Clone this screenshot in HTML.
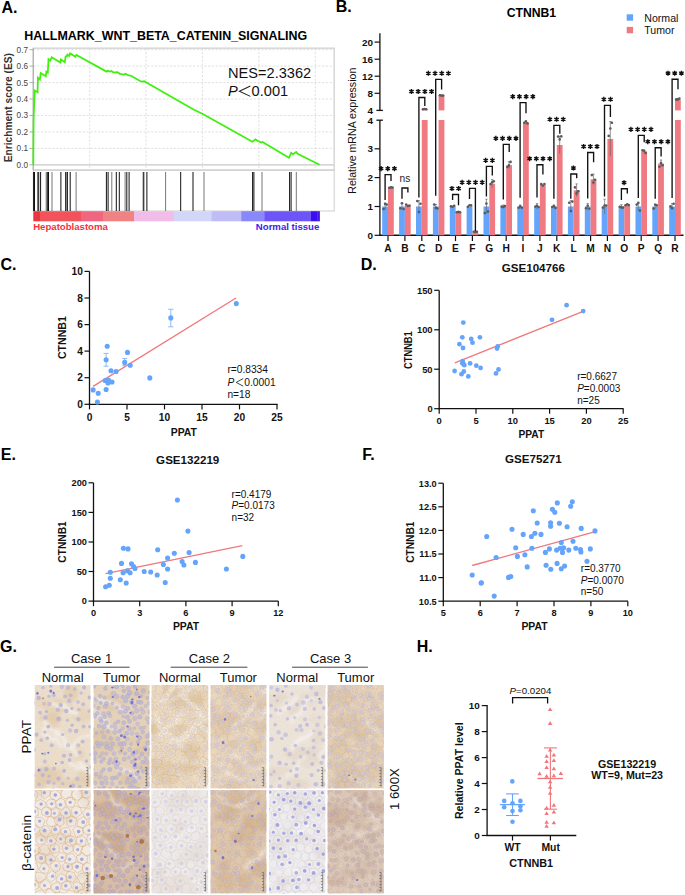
<!DOCTYPE html>
<html><head><meta charset="utf-8"><style>
html,body{margin:0;padding:0;background:#fff;}
body{width:685px;height:895px;overflow:hidden;}
svg{display:block;font-family:"Liberation Sans", sans-serif;}
</style></head><body>
<svg width="685" height="895" viewBox="0 0 685 895">
<rect width="685" height="895" fill="#fff"/>
<text x="1.4" y="12.7" font-size="16" font-weight="bold" text-anchor="start" fill="#000"  >A.</text>
<text x="335.7" y="12.3" font-size="16" font-weight="bold" text-anchor="start" fill="#000"  >B.</text>
<text x="0.5" y="269.6" font-size="16" font-weight="bold" text-anchor="start" fill="#000"  >C.</text>
<text x="360.7" y="269.9" font-size="16" font-weight="bold" text-anchor="start" fill="#000"  >D.</text>
<text x="0.8" y="459.9" font-size="16" font-weight="bold" text-anchor="start" fill="#000"  >E.</text>
<text x="362.3" y="459.9" font-size="16" font-weight="bold" text-anchor="start" fill="#000"  >F.</text>
<text x="0.0" y="651.9" font-size="16" font-weight="bold" text-anchor="start" fill="#000"  >G.</text>
<text x="416.7" y="652.0" font-size="16" font-weight="bold" text-anchor="start" fill="#000"  >H.</text>
<text x="24.3" y="40.2" font-size="12.45" font-weight="bold" text-anchor="start" fill="#000"  >HALLMARK_WNT_BETA_CATENIN_SIGNALING</text>
<line x1="33.3" y1="148.4" x2="334.2" y2="148.4" stroke="#d8d8d8" stroke-width="0.8" stroke-dasharray="2.2,1.6"/>
<line x1="33.3" y1="131.9" x2="334.2" y2="131.9" stroke="#d8d8d8" stroke-width="0.8" stroke-dasharray="2.2,1.6"/>
<line x1="33.3" y1="115.5" x2="334.2" y2="115.5" stroke="#d8d8d8" stroke-width="0.8" stroke-dasharray="2.2,1.6"/>
<line x1="33.3" y1="99.0" x2="334.2" y2="99.0" stroke="#d8d8d8" stroke-width="0.8" stroke-dasharray="2.2,1.6"/>
<line x1="33.3" y1="82.6" x2="334.2" y2="82.6" stroke="#d8d8d8" stroke-width="0.8" stroke-dasharray="2.2,1.6"/>
<line x1="33.3" y1="66.1" x2="334.2" y2="66.1" stroke="#d8d8d8" stroke-width="0.8" stroke-dasharray="2.2,1.6"/>
<line x1="33.3" y1="49.7" x2="334.2" y2="49.7" stroke="#d8d8d8" stroke-width="0.8" stroke-dasharray="2.2,1.6"/>
<line x1="89.7" y1="48.2" x2="89.7" y2="170.1" stroke="#d8d8d8" stroke-width="0.8" stroke-dasharray="2.2,1.6"/>
<line x1="146.1" y1="48.2" x2="146.1" y2="170.1" stroke="#d8d8d8" stroke-width="0.8" stroke-dasharray="2.2,1.6"/>
<line x1="202.5" y1="48.2" x2="202.5" y2="170.1" stroke="#d8d8d8" stroke-width="0.8" stroke-dasharray="2.2,1.6"/>
<line x1="258.9" y1="48.2" x2="258.9" y2="170.1" stroke="#d8d8d8" stroke-width="0.8" stroke-dasharray="2.2,1.6"/>
<line x1="315.3" y1="48.2" x2="315.3" y2="170.1" stroke="#d8d8d8" stroke-width="0.8" stroke-dasharray="2.2,1.6"/>
<line x1="33.3" y1="164.8" x2="334.2" y2="164.8" stroke="#c8c8c8" stroke-width="1.2" />
<rect x="33.3" y="48.2" width="300.9" height="121.9" fill="none" stroke="#d4d4d4" stroke-width="1.4"/>
<line x1="33.3" y1="48.2" x2="33.3" y2="170.1" stroke="#b0b0b0" stroke-width="1.2" />
<line x1="29.5" y1="164.8" x2="33.3" y2="164.8" stroke="#999" stroke-width="0.8" />
<text x="28.0" y="167.7" font-size="8.2" font-weight="normal" text-anchor="end" fill="#444"  >0.0</text>
<line x1="29.5" y1="148.4" x2="33.3" y2="148.4" stroke="#999" stroke-width="0.8" />
<text x="28.0" y="151.3" font-size="8.2" font-weight="normal" text-anchor="end" fill="#444"  >0.1</text>
<line x1="29.5" y1="131.9" x2="33.3" y2="131.9" stroke="#999" stroke-width="0.8" />
<text x="28.0" y="134.8" font-size="8.2" font-weight="normal" text-anchor="end" fill="#444"  >0.2</text>
<line x1="29.5" y1="115.5" x2="33.3" y2="115.5" stroke="#999" stroke-width="0.8" />
<text x="28.0" y="118.4" font-size="8.2" font-weight="normal" text-anchor="end" fill="#444"  >0.3</text>
<line x1="29.5" y1="99.0" x2="33.3" y2="99.0" stroke="#999" stroke-width="0.8" />
<text x="28.0" y="101.9" font-size="8.2" font-weight="normal" text-anchor="end" fill="#444"  >0.4</text>
<line x1="29.5" y1="82.6" x2="33.3" y2="82.6" stroke="#999" stroke-width="0.8" />
<text x="28.0" y="85.5" font-size="8.2" font-weight="normal" text-anchor="end" fill="#444"  >0.5</text>
<line x1="29.5" y1="66.1" x2="33.3" y2="66.1" stroke="#999" stroke-width="0.8" />
<text x="28.0" y="69.0" font-size="8.2" font-weight="normal" text-anchor="end" fill="#444"  >0.6</text>
<line x1="29.5" y1="49.7" x2="33.3" y2="49.7" stroke="#999" stroke-width="0.8" />
<text x="28.0" y="52.6" font-size="8.2" font-weight="normal" text-anchor="end" fill="#444"  >0.7</text>
<text transform="translate(11.7,107.7) rotate(-90)" font-size="10.2" font-weight="bold" text-anchor="middle" fill="#333">Enrichment score (ES)</text>
<polyline fill="none" stroke="#3ef00c" stroke-width="1.75" stroke-linejoin="miter" points="33.3,164.8 33.6,120.0 34.0,108.0 34.4,99.9 34.7,90.5 37.6,92.3 37.9,77.7 39.9,79.5 40.7,73.0 45.8,76.3 46.4,71.6 47.8,72.8 48.5,59.2 50.1,60.8 51.7,57.3 60.4,62.5 60.9,59.6 64.8,62.3 65.6,56.4 66.8,56.2 67.4,54.6 69.1,56.1 70.1,53.4 75.5,56.7 76.4,54.9 106.5,71.6 107.5,70.8 110.0,71.6 111.5,71.0 113.0,72.2 116.0,72.6 117.0,72.0 120.0,73.8 124.0,74.6 125.5,73.8 128.0,75.2 131.5,76.0 140.0,81.0 142.7,81.7 144.2,81.3 146.4,82.6 192.6,109.0 202.8,114.0 252.4,141.8 255.3,139.4 258.0,141.0 261.2,142.6 262.5,142.0 289.0,157.8 291.2,152.8 293.0,154.2 296.2,152.0 297.6,153.8 319.6,164.8"/>
<rect x="33.3" y="170.1" width="300.9" height="40.900000000000006" fill="none" stroke="#cfcfcf" stroke-width="1"/>
<line x1="33.6" y1="172.0" x2="33.6" y2="211.0" stroke="#111" stroke-width="1.0" />
<line x1="34.5" y1="172.0" x2="34.5" y2="211.0" stroke="#111" stroke-width="1.0" />
<line x1="37.5" y1="172.0" x2="37.5" y2="211.0" stroke="#777" stroke-width="1.0" />
<line x1="38.7" y1="172.0" x2="38.7" y2="211.0" stroke="#111" stroke-width="1.0" />
<line x1="40.6" y1="172.0" x2="40.6" y2="211.0" stroke="#111" stroke-width="1.0" />
<line x1="46.2" y1="172.0" x2="46.2" y2="211.0" stroke="#777" stroke-width="1.0" />
<line x1="47.3" y1="172.0" x2="47.3" y2="211.0" stroke="#111" stroke-width="1.0" />
<line x1="48.5" y1="172.0" x2="48.5" y2="211.0" stroke="#111" stroke-width="1.0" />
<line x1="52.0" y1="172.0" x2="52.0" y2="211.0" stroke="#777" stroke-width="1.0" />
<line x1="60.9" y1="172.0" x2="60.9" y2="211.0" stroke="#111" stroke-width="1.0" />
<line x1="65.6" y1="172.0" x2="65.6" y2="211.0" stroke="#111" stroke-width="1.0" />
<line x1="66.3" y1="172.0" x2="66.3" y2="211.0" stroke="#777" stroke-width="1.0" />
<line x1="67.4" y1="172.0" x2="67.4" y2="211.0" stroke="#111" stroke-width="1.0" />
<line x1="70.2" y1="172.0" x2="70.2" y2="211.0" stroke="#111" stroke-width="1.0" />
<line x1="76.1" y1="172.0" x2="76.1" y2="211.0" stroke="#777" stroke-width="1.0" />
<line x1="106.4" y1="172.0" x2="106.4" y2="211.0" stroke="#111" stroke-width="1.0" />
<line x1="108.1" y1="172.0" x2="108.1" y2="211.0" stroke="#111" stroke-width="1.0" />
<line x1="111.8" y1="172.0" x2="111.8" y2="211.0" stroke="#777" stroke-width="1.0" />
<line x1="116.3" y1="172.0" x2="116.3" y2="211.0" stroke="#111" stroke-width="1.0" />
<line x1="119.3" y1="172.0" x2="119.3" y2="211.0" stroke="#111" stroke-width="1.0" />
<line x1="125.1" y1="172.0" x2="125.1" y2="211.0" stroke="#777" stroke-width="1.0" />
<line x1="126.8" y1="172.0" x2="126.8" y2="211.0" stroke="#111" stroke-width="1.0" />
<line x1="129.1" y1="172.0" x2="129.1" y2="211.0" stroke="#111" stroke-width="1.0" />
<line x1="143.1" y1="172.0" x2="143.1" y2="211.0" stroke="#777" stroke-width="1.0" />
<line x1="143.8" y1="172.0" x2="143.8" y2="211.0" stroke="#111" stroke-width="1.0" />
<line x1="146.9" y1="172.0" x2="146.9" y2="211.0" stroke="#111" stroke-width="1.0" />
<line x1="165.6" y1="172.0" x2="165.6" y2="211.0" stroke="#777" stroke-width="1.0" />
<line x1="180.7" y1="172.0" x2="180.7" y2="211.0" stroke="#111" stroke-width="1.0" />
<line x1="193.0" y1="172.0" x2="193.0" y2="211.0" stroke="#111" stroke-width="1.0" />
<line x1="204.0" y1="172.0" x2="204.0" y2="211.0" stroke="#777" stroke-width="1.0" />
<line x1="252.6" y1="172.0" x2="252.6" y2="211.0" stroke="#111" stroke-width="1.0" />
<line x1="253.9" y1="172.0" x2="253.9" y2="211.0" stroke="#111" stroke-width="1.0" />
<line x1="262.0" y1="172.0" x2="262.0" y2="211.0" stroke="#777" stroke-width="1.0" />
<line x1="289.6" y1="172.0" x2="289.6" y2="211.0" stroke="#111" stroke-width="1.0" />
<line x1="291.1" y1="172.0" x2="291.1" y2="211.0" stroke="#111" stroke-width="1.0" />
<line x1="296.3" y1="172.0" x2="296.3" y2="211.0" stroke="#777" stroke-width="1.0" />
<rect x="33.3" y="211.2" width="7.0" height="10.1" fill="#e9363f" />
<rect x="40.0" y="211.2" width="41.2" height="10.1" fill="#f2525a" />
<rect x="80.9" y="211.2" width="22.4" height="10.1" fill="#f0667f" />
<rect x="103.0" y="211.2" width="31.3" height="10.1" fill="#f08284" />
<rect x="134.0" y="211.2" width="40.0" height="10.1" fill="#f2bce8" />
<rect x="173.7" y="211.2" width="38.3" height="10.1" fill="#d2d6f9" />
<rect x="211.7" y="211.2" width="29.8" height="10.1" fill="#c0bcf7" />
<rect x="241.2" y="211.2" width="23.4" height="10.1" fill="#8888fa" />
<rect x="264.3" y="211.2" width="47.0" height="10.1" fill="#6c54f8" />
<rect x="311.0" y="211.2" width="6.8" height="10.1" fill="#3a0ef2" />
<rect x="317.5" y="211.2" width="2.4" height="10.1" fill="#4a1ae0" />
<text x="33.2" y="229.6" font-size="9.6" font-weight="bold" text-anchor="start" fill="#f5323c"  >Hepatoblastoma</text>
<text x="319.3" y="229.6" font-size="9.6" font-weight="bold" text-anchor="end" fill="#3c22ee"  >Normal tissue</text>
<text x="228.0" y="78.3" font-size="14.6" font-weight="normal" text-anchor="start" fill="#111"  >NES=2.3362</text>
<text x="228.0" y="96.2" font-size="14.6" fill="#111" font-style="italic">P</text>
<polyline fill="none" stroke="#222" stroke-width="1.05" points="250.4,86.0 239.4,91.2 250.4,96.4"/>
<text x="251.6" y="96.2" font-size="14.6" fill="#111">0.001</text>
<text x="531.4" y="16.8" font-size="12.2" font-weight="bold" text-anchor="middle" fill="#000"  >CTNNB1</text>
<rect x="626.7" y="14.3" width="6.4" height="6.4" fill="#64a4fb" />
<rect x="626.7" y="26.9" width="6.4" height="6.4" fill="#f07a82" />
<text x="644.3" y="21.5" font-size="10.6" font-weight="normal" text-anchor="start" fill="#111"  >Normal</text>
<text x="644.3" y="34.2" font-size="10.6" font-weight="normal" text-anchor="start" fill="#111"  >Tumor</text>
<line x1="379.9" y1="33.2" x2="379.9" y2="110.5" stroke="#111" stroke-width="1.3" />
<line x1="379.9" y1="120.2" x2="379.9" y2="235.9" stroke="#111" stroke-width="1.3" />
<line x1="376.4" y1="110.4" x2="382.9" y2="110.4" stroke="#111" stroke-width="1.3" />
<line x1="376.4" y1="120.2" x2="382.9" y2="120.2" stroke="#111" stroke-width="1.3" />
<line x1="374.6" y1="42.1" x2="379.9" y2="42.1" stroke="#111" stroke-width="1.2" />
<line x1="374.6" y1="59.2" x2="379.9" y2="59.2" stroke="#111" stroke-width="1.2" />
<line x1="374.6" y1="76.2" x2="379.9" y2="76.2" stroke="#111" stroke-width="1.2" />
<line x1="374.6" y1="93.3" x2="379.9" y2="93.3" stroke="#111" stroke-width="1.2" />
<line x1="374.6" y1="148.8" x2="379.9" y2="148.8" stroke="#111" stroke-width="1.2" />
<line x1="374.6" y1="177.6" x2="379.9" y2="177.6" stroke="#111" stroke-width="1.2" />
<line x1="374.6" y1="206.5" x2="379.9" y2="206.5" stroke="#111" stroke-width="1.2" />
<line x1="374.6" y1="235.3" x2="379.9" y2="235.3" stroke="#111" stroke-width="1.2" />
<text x="373.0" y="45.6" font-size="9.9" font-weight="bold" text-anchor="end" fill="#111"  >20</text>
<text x="373.0" y="62.7" font-size="9.9" font-weight="bold" text-anchor="end" fill="#111"  >16</text>
<text x="373.0" y="79.7" font-size="9.9" font-weight="bold" text-anchor="end" fill="#111"  >12</text>
<text x="373.0" y="96.8" font-size="9.9" font-weight="bold" text-anchor="end" fill="#111"  >8</text>
<text x="373.0" y="113.9" font-size="9.9" font-weight="bold" text-anchor="end" fill="#111"  >4</text>
<text x="373.0" y="123.7" font-size="9.9" font-weight="bold" text-anchor="end" fill="#111"  >4</text>
<text x="373.0" y="152.2" font-size="9.9" font-weight="bold" text-anchor="end" fill="#111"  >3</text>
<text x="373.0" y="181.1" font-size="9.9" font-weight="bold" text-anchor="end" fill="#111"  >2</text>
<text x="373.0" y="210.0" font-size="9.9" font-weight="bold" text-anchor="end" fill="#111"  >1</text>
<text x="373.0" y="238.8" font-size="9.9" font-weight="bold" text-anchor="end" fill="#111"  >0</text>
<text transform="translate(355.6,130.7) rotate(-90)" font-size="10.6" text-anchor="middle" fill="#111">Relative mRNA expression</text>
<line x1="379.9" y1="235.3" x2="683.5" y2="235.3" stroke="#111" stroke-width="1.4" />
<line x1="388.0" y1="235.3" x2="388.0" y2="241.0" stroke="#111" stroke-width="1.2" />
<text x="388.0" y="252.0" font-size="10.2" font-weight="bold" text-anchor="middle" fill="#111"  >A</text>
<rect x="382.2" y="206.5" width="5.8" height="28.8" fill="#64a4fb" />
<rect x="388.0" y="187.4" width="5.8" height="47.9" fill="#f07a82" />
<line x1="385.1" y1="203.0" x2="385.1" y2="209.9" stroke="#666" stroke-width="0.7" />
<line x1="383.9" y1="203.0" x2="386.3" y2="203.0" stroke="#666" stroke-width="0.7" />
<circle cx="383.5" cy="209.0" r="1.3" fill="#5a5a5a" />
<circle cx="385.1" cy="204.0" r="1.3" fill="#5a5a5a" />
<circle cx="386.7" cy="204.6" r="1.3" fill="#5a5a5a" />
<circle cx="389.3" cy="187.8" r="1.3" fill="#5a5a5a" />
<circle cx="390.9" cy="187.4" r="1.3" fill="#5a5a5a" />
<circle cx="392.5" cy="187.5" r="1.3" fill="#5a5a5a" />
<line x1="404.9" y1="235.3" x2="404.9" y2="241.0" stroke="#111" stroke-width="1.2" />
<text x="404.9" y="252.0" font-size="10.2" font-weight="bold" text-anchor="middle" fill="#111"  >B</text>
<rect x="399.1" y="206.5" width="5.8" height="28.8" fill="#64a4fb" />
<rect x="404.9" y="205.0" width="5.8" height="30.3" fill="#f07a82" />
<line x1="402.0" y1="203.0" x2="402.0" y2="209.9" stroke="#666" stroke-width="0.7" />
<line x1="400.8" y1="203.0" x2="403.2" y2="203.0" stroke="#666" stroke-width="0.7" />
<circle cx="400.4" cy="208.3" r="1.3" fill="#5a5a5a" />
<circle cx="402.0" cy="203.2" r="1.3" fill="#5a5a5a" />
<circle cx="403.6" cy="209.0" r="1.3" fill="#5a5a5a" />
<circle cx="406.2" cy="204.5" r="1.3" fill="#5a5a5a" />
<circle cx="407.8" cy="206.0" r="1.3" fill="#5a5a5a" />
<circle cx="409.4" cy="205.6" r="1.3" fill="#5a5a5a" />
<line x1="421.8" y1="235.3" x2="421.8" y2="241.0" stroke="#111" stroke-width="1.2" />
<text x="421.8" y="252.0" font-size="10.2" font-weight="bold" text-anchor="middle" fill="#111"  >C</text>
<rect x="416.0" y="206.5" width="5.8" height="28.8" fill="#64a4fb" />
<rect x="421.8" y="120.0" width="5.8" height="115.3" fill="#f07a82" />
<rect x="421.8" y="109.1" width="5.8" height="1.3" fill="#f07a82" />
<line x1="418.9" y1="200.7" x2="418.9" y2="212.2" stroke="#666" stroke-width="0.7" />
<line x1="417.7" y1="200.7" x2="420.1" y2="200.7" stroke="#666" stroke-width="0.7" />
<circle cx="417.3" cy="201.1" r="1.3" fill="#5a5a5a" />
<circle cx="418.9" cy="212.1" r="1.3" fill="#5a5a5a" />
<circle cx="420.5" cy="203.7" r="1.3" fill="#5a5a5a" />
<circle cx="423.0" cy="109.2" r="1.3" fill="#5a5a5a" />
<circle cx="424.6" cy="109.0" r="1.3" fill="#5a5a5a" />
<circle cx="426.2" cy="109.2" r="1.3" fill="#5a5a5a" />
<line x1="438.6" y1="235.3" x2="438.6" y2="241.0" stroke="#111" stroke-width="1.2" />
<text x="438.6" y="252.0" font-size="10.2" font-weight="bold" text-anchor="middle" fill="#111"  >D</text>
<rect x="432.9" y="206.5" width="5.8" height="28.8" fill="#64a4fb" />
<rect x="438.6" y="120.0" width="5.8" height="115.3" fill="#f07a82" />
<rect x="438.6" y="95.5" width="5.8" height="14.9" fill="#f07a82" />
<line x1="435.8" y1="204.4" x2="435.8" y2="208.5" stroke="#666" stroke-width="0.7" />
<line x1="434.6" y1="204.4" x2="437.0" y2="204.4" stroke="#666" stroke-width="0.7" />
<line x1="441.5" y1="95.2" x2="441.5" y2="95.7" stroke="#666" stroke-width="0.7" />
<line x1="440.3" y1="95.2" x2="442.7" y2="95.2" stroke="#666" stroke-width="0.7" />
<circle cx="434.2" cy="204.6" r="1.3" fill="#5a5a5a" />
<circle cx="435.8" cy="207.9" r="1.3" fill="#5a5a5a" />
<circle cx="437.4" cy="208.4" r="1.3" fill="#5a5a5a" />
<circle cx="439.9" cy="95.2" r="1.3" fill="#5a5a5a" />
<circle cx="441.5" cy="95.6" r="1.3" fill="#5a5a5a" />
<circle cx="443.1" cy="95.6" r="1.3" fill="#5a5a5a" />
<line x1="455.5" y1="235.3" x2="455.5" y2="241.0" stroke="#111" stroke-width="1.2" />
<text x="455.5" y="252.0" font-size="10.2" font-weight="bold" text-anchor="middle" fill="#111"  >E</text>
<rect x="449.8" y="206.5" width="5.8" height="28.8" fill="#64a4fb" />
<rect x="455.5" y="211.9" width="5.8" height="23.4" fill="#f07a82" />
<circle cx="451.0" cy="206.3" r="1.3" fill="#5a5a5a" />
<circle cx="452.6" cy="206.8" r="1.3" fill="#5a5a5a" />
<circle cx="454.2" cy="205.7" r="1.3" fill="#5a5a5a" />
<circle cx="456.8" cy="212.3" r="1.3" fill="#5a5a5a" />
<circle cx="458.4" cy="211.9" r="1.3" fill="#5a5a5a" />
<circle cx="460.0" cy="212.2" r="1.3" fill="#5a5a5a" />
<line x1="472.4" y1="235.3" x2="472.4" y2="241.0" stroke="#111" stroke-width="1.2" />
<text x="472.4" y="252.0" font-size="10.2" font-weight="bold" text-anchor="middle" fill="#111"  >F</text>
<rect x="466.6" y="206.5" width="5.8" height="28.8" fill="#64a4fb" />
<rect x="472.4" y="232.4" width="5.8" height="2.9" fill="#f07a82" />
<circle cx="467.9" cy="206.8" r="1.3" fill="#5a5a5a" />
<circle cx="469.5" cy="205.3" r="1.3" fill="#5a5a5a" />
<circle cx="471.1" cy="205.4" r="1.3" fill="#5a5a5a" />
<circle cx="473.7" cy="231.7" r="1.3" fill="#5a5a5a" />
<circle cx="475.3" cy="231.9" r="1.3" fill="#5a5a5a" />
<circle cx="476.9" cy="231.8" r="1.3" fill="#5a5a5a" />
<line x1="489.3" y1="235.3" x2="489.3" y2="241.0" stroke="#111" stroke-width="1.2" />
<text x="489.3" y="252.0" font-size="10.2" font-weight="bold" text-anchor="middle" fill="#111"  >G</text>
<rect x="483.5" y="206.5" width="5.8" height="28.8" fill="#64a4fb" />
<rect x="489.3" y="183.7" width="5.8" height="51.6" fill="#f07a82" />
<line x1="486.4" y1="199.2" x2="486.4" y2="213.7" stroke="#666" stroke-width="0.7" />
<line x1="485.2" y1="199.2" x2="487.6" y2="199.2" stroke="#666" stroke-width="0.7" />
<line x1="492.2" y1="179.6" x2="492.2" y2="187.7" stroke="#666" stroke-width="0.7" />
<line x1="491.0" y1="179.6" x2="493.4" y2="179.6" stroke="#666" stroke-width="0.7" />
<circle cx="484.8" cy="213.1" r="1.3" fill="#5a5a5a" />
<circle cx="486.4" cy="203.6" r="1.3" fill="#5a5a5a" />
<circle cx="488.0" cy="211.6" r="1.3" fill="#5a5a5a" />
<circle cx="490.6" cy="184.0" r="1.3" fill="#5a5a5a" />
<circle cx="492.2" cy="182.3" r="1.3" fill="#5a5a5a" />
<circle cx="493.8" cy="181.3" r="1.3" fill="#5a5a5a" />
<line x1="506.2" y1="235.3" x2="506.2" y2="241.0" stroke="#111" stroke-width="1.2" />
<text x="506.2" y="252.0" font-size="10.2" font-weight="bold" text-anchor="middle" fill="#111"  >H</text>
<rect x="500.4" y="206.5" width="5.8" height="28.8" fill="#64a4fb" />
<rect x="506.2" y="165.2" width="5.8" height="70.1" fill="#f07a82" />
<line x1="503.3" y1="205.0" x2="503.3" y2="207.9" stroke="#666" stroke-width="0.7" />
<line x1="502.1" y1="205.0" x2="504.5" y2="205.0" stroke="#666" stroke-width="0.7" />
<line x1="509.0" y1="161.7" x2="509.0" y2="168.7" stroke="#666" stroke-width="0.7" />
<line x1="507.8" y1="161.7" x2="510.2" y2="161.7" stroke="#666" stroke-width="0.7" />
<circle cx="501.7" cy="206.5" r="1.3" fill="#5a5a5a" />
<circle cx="503.3" cy="207.1" r="1.3" fill="#5a5a5a" />
<circle cx="504.9" cy="206.1" r="1.3" fill="#5a5a5a" />
<circle cx="507.4" cy="167.0" r="1.3" fill="#5a5a5a" />
<circle cx="509.0" cy="165.4" r="1.3" fill="#5a5a5a" />
<circle cx="510.6" cy="161.9" r="1.3" fill="#5a5a5a" />
<line x1="523.0" y1="235.3" x2="523.0" y2="241.0" stroke="#111" stroke-width="1.2" />
<text x="523.0" y="252.0" font-size="10.2" font-weight="bold" text-anchor="middle" fill="#111"  >I</text>
<rect x="517.3" y="206.5" width="5.8" height="28.8" fill="#64a4fb" />
<rect x="523.0" y="122.8" width="5.8" height="112.5" fill="#f07a82" />
<line x1="520.2" y1="205.0" x2="520.2" y2="207.9" stroke="#666" stroke-width="0.7" />
<line x1="519.0" y1="205.0" x2="521.4" y2="205.0" stroke="#666" stroke-width="0.7" />
<line x1="525.9" y1="121.3" x2="525.9" y2="124.2" stroke="#666" stroke-width="0.7" />
<line x1="524.7" y1="121.3" x2="527.1" y2="121.3" stroke="#666" stroke-width="0.7" />
<circle cx="518.6" cy="207.8" r="1.3" fill="#5a5a5a" />
<circle cx="520.2" cy="206.2" r="1.3" fill="#5a5a5a" />
<circle cx="521.8" cy="207.8" r="1.3" fill="#5a5a5a" />
<circle cx="524.3" cy="122.7" r="1.3" fill="#5a5a5a" />
<circle cx="525.9" cy="121.4" r="1.3" fill="#5a5a5a" />
<circle cx="527.5" cy="123.4" r="1.3" fill="#5a5a5a" />
<line x1="539.9" y1="235.3" x2="539.9" y2="241.0" stroke="#111" stroke-width="1.2" />
<text x="539.9" y="252.0" font-size="10.2" font-weight="bold" text-anchor="middle" fill="#111"  >J</text>
<rect x="534.2" y="206.5" width="5.8" height="28.8" fill="#64a4fb" />
<rect x="539.9" y="184.8" width="5.8" height="50.5" fill="#f07a82" />
<line x1="537.0" y1="203.6" x2="537.0" y2="209.3" stroke="#666" stroke-width="0.7" />
<line x1="535.8" y1="203.6" x2="538.2" y2="203.6" stroke="#666" stroke-width="0.7" />
<circle cx="535.4" cy="206.6" r="1.3" fill="#5a5a5a" />
<circle cx="537.0" cy="205.7" r="1.3" fill="#5a5a5a" />
<circle cx="538.6" cy="207.0" r="1.3" fill="#5a5a5a" />
<circle cx="541.2" cy="184.1" r="1.3" fill="#5a5a5a" />
<circle cx="542.8" cy="185.6" r="1.3" fill="#5a5a5a" />
<circle cx="544.4" cy="184.0" r="1.3" fill="#5a5a5a" />
<line x1="556.8" y1="235.3" x2="556.8" y2="241.0" stroke="#111" stroke-width="1.2" />
<text x="556.8" y="252.0" font-size="10.2" font-weight="bold" text-anchor="middle" fill="#111"  >K</text>
<rect x="551.0" y="206.5" width="5.8" height="28.8" fill="#64a4fb" />
<rect x="556.8" y="145.0" width="5.8" height="90.3" fill="#f07a82" />
<line x1="553.9" y1="205.0" x2="553.9" y2="207.9" stroke="#666" stroke-width="0.7" />
<line x1="552.7" y1="205.0" x2="555.1" y2="205.0" stroke="#666" stroke-width="0.7" />
<line x1="559.7" y1="136.3" x2="559.7" y2="153.7" stroke="#666" stroke-width="0.7" />
<line x1="558.5" y1="136.3" x2="560.9" y2="136.3" stroke="#666" stroke-width="0.7" />
<circle cx="552.3" cy="207.0" r="1.3" fill="#5a5a5a" />
<circle cx="553.9" cy="206.1" r="1.3" fill="#5a5a5a" />
<circle cx="555.5" cy="207.9" r="1.3" fill="#5a5a5a" />
<circle cx="558.1" cy="136.6" r="1.3" fill="#5a5a5a" />
<circle cx="559.7" cy="139.4" r="1.3" fill="#5a5a5a" />
<circle cx="561.3" cy="136.4" r="1.3" fill="#5a5a5a" />
<line x1="573.7" y1="235.3" x2="573.7" y2="241.0" stroke="#111" stroke-width="1.2" />
<text x="573.7" y="252.0" font-size="10.2" font-weight="bold" text-anchor="middle" fill="#111"  >L</text>
<rect x="567.9" y="206.5" width="5.8" height="28.8" fill="#64a4fb" />
<rect x="573.7" y="190.3" width="5.8" height="45.0" fill="#f07a82" />
<line x1="570.8" y1="200.7" x2="570.8" y2="212.2" stroke="#666" stroke-width="0.7" />
<line x1="569.6" y1="200.7" x2="572.0" y2="200.7" stroke="#666" stroke-width="0.7" />
<line x1="576.6" y1="183.9" x2="576.6" y2="196.6" stroke="#666" stroke-width="0.7" />
<line x1="575.4" y1="183.9" x2="577.8" y2="183.9" stroke="#666" stroke-width="0.7" />
<circle cx="569.2" cy="202.8" r="1.3" fill="#5a5a5a" />
<circle cx="570.8" cy="211.1" r="1.3" fill="#5a5a5a" />
<circle cx="572.4" cy="201.6" r="1.3" fill="#5a5a5a" />
<circle cx="575.0" cy="187.4" r="1.3" fill="#5a5a5a" />
<circle cx="576.6" cy="193.4" r="1.3" fill="#5a5a5a" />
<circle cx="578.2" cy="191.2" r="1.3" fill="#5a5a5a" />
<line x1="590.6" y1="235.3" x2="590.6" y2="241.0" stroke="#111" stroke-width="1.2" />
<text x="590.6" y="252.0" font-size="10.2" font-weight="bold" text-anchor="middle" fill="#111"  >M</text>
<rect x="584.8" y="206.5" width="5.8" height="28.8" fill="#64a4fb" />
<rect x="590.6" y="179.3" width="5.8" height="56.0" fill="#f07a82" />
<line x1="587.7" y1="203.6" x2="587.7" y2="209.3" stroke="#666" stroke-width="0.7" />
<line x1="586.5" y1="203.6" x2="588.9" y2="203.6" stroke="#666" stroke-width="0.7" />
<line x1="593.4" y1="174.1" x2="593.4" y2="184.5" stroke="#666" stroke-width="0.7" />
<line x1="592.2" y1="174.1" x2="594.6" y2="174.1" stroke="#666" stroke-width="0.7" />
<circle cx="586.1" cy="208.2" r="1.3" fill="#5a5a5a" />
<circle cx="587.7" cy="205.8" r="1.3" fill="#5a5a5a" />
<circle cx="589.3" cy="208.7" r="1.3" fill="#5a5a5a" />
<circle cx="591.8" cy="175.1" r="1.3" fill="#5a5a5a" />
<circle cx="593.4" cy="182.5" r="1.3" fill="#5a5a5a" />
<circle cx="595.0" cy="179.7" r="1.3" fill="#5a5a5a" />
<line x1="607.4" y1="235.3" x2="607.4" y2="241.0" stroke="#111" stroke-width="1.2" />
<text x="607.4" y="252.0" font-size="10.2" font-weight="bold" text-anchor="middle" fill="#111"  >N</text>
<rect x="601.7" y="206.5" width="5.8" height="28.8" fill="#64a4fb" />
<rect x="607.4" y="138.9" width="5.8" height="96.4" fill="#f07a82" />
<line x1="604.6" y1="199.2" x2="604.6" y2="213.7" stroke="#666" stroke-width="0.7" />
<line x1="603.4" y1="199.2" x2="605.8" y2="199.2" stroke="#666" stroke-width="0.7" />
<line x1="610.3" y1="121.6" x2="610.3" y2="156.3" stroke="#666" stroke-width="0.7" />
<line x1="609.1" y1="121.6" x2="611.5" y2="121.6" stroke="#666" stroke-width="0.7" />
<circle cx="603.0" cy="207.6" r="1.3" fill="#5a5a5a" />
<circle cx="604.6" cy="205.5" r="1.3" fill="#5a5a5a" />
<circle cx="606.2" cy="205.6" r="1.3" fill="#5a5a5a" />
<circle cx="608.7" cy="135.9" r="1.3" fill="#5a5a5a" />
<circle cx="610.3" cy="128.5" r="1.3" fill="#5a5a5a" />
<circle cx="611.9" cy="122.8" r="1.3" fill="#5a5a5a" />
<line x1="624.3" y1="235.3" x2="624.3" y2="241.0" stroke="#111" stroke-width="1.2" />
<text x="624.3" y="252.0" font-size="10.2" font-weight="bold" text-anchor="middle" fill="#111"  >O</text>
<rect x="618.6" y="206.5" width="5.8" height="28.8" fill="#64a4fb" />
<rect x="624.3" y="204.7" width="5.8" height="30.6" fill="#f07a82" />
<line x1="621.4" y1="204.7" x2="621.4" y2="208.2" stroke="#666" stroke-width="0.7" />
<line x1="620.2" y1="204.7" x2="622.6" y2="204.7" stroke="#666" stroke-width="0.7" />
<circle cx="619.8" cy="206.8" r="1.3" fill="#5a5a5a" />
<circle cx="621.4" cy="207.5" r="1.3" fill="#5a5a5a" />
<circle cx="623.0" cy="207.6" r="1.3" fill="#5a5a5a" />
<circle cx="625.6" cy="205.2" r="1.3" fill="#5a5a5a" />
<circle cx="627.2" cy="204.3" r="1.3" fill="#5a5a5a" />
<circle cx="628.8" cy="205.1" r="1.3" fill="#5a5a5a" />
<line x1="641.2" y1="235.3" x2="641.2" y2="241.0" stroke="#111" stroke-width="1.2" />
<text x="641.2" y="252.0" font-size="10.2" font-weight="bold" text-anchor="middle" fill="#111"  >P</text>
<rect x="635.5" y="206.5" width="5.8" height="28.8" fill="#64a4fb" />
<rect x="641.2" y="151.6" width="5.8" height="83.7" fill="#f07a82" />
<line x1="638.3" y1="202.1" x2="638.3" y2="210.8" stroke="#666" stroke-width="0.7" />
<line x1="637.1" y1="202.1" x2="639.5" y2="202.1" stroke="#666" stroke-width="0.7" />
<line x1="644.1" y1="150.2" x2="644.1" y2="153.1" stroke="#666" stroke-width="0.7" />
<line x1="642.9" y1="150.2" x2="645.3" y2="150.2" stroke="#666" stroke-width="0.7" />
<circle cx="636.7" cy="204.6" r="1.3" fill="#5a5a5a" />
<circle cx="638.3" cy="203.0" r="1.3" fill="#5a5a5a" />
<circle cx="639.9" cy="210.6" r="1.3" fill="#5a5a5a" />
<circle cx="642.5" cy="150.4" r="1.3" fill="#5a5a5a" />
<circle cx="644.1" cy="150.7" r="1.3" fill="#5a5a5a" />
<circle cx="645.7" cy="152.9" r="1.3" fill="#5a5a5a" />
<line x1="658.1" y1="235.3" x2="658.1" y2="241.0" stroke="#111" stroke-width="1.2" />
<text x="658.1" y="252.0" font-size="10.2" font-weight="bold" text-anchor="middle" fill="#111"  >Q</text>
<rect x="652.3" y="206.5" width="5.8" height="28.8" fill="#64a4fb" />
<rect x="658.1" y="163.5" width="5.8" height="71.8" fill="#f07a82" />
<line x1="655.2" y1="204.1" x2="655.2" y2="208.8" stroke="#666" stroke-width="0.7" />
<line x1="654.0" y1="204.1" x2="656.4" y2="204.1" stroke="#666" stroke-width="0.7" />
<line x1="661.0" y1="160.0" x2="661.0" y2="166.9" stroke="#666" stroke-width="0.7" />
<line x1="659.8" y1="160.0" x2="662.2" y2="160.0" stroke="#666" stroke-width="0.7" />
<circle cx="653.6" cy="208.6" r="1.3" fill="#5a5a5a" />
<circle cx="655.2" cy="204.8" r="1.3" fill="#5a5a5a" />
<circle cx="656.8" cy="205.4" r="1.3" fill="#5a5a5a" />
<circle cx="659.4" cy="166.8" r="1.3" fill="#5a5a5a" />
<circle cx="661.0" cy="163.1" r="1.3" fill="#5a5a5a" />
<circle cx="662.6" cy="165.3" r="1.3" fill="#5a5a5a" />
<line x1="675.0" y1="235.3" x2="675.0" y2="241.0" stroke="#111" stroke-width="1.2" />
<text x="675.0" y="252.0" font-size="10.2" font-weight="bold" text-anchor="middle" fill="#111"  >R</text>
<rect x="669.2" y="206.5" width="5.8" height="28.8" fill="#64a4fb" />
<rect x="675.0" y="120.0" width="5.8" height="115.3" fill="#f07a82" />
<rect x="675.0" y="99.7" width="5.8" height="10.7" fill="#f07a82" />
<line x1="672.1" y1="203.6" x2="672.1" y2="209.3" stroke="#666" stroke-width="0.7" />
<line x1="670.9" y1="203.6" x2="673.3" y2="203.6" stroke="#666" stroke-width="0.7" />
<line x1="677.8" y1="98.4" x2="677.8" y2="101.0" stroke="#666" stroke-width="0.7" />
<line x1="676.6" y1="98.4" x2="679.0" y2="98.4" stroke="#666" stroke-width="0.7" />
<circle cx="670.5" cy="206.4" r="1.3" fill="#5a5a5a" />
<circle cx="672.1" cy="208.2" r="1.3" fill="#5a5a5a" />
<circle cx="673.7" cy="203.8" r="1.3" fill="#5a5a5a" />
<circle cx="676.2" cy="99.4" r="1.3" fill="#5a5a5a" />
<circle cx="677.8" cy="99.5" r="1.3" fill="#5a5a5a" />
<circle cx="679.4" cy="98.6" r="1.3" fill="#5a5a5a" />
<polyline fill="none" stroke="#111" stroke-width="1.35" points="385.1,199.9 385.1,174.6 391.0,174.6 391.0,180.9"/>
<path d="M381.05,166.05L381.05,171.15M378.84,167.32L383.26,169.88M378.84,169.88L383.26,167.32M387.75,166.05L387.75,171.15M385.54,167.32L389.96,169.88M385.54,169.88L389.96,167.32M394.45,166.05L394.45,171.15M392.24,167.32L396.66,169.88M392.24,169.88L396.66,167.32" stroke="#111" stroke-width="1.4" fill="none"/>
<polyline fill="none" stroke="#111" stroke-width="1.35" points="402.0,198.8 402.0,188.0 407.9,188.0 407.9,192.5"/>
<text x="404.9" y="181.9" font-size="10.2" font-weight="normal" text-anchor="middle" fill="#222"  >ns</text>
<polyline fill="none" stroke="#111" stroke-width="1.35" points="418.9,197.5 418.9,97.5 424.8,97.5 424.8,106.0"/>
<path d="M411.46,88.95L411.46,94.05M409.25,90.22L413.67,92.78M409.25,92.78L413.67,90.22M418.16,88.95L418.16,94.05M415.95,90.22L420.37,92.78M415.95,92.78L420.37,90.22M424.86,88.95L424.86,94.05M422.65,90.22L427.07,92.78M422.65,92.78L427.07,90.22M431.56,88.95L431.56,94.05M429.35,90.22L433.77,92.78M429.35,92.78L433.77,90.22" stroke="#111" stroke-width="1.4" fill="none"/>
<polyline fill="none" stroke="#111" stroke-width="1.35" points="435.7,195.7 435.7,79.3 441.6,79.3 441.6,89.5"/>
<path d="M428.34,70.75L428.34,75.85M426.13,72.02L430.55,74.58M426.13,74.58L430.55,72.02M435.04,70.75L435.04,75.85M432.83,72.02L437.25,74.58M432.83,74.58L437.25,72.02M441.74,70.75L441.74,75.85M439.53,72.02L443.95,74.58M439.53,74.58L443.95,72.02M448.44,70.75L448.44,75.85M446.23,72.02L450.65,74.58M446.23,74.58L450.65,72.02" stroke="#111" stroke-width="1.4" fill="none"/>
<polyline fill="none" stroke="#111" stroke-width="1.35" points="452.6,200.0 452.6,194.5 458.5,194.5 458.5,205.3"/>
<path d="M451.92,185.95L451.92,191.05M449.71,187.22L454.13,189.78M449.71,189.78L454.13,187.22M458.62,185.95L458.62,191.05M456.41,187.22L460.83,189.78M456.41,189.78L460.83,187.22" stroke="#111" stroke-width="1.4" fill="none"/>
<polyline fill="none" stroke="#111" stroke-width="1.35" points="469.5,199.0 469.5,188.4 475.4,188.4 475.4,231.0"/>
<path d="M462.10,179.85L462.10,184.95M459.89,181.12L464.31,183.68M459.89,183.68L464.31,181.12M468.80,179.85L468.80,184.95M466.59,181.12L471.01,183.68M466.59,183.68L471.01,181.12M475.50,179.85L475.50,184.95M473.29,181.12L477.71,183.68M473.29,183.68L477.71,181.12M482.20,179.85L482.20,184.95M479.99,181.12L484.41,183.68M479.99,183.68L484.41,181.12" stroke="#111" stroke-width="1.4" fill="none"/>
<polyline fill="none" stroke="#111" stroke-width="1.35" points="486.4,196.5 486.4,166.4 492.3,166.4 492.3,175.4"/>
<path d="M485.68,157.85L485.68,162.95M483.47,159.12L487.89,161.68M483.47,161.68L487.89,159.12M492.38,157.85L492.38,162.95M490.17,159.12L494.59,161.68M490.17,161.68L494.59,159.12" stroke="#111" stroke-width="1.4" fill="none"/>
<polyline fill="none" stroke="#111" stroke-width="1.35" points="503.3,199.5 503.3,144.4 509.2,144.4 509.2,152.1"/>
<path d="M495.86,135.85L495.86,140.95M493.65,137.12L498.07,139.68M493.65,139.68L498.07,137.12M502.56,135.85L502.56,140.95M500.35,137.12L504.77,139.68M500.35,139.68L504.77,137.12M509.26,135.85L509.26,140.95M507.05,137.12L511.47,139.68M507.05,139.68L511.47,137.12M515.96,135.85L515.96,140.95M513.75,137.12L518.17,139.68M513.75,139.68L518.17,137.12" stroke="#111" stroke-width="1.4" fill="none"/>
<polyline fill="none" stroke="#111" stroke-width="1.35" points="520.1,197.7 520.1,102.6 526.0,102.6 526.0,113.3"/>
<path d="M512.74,94.05L512.74,99.15M510.53,95.32L514.95,97.88M510.53,97.88L514.95,95.32M519.44,94.05L519.44,99.15M517.23,95.32L521.65,97.88M517.23,97.88L521.65,95.32M526.14,94.05L526.14,99.15M523.93,95.32L528.35,97.88M523.93,97.88L528.35,95.32M532.84,94.05L532.84,99.15M530.63,95.32L535.05,97.88M530.63,97.88L535.05,95.32" stroke="#111" stroke-width="1.4" fill="none"/>
<polyline fill="none" stroke="#111" stroke-width="1.35" points="537.0,197.6 537.0,164.7 542.9,164.7 542.9,174.5"/>
<path d="M529.62,156.15L529.62,161.25M527.41,157.42L531.83,159.97M527.41,159.97L531.83,157.42M536.32,156.15L536.32,161.25M534.11,157.42L538.53,159.97M534.11,159.97L538.53,157.42M543.02,156.15L543.02,161.25M540.81,157.42L545.23,159.97M540.81,159.97L545.23,157.42M549.72,156.15L549.72,161.25M547.51,157.42L551.93,159.97M547.51,159.97L551.93,157.42" stroke="#111" stroke-width="1.4" fill="none"/>
<polyline fill="none" stroke="#111" stroke-width="1.35" points="553.9,198.8 553.9,125.3 559.8,125.3 559.8,133.7"/>
<path d="M549.85,116.75L549.85,121.85M547.64,118.02L552.06,120.58M547.64,120.58L552.06,118.02M556.55,116.75L556.55,121.85M554.34,118.02L558.76,120.58M554.34,120.58L558.76,118.02M563.25,116.75L563.25,121.85M561.04,118.02L565.46,120.58M561.04,120.58L565.46,118.02" stroke="#111" stroke-width="1.4" fill="none"/>
<polyline fill="none" stroke="#111" stroke-width="1.35" points="570.8,198.8 570.8,174.0 576.7,174.0 576.7,178.3"/>
<path d="M573.43,165.45L573.43,170.55M571.22,166.72L575.64,169.28M571.22,169.28L575.64,166.72" stroke="#111" stroke-width="1.4" fill="none"/>
<polyline fill="none" stroke="#111" stroke-width="1.35" points="587.7,198.5 587.7,152.5 593.6,152.5 593.6,162.2"/>
<path d="M583.61,143.95L583.61,149.05M581.40,145.22L585.82,147.78M581.40,147.78L585.82,145.22M590.31,143.95L590.31,149.05M588.10,145.22L592.52,147.78M588.10,147.78L592.52,145.22M597.01,143.95L597.01,149.05M594.80,145.22L599.22,147.78M594.80,147.78L599.22,145.22" stroke="#111" stroke-width="1.4" fill="none"/>
<polyline fill="none" stroke="#111" stroke-width="1.35" points="604.5,196.5 604.5,105.3 610.4,105.3 610.4,117.0"/>
<path d="M603.84,96.75L603.84,101.85M601.63,98.02L606.05,100.58M601.63,100.58L606.05,98.02M610.54,96.75L610.54,101.85M608.33,98.02L612.75,100.58M608.33,100.58L612.75,98.02" stroke="#111" stroke-width="1.4" fill="none"/>
<polyline fill="none" stroke="#111" stroke-width="1.35" points="621.4,200.0 621.4,188.7 627.3,188.7 627.3,193.5"/>
<path d="M624.07,180.15L624.07,185.25M621.86,181.42L626.28,183.97M621.86,183.97L626.28,181.42" stroke="#111" stroke-width="1.4" fill="none"/>
<polyline fill="none" stroke="#111" stroke-width="1.35" points="638.3,198.0 638.3,135.4 644.2,135.4 644.2,142.2"/>
<path d="M630.90,126.85L630.90,131.95M628.69,128.12L633.11,130.68M628.69,130.68L633.11,128.12M637.60,126.85L637.60,131.95M635.39,128.12L639.81,130.68M635.39,130.68L639.81,128.12M644.30,126.85L644.30,131.95M642.09,128.12L646.51,130.68M642.09,130.68L646.51,128.12M651.00,126.85L651.00,131.95M648.79,128.12L653.21,130.68M648.79,130.68L653.21,128.12" stroke="#111" stroke-width="1.4" fill="none"/>
<polyline fill="none" stroke="#111" stroke-width="1.35" points="655.2,198.8 655.2,147.7 661.1,147.7 661.1,156.6"/>
<path d="M647.78,139.15L647.78,144.25M645.57,140.42L649.99,142.97M645.57,142.97L649.99,140.42M654.48,139.15L654.48,144.25M652.27,140.42L656.69,142.97M652.27,142.97L656.69,140.42M661.18,139.15L661.18,144.25M658.97,140.42L663.39,142.97M658.97,142.97L663.39,140.42M667.88,139.15L667.88,144.25M665.67,140.42L670.09,142.97M665.67,142.97L670.09,140.42" stroke="#111" stroke-width="1.4" fill="none"/>
<polyline fill="none" stroke="#111" stroke-width="1.35" points="672.1,198.0 672.1,79.2 678.0,79.2 678.0,89.3"/>
<path d="M668.01,70.65L668.01,75.75M665.80,71.92L670.22,74.48M665.80,74.48L670.22,71.92M674.71,70.65L674.71,75.75M672.50,71.92L676.92,74.48M672.50,74.48L676.92,71.92M681.41,70.65L681.41,75.75M679.20,71.92L683.62,74.48M679.20,74.48L683.62,71.92" stroke="#111" stroke-width="1.4" fill="none"/>
<line x1="89.5" y1="271.4" x2="89.5" y2="404.9" stroke="#111" stroke-width="1.3" />
<line x1="88.8" y1="404.3" x2="277.6" y2="404.3" stroke="#111" stroke-width="1.3" />
<line x1="84.5" y1="404.3" x2="89.5" y2="404.3" stroke="#111" stroke-width="1.2" />
<text x="82.9" y="407.9" font-size="10.2" font-weight="bold" text-anchor="end" fill="#111"  >0</text>
<line x1="84.5" y1="377.7" x2="89.5" y2="377.7" stroke="#111" stroke-width="1.2" />
<text x="82.9" y="381.3" font-size="10.2" font-weight="bold" text-anchor="end" fill="#111"  >2</text>
<line x1="84.5" y1="351.1" x2="89.5" y2="351.1" stroke="#111" stroke-width="1.2" />
<text x="82.9" y="354.8" font-size="10.2" font-weight="bold" text-anchor="end" fill="#111"  >4</text>
<line x1="84.5" y1="324.6" x2="89.5" y2="324.6" stroke="#111" stroke-width="1.2" />
<text x="82.9" y="328.2" font-size="10.2" font-weight="bold" text-anchor="end" fill="#111"  >6</text>
<line x1="84.5" y1="298.0" x2="89.5" y2="298.0" stroke="#111" stroke-width="1.2" />
<text x="82.9" y="301.6" font-size="10.2" font-weight="bold" text-anchor="end" fill="#111"  >8</text>
<line x1="84.5" y1="271.4" x2="89.5" y2="271.4" stroke="#111" stroke-width="1.2" />
<text x="82.9" y="275.0" font-size="10.2" font-weight="bold" text-anchor="end" fill="#111"  >10</text>
<line x1="89.5" y1="404.3" x2="89.5" y2="409.4" stroke="#111" stroke-width="1.2" />
<text x="89.5" y="420.7" font-size="10.2" font-weight="bold" text-anchor="middle" fill="#111"  >0</text>
<line x1="127.0" y1="404.3" x2="127.0" y2="409.4" stroke="#111" stroke-width="1.2" />
<text x="127.0" y="420.7" font-size="10.2" font-weight="bold" text-anchor="middle" fill="#111"  >5</text>
<line x1="164.5" y1="404.3" x2="164.5" y2="409.4" stroke="#111" stroke-width="1.2" />
<text x="164.5" y="420.7" font-size="10.2" font-weight="bold" text-anchor="middle" fill="#111"  >10</text>
<line x1="202.0" y1="404.3" x2="202.0" y2="409.4" stroke="#111" stroke-width="1.2" />
<text x="202.0" y="420.7" font-size="10.2" font-weight="bold" text-anchor="middle" fill="#111"  >15</text>
<line x1="239.5" y1="404.3" x2="239.5" y2="409.4" stroke="#111" stroke-width="1.2" />
<text x="239.5" y="420.7" font-size="10.2" font-weight="bold" text-anchor="middle" fill="#111"  >20</text>
<line x1="277.0" y1="404.3" x2="277.0" y2="409.4" stroke="#111" stroke-width="1.2" />
<text x="277.0" y="420.7" font-size="10.2" font-weight="bold" text-anchor="middle" fill="#111"  >25</text>
<text transform="translate(65.6,337.6) rotate(-90)" font-size="10.6" font-weight="bold" text-anchor="middle" fill="#111">CTNNB1</text>
<text x="183.8" y="436.3" font-size="10.4" font-weight="bold" text-anchor="middle" fill="#111"  >PPAT</text>
<line x1="93.1" y1="386.4" x2="236.0" y2="298.0" stroke="#f0787c" stroke-width="1.3" />
<line x1="106.1" y1="353.4" x2="106.1" y2="366.2" stroke="#8cbcf8" stroke-width="1.0" />
<line x1="103.5" y1="353.4" x2="108.7" y2="353.4" stroke="#8cbcf8" stroke-width="1.0" />
<line x1="103.5" y1="366.2" x2="108.7" y2="366.2" stroke="#8cbcf8" stroke-width="1.0" />
<line x1="124.7" y1="358.5" x2="124.7" y2="365.7" stroke="#8cbcf8" stroke-width="1.0" />
<line x1="122.3" y1="358.5" x2="127.1" y2="358.5" stroke="#8cbcf8" stroke-width="1.0" />
<line x1="122.3" y1="365.7" x2="127.1" y2="365.7" stroke="#8cbcf8" stroke-width="1.0" />
<line x1="170.8" y1="309.3" x2="170.8" y2="326.8" stroke="#8cbcf8" stroke-width="1.0" />
<line x1="168.1" y1="309.3" x2="173.5" y2="309.3" stroke="#8cbcf8" stroke-width="1.0" />
<line x1="168.1" y1="326.8" x2="173.5" y2="326.8" stroke="#8cbcf8" stroke-width="1.0" />
<circle cx="107.2" cy="346.2" r="2.55" fill="#64a4fb" />
<circle cx="106.1" cy="359.7" r="2.55" fill="#64a4fb" />
<circle cx="127.5" cy="352.4" r="2.55" fill="#64a4fb" />
<circle cx="124.7" cy="362.4" r="2.55" fill="#64a4fb" />
<circle cx="130.2" cy="365.3" r="2.55" fill="#64a4fb" />
<circle cx="111.0" cy="370.8" r="2.55" fill="#64a4fb" />
<circle cx="116.1" cy="371.5" r="2.55" fill="#64a4fb" />
<circle cx="105.1" cy="380.5" r="2.55" fill="#64a4fb" />
<circle cx="108.4" cy="380.0" r="2.55" fill="#64a4fb" />
<circle cx="107.9" cy="383.0" r="2.55" fill="#64a4fb" />
<circle cx="112.0" cy="382.0" r="2.55" fill="#64a4fb" />
<circle cx="106.1" cy="389.5" r="2.55" fill="#64a4fb" />
<circle cx="93.1" cy="389.9" r="2.55" fill="#64a4fb" />
<circle cx="98.2" cy="393.2" r="2.55" fill="#64a4fb" />
<circle cx="97.4" cy="402.1" r="2.55" fill="#64a4fb" />
<circle cx="149.8" cy="377.9" r="2.55" fill="#64a4fb" />
<circle cx="170.8" cy="317.9" r="2.55" fill="#64a4fb" />
<circle cx="236.3" cy="303.6" r="2.55" fill="#64a4fb" />
<text x="227.4" y="372.8" font-size="10.2" fill="#111">r=0.8334</text>
<text x="227.4" y="385.6" font-size="10.2" fill="#111"><tspan font-style="italic">P</tspan></text>
<text x="227.4" y="398.4" font-size="10.2" fill="#111">n=18</text>
<polyline fill="none" stroke="#222" stroke-width="0.85" points="243.2,378.6 236.2,382.4 243.2,386.2"/>
<text x="244.2" y="385.7" font-size="10.3" fill="#111">0.0001</text>
<line x1="439.2" y1="290.4" x2="439.2" y2="409.3" stroke="#111" stroke-width="1.3" />
<line x1="438.6" y1="408.7" x2="623.6" y2="408.7" stroke="#111" stroke-width="1.3" />
<line x1="434.2" y1="408.7" x2="439.2" y2="408.7" stroke="#111" stroke-width="1.2" />
<text x="432.6" y="412.0" font-size="9.4" font-weight="bold" text-anchor="end" fill="#111"  >0</text>
<line x1="434.2" y1="369.2" x2="439.2" y2="369.2" stroke="#111" stroke-width="1.2" />
<text x="432.6" y="372.6" font-size="9.4" font-weight="bold" text-anchor="end" fill="#111"  >50</text>
<line x1="434.2" y1="329.8" x2="439.2" y2="329.8" stroke="#111" stroke-width="1.2" />
<text x="432.6" y="333.1" font-size="9.4" font-weight="bold" text-anchor="end" fill="#111"  >100</text>
<line x1="434.2" y1="290.3" x2="439.2" y2="290.3" stroke="#111" stroke-width="1.2" />
<text x="432.6" y="293.6" font-size="9.4" font-weight="bold" text-anchor="end" fill="#111"  >150</text>
<line x1="439.2" y1="408.7" x2="439.2" y2="413.8" stroke="#111" stroke-width="1.2" />
<text x="439.2" y="424.0" font-size="9.4" font-weight="bold" text-anchor="middle" fill="#111"  >0</text>
<line x1="476.0" y1="408.7" x2="476.0" y2="413.8" stroke="#111" stroke-width="1.2" />
<text x="476.0" y="424.0" font-size="9.4" font-weight="bold" text-anchor="middle" fill="#111"  >5</text>
<line x1="512.8" y1="408.7" x2="512.8" y2="413.8" stroke="#111" stroke-width="1.2" />
<text x="512.8" y="424.0" font-size="9.4" font-weight="bold" text-anchor="middle" fill="#111"  >10</text>
<line x1="549.6" y1="408.7" x2="549.6" y2="413.8" stroke="#111" stroke-width="1.2" />
<text x="549.6" y="424.0" font-size="9.4" font-weight="bold" text-anchor="middle" fill="#111"  >15</text>
<line x1="586.4" y1="408.7" x2="586.4" y2="413.8" stroke="#111" stroke-width="1.2" />
<text x="586.4" y="424.0" font-size="9.4" font-weight="bold" text-anchor="middle" fill="#111"  >20</text>
<line x1="623.2" y1="408.7" x2="623.2" y2="413.8" stroke="#111" stroke-width="1.2" />
<text x="623.2" y="424.0" font-size="9.4" font-weight="bold" text-anchor="middle" fill="#111"  >25</text>
<text transform="translate(411.6,350.1) rotate(-90)" font-size="10.6" font-weight="bold" text-anchor="middle" fill="#111" textLength="37.6" lengthAdjust="spacingAndGlyphs">CTNNB1</text>
<text x="531.3" y="437.6" font-size="10.2" font-weight="bold" text-anchor="middle" fill="#111"  >PPAT</text>
<text x="533.3" y="271.9" font-size="11.6" font-weight="bold" text-anchor="middle" fill="#111"  >GSE104766</text>
<line x1="454.8" y1="362.9" x2="583.2" y2="311.3" stroke="#f0787c" stroke-width="1.3" />
<circle cx="463.3" cy="322.6" r="2.4" fill="#64a4fb" />
<circle cx="462.3" cy="337.3" r="2.4" fill="#64a4fb" />
<circle cx="471.2" cy="338.9" r="2.4" fill="#64a4fb" />
<circle cx="472.5" cy="342.7" r="2.4" fill="#64a4fb" />
<circle cx="479.9" cy="337.3" r="2.4" fill="#64a4fb" />
<circle cx="459.4" cy="344.2" r="2.4" fill="#64a4fb" />
<circle cx="463.0" cy="348.0" r="2.4" fill="#64a4fb" />
<circle cx="497.7" cy="346.3" r="2.4" fill="#64a4fb" />
<circle cx="497.0" cy="348.6" r="2.4" fill="#64a4fb" />
<circle cx="462.7" cy="361.1" r="2.4" fill="#64a4fb" />
<circle cx="462.3" cy="363.3" r="2.4" fill="#64a4fb" />
<circle cx="464.3" cy="365.2" r="2.4" fill="#64a4fb" />
<circle cx="463.3" cy="363.6" r="2.4" fill="#64a4fb" />
<circle cx="470.1" cy="363.4" r="2.4" fill="#64a4fb" />
<circle cx="476.3" cy="365.7" r="2.4" fill="#64a4fb" />
<circle cx="480.6" cy="367.9" r="2.4" fill="#64a4fb" />
<circle cx="454.6" cy="371.0" r="2.4" fill="#64a4fb" />
<circle cx="463.8" cy="371.5" r="2.4" fill="#64a4fb" />
<circle cx="461.5" cy="374.2" r="2.4" fill="#64a4fb" />
<circle cx="468.3" cy="376.4" r="2.4" fill="#64a4fb" />
<circle cx="498.5" cy="369.5" r="2.4" fill="#64a4fb" />
<circle cx="496.0" cy="373.4" r="2.4" fill="#64a4fb" />
<circle cx="552.0" cy="319.8" r="2.4" fill="#64a4fb" />
<circle cx="566.6" cy="305.2" r="2.4" fill="#64a4fb" />
<circle cx="583.2" cy="311.1" r="2.4" fill="#64a4fb" />
<text x="577.2" y="380.3" font-size="10.0" fill="#111">r=0.6627</text>
<text x="577.2" y="392.1" font-size="10.0" fill="#111"><tspan font-style="italic">P</tspan>=0.0003</text>
<text x="577.2" y="403.9" font-size="10.0" fill="#111">n=25</text>
<line x1="93.5" y1="482.8" x2="93.5" y2="601.8" stroke="#111" stroke-width="1.3" />
<line x1="92.8" y1="601.1" x2="278.3" y2="601.1" stroke="#111" stroke-width="1.3" />
<line x1="88.5" y1="601.1" x2="93.5" y2="601.1" stroke="#111" stroke-width="1.2" />
<text x="86.9" y="604.4" font-size="9.2" font-weight="bold" text-anchor="end" fill="#111"  >0</text>
<line x1="88.5" y1="571.5" x2="93.5" y2="571.5" stroke="#111" stroke-width="1.2" />
<text x="86.9" y="574.8" font-size="9.2" font-weight="bold" text-anchor="end" fill="#111"  >50</text>
<line x1="88.5" y1="542.0" x2="93.5" y2="542.0" stroke="#111" stroke-width="1.2" />
<text x="86.9" y="545.2" font-size="9.2" font-weight="bold" text-anchor="end" fill="#111"  >100</text>
<line x1="88.5" y1="512.4" x2="93.5" y2="512.4" stroke="#111" stroke-width="1.2" />
<text x="86.9" y="515.6" font-size="9.2" font-weight="bold" text-anchor="end" fill="#111"  >150</text>
<line x1="88.5" y1="482.8" x2="93.5" y2="482.8" stroke="#111" stroke-width="1.2" />
<text x="86.9" y="486.1" font-size="9.2" font-weight="bold" text-anchor="end" fill="#111"  >200</text>
<line x1="93.5" y1="601.1" x2="93.5" y2="606.2" stroke="#111" stroke-width="1.2" />
<text x="93.5" y="615.5" font-size="9.2" font-weight="bold" text-anchor="middle" fill="#111"  >0</text>
<line x1="139.7" y1="601.1" x2="139.7" y2="606.2" stroke="#111" stroke-width="1.2" />
<text x="139.7" y="615.5" font-size="9.2" font-weight="bold" text-anchor="middle" fill="#111"  >3</text>
<line x1="185.9" y1="601.1" x2="185.9" y2="606.2" stroke="#111" stroke-width="1.2" />
<text x="185.9" y="615.5" font-size="9.2" font-weight="bold" text-anchor="middle" fill="#111"  >6</text>
<line x1="232.1" y1="601.1" x2="232.1" y2="606.2" stroke="#111" stroke-width="1.2" />
<text x="232.1" y="615.5" font-size="9.2" font-weight="bold" text-anchor="middle" fill="#111"  >9</text>
<line x1="278.3" y1="601.1" x2="278.3" y2="606.2" stroke="#111" stroke-width="1.2" />
<text x="278.3" y="615.5" font-size="9.2" font-weight="bold" text-anchor="middle" fill="#111"  >12</text>
<text transform="translate(66.4,542.0) rotate(-90)" font-size="10.2" font-weight="bold" text-anchor="middle" fill="#111">CTNNB1</text>
<text x="186.0" y="629.7" font-size="10.4" font-weight="bold" text-anchor="middle" fill="#111"  >PPAT</text>
<text x="187.7" y="463.8" font-size="11.6" font-weight="bold" text-anchor="middle" fill="#111"  >GSE132219</text>
<line x1="105.6" y1="573.6" x2="242.3" y2="545.6" stroke="#f0787c" stroke-width="1.3" />
<circle cx="105.6" cy="586.7" r="2.55" fill="#64a4fb" />
<circle cx="109.3" cy="585.3" r="2.55" fill="#64a4fb" />
<circle cx="110.3" cy="578.3" r="2.55" fill="#64a4fb" />
<circle cx="110.3" cy="572.2" r="2.55" fill="#64a4fb" />
<circle cx="120.3" cy="579.7" r="2.55" fill="#64a4fb" />
<circle cx="126.2" cy="583.0" r="2.55" fill="#64a4fb" />
<circle cx="121.5" cy="563.4" r="2.55" fill="#64a4fb" />
<circle cx="123.1" cy="572.7" r="2.55" fill="#64a4fb" />
<circle cx="127.3" cy="570.8" r="2.55" fill="#64a4fb" />
<circle cx="130.1" cy="572.7" r="2.55" fill="#64a4fb" />
<circle cx="131.5" cy="563.8" r="2.55" fill="#64a4fb" />
<circle cx="133.6" cy="566.6" r="2.55" fill="#64a4fb" />
<circle cx="135.0" cy="568.5" r="2.55" fill="#64a4fb" />
<circle cx="123.4" cy="548.2" r="2.55" fill="#64a4fb" />
<circle cx="128.0" cy="548.9" r="2.55" fill="#64a4fb" />
<circle cx="144.2" cy="571.5" r="2.55" fill="#64a4fb" />
<circle cx="150.7" cy="572.0" r="2.55" fill="#64a4fb" />
<circle cx="157.7" cy="549.8" r="2.55" fill="#64a4fb" />
<circle cx="157.2" cy="575.0" r="2.55" fill="#64a4fb" />
<circle cx="177.4" cy="500.0" r="2.55" fill="#64a4fb" />
<circle cx="187.9" cy="531.1" r="2.55" fill="#64a4fb" />
<circle cx="174.3" cy="553.3" r="2.55" fill="#64a4fb" />
<circle cx="189.1" cy="552.6" r="2.55" fill="#64a4fb" />
<circle cx="167.6" cy="558.0" r="2.55" fill="#64a4fb" />
<circle cx="242.8" cy="556.4" r="2.55" fill="#64a4fb" />
<circle cx="163.4" cy="564.5" r="2.55" fill="#64a4fb" />
<circle cx="182.1" cy="561.5" r="2.55" fill="#64a4fb" />
<circle cx="183.9" cy="565.0" r="2.55" fill="#64a4fb" />
<circle cx="195.4" cy="562.4" r="2.55" fill="#64a4fb" />
<circle cx="167.6" cy="569.0" r="2.55" fill="#64a4fb" />
<circle cx="226.4" cy="569.0" r="2.55" fill="#64a4fb" />
<circle cx="165.2" cy="582.5" r="2.55" fill="#64a4fb" />
<text x="231.6" y="497.7" font-size="10.0" fill="#111">r=0.4179</text>
<text x="231.6" y="509.2" font-size="10.0" fill="#111"><tspan font-style="italic">P</tspan>=0.0173</text>
<text x="231.6" y="520.7" font-size="10.0" fill="#111">n=32</text>
<line x1="443.3" y1="483.2" x2="443.3" y2="601.9" stroke="#111" stroke-width="1.3" />
<line x1="442.7" y1="601.2" x2="628.0" y2="601.2" stroke="#111" stroke-width="1.3" />
<line x1="438.3" y1="601.2" x2="443.3" y2="601.2" stroke="#111" stroke-width="1.2" />
<text x="436.7" y="604.5" font-size="9.2" font-weight="bold" text-anchor="end" fill="#111"  >10.5</text>
<line x1="438.3" y1="577.6" x2="443.3" y2="577.6" stroke="#111" stroke-width="1.2" />
<text x="436.7" y="580.9" font-size="9.2" font-weight="bold" text-anchor="end" fill="#111"  >11.0</text>
<line x1="438.3" y1="554.0" x2="443.3" y2="554.0" stroke="#111" stroke-width="1.2" />
<text x="436.7" y="557.3" font-size="9.2" font-weight="bold" text-anchor="end" fill="#111"  >11.5</text>
<line x1="438.3" y1="530.4" x2="443.3" y2="530.4" stroke="#111" stroke-width="1.2" />
<text x="436.7" y="533.7" font-size="9.2" font-weight="bold" text-anchor="end" fill="#111"  >12.0</text>
<line x1="438.3" y1="506.8" x2="443.3" y2="506.8" stroke="#111" stroke-width="1.2" />
<text x="436.7" y="510.1" font-size="9.2" font-weight="bold" text-anchor="end" fill="#111"  >12.5</text>
<line x1="438.3" y1="483.2" x2="443.3" y2="483.2" stroke="#111" stroke-width="1.2" />
<text x="436.7" y="486.5" font-size="9.2" font-weight="bold" text-anchor="end" fill="#111"  >13.0</text>
<line x1="443.3" y1="601.2" x2="443.3" y2="606.3" stroke="#111" stroke-width="1.2" />
<text x="443.3" y="615.6" font-size="9.2" font-weight="bold" text-anchor="middle" fill="#111"  >5</text>
<line x1="480.2" y1="601.2" x2="480.2" y2="606.3" stroke="#111" stroke-width="1.2" />
<text x="480.2" y="615.6" font-size="9.2" font-weight="bold" text-anchor="middle" fill="#111"  >6</text>
<line x1="517.1" y1="601.2" x2="517.1" y2="606.3" stroke="#111" stroke-width="1.2" />
<text x="517.1" y="615.6" font-size="9.2" font-weight="bold" text-anchor="middle" fill="#111"  >7</text>
<line x1="554.0" y1="601.2" x2="554.0" y2="606.3" stroke="#111" stroke-width="1.2" />
<text x="554.0" y="615.6" font-size="9.2" font-weight="bold" text-anchor="middle" fill="#111"  >8</text>
<line x1="590.9" y1="601.2" x2="590.9" y2="606.3" stroke="#111" stroke-width="1.2" />
<text x="590.9" y="615.6" font-size="9.2" font-weight="bold" text-anchor="middle" fill="#111"  >9</text>
<line x1="627.8" y1="601.2" x2="627.8" y2="606.3" stroke="#111" stroke-width="1.2" />
<text x="627.8" y="615.6" font-size="9.2" font-weight="bold" text-anchor="middle" fill="#111"  >10</text>
<text transform="translate(414.0,542.2) rotate(-90)" font-size="10.2" font-weight="bold" text-anchor="middle" fill="#111">CTNNB1</text>
<text x="534.5" y="630.4" font-size="10.4" font-weight="bold" text-anchor="middle" fill="#111"  >PPAT</text>
<text x="533.4" y="463.2" font-size="11.6" font-weight="bold" text-anchor="middle" fill="#111"  >GSE75271</text>
<line x1="472.2" y1="565.5" x2="594.5" y2="531.9" stroke="#f0787c" stroke-width="1.3" />
<circle cx="486.7" cy="536.5" r="2.55" fill="#64a4fb" />
<circle cx="496.1" cy="557.5" r="2.55" fill="#64a4fb" />
<circle cx="472.2" cy="575.0" r="2.55" fill="#64a4fb" />
<circle cx="481.1" cy="583.0" r="2.55" fill="#64a4fb" />
<circle cx="494.2" cy="596.1" r="2.55" fill="#64a4fb" />
<circle cx="557.3" cy="502.9" r="2.55" fill="#64a4fb" />
<circle cx="572.3" cy="501.7" r="2.55" fill="#64a4fb" />
<circle cx="570.7" cy="506.2" r="2.55" fill="#64a4fb" />
<circle cx="533.3" cy="510.8" r="2.55" fill="#64a4fb" />
<circle cx="552.4" cy="509.2" r="2.55" fill="#64a4fb" />
<circle cx="554.8" cy="512.2" r="2.55" fill="#64a4fb" />
<circle cx="537.2" cy="523.0" r="2.55" fill="#64a4fb" />
<circle cx="550.6" cy="522.8" r="2.55" fill="#64a4fb" />
<circle cx="550.6" cy="526.3" r="2.55" fill="#64a4fb" />
<circle cx="559.4" cy="523.2" r="2.55" fill="#64a4fb" />
<circle cx="567.1" cy="526.7" r="2.55" fill="#64a4fb" />
<circle cx="581.2" cy="528.4" r="2.55" fill="#64a4fb" />
<circle cx="595.0" cy="530.9" r="2.55" fill="#64a4fb" />
<circle cx="512.0" cy="529.3" r="2.55" fill="#64a4fb" />
<circle cx="523.2" cy="534.4" r="2.55" fill="#64a4fb" />
<circle cx="531.4" cy="536.5" r="2.55" fill="#64a4fb" />
<circle cx="534.9" cy="533.3" r="2.55" fill="#64a4fb" />
<circle cx="541.0" cy="534.4" r="2.55" fill="#64a4fb" />
<circle cx="561.3" cy="542.6" r="2.55" fill="#64a4fb" />
<circle cx="573.0" cy="541.2" r="2.55" fill="#64a4fb" />
<circle cx="515.7" cy="547.8" r="2.55" fill="#64a4fb" />
<circle cx="531.9" cy="548.2" r="2.55" fill="#64a4fb" />
<circle cx="549.4" cy="548.9" r="2.55" fill="#64a4fb" />
<circle cx="556.6" cy="550.1" r="2.55" fill="#64a4fb" />
<circle cx="560.1" cy="548.2" r="2.55" fill="#64a4fb" />
<circle cx="563.6" cy="547.8" r="2.55" fill="#64a4fb" />
<circle cx="562.5" cy="552.4" r="2.55" fill="#64a4fb" />
<circle cx="568.8" cy="550.1" r="2.55" fill="#64a4fb" />
<circle cx="575.8" cy="548.2" r="2.55" fill="#64a4fb" />
<circle cx="580.5" cy="549.6" r="2.55" fill="#64a4fb" />
<circle cx="580.9" cy="552.0" r="2.55" fill="#64a4fb" />
<circle cx="590.3" cy="548.9" r="2.55" fill="#64a4fb" />
<circle cx="545.4" cy="552.4" r="2.55" fill="#64a4fb" />
<circle cx="517.4" cy="556.4" r="2.55" fill="#64a4fb" />
<circle cx="524.9" cy="554.8" r="2.55" fill="#64a4fb" />
<circle cx="587.0" cy="561.3" r="2.55" fill="#64a4fb" />
<circle cx="527.2" cy="566.9" r="2.55" fill="#64a4fb" />
<circle cx="546.1" cy="565.3" r="2.55" fill="#64a4fb" />
<circle cx="550.8" cy="569.3" r="2.55" fill="#64a4fb" />
<circle cx="557.1" cy="563.4" r="2.55" fill="#64a4fb" />
<circle cx="561.3" cy="568.8" r="2.55" fill="#64a4fb" />
<circle cx="564.6" cy="566.0" r="2.55" fill="#64a4fb" />
<circle cx="508.5" cy="577.4" r="2.55" fill="#64a4fb" />
<circle cx="510.8" cy="576.5" r="2.55" fill="#64a4fb" />
<circle cx="481.4" cy="582.8" r="2.55" fill="#64a4fb" />
<text x="580.8" y="572.3" font-size="10.0" fill="#111">r=0.3770</text>
<text x="580.8" y="583.8" font-size="10.0" fill="#111"><tspan font-style="italic">P</tspan>=0.0070</text>
<text x="580.8" y="595.3" font-size="10.0" fill="#111">n=50</text>
<defs><filter id="bl" x="0" y="0" width="1" height="1"><feGaussianBlur stdDeviation="0.45"/></filter><filter id="bl2" x="-0.2" y="-0.2" width="1.4" height="1.4"><feGaussianBlur stdDeviation="1.6"/></filter><filter id="grain" x="0" y="0" width="1" height="1"><feTurbulence type="fractalNoise" baseFrequency="0.75" numOctaves="2" seed="7"/><feColorMatrix type="matrix" values="0 0 0 0 0.62  0 0 0 0 0.42  0 0 0 0 0.22  -1.6 0 0 0 1.05"/></filter></defs>
<svg x="34.5" y="685.0" width="56.2" height="103.6" viewBox="0 0 56.2 103.6">
<rect width="56.2" height="103.6" fill="#ede0cf"/>
<g filter="url(#bl2)">
<ellipse cx="43.7" cy="69.4" rx="5.8" ry="6.1" fill="#e4ceb0" opacity="0.59"/>
<ellipse cx="30.0" cy="101.4" rx="6.0" ry="8.0" fill="#e4ceb0" opacity="0.55"/>
<ellipse cx="27.5" cy="21.0" rx="10.3" ry="5.4" fill="#e4ceb0" opacity="0.58"/>
<ellipse cx="2.3" cy="100.9" rx="8.9" ry="6.8" fill="#e4ceb0" opacity="0.69"/>
<ellipse cx="23.4" cy="92.0" rx="5.2" ry="9.0" fill="#e4ceb0" opacity="0.59"/>
<ellipse cx="45.6" cy="98.0" rx="12.9" ry="5.1" fill="#e4ceb0" opacity="0.68"/>
<ellipse cx="6.1" cy="16.6" rx="5.7" ry="5.9" fill="#e4ceb0" opacity="0.41"/>
<ellipse cx="48.0" cy="30.1" rx="11.2" ry="7.3" fill="#e4ceb0" opacity="0.48"/>
<ellipse cx="16.4" cy="33.1" rx="10.3" ry="5.4" fill="#e4ceb0" opacity="0.65"/>
<ellipse cx="50.3" cy="90.1" rx="7.4" ry="6.7" fill="#e4ceb0" opacity="0.59"/>
<ellipse cx="15.8" cy="34.1" rx="12.9" ry="4.1" fill="#e4ceb0" opacity="0.46"/>
<ellipse cx="36.6" cy="7.8" rx="7.3" ry="8.8" fill="#e4ceb0" opacity="0.76"/>
<ellipse cx="20.8" cy="21.3" rx="12.0" ry="7.8" fill="#e4ceb0" opacity="0.60"/>
<ellipse cx="18.6" cy="36.0" rx="7.3" ry="8.6" fill="#e4ceb0" opacity="0.59"/>
<ellipse cx="11.3" cy="90.3" rx="11.0" ry="9.2" fill="#e4ceb0" opacity="0.77"/>
<ellipse cx="13.6" cy="92.5" rx="11.1" ry="6.5" fill="#e4ceb0" opacity="0.53"/>
<polyline fill="none" stroke="#f7f4f2" stroke-width="2.5" stroke-linecap="round" stroke-linejoin="round" opacity="0.85" points="29.2,60.7 38.6,60.6 45.9,52.9 52.6,50.6 57.2,51.0 63.2,44.3"/>
<polyline fill="none" stroke="#f7f4f2" stroke-width="3.1" stroke-linecap="round" stroke-linejoin="round" opacity="0.85" points="9.1,37.4 11.5,36.5 14.1,42.2 15.9,44.5 21.2,45.5 22.0,51.1"/>
<polyline fill="none" stroke="#f7f4f2" stroke-width="3.4" stroke-linecap="round" stroke-linejoin="round" opacity="0.85" points="23.2,47.0 27.6,50.9 32.0,59.5 34.0,62.7 38.2,62.4 42.2,70.8"/>
<polyline fill="none" stroke="#f7f4f2" stroke-width="3.5" stroke-linecap="round" stroke-linejoin="round" opacity="0.85" points="10.0,42.9 9.0,49.2 15.0,51.6 15.9,53.9 22.9,55.3 26.2,60.9"/>
<polyline fill="none" stroke="#f7f4f2" stroke-width="2.9" stroke-linecap="round" stroke-linejoin="round" opacity="0.85" points="35.4,78.2 43.6,83.2 45.7,83.5 48.5,83.7 55.0,85.6 59.8,90.2"/>
<polyline fill="none" stroke="#f7f4f2" stroke-width="3.9" stroke-linecap="round" stroke-linejoin="round" opacity="0.85" points="17.7,18.8 25.6,21.4 29.7,19.8 32.6,23.3 37.0,26.6 42.3,28.6"/>
<polyline fill="none" stroke="#f7f4f2" stroke-width="3.8" stroke-linecap="round" stroke-linejoin="round" opacity="0.85" points="45.1,78.1 51.7,84.4 56.1,87.8 65.6,93.4 70.4,97.7 78.8,100.6"/>
</g>
<rect width="56.2" height="103.6" filter="url(#grain)" opacity="0.22"/>
<g filter="url(#bl)">
<circle cx="-4.5" cy="-5.8" r="1.7" fill="#b0aeda" opacity="0.66"/>
<circle cx="6.1" cy="-3.0" r="2.2" fill="#b0aeda" opacity="0.77"/>
<circle cx="13.8" cy="-2.7" r="2.1" fill="#b0aeda" opacity="0.56"/>
<circle cx="22.9" cy="-6.5" r="1.8" fill="#b0aeda" opacity="0.68"/>
<circle cx="55.3" cy="-1.8" r="1.6" fill="#b0aeda" opacity="0.68"/>
<circle cx="62.7" cy="-1.9" r="2.0" fill="#b0aeda" opacity="0.69"/>
<circle cx="8.5" cy="2.8" r="1.8" fill="#b0aeda" opacity="0.66"/>
<circle cx="16.3" cy="1.2" r="1.6" fill="#b0aeda" opacity="0.67"/>
<circle cx="27.4" cy="1.7" r="2.2" fill="#b0aeda" opacity="0.58"/>
<circle cx="33.6" cy="2.7" r="2.2" fill="#b0aeda" opacity="0.59"/>
<circle cx="40.2" cy="3.9" r="1.9" fill="#b0aeda" opacity="0.63"/>
<circle cx="49.6" cy="2.4" r="2.0" fill="#b0aeda" opacity="0.76"/>
<circle cx="4.2" cy="12.9" r="2.2" fill="#b0aeda" opacity="0.77"/>
<circle cx="14.5" cy="11.2" r="1.8" fill="#b0aeda" opacity="0.63"/>
<circle cx="19.3" cy="10.3" r="1.9" fill="#b0aeda" opacity="0.72"/>
<circle cx="30.6" cy="11.5" r="2.1" fill="#b0aeda" opacity="0.66"/>
<circle cx="36.2" cy="10.3" r="1.9" fill="#b0aeda" opacity="0.71"/>
<circle cx="46.7" cy="8.1" r="1.7" fill="#b0aeda" opacity="0.63"/>
<circle cx="55.2" cy="12.6" r="2.1" fill="#b0aeda" opacity="0.75"/>
<circle cx="-1.4" cy="18.0" r="2.0" fill="#b0aeda" opacity="0.64"/>
<circle cx="9.6" cy="18.8" r="1.7" fill="#b0aeda" opacity="0.58"/>
<circle cx="15.1" cy="19.0" r="2.3" fill="#b0aeda" opacity="0.59"/>
<circle cx="26.2" cy="20.2" r="2.1" fill="#b0aeda" opacity="0.80"/>
<circle cx="34.7" cy="15.9" r="2.2" fill="#b0aeda" opacity="0.62"/>
<circle cx="43.5" cy="17.1" r="2.0" fill="#b0aeda" opacity="0.55"/>
<circle cx="48.7" cy="19.3" r="2.1" fill="#b0aeda" opacity="0.64"/>
<circle cx="59.8" cy="17.6" r="1.8" fill="#b0aeda" opacity="0.61"/>
<circle cx="5.7" cy="27.8" r="2.0" fill="#b0aeda" opacity="0.67"/>
<circle cx="12.0" cy="26.5" r="1.6" fill="#b0aeda" opacity="0.80"/>
<circle cx="23.3" cy="24.7" r="2.2" fill="#b0aeda" opacity="0.60"/>
<circle cx="31.8" cy="26.0" r="2.2" fill="#b0aeda" opacity="0.79"/>
<circle cx="37.3" cy="23.6" r="1.7" fill="#b0aeda" opacity="0.75"/>
<circle cx="44.4" cy="24.6" r="1.8" fill="#b0aeda" opacity="0.61"/>
<circle cx="54.5" cy="26.1" r="1.7" fill="#b0aeda" opacity="0.65"/>
<circle cx="64.1" cy="26.1" r="2.0" fill="#b0aeda" opacity="0.68"/>
<circle cx="11.0" cy="32.6" r="2.2" fill="#b0aeda" opacity="0.65"/>
<circle cx="24.1" cy="33.9" r="2.3" fill="#b0aeda" opacity="0.75"/>
<circle cx="32.9" cy="35.2" r="1.7" fill="#b0aeda" opacity="0.61"/>
<circle cx="43.9" cy="34.3" r="2.2" fill="#b0aeda" opacity="0.68"/>
<circle cx="60.1" cy="34.5" r="2.1" fill="#b0aeda" opacity="0.78"/>
<circle cx="-5.4" cy="40.6" r="1.9" fill="#b0aeda" opacity="0.67"/>
<circle cx="13.8" cy="41.7" r="1.9" fill="#b0aeda" opacity="0.80"/>
<circle cx="37.6" cy="40.2" r="1.6" fill="#b0aeda" opacity="0.80"/>
<circle cx="49.1" cy="41.5" r="2.1" fill="#b0aeda" opacity="0.67"/>
<circle cx="55.4" cy="41.8" r="1.7" fill="#b0aeda" opacity="0.79"/>
<circle cx="2.0" cy="49.6" r="2.2" fill="#b0aeda" opacity="0.73"/>
<circle cx="10.3" cy="47.1" r="1.7" fill="#b0aeda" opacity="0.73"/>
<circle cx="28.0" cy="49.6" r="1.7" fill="#b0aeda" opacity="0.70"/>
<circle cx="35.5" cy="45.5" r="2.3" fill="#b0aeda" opacity="0.55"/>
<circle cx="41.7" cy="46.0" r="2.2" fill="#b0aeda" opacity="0.74"/>
<circle cx="59.5" cy="47.4" r="1.8" fill="#b0aeda" opacity="0.55"/>
<circle cx="-3.9" cy="53.3" r="2.3" fill="#b0aeda" opacity="0.76"/>
<circle cx="6.7" cy="55.2" r="1.9" fill="#b0aeda" opacity="0.61"/>
<circle cx="12.8" cy="53.3" r="1.7" fill="#b0aeda" opacity="0.78"/>
<circle cx="48.2" cy="56.5" r="2.1" fill="#b0aeda" opacity="0.69"/>
<circle cx="61.7" cy="54.4" r="1.9" fill="#b0aeda" opacity="0.62"/>
<circle cx="-1.0" cy="64.7" r="2.3" fill="#b0aeda" opacity="0.70"/>
<circle cx="17.2" cy="60.2" r="2.0" fill="#b0aeda" opacity="0.67"/>
<circle cx="33.6" cy="60.2" r="2.2" fill="#b0aeda" opacity="0.55"/>
<circle cx="43.7" cy="60.3" r="2.1" fill="#b0aeda" opacity="0.56"/>
<circle cx="58.7" cy="64.4" r="2.1" fill="#b0aeda" opacity="0.67"/>
<circle cx="-5.1" cy="70.8" r="1.6" fill="#b0aeda" opacity="0.68"/>
<circle cx="10.2" cy="68.8" r="1.6" fill="#b0aeda" opacity="0.74"/>
<circle cx="29.5" cy="70.7" r="2.0" fill="#b0aeda" opacity="0.77"/>
<circle cx="36.0" cy="69.9" r="1.8" fill="#b0aeda" opacity="0.77"/>
<circle cx="45.3" cy="67.6" r="1.9" fill="#b0aeda" opacity="0.65"/>
<circle cx="56.4" cy="69.6" r="1.7" fill="#b0aeda" opacity="0.60"/>
<circle cx="62.1" cy="70.7" r="1.9" fill="#b0aeda" opacity="0.65"/>
<circle cx="10.4" cy="76.6" r="2.1" fill="#b0aeda" opacity="0.57"/>
<circle cx="27.7" cy="77.5" r="1.8" fill="#b0aeda" opacity="0.77"/>
<circle cx="35.1" cy="74.9" r="2.0" fill="#b0aeda" opacity="0.73"/>
<circle cx="51.9" cy="76.1" r="1.8" fill="#b0aeda" opacity="0.77"/>
<circle cx="58.2" cy="75.9" r="1.8" fill="#b0aeda" opacity="0.73"/>
<circle cx="-6.4" cy="84.3" r="2.0" fill="#b0aeda" opacity="0.60"/>
<circle cx="5.0" cy="85.2" r="2.2" fill="#b0aeda" opacity="0.60"/>
<circle cx="11.9" cy="84.2" r="2.2" fill="#b0aeda" opacity="0.75"/>
<circle cx="19.5" cy="83.4" r="2.0" fill="#b0aeda" opacity="0.60"/>
<circle cx="29.6" cy="85.8" r="2.1" fill="#b0aeda" opacity="0.75"/>
<circle cx="56.6" cy="82.2" r="2.0" fill="#b0aeda" opacity="0.57"/>
<circle cx="-1.0" cy="90.4" r="1.9" fill="#b0aeda" opacity="0.61"/>
<circle cx="8.3" cy="90.0" r="2.0" fill="#b0aeda" opacity="0.76"/>
<circle cx="14.5" cy="91.1" r="1.7" fill="#b0aeda" opacity="0.68"/>
<circle cx="24.0" cy="93.7" r="2.1" fill="#b0aeda" opacity="0.78"/>
<circle cx="33.6" cy="93.2" r="1.8" fill="#b0aeda" opacity="0.56"/>
<circle cx="42.8" cy="93.7" r="2.3" fill="#b0aeda" opacity="0.57"/>
<circle cx="60.4" cy="94.0" r="2.3" fill="#b0aeda" opacity="0.66"/>
<circle cx="-5.1" cy="98.5" r="2.3" fill="#b0aeda" opacity="0.69"/>
<circle cx="4.6" cy="99.3" r="1.8" fill="#b0aeda" opacity="0.71"/>
<circle cx="14.0" cy="97.0" r="2.3" fill="#b0aeda" opacity="0.61"/>
<circle cx="19.4" cy="98.2" r="1.7" fill="#b0aeda" opacity="0.59"/>
<circle cx="28.4" cy="98.7" r="1.6" fill="#b0aeda" opacity="0.67"/>
<circle cx="38.4" cy="100.8" r="2.3" fill="#b0aeda" opacity="0.66"/>
<circle cx="45.4" cy="101.6" r="1.7" fill="#b0aeda" opacity="0.71"/>
<circle cx="66.0" cy="101.1" r="2.3" fill="#b0aeda" opacity="0.61"/>
<circle cx="-2.0" cy="106.5" r="1.9" fill="#b0aeda" opacity="0.69"/>
<circle cx="8.0" cy="108.6" r="2.3" fill="#b0aeda" opacity="0.71"/>
<circle cx="18.7" cy="104.1" r="1.7" fill="#b0aeda" opacity="0.55"/>
<circle cx="28.0" cy="108.8" r="2.1" fill="#b0aeda" opacity="0.64"/>
<circle cx="35.5" cy="107.6" r="2.0" fill="#b0aeda" opacity="0.64"/>
<circle cx="42.4" cy="106.0" r="2.0" fill="#b0aeda" opacity="0.55"/>
<circle cx="50.1" cy="108.1" r="1.9" fill="#b0aeda" opacity="0.70"/>
<ellipse cx="16.3" cy="6.1" rx="1.5" ry="1.6" fill="#6a68cc" opacity="0.85"/>
<ellipse cx="21.4" cy="78.6" rx="1.0" ry="0.8" fill="#6a68cc" opacity="0.85"/>
<ellipse cx="2.9" cy="8.3" rx="1.2" ry="1.5" fill="#6a68cc" opacity="0.85"/>
<ellipse cx="36.0" cy="101.3" rx="1.1" ry="1.3" fill="#6a68cc" opacity="0.85"/>
<ellipse cx="7.8" cy="68.6" rx="1.2" ry="0.9" fill="#6a68cc" opacity="0.85"/>
<ellipse cx="13.8" cy="67.7" rx="1.1" ry="1.0" fill="#6a68cc" opacity="0.85"/>
<ellipse cx="4.3" cy="85.2" rx="1.1" ry="1.1" fill="#6a68cc" opacity="0.85"/>
<ellipse cx="19.2" cy="7.9" rx="1.1" ry="1.2" fill="#6a68cc" opacity="0.85"/>
<circle cx="8.6" cy="13.3" r="0.9" fill="#a8682e" opacity="0.8"/>
</g>
<path d="M53.4,82.6V101.6M51.6,82.6H53.4M51.6,85.6H53.4M51.6,88.6H53.4M51.6,91.6H53.4M51.6,94.6H53.4M51.6,97.6H53.4M51.6,100.6H53.4" stroke="#555" stroke-width="0.6" fill="none"/>
</svg>
<svg x="93.5" y="685.0" width="56.1" height="103.6" viewBox="0 0 56.1 103.6">
<rect width="56.1" height="103.6" fill="#e6d4be"/>
<g filter="url(#bl2)">
<ellipse cx="44.7" cy="6.1" rx="11.1" ry="9.2" fill="#dec6a6" opacity="0.44"/>
<ellipse cx="50.6" cy="81.4" rx="8.3" ry="6.2" fill="#dec6a6" opacity="0.66"/>
<ellipse cx="22.5" cy="59.3" rx="9.9" ry="4.3" fill="#dec6a6" opacity="0.69"/>
<ellipse cx="39.7" cy="95.5" rx="10.7" ry="7.9" fill="#dec6a6" opacity="0.69"/>
<ellipse cx="10.5" cy="52.0" rx="12.2" ry="9.6" fill="#dec6a6" opacity="0.41"/>
<ellipse cx="49.2" cy="65.9" rx="8.3" ry="4.8" fill="#dec6a6" opacity="0.75"/>
<ellipse cx="14.2" cy="61.4" rx="5.6" ry="7.3" fill="#dec6a6" opacity="0.56"/>
<ellipse cx="17.2" cy="17.2" rx="5.3" ry="9.2" fill="#dec6a6" opacity="0.64"/>
<ellipse cx="0.3" cy="60.0" rx="11.1" ry="5.2" fill="#dec6a6" opacity="0.77"/>
<ellipse cx="47.3" cy="55.8" rx="12.9" ry="5.3" fill="#dec6a6" opacity="0.42"/>
<ellipse cx="20.8" cy="18.9" rx="12.6" ry="4.7" fill="#dec6a6" opacity="0.54"/>
<ellipse cx="48.4" cy="4.3" rx="5.7" ry="7.1" fill="#dec6a6" opacity="0.54"/>
<ellipse cx="1.2" cy="69.5" rx="11.7" ry="4.3" fill="#dec6a6" opacity="0.45"/>
<ellipse cx="6.8" cy="49.2" rx="10.2" ry="5.6" fill="#dec6a6" opacity="0.73"/>
<ellipse cx="5.4" cy="93.3" rx="6.8" ry="4.7" fill="#dec6a6" opacity="0.48"/>
<ellipse cx="31.3" cy="92.8" rx="5.9" ry="7.7" fill="#dec6a6" opacity="0.61"/>
<polyline fill="none" stroke="#f1ece9" stroke-width="3.7" stroke-linecap="round" stroke-linejoin="round" opacity="0.85" points="23.5,81.3 28.8,84.5 34.7,87.7 35.8,86.3 43.6,91.5 45.5,94.2"/>
<polyline fill="none" stroke="#f1ece9" stroke-width="3.6" stroke-linecap="round" stroke-linejoin="round" opacity="0.85" points="-2.4,13.8 4.3,14.3 12.9,17.4 17.8,17.4 28.6,23.7 33.6,25.6"/>
<polyline fill="none" stroke="#f1ece9" stroke-width="3.8" stroke-linecap="round" stroke-linejoin="round" opacity="0.85" points="-2.9,22.8 1.9,29.2 6.9,33.0 13.4,36.0 14.2,41.7 21.9,43.3"/>
</g>
<rect width="56.1" height="103.6" filter="url(#grain)" opacity="0.22"/>
<g filter="url(#bl)">
<circle cx="-3.1" cy="-4.2" r="2.2" fill="#b8b4dc" stroke="#a29ec2" stroke-width="0.5" opacity="0.69"/>
<circle cx="3.0" cy="-1.4" r="1.9" fill="#b8b4dc" stroke="#a29ec2" stroke-width="0.5" opacity="0.56"/>
<circle cx="9.4" cy="-3.9" r="2.0" fill="#b8b4dc" stroke="#a29ec2" stroke-width="0.5" opacity="0.62"/>
<circle cx="13.1" cy="-1.3" r="2.0" fill="#b8b4dc" stroke="#a29ec2" stroke-width="0.5" opacity="0.58"/>
<circle cx="20.8" cy="-2.6" r="1.6" fill="#b8b4dc" stroke="#a29ec2" stroke-width="0.5" opacity="0.72"/>
<circle cx="26.9" cy="-1.5" r="1.9" fill="#b8b4dc" stroke="#a29ec2" stroke-width="0.5" opacity="0.58"/>
<circle cx="36.5" cy="-4.1" r="1.7" fill="#b8b4dc" stroke="#a29ec2" stroke-width="0.5" opacity="0.58"/>
<circle cx="43.6" cy="-3.7" r="2.0" fill="#b8b4dc" stroke="#a29ec2" stroke-width="0.5" opacity="0.68"/>
<circle cx="50.7" cy="-3.3" r="2.0" fill="#b8b4dc" stroke="#a29ec2" stroke-width="0.5" opacity="0.63"/>
<circle cx="59.6" cy="-1.6" r="1.8" fill="#b8b4dc" stroke="#a29ec2" stroke-width="0.5" opacity="0.60"/>
<circle cx="0.2" cy="1.5" r="1.9" fill="#b8b4dc" stroke="#a29ec2" stroke-width="0.5" opacity="0.78"/>
<circle cx="11.8" cy="3.5" r="1.8" fill="#b8b4dc" stroke="#a29ec2" stroke-width="0.5" opacity="0.76"/>
<circle cx="23.0" cy="1.8" r="2.1" fill="#b8b4dc" stroke="#a29ec2" stroke-width="0.5" opacity="0.80"/>
<circle cx="29.3" cy="1.2" r="1.7" fill="#b8b4dc" stroke="#a29ec2" stroke-width="0.5" opacity="0.63"/>
<circle cx="34.9" cy="3.5" r="2.2" fill="#b8b4dc" stroke="#a29ec2" stroke-width="0.5" opacity="0.60"/>
<circle cx="41.4" cy="1.6" r="1.8" fill="#b8b4dc" stroke="#a29ec2" stroke-width="0.5" opacity="0.74"/>
<circle cx="57.7" cy="1.1" r="1.7" fill="#b8b4dc" stroke="#a29ec2" stroke-width="0.5" opacity="0.60"/>
<circle cx="-2.0" cy="5.9" r="2.2" fill="#b8b4dc" stroke="#a29ec2" stroke-width="0.5" opacity="0.55"/>
<circle cx="20.1" cy="8.6" r="2.3" fill="#b8b4dc" stroke="#a29ec2" stroke-width="0.5" opacity="0.60"/>
<circle cx="30.3" cy="5.8" r="1.9" fill="#b8b4dc" stroke="#a29ec2" stroke-width="0.5" opacity="0.77"/>
<circle cx="36.1" cy="8.0" r="2.3" fill="#b8b4dc" stroke="#a29ec2" stroke-width="0.5" opacity="0.75"/>
<circle cx="43.0" cy="8.6" r="2.1" fill="#b8b4dc" stroke="#a29ec2" stroke-width="0.5" opacity="0.79"/>
<circle cx="49.7" cy="5.7" r="2.1" fill="#b8b4dc" stroke="#a29ec2" stroke-width="0.5" opacity="0.72"/>
<circle cx="56.8" cy="7.5" r="2.0" fill="#b8b4dc" stroke="#a29ec2" stroke-width="0.5" opacity="0.61"/>
<circle cx="59.3" cy="5.9" r="2.2" fill="#b8b4dc" stroke="#a29ec2" stroke-width="0.5" opacity="0.71"/>
<circle cx="1.1" cy="13.6" r="1.6" fill="#b8b4dc" stroke="#a29ec2" stroke-width="0.5" opacity="0.57"/>
<circle cx="6.6" cy="11.1" r="1.8" fill="#b8b4dc" stroke="#a29ec2" stroke-width="0.5" opacity="0.75"/>
<circle cx="11.0" cy="12.6" r="1.7" fill="#b8b4dc" stroke="#a29ec2" stroke-width="0.5" opacity="0.69"/>
<circle cx="23.3" cy="11.5" r="2.2" fill="#b8b4dc" stroke="#a29ec2" stroke-width="0.5" opacity="0.61"/>
<circle cx="29.2" cy="11.9" r="1.9" fill="#b8b4dc" stroke="#a29ec2" stroke-width="0.5" opacity="0.74"/>
<circle cx="34.0" cy="11.2" r="2.2" fill="#b8b4dc" stroke="#a29ec2" stroke-width="0.5" opacity="0.72"/>
<circle cx="47.5" cy="10.9" r="1.7" fill="#b8b4dc" stroke="#a29ec2" stroke-width="0.5" opacity="0.74"/>
<circle cx="53.9" cy="13.1" r="1.7" fill="#b8b4dc" stroke="#a29ec2" stroke-width="0.5" opacity="0.70"/>
<circle cx="58.8" cy="11.6" r="2.3" fill="#b8b4dc" stroke="#a29ec2" stroke-width="0.5" opacity="0.78"/>
<circle cx="-2.0" cy="17.6" r="2.3" fill="#b8b4dc" stroke="#a29ec2" stroke-width="0.5" opacity="0.59"/>
<circle cx="2.9" cy="15.6" r="1.8" fill="#b8b4dc" stroke="#a29ec2" stroke-width="0.5" opacity="0.55"/>
<circle cx="7.2" cy="17.8" r="1.6" fill="#b8b4dc" stroke="#a29ec2" stroke-width="0.5" opacity="0.78"/>
<circle cx="13.0" cy="18.6" r="2.1" fill="#b8b4dc" stroke="#a29ec2" stroke-width="0.5" opacity="0.76"/>
<circle cx="18.9" cy="18.4" r="1.6" fill="#b8b4dc" stroke="#a29ec2" stroke-width="0.5" opacity="0.76"/>
<circle cx="32.2" cy="15.6" r="2.3" fill="#b8b4dc" stroke="#a29ec2" stroke-width="0.5" opacity="0.72"/>
<circle cx="38.1" cy="16.7" r="2.1" fill="#b8b4dc" stroke="#a29ec2" stroke-width="0.5" opacity="0.71"/>
<circle cx="44.7" cy="17.0" r="1.9" fill="#b8b4dc" stroke="#a29ec2" stroke-width="0.5" opacity="0.76"/>
<circle cx="47.6" cy="17.5" r="1.9" fill="#b8b4dc" stroke="#a29ec2" stroke-width="0.5" opacity="0.78"/>
<circle cx="55.6" cy="18.2" r="1.7" fill="#b8b4dc" stroke="#a29ec2" stroke-width="0.5" opacity="0.64"/>
<circle cx="-0.2" cy="21.0" r="1.8" fill="#b8b4dc" stroke="#a29ec2" stroke-width="0.5" opacity="0.60"/>
<circle cx="5.0" cy="23.0" r="1.7" fill="#b8b4dc" stroke="#a29ec2" stroke-width="0.5" opacity="0.75"/>
<circle cx="11.7" cy="21.5" r="2.1" fill="#b8b4dc" stroke="#a29ec2" stroke-width="0.5" opacity="0.69"/>
<circle cx="23.3" cy="22.6" r="1.7" fill="#b8b4dc" stroke="#a29ec2" stroke-width="0.5" opacity="0.66"/>
<circle cx="29.6" cy="21.8" r="1.9" fill="#b8b4dc" stroke="#a29ec2" stroke-width="0.5" opacity="0.58"/>
<circle cx="34.0" cy="23.5" r="2.2" fill="#b8b4dc" stroke="#a29ec2" stroke-width="0.5" opacity="0.69"/>
<circle cx="41.2" cy="21.2" r="2.1" fill="#b8b4dc" stroke="#a29ec2" stroke-width="0.5" opacity="0.76"/>
<circle cx="48.0" cy="23.9" r="1.8" fill="#b8b4dc" stroke="#a29ec2" stroke-width="0.5" opacity="0.57"/>
<circle cx="52.3" cy="20.9" r="1.8" fill="#b8b4dc" stroke="#a29ec2" stroke-width="0.5" opacity="0.55"/>
<circle cx="58.7" cy="20.9" r="2.2" fill="#b8b4dc" stroke="#a29ec2" stroke-width="0.5" opacity="0.57"/>
<circle cx="-1.9" cy="27.6" r="2.3" fill="#b8b4dc" stroke="#a29ec2" stroke-width="0.5" opacity="0.56"/>
<circle cx="3.7" cy="28.4" r="1.9" fill="#b8b4dc" stroke="#a29ec2" stroke-width="0.5" opacity="0.69"/>
<circle cx="10.2" cy="29.0" r="2.2" fill="#b8b4dc" stroke="#a29ec2" stroke-width="0.5" opacity="0.58"/>
<circle cx="15.3" cy="28.2" r="1.8" fill="#b8b4dc" stroke="#a29ec2" stroke-width="0.5" opacity="0.71"/>
<circle cx="26.7" cy="27.2" r="2.1" fill="#b8b4dc" stroke="#a29ec2" stroke-width="0.5" opacity="0.64"/>
<circle cx="31.7" cy="26.4" r="2.2" fill="#b8b4dc" stroke="#a29ec2" stroke-width="0.5" opacity="0.72"/>
<circle cx="38.6" cy="28.3" r="2.0" fill="#b8b4dc" stroke="#a29ec2" stroke-width="0.5" opacity="0.77"/>
<circle cx="43.2" cy="25.8" r="2.3" fill="#b8b4dc" stroke="#a29ec2" stroke-width="0.5" opacity="0.65"/>
<circle cx="49.6" cy="27.1" r="2.2" fill="#b8b4dc" stroke="#a29ec2" stroke-width="0.5" opacity="0.56"/>
<circle cx="56.8" cy="27.1" r="2.2" fill="#b8b4dc" stroke="#a29ec2" stroke-width="0.5" opacity="0.73"/>
<circle cx="60.9" cy="26.4" r="1.8" fill="#b8b4dc" stroke="#a29ec2" stroke-width="0.5" opacity="0.71"/>
<circle cx="1.3" cy="30.8" r="2.2" fill="#b8b4dc" stroke="#a29ec2" stroke-width="0.5" opacity="0.72"/>
<circle cx="7.0" cy="33.9" r="2.2" fill="#b8b4dc" stroke="#a29ec2" stroke-width="0.5" opacity="0.69"/>
<circle cx="11.4" cy="31.9" r="1.8" fill="#b8b4dc" stroke="#a29ec2" stroke-width="0.5" opacity="0.70"/>
<circle cx="16.6" cy="30.8" r="1.9" fill="#b8b4dc" stroke="#a29ec2" stroke-width="0.5" opacity="0.55"/>
<circle cx="29.7" cy="31.4" r="1.6" fill="#b8b4dc" stroke="#a29ec2" stroke-width="0.5" opacity="0.59"/>
<circle cx="34.0" cy="32.2" r="2.1" fill="#b8b4dc" stroke="#a29ec2" stroke-width="0.5" opacity="0.72"/>
<circle cx="41.2" cy="33.5" r="2.2" fill="#b8b4dc" stroke="#a29ec2" stroke-width="0.5" opacity="0.62"/>
<circle cx="46.3" cy="31.9" r="2.2" fill="#b8b4dc" stroke="#a29ec2" stroke-width="0.5" opacity="0.71"/>
<circle cx="53.7" cy="33.8" r="2.1" fill="#b8b4dc" stroke="#a29ec2" stroke-width="0.5" opacity="0.57"/>
<circle cx="57.5" cy="32.6" r="1.8" fill="#b8b4dc" stroke="#a29ec2" stroke-width="0.5" opacity="0.72"/>
<circle cx="-4.4" cy="36.0" r="1.9" fill="#b8b4dc" stroke="#a29ec2" stroke-width="0.5" opacity="0.63"/>
<circle cx="8.0" cy="36.3" r="1.7" fill="#b8b4dc" stroke="#a29ec2" stroke-width="0.5" opacity="0.79"/>
<circle cx="12.9" cy="37.7" r="2.0" fill="#b8b4dc" stroke="#a29ec2" stroke-width="0.5" opacity="0.77"/>
<circle cx="21.4" cy="39.1" r="1.9" fill="#b8b4dc" stroke="#a29ec2" stroke-width="0.5" opacity="0.56"/>
<circle cx="24.6" cy="36.6" r="1.8" fill="#b8b4dc" stroke="#a29ec2" stroke-width="0.5" opacity="0.74"/>
<circle cx="30.2" cy="37.8" r="2.1" fill="#b8b4dc" stroke="#a29ec2" stroke-width="0.5" opacity="0.71"/>
<circle cx="36.1" cy="36.3" r="2.0" fill="#b8b4dc" stroke="#a29ec2" stroke-width="0.5" opacity="0.72"/>
<circle cx="44.1" cy="38.9" r="1.9" fill="#b8b4dc" stroke="#a29ec2" stroke-width="0.5" opacity="0.55"/>
<circle cx="55.0" cy="37.8" r="1.8" fill="#b8b4dc" stroke="#a29ec2" stroke-width="0.5" opacity="0.57"/>
<circle cx="61.0" cy="36.4" r="2.0" fill="#b8b4dc" stroke="#a29ec2" stroke-width="0.5" opacity="0.78"/>
<circle cx="-0.9" cy="44.0" r="1.8" fill="#b8b4dc" stroke="#a29ec2" stroke-width="0.5" opacity="0.59"/>
<circle cx="5.5" cy="41.1" r="1.9" fill="#b8b4dc" stroke="#a29ec2" stroke-width="0.5" opacity="0.71"/>
<circle cx="10.4" cy="41.9" r="2.3" fill="#b8b4dc" stroke="#a29ec2" stroke-width="0.5" opacity="0.73"/>
<circle cx="18.1" cy="41.5" r="1.6" fill="#b8b4dc" stroke="#a29ec2" stroke-width="0.5" opacity="0.63"/>
<circle cx="21.8" cy="42.9" r="1.7" fill="#b8b4dc" stroke="#a29ec2" stroke-width="0.5" opacity="0.67"/>
<circle cx="29.2" cy="43.3" r="1.9" fill="#b8b4dc" stroke="#a29ec2" stroke-width="0.5" opacity="0.58"/>
<circle cx="36.0" cy="43.7" r="2.0" fill="#b8b4dc" stroke="#a29ec2" stroke-width="0.5" opacity="0.68"/>
<circle cx="40.8" cy="43.3" r="1.7" fill="#b8b4dc" stroke="#a29ec2" stroke-width="0.5" opacity="0.59"/>
<circle cx="47.1" cy="43.1" r="1.8" fill="#b8b4dc" stroke="#a29ec2" stroke-width="0.5" opacity="0.62"/>
<circle cx="50.5" cy="42.5" r="1.8" fill="#b8b4dc" stroke="#a29ec2" stroke-width="0.5" opacity="0.60"/>
<circle cx="58.1" cy="43.7" r="1.7" fill="#b8b4dc" stroke="#a29ec2" stroke-width="0.5" opacity="0.70"/>
<circle cx="-4.6" cy="46.3" r="1.9" fill="#b8b4dc" stroke="#a29ec2" stroke-width="0.5" opacity="0.61"/>
<circle cx="2.8" cy="48.1" r="1.6" fill="#b8b4dc" stroke="#a29ec2" stroke-width="0.5" opacity="0.76"/>
<circle cx="8.7" cy="47.3" r="1.7" fill="#b8b4dc" stroke="#a29ec2" stroke-width="0.5" opacity="0.58"/>
<circle cx="14.5" cy="46.2" r="1.7" fill="#b8b4dc" stroke="#a29ec2" stroke-width="0.5" opacity="0.76"/>
<circle cx="21.4" cy="47.2" r="2.0" fill="#b8b4dc" stroke="#a29ec2" stroke-width="0.5" opacity="0.65"/>
<circle cx="26.1" cy="46.2" r="1.9" fill="#b8b4dc" stroke="#a29ec2" stroke-width="0.5" opacity="0.75"/>
<circle cx="33.2" cy="48.2" r="2.0" fill="#b8b4dc" stroke="#a29ec2" stroke-width="0.5" opacity="0.72"/>
<circle cx="38.4" cy="48.3" r="2.1" fill="#b8b4dc" stroke="#a29ec2" stroke-width="0.5" opacity="0.56"/>
<circle cx="43.7" cy="49.2" r="1.8" fill="#b8b4dc" stroke="#a29ec2" stroke-width="0.5" opacity="0.59"/>
<circle cx="49.2" cy="47.0" r="2.0" fill="#b8b4dc" stroke="#a29ec2" stroke-width="0.5" opacity="0.70"/>
<circle cx="56.3" cy="48.1" r="1.6" fill="#b8b4dc" stroke="#a29ec2" stroke-width="0.5" opacity="0.57"/>
<circle cx="61.3" cy="48.3" r="1.6" fill="#b8b4dc" stroke="#a29ec2" stroke-width="0.5" opacity="0.67"/>
<circle cx="-1.4" cy="51.5" r="1.6" fill="#b8b4dc" stroke="#a29ec2" stroke-width="0.5" opacity="0.71"/>
<circle cx="10.6" cy="52.0" r="2.0" fill="#b8b4dc" stroke="#a29ec2" stroke-width="0.5" opacity="0.60"/>
<circle cx="17.2" cy="53.4" r="1.9" fill="#b8b4dc" stroke="#a29ec2" stroke-width="0.5" opacity="0.71"/>
<circle cx="24.4" cy="53.8" r="2.1" fill="#b8b4dc" stroke="#a29ec2" stroke-width="0.5" opacity="0.71"/>
<circle cx="29.7" cy="50.9" r="1.6" fill="#b8b4dc" stroke="#a29ec2" stroke-width="0.5" opacity="0.55"/>
<circle cx="33.6" cy="54.0" r="1.9" fill="#b8b4dc" stroke="#a29ec2" stroke-width="0.5" opacity="0.55"/>
<circle cx="46.2" cy="52.7" r="2.1" fill="#b8b4dc" stroke="#a29ec2" stroke-width="0.5" opacity="0.79"/>
<circle cx="53.9" cy="51.1" r="2.2" fill="#b8b4dc" stroke="#a29ec2" stroke-width="0.5" opacity="0.76"/>
<circle cx="58.4" cy="51.5" r="1.9" fill="#b8b4dc" stroke="#a29ec2" stroke-width="0.5" opacity="0.74"/>
<circle cx="-2.5" cy="58.8" r="1.6" fill="#b8b4dc" stroke="#a29ec2" stroke-width="0.5" opacity="0.58"/>
<circle cx="3.8" cy="58.1" r="2.0" fill="#b8b4dc" stroke="#a29ec2" stroke-width="0.5" opacity="0.76"/>
<circle cx="8.2" cy="58.7" r="1.8" fill="#b8b4dc" stroke="#a29ec2" stroke-width="0.5" opacity="0.72"/>
<circle cx="13.2" cy="58.7" r="2.1" fill="#b8b4dc" stroke="#a29ec2" stroke-width="0.5" opacity="0.56"/>
<circle cx="18.9" cy="58.9" r="2.1" fill="#b8b4dc" stroke="#a29ec2" stroke-width="0.5" opacity="0.69"/>
<circle cx="26.8" cy="59.0" r="2.1" fill="#b8b4dc" stroke="#a29ec2" stroke-width="0.5" opacity="0.80"/>
<circle cx="30.7" cy="58.6" r="2.3" fill="#b8b4dc" stroke="#a29ec2" stroke-width="0.5" opacity="0.71"/>
<circle cx="37.4" cy="58.9" r="1.7" fill="#b8b4dc" stroke="#a29ec2" stroke-width="0.5" opacity="0.59"/>
<circle cx="44.6" cy="56.9" r="1.6" fill="#b8b4dc" stroke="#a29ec2" stroke-width="0.5" opacity="0.76"/>
<circle cx="54.4" cy="57.9" r="2.3" fill="#b8b4dc" stroke="#a29ec2" stroke-width="0.5" opacity="0.75"/>
<circle cx="59.4" cy="56.7" r="1.6" fill="#b8b4dc" stroke="#a29ec2" stroke-width="0.5" opacity="0.61"/>
<circle cx="-0.7" cy="62.7" r="2.2" fill="#b8b4dc" stroke="#a29ec2" stroke-width="0.5" opacity="0.63"/>
<circle cx="5.0" cy="61.2" r="2.0" fill="#b8b4dc" stroke="#a29ec2" stroke-width="0.5" opacity="0.62"/>
<circle cx="13.2" cy="62.0" r="2.2" fill="#b8b4dc" stroke="#a29ec2" stroke-width="0.5" opacity="0.79"/>
<circle cx="17.4" cy="63.8" r="2.2" fill="#b8b4dc" stroke="#a29ec2" stroke-width="0.5" opacity="0.66"/>
<circle cx="28.5" cy="63.5" r="1.7" fill="#b8b4dc" stroke="#a29ec2" stroke-width="0.5" opacity="0.72"/>
<circle cx="36.2" cy="64.4" r="2.3" fill="#b8b4dc" stroke="#a29ec2" stroke-width="0.5" opacity="0.61"/>
<circle cx="51.7" cy="63.1" r="2.0" fill="#b8b4dc" stroke="#a29ec2" stroke-width="0.5" opacity="0.64"/>
<circle cx="57.4" cy="64.2" r="1.9" fill="#b8b4dc" stroke="#a29ec2" stroke-width="0.5" opacity="0.66"/>
<circle cx="1.5" cy="68.3" r="2.1" fill="#b8b4dc" stroke="#a29ec2" stroke-width="0.5" opacity="0.77"/>
<circle cx="8.8" cy="68.3" r="1.9" fill="#b8b4dc" stroke="#a29ec2" stroke-width="0.5" opacity="0.58"/>
<circle cx="12.8" cy="68.8" r="1.7" fill="#b8b4dc" stroke="#a29ec2" stroke-width="0.5" opacity="0.58"/>
<circle cx="20.5" cy="68.6" r="2.0" fill="#b8b4dc" stroke="#a29ec2" stroke-width="0.5" opacity="0.59"/>
<circle cx="26.4" cy="66.9" r="2.0" fill="#b8b4dc" stroke="#a29ec2" stroke-width="0.5" opacity="0.55"/>
<circle cx="31.4" cy="68.5" r="1.8" fill="#b8b4dc" stroke="#a29ec2" stroke-width="0.5" opacity="0.71"/>
<circle cx="39.4" cy="69.2" r="2.0" fill="#b8b4dc" stroke="#a29ec2" stroke-width="0.5" opacity="0.77"/>
<circle cx="42.4" cy="67.1" r="2.2" fill="#b8b4dc" stroke="#a29ec2" stroke-width="0.5" opacity="0.66"/>
<circle cx="48.4" cy="69.2" r="2.0" fill="#b8b4dc" stroke="#a29ec2" stroke-width="0.5" opacity="0.71"/>
<circle cx="56.2" cy="68.9" r="2.2" fill="#b8b4dc" stroke="#a29ec2" stroke-width="0.5" opacity="0.55"/>
<circle cx="60.6" cy="68.6" r="1.7" fill="#b8b4dc" stroke="#a29ec2" stroke-width="0.5" opacity="0.73"/>
<circle cx="0.8" cy="73.3" r="2.0" fill="#b8b4dc" stroke="#a29ec2" stroke-width="0.5" opacity="0.67"/>
<circle cx="6.5" cy="71.7" r="1.6" fill="#b8b4dc" stroke="#a29ec2" stroke-width="0.5" opacity="0.64"/>
<circle cx="10.3" cy="73.8" r="1.7" fill="#b8b4dc" stroke="#a29ec2" stroke-width="0.5" opacity="0.68"/>
<circle cx="16.8" cy="74.4" r="1.9" fill="#b8b4dc" stroke="#a29ec2" stroke-width="0.5" opacity="0.68"/>
<circle cx="22.4" cy="74.0" r="2.1" fill="#b8b4dc" stroke="#a29ec2" stroke-width="0.5" opacity="0.63"/>
<circle cx="30.7" cy="74.2" r="2.1" fill="#b8b4dc" stroke="#a29ec2" stroke-width="0.5" opacity="0.65"/>
<circle cx="35.4" cy="72.5" r="1.7" fill="#b8b4dc" stroke="#a29ec2" stroke-width="0.5" opacity="0.63"/>
<circle cx="41.5" cy="74.1" r="1.8" fill="#b8b4dc" stroke="#a29ec2" stroke-width="0.5" opacity="0.65"/>
<circle cx="45.6" cy="72.7" r="1.7" fill="#b8b4dc" stroke="#a29ec2" stroke-width="0.5" opacity="0.64"/>
<circle cx="52.2" cy="73.1" r="1.8" fill="#b8b4dc" stroke="#a29ec2" stroke-width="0.5" opacity="0.71"/>
<circle cx="59.6" cy="71.8" r="2.2" fill="#b8b4dc" stroke="#a29ec2" stroke-width="0.5" opacity="0.59"/>
<circle cx="1.2" cy="76.7" r="1.9" fill="#b8b4dc" stroke="#a29ec2" stroke-width="0.5" opacity="0.57"/>
<circle cx="7.8" cy="76.5" r="1.7" fill="#b8b4dc" stroke="#a29ec2" stroke-width="0.5" opacity="0.76"/>
<circle cx="15.6" cy="77.9" r="1.8" fill="#b8b4dc" stroke="#a29ec2" stroke-width="0.5" opacity="0.78"/>
<circle cx="20.1" cy="77.7" r="1.6" fill="#b8b4dc" stroke="#a29ec2" stroke-width="0.5" opacity="0.74"/>
<circle cx="24.6" cy="78.4" r="2.1" fill="#b8b4dc" stroke="#a29ec2" stroke-width="0.5" opacity="0.59"/>
<circle cx="38.6" cy="76.8" r="2.0" fill="#b8b4dc" stroke="#a29ec2" stroke-width="0.5" opacity="0.67"/>
<circle cx="49.4" cy="77.1" r="2.0" fill="#b8b4dc" stroke="#a29ec2" stroke-width="0.5" opacity="0.71"/>
<circle cx="53.5" cy="77.1" r="2.1" fill="#b8b4dc" stroke="#a29ec2" stroke-width="0.5" opacity="0.61"/>
<circle cx="-1.3" cy="84.4" r="1.9" fill="#b8b4dc" stroke="#a29ec2" stroke-width="0.5" opacity="0.64"/>
<circle cx="10.0" cy="84.6" r="1.8" fill="#b8b4dc" stroke="#a29ec2" stroke-width="0.5" opacity="0.71"/>
<circle cx="16.3" cy="84.5" r="2.1" fill="#b8b4dc" stroke="#a29ec2" stroke-width="0.5" opacity="0.77"/>
<circle cx="23.2" cy="81.7" r="2.3" fill="#b8b4dc" stroke="#a29ec2" stroke-width="0.5" opacity="0.73"/>
<circle cx="27.4" cy="84.0" r="1.8" fill="#b8b4dc" stroke="#a29ec2" stroke-width="0.5" opacity="0.66"/>
<circle cx="41.4" cy="81.6" r="2.3" fill="#b8b4dc" stroke="#a29ec2" stroke-width="0.5" opacity="0.64"/>
<circle cx="47.5" cy="82.7" r="1.6" fill="#b8b4dc" stroke="#a29ec2" stroke-width="0.5" opacity="0.60"/>
<circle cx="53.3" cy="83.4" r="2.0" fill="#b8b4dc" stroke="#a29ec2" stroke-width="0.5" opacity="0.58"/>
<circle cx="59.7" cy="83.8" r="2.0" fill="#b8b4dc" stroke="#a29ec2" stroke-width="0.5" opacity="0.59"/>
<circle cx="-3.0" cy="87.5" r="2.2" fill="#b8b4dc" stroke="#a29ec2" stroke-width="0.5" opacity="0.63"/>
<circle cx="2.4" cy="89.3" r="2.0" fill="#b8b4dc" stroke="#a29ec2" stroke-width="0.5" opacity="0.72"/>
<circle cx="7.7" cy="87.3" r="1.7" fill="#b8b4dc" stroke="#a29ec2" stroke-width="0.5" opacity="0.62"/>
<circle cx="26.1" cy="89.1" r="1.9" fill="#b8b4dc" stroke="#a29ec2" stroke-width="0.5" opacity="0.75"/>
<circle cx="33.4" cy="87.3" r="1.8" fill="#b8b4dc" stroke="#a29ec2" stroke-width="0.5" opacity="0.68"/>
<circle cx="37.8" cy="89.5" r="2.1" fill="#b8b4dc" stroke="#a29ec2" stroke-width="0.5" opacity="0.58"/>
<circle cx="43.5" cy="88.7" r="2.1" fill="#b8b4dc" stroke="#a29ec2" stroke-width="0.5" opacity="0.79"/>
<circle cx="49.4" cy="86.4" r="1.7" fill="#b8b4dc" stroke="#a29ec2" stroke-width="0.5" opacity="0.70"/>
<circle cx="54.0" cy="88.6" r="1.6" fill="#b8b4dc" stroke="#a29ec2" stroke-width="0.5" opacity="0.77"/>
<circle cx="62.2" cy="88.9" r="2.2" fill="#b8b4dc" stroke="#a29ec2" stroke-width="0.5" opacity="0.65"/>
<circle cx="-1.4" cy="94.5" r="1.8" fill="#b8b4dc" stroke="#a29ec2" stroke-width="0.5" opacity="0.62"/>
<circle cx="6.7" cy="92.0" r="2.1" fill="#b8b4dc" stroke="#a29ec2" stroke-width="0.5" opacity="0.67"/>
<circle cx="12.2" cy="93.4" r="2.3" fill="#b8b4dc" stroke="#a29ec2" stroke-width="0.5" opacity="0.55"/>
<circle cx="19.1" cy="93.3" r="2.2" fill="#b8b4dc" stroke="#a29ec2" stroke-width="0.5" opacity="0.74"/>
<circle cx="22.9" cy="92.5" r="1.9" fill="#b8b4dc" stroke="#a29ec2" stroke-width="0.5" opacity="0.71"/>
<circle cx="34.6" cy="93.3" r="1.7" fill="#b8b4dc" stroke="#a29ec2" stroke-width="0.5" opacity="0.71"/>
<circle cx="39.6" cy="94.1" r="2.1" fill="#b8b4dc" stroke="#a29ec2" stroke-width="0.5" opacity="0.63"/>
<circle cx="45.8" cy="92.9" r="1.8" fill="#b8b4dc" stroke="#a29ec2" stroke-width="0.5" opacity="0.73"/>
<circle cx="56.9" cy="93.3" r="1.7" fill="#b8b4dc" stroke="#a29ec2" stroke-width="0.5" opacity="0.72"/>
<circle cx="-1.7" cy="97.4" r="2.0" fill="#b8b4dc" stroke="#a29ec2" stroke-width="0.5" opacity="0.76"/>
<circle cx="1.5" cy="98.1" r="1.8" fill="#b8b4dc" stroke="#a29ec2" stroke-width="0.5" opacity="0.62"/>
<circle cx="8.3" cy="97.9" r="2.0" fill="#b8b4dc" stroke="#a29ec2" stroke-width="0.5" opacity="0.79"/>
<circle cx="13.0" cy="97.9" r="1.9" fill="#b8b4dc" stroke="#a29ec2" stroke-width="0.5" opacity="0.62"/>
<circle cx="18.7" cy="98.7" r="2.0" fill="#b8b4dc" stroke="#a29ec2" stroke-width="0.5" opacity="0.57"/>
<circle cx="26.8" cy="97.9" r="1.8" fill="#b8b4dc" stroke="#a29ec2" stroke-width="0.5" opacity="0.64"/>
<circle cx="33.4" cy="97.1" r="2.1" fill="#b8b4dc" stroke="#a29ec2" stroke-width="0.5" opacity="0.56"/>
<circle cx="37.9" cy="98.3" r="2.1" fill="#b8b4dc" stroke="#a29ec2" stroke-width="0.5" opacity="0.67"/>
<circle cx="42.0" cy="96.5" r="1.8" fill="#b8b4dc" stroke="#a29ec2" stroke-width="0.5" opacity="0.69"/>
<circle cx="55.1" cy="99.2" r="2.2" fill="#b8b4dc" stroke="#a29ec2" stroke-width="0.5" opacity="0.65"/>
<circle cx="60.6" cy="98.2" r="1.8" fill="#b8b4dc" stroke="#a29ec2" stroke-width="0.5" opacity="0.74"/>
<circle cx="0.7" cy="104.3" r="1.6" fill="#b8b4dc" stroke="#a29ec2" stroke-width="0.5" opacity="0.63"/>
<circle cx="5.9" cy="103.7" r="2.1" fill="#b8b4dc" stroke="#a29ec2" stroke-width="0.5" opacity="0.56"/>
<circle cx="10.3" cy="102.4" r="1.8" fill="#b8b4dc" stroke="#a29ec2" stroke-width="0.5" opacity="0.76"/>
<circle cx="16.6" cy="103.7" r="1.7" fill="#b8b4dc" stroke="#a29ec2" stroke-width="0.5" opacity="0.62"/>
<circle cx="23.5" cy="102.6" r="1.6" fill="#b8b4dc" stroke="#a29ec2" stroke-width="0.5" opacity="0.61"/>
<circle cx="28.9" cy="104.3" r="2.2" fill="#b8b4dc" stroke="#a29ec2" stroke-width="0.5" opacity="0.79"/>
<circle cx="36.2" cy="102.6" r="2.0" fill="#b8b4dc" stroke="#a29ec2" stroke-width="0.5" opacity="0.70"/>
<circle cx="40.7" cy="103.0" r="2.3" fill="#b8b4dc" stroke="#a29ec2" stroke-width="0.5" opacity="0.75"/>
<circle cx="44.8" cy="104.2" r="2.1" fill="#b8b4dc" stroke="#a29ec2" stroke-width="0.5" opacity="0.76"/>
<circle cx="51.4" cy="104.6" r="2.2" fill="#b8b4dc" stroke="#a29ec2" stroke-width="0.5" opacity="0.64"/>
<circle cx="-2.1" cy="109.8" r="1.6" fill="#b8b4dc" stroke="#a29ec2" stroke-width="0.5" opacity="0.56"/>
<circle cx="8.7" cy="106.9" r="1.9" fill="#b8b4dc" stroke="#a29ec2" stroke-width="0.5" opacity="0.59"/>
<circle cx="14.6" cy="107.8" r="1.7" fill="#b8b4dc" stroke="#a29ec2" stroke-width="0.5" opacity="0.59"/>
<circle cx="21.9" cy="106.9" r="2.1" fill="#b8b4dc" stroke="#a29ec2" stroke-width="0.5" opacity="0.57"/>
<circle cx="30.9" cy="106.6" r="1.8" fill="#b8b4dc" stroke="#a29ec2" stroke-width="0.5" opacity="0.65"/>
<circle cx="39.3" cy="109.8" r="1.7" fill="#b8b4dc" stroke="#a29ec2" stroke-width="0.5" opacity="0.76"/>
<circle cx="43.1" cy="108.6" r="1.9" fill="#b8b4dc" stroke="#a29ec2" stroke-width="0.5" opacity="0.73"/>
<circle cx="50.7" cy="109.6" r="1.6" fill="#b8b4dc" stroke="#a29ec2" stroke-width="0.5" opacity="0.62"/>
<circle cx="55.7" cy="109.5" r="2.1" fill="#b8b4dc" stroke="#a29ec2" stroke-width="0.5" opacity="0.68"/>
<circle cx="59.4" cy="109.1" r="1.8" fill="#b8b4dc" stroke="#a29ec2" stroke-width="0.5" opacity="0.73"/>
<ellipse cx="42.0" cy="74.6" rx="1.3" ry="1.0" fill="#6a68cc" opacity="0.85"/>
<ellipse cx="45.8" cy="12.1" rx="1.4" ry="1.1" fill="#6a68cc" opacity="0.85"/>
<ellipse cx="38.9" cy="14.3" rx="1.2" ry="1.0" fill="#6a68cc" opacity="0.85"/>
<ellipse cx="44.6" cy="59.6" rx="1.0" ry="1.3" fill="#6a68cc" opacity="0.85"/>
<ellipse cx="37.1" cy="90.7" rx="1.5" ry="1.2" fill="#6a68cc" opacity="0.85"/>
<ellipse cx="52.1" cy="64.6" rx="1.4" ry="1.8" fill="#6a68cc" opacity="0.85"/>
<ellipse cx="38.4" cy="17.7" rx="1.4" ry="1.9" fill="#6a68cc" opacity="0.85"/>
<ellipse cx="43.7" cy="51.4" rx="1.3" ry="1.0" fill="#6a68cc" opacity="0.85"/>
<ellipse cx="44.7" cy="86.5" rx="1.2" ry="1.1" fill="#6a68cc" opacity="0.85"/>
<ellipse cx="43.4" cy="4.5" rx="1.0" ry="0.9" fill="#6a68cc" opacity="0.85"/>
<ellipse cx="37.0" cy="27.7" rx="1.2" ry="1.0" fill="#6a68cc" opacity="0.85"/>
<ellipse cx="42.0" cy="79.0" rx="1.1" ry="1.4" fill="#6a68cc" opacity="0.85"/>
<ellipse cx="27.8" cy="50.7" rx="1.4" ry="1.4" fill="#6a68cc" opacity="0.85"/>
<ellipse cx="40.2" cy="67.3" rx="1.2" ry="1.5" fill="#6a68cc" opacity="0.85"/>
<ellipse cx="31.2" cy="52.0" rx="1.4" ry="1.5" fill="#6a68cc" opacity="0.85"/>
<ellipse cx="19.0" cy="2.5" rx="1.4" ry="0.9" fill="#6a68cc" opacity="0.85"/>
<ellipse cx="41.2" cy="80.2" rx="1.3" ry="1.8" fill="#6a68cc" opacity="0.85"/>
<ellipse cx="19.3" cy="12.1" rx="1.2" ry="1.0" fill="#6a68cc" opacity="0.85"/>
<ellipse cx="34.0" cy="41.4" rx="1.3" ry="1.0" fill="#6a68cc" opacity="0.85"/>
<ellipse cx="23.0" cy="76.6" rx="1.2" ry="1.6" fill="#6a68cc" opacity="0.85"/>
<circle cx="27.9" cy="65.8" r="1.0" fill="#a8682e" opacity="0.8"/>
</g>
<path d="M53.3,82.6V101.6M51.5,82.6H53.3M51.5,85.6H53.3M51.5,88.6H53.3M51.5,91.6H53.3M51.5,94.6H53.3M51.5,97.6H53.3M51.5,100.6H53.3" stroke="#555" stroke-width="0.6" fill="none"/>
</svg>
<svg x="151.3" y="685.0" width="57.1" height="103.6" viewBox="0 0 57.1 103.6">
<rect width="57.1" height="103.6" fill="#eee0cc"/>
<g filter="url(#bl2)">
<ellipse cx="29.7" cy="43.6" rx="6.8" ry="4.8" fill="#e2caa8" opacity="0.59"/>
<ellipse cx="35.7" cy="64.3" rx="10.7" ry="6.6" fill="#e2caa8" opacity="0.42"/>
<ellipse cx="12.9" cy="81.7" rx="8.4" ry="7.4" fill="#e2caa8" opacity="0.67"/>
<ellipse cx="43.2" cy="16.8" rx="8.7" ry="7.9" fill="#e2caa8" opacity="0.77"/>
<ellipse cx="16.0" cy="93.3" rx="11.8" ry="7.1" fill="#e2caa8" opacity="0.63"/>
<ellipse cx="53.4" cy="45.6" rx="7.3" ry="8.8" fill="#e2caa8" opacity="0.44"/>
<ellipse cx="41.0" cy="66.8" rx="8.1" ry="9.6" fill="#e2caa8" opacity="0.64"/>
<ellipse cx="8.8" cy="43.2" rx="12.6" ry="4.5" fill="#e2caa8" opacity="0.72"/>
<ellipse cx="31.4" cy="82.6" rx="12.4" ry="4.5" fill="#e2caa8" opacity="0.57"/>
<ellipse cx="27.6" cy="51.0" rx="11.7" ry="4.4" fill="#e2caa8" opacity="0.47"/>
<ellipse cx="42.9" cy="85.0" rx="12.6" ry="4.6" fill="#e2caa8" opacity="0.73"/>
<ellipse cx="0.6" cy="82.0" rx="6.8" ry="9.5" fill="#e2caa8" opacity="0.65"/>
<ellipse cx="27.0" cy="16.3" rx="12.1" ry="6.4" fill="#e2caa8" opacity="0.78"/>
<ellipse cx="1.5" cy="44.6" rx="5.3" ry="5.6" fill="#e2caa8" opacity="0.78"/>
<ellipse cx="19.2" cy="4.8" rx="8.0" ry="8.3" fill="#e2caa8" opacity="0.69"/>
<ellipse cx="46.8" cy="12.1" rx="9.1" ry="6.5" fill="#e2caa8" opacity="0.57"/>
<polyline fill="none" stroke="#f8f4ee" stroke-width="3.6" stroke-linecap="round" stroke-linejoin="round" opacity="0.85" points="31.1,8.1 36.7,17.2 42.9,21.2 47.1,25.0 48.0,29.8 54.4,33.9"/>
<polyline fill="none" stroke="#f8f4ee" stroke-width="3.7" stroke-linecap="round" stroke-linejoin="round" opacity="0.85" points="48.4,96.3 49.8,97.8 53.5,101.1 58.1,102.6 62.5,102.4 62.2,107.8"/>
<polyline fill="none" stroke="#f8f4ee" stroke-width="3.7" stroke-linecap="round" stroke-linejoin="round" opacity="0.85" points="8.3,15.9 13.8,15.1 16.7,10.8 19.8,4.7 24.7,0.4 30.6,-2.7"/>
<polyline fill="none" stroke="#f8f4ee" stroke-width="2.9" stroke-linecap="round" stroke-linejoin="round" opacity="0.85" points="19.4,56.2 25.4,55.3 30.3,55.2 36.5,51.2 38.5,47.0 44.6,46.1"/>
<polyline fill="none" stroke="#f8f4ee" stroke-width="2.1" stroke-linecap="round" stroke-linejoin="round" opacity="0.85" points="17.8,16.9 26.0,11.9 33.9,8.0 37.8,3.4 46.7,0.2 51.3,-4.8"/>
<polyline fill="none" stroke="#f8f4ee" stroke-width="3.9" stroke-linecap="round" stroke-linejoin="round" opacity="0.85" points="48.8,37.9 51.9,43.5 53.5,45.6 56.7,47.3 60.5,54.1 66.8,56.1"/>
<polyline fill="none" stroke="#f8f4ee" stroke-width="3.8" stroke-linecap="round" stroke-linejoin="round" opacity="0.85" points="8.2,51.3 10.8,45.8 17.2,41.1 22.9,37.1 26.0,33.7 30.9,27.2"/>
<polyline fill="none" stroke="#f8f4ee" stroke-width="2.1" stroke-linecap="round" stroke-linejoin="round" opacity="0.85" points="41.1,89.6 48.7,86.0 51.8,82.8 57.4,82.8 59.1,76.3 62.4,74.7"/>
<polyline fill="none" stroke="#f8f4ee" stroke-width="3.9" stroke-linecap="round" stroke-linejoin="round" opacity="0.85" points="5.7,32.0 8.9,41.1 11.5,46.2 19.8,51.0 24.8,55.6 30.3,61.6"/>
<polyline fill="none" stroke="#f8f4ee" stroke-width="3.1" stroke-linecap="round" stroke-linejoin="round" opacity="0.85" points="20.9,55.9 26.5,53.9 33.0,49.6 38.6,46.4 45.2,37.9 46.3,37.8"/>
</g>
<rect width="57.1" height="103.6" filter="url(#grain)" opacity="0.5"/>
<g filter="url(#bl)">
<path d="M-0.6,-2.0L-4.8,0.1L-9.2,-1.4L-9.6,-6.3L-4.9,-9.0L-1.3,-8.5ZM8.1,-4.7L4.9,-1.4L-0.4,-3.4L-0.4,-8.9L1.9,-10.6L7.6,-9.4ZM20.7,-3.9L16.2,0.6L12.1,-0.8L10.6,-6.9L16.0,-10.0L19.2,-7.9ZM29.6,-3.0L26.3,0.9L22.1,-0.3L19.4,-4.1L22.6,-8.9L29.0,-7.6ZM38.6,-3.7L35.6,-0.6L29.5,-1.8L28.9,-6.8L32.2,-9.5L36.0,-9.8ZM45.9,-1.8L42.2,-0.6L38.7,-4.2L40.8,-9.4L45.1,-11.0L48.4,-6.4ZM57.3,-1.5L52.0,1.0L49.6,-2.0L49.1,-6.4L54.0,-9.4L57.6,-6.5ZM66.7,-3.5L59.7,-0.4L57.1,-2.4L56.9,-8.0L63.5,-10.1L66.2,-8.2ZM4.2,6.4L-2.8,6.8L-4.2,2.6L-2.6,-1.7L3.1,-1.6L5.7,1.3ZM12.3,7.5L7.5,9.7L4.2,3.9L4.6,0.4L10.5,-1.3L13.4,3.7ZM24.9,2.7L20.7,7.3L16.9,7.0L14.4,2.1L16.4,-1.7L22.5,-1.6ZM31.9,8.6L28.1,9.1L24.4,8.1L24.8,1.0L29.3,-0.5L34.4,3.6ZM44.8,4.4L39.8,8.4L36.2,7.3L34.2,2.9L36.6,-0.5L42.5,-0.3ZM52.2,4.3L47.8,7.4L43.2,4.2L42.7,0.3L48.1,-1.8L52.9,0.1ZM61.5,5.6L56.6,8.2L52.4,6.6L52.0,0.4L57.5,-1.9L61.0,1.8ZM70.8,7.4L64.3,8.9L61.9,5.7L63.9,1.0L68.8,-0.3L72.3,4.3ZM-2.6,17.3L-7.7,17.9L-10.0,14.5L-9.4,9.9L-4.7,7.5L-1.0,12.1ZM9.4,13.8L3.9,17.4L1.0,17.5L-0.5,11.9L2.6,7.8L7.1,9.5ZM18.3,14.1L14.6,16.8L9.5,13.3L11.3,7.8L15.3,6.8L19.6,9.9ZM26.2,15.2L21.1,17.0L18.0,13.5L19.2,8.8L21.6,7.6L26.0,8.8ZM37.8,13.0L34.5,16.0L30.6,16.2L28.0,10.8L31.2,7.1L36.2,7.4ZM47.3,13.9L41.1,16.0L38.5,12.8L38.8,7.0L44.0,5.4L48.0,9.8ZM59.1,12.5L54.4,15.9L49.4,14.1L49.2,8.3L53.5,6.5L57.4,8.1ZM65.6,13.8L62.7,17.2L58.0,15.5L55.9,10.9L60.9,5.9L64.9,8.9ZM4.4,25.4L-1.1,25.6L-4.1,22.5L-2.6,17.3L1.7,15.9L6.2,21.8ZM13.6,21.5L10.4,24.5L5.5,21.6L5.6,17.7L7.7,14.6L12.4,15.2ZM25.3,22.3L19.9,25.4L16.2,23.6L15.9,18.3L19.1,15.6L23.9,18.4ZM34.8,20.4L31.3,23.6L25.1,22.9L24.2,17.7L28.6,15.2L34.0,16.3ZM43.0,21.6L38.6,25.4L33.7,22.4L33.1,17.6L37.5,15.5L42.0,16.9ZM53.1,22.6L49.6,26.1L44.0,25.1L43.1,20.5L44.6,17.7L49.7,16.2ZM62.9,21.6L60.1,25.8L55.1,26.2L52.4,20.5L54.9,17.7L59.3,16.4ZM71.1,21.3L66.4,24.4L62.3,22.8L61.2,18.0L66.2,14.8L70.4,17.2ZM-0.6,32.8L-3.9,34.9L-8.1,31.2L-7.5,25.4L-2.6,25.1L1.6,28.2ZM7.8,30.7L2.6,33.7L-0.9,29.3L-0.3,25.4L3.5,23.0L7.5,25.3ZM17.7,31.6L14.7,34.3L10.2,33.0L9.2,29.1L11.6,24.3L16.6,24.9ZM28.9,31.6L22.1,32.1L20.1,29.3L21.8,23.8L26.3,22.9L30.1,28.5ZM36.2,29.5L33.2,32.4L29.1,31.8L27.5,26.8L31.2,22.8L34.9,23.8ZM44.7,32.4L41.6,34.4L37.3,31.1L38.4,25.0L43.8,23.9L47.2,27.8ZM54.9,33.3L50.2,33.4L47.0,29.7L47.4,25.8L52.8,23.4L55.9,27.5ZM65.8,32.1L61.5,34.4L58.2,29.5L59.1,25.8L63.8,23.4L67.4,27.6ZM2.6,40.2L-1.9,41.0L-4.9,37.7L-3.4,32.5L1.2,30.7L5.9,35.8ZM16.1,36.1L11.3,40.0L7.5,39.2L4.8,35.3L8.2,30.4L14.3,31.2ZM23.5,38.0L18.6,40.6L13.9,37.5L14.9,32.3L19.9,31.4L23.0,33.6ZM30.3,41.0L24.6,41.0L22.1,37.8L24.8,32.2L30.4,32.4L33.1,36.7ZM41.1,39.4L36.8,39.7L33.4,37.3L34.9,31.7L39.5,30.9L43.8,34.5ZM50.7,40.2L45.5,42.4L40.7,39.2L43.2,33.3L46.0,33.1L50.5,36.6ZM60.9,38.6L56.9,40.9L52.7,39.8L51.8,34.9L55.6,31.8L61.6,34.8ZM72.4,39.2L69.4,41.2L63.3,39.8L62.6,35.2L66.2,32.5L71.8,34.1ZM0.4,46.1L-5.7,49.0L-8.6,44.3L-6.7,38.7L-2.2,39.5L-0.2,41.3ZM10.6,45.2L4.0,48.8L1.5,47.1L1.1,41.9L5.6,38.2L10.4,41.6ZM16.6,49.5L11.6,50.6L8.2,45.3L9.9,42.0L14.8,40.7L19.1,45.4ZM28.3,49.6L22.5,51.1L20.4,46.2L21.5,41.5L25.8,41.1L30.0,46.0ZM38.6,46.2L33.1,50.2L28.8,46.5L28.8,42.5L33.7,40.0L38.7,43.1ZM46.4,47.4L43.6,50.2L37.3,47.4L37.5,42.8L42.3,40.3L46.2,41.5ZM58.4,45.1L55.2,48.0L50.0,47.5L47.5,43.1L50.9,38.8L56.1,39.9ZM65.2,47.4L61.9,48.7L56.9,44.1L58.4,40.3L64.3,38.7L67.8,42.8ZM2.7,55.7L-2.7,56.5L-4.7,53.6L-3.1,48.2L1.2,47.4L4.4,51.6ZM13.3,55.6L10.3,57.6L5.5,57.4L2.5,53.3L8.5,48.2L12.6,50.6ZM24.0,54.9L22.5,56.9L16.2,54.6L15.7,49.3L19.7,46.4L25.4,49.6ZM30.7,57.5L25.7,58.5L22.4,55.7L23.3,51.9L27.1,49.5L32.1,51.2ZM43.8,53.0L40.4,57.1L36.5,56.5L33.6,51.4L36.4,48.5L42.8,48.7ZM53.1,54.9L50.0,58.2L44.5,56.0L43.9,51.9L46.6,48.5L52.8,51.6ZM63.1,51.7L59.4,57.0L55.4,56.3L53.1,51.5L57.2,46.7L61.3,48.4ZM70.5,56.3L66.7,58.8L61.8,57.7L60.4,53.6L63.0,49.5L70.2,51.8ZM-0.5,60.7L-4.6,65.3L-8.6,63.9L-10.1,59.9L-6.0,54.6L-1.9,56.3ZM10.9,62.9L6.7,67.0L2.5,65.6L1.0,60.9L4.9,56.8L8.7,58.3ZM18.9,65.1L14.9,67.2L11.2,66.2L9.3,61.6L14.4,58.2L18.6,59.5ZM30.0,60.4L26.6,64.6L21.8,64.4L19.8,61.0L22.9,55.9L27.7,56.7ZM38.6,63.8L35.3,67.9L30.1,65.6L30.6,59.1L32.6,57.7L39.0,60.2ZM48.9,63.3L44.7,66.3L40.4,66.0L39.6,59.8L42.9,56.5L47.7,59.5ZM57.6,62.9L54.0,67.0L48.3,64.7L47.7,60.3L52.5,56.1L56.9,58.9ZM64.2,64.3L60.5,66.9L55.7,61.6L57.2,57.6L60.9,56.5L65.0,60.4ZM5.7,70.4L3.1,75.0L-2.6,74.2L-4.0,69.0L-2.2,66.4L3.9,66.6ZM14.2,72.4L10.5,75.3L4.7,74.3L3.9,70.7L6.5,66.0L13.0,67.1ZM23.9,72.1L19.5,73.3L14.8,69.9L16.0,66.6L20.9,63.5L24.5,66.1ZM33.1,68.7L30.1,73.5L25.3,71.0L23.1,68.4L25.8,64.0L32.0,64.1ZM43.7,70.6L39.2,73.8L34.5,70.0L33.8,65.9L38.9,63.9L43.7,66.8ZM52.5,70.9L48.7,73.4L44.5,70.6L44.7,65.0L48.2,62.7L52.6,65.6ZM59.2,74.2L54.2,74.1L52.0,71.0L52.2,67.2L57.6,65.1L61.9,69.0ZM72.7,73.1L67.9,76.2L64.8,75.0L62.2,70.0L65.6,66.4L71.4,66.6ZM-1.3,81.8L-7.3,83.6L-11.3,80.6L-9.7,76.2L-5.3,74.5L-1.0,78.7ZM10.6,79.9L5.4,83.2L1.7,80.3L1.1,76.0L5.5,73.2L10.3,75.3ZM17.6,80.3L14.8,81.0L9.8,78.9L10.7,73.3L15.5,71.7L18.6,73.9ZM29.6,81.4L26.6,83.6L22.4,83.1L19.3,77.8L22.4,74.0L27.8,75.7ZM37.6,80.5L34.6,82.1L28.9,80.3L28.8,76.0L34.0,72.6L38.5,74.9ZM48.1,76.7L45.2,81.5L38.3,79.4L38.3,75.3L40.6,72.0L46.2,73.1ZM57.6,77.1L52.9,82.1L48.6,80.4L47.8,76.3L50.8,71.3L55.6,73.1ZM66.5,81.3L61.9,83.7L58.4,81.7L58.0,76.7L61.2,73.9L66.7,76.4ZM6.7,87.3L1.0,90.7L-3.9,87.5L-2.5,82.5L2.5,81.3L5.3,83.4ZM12.2,89.6L6.9,90.3L4.2,88.6L4.1,83.4L8.3,81.6L13.1,83.1ZM24.8,86.2L22.4,90.4L16.4,89.9L14.7,85.6L18.3,80.7L22.6,81.0ZM31.3,91.1L25.5,91.7L22.7,87.2L24.5,83.4L28.8,82.3L32.3,87.5ZM44.5,86.2L41.0,90.8L36.0,90.7L33.4,85.0L35.6,81.8L41.2,81.7ZM50.2,91.2L47.8,91.3L42.4,86.8L43.6,83.4L50.7,81.7L52.9,85.5ZM61.4,88.9L58.6,92.2L53.1,91.6L50.4,86.5L55.0,83.1L58.4,83.1ZM70.5,90.3L65.1,92.9L61.0,88.7L63.4,83.3L66.8,83.0L71.4,87.9ZM1.3,97.7L-5.1,100.0L-8.4,97.0L-8.2,92.5L-4.2,89.7L1.4,93.9ZM11.3,97.4L5.1,99.9L1.1,97.1L1.0,93.4L7.6,90.9L10.8,92.8ZM17.9,98.3L12.1,99.0L9.5,95.8L12.8,89.2L16.5,90.0L19.8,94.4ZM27.4,94.2L25.3,97.6L20.4,98.6L17.0,92.6L18.9,90.2L25.8,90.9ZM36.2,94.2L34.1,97.6L30.0,97.0L27.3,93.1L29.7,88.5L35.0,89.7ZM47.5,96.9L42.2,97.6L38.5,95.0L39.5,90.1L45.9,88.1L48.5,93.0ZM57.8,97.2L53.1,101.2L49.2,99.0L48.3,93.0L51.3,91.3L56.3,91.4ZM68.0,96.8L62.7,100.5L59.3,99.8L58.6,93.8L63.3,90.1L67.4,94.0ZM2.5,106.6L-0.7,106.6L-4.5,103.8L-3.1,97.6L3.1,97.1L5.7,101.2ZM11.1,107.9L7.6,109.2L3.2,104.6L5.4,99.9L10.6,98.9L13.5,101.9ZM25.0,103.8L21.4,108.6L15.9,108.2L15.0,102.6L17.1,99.6L22.5,100.8ZM33.8,105.5L28.6,107.7L24.6,104.3L26.7,99.7L30.7,97.8L35.5,101.9ZM43.8,102.8L40.5,107.2L35.0,105.4L35.3,100.6L38.4,97.1L43.2,98.9ZM52.3,106.7L48.1,108.4L43.1,104.5L43.6,100.4L47.1,97.9L52.1,100.7ZM62.4,102.1L59.2,105.9L55.0,105.8L51.3,100.6L55.7,96.1L60.1,97.6ZM68.6,105.9L65.9,108.2L60.7,103.9L61.3,100.1L67.6,97.8L69.2,99.7ZM0.4,113.7L-3.7,116.0L-8.2,113.7L-7.5,109.1L-2.4,105.7L0.6,108.5ZM8.6,113.4L3.7,114.6L0.1,113.8L0.3,107.6L4.3,104.7L8.7,108.4ZM17.7,116.1L13.6,116.5L10.7,113.3L12.0,108.2L18.5,108.2L20.2,112.9ZM28.1,115.1L24.1,117.3L19.6,113.0L19.2,109.2L24.2,106.0L28.7,109.5ZM38.4,113.0L35.4,115.5L30.0,113.9L28.4,109.7L33.0,106.0L37.5,107.7ZM48.0,113.5L45.5,116.9L40.3,116.2L38.2,110.9L41.3,107.6L46.3,109.3ZM56.6,112.0L55.2,115.3L48.5,114.7L46.6,110.9L49.0,106.8L54.5,107.5ZM66.5,113.5L61.8,114.8L58.2,110.1L59.1,105.8L63.7,104.9L66.9,109.3Z" fill="none" stroke="#c49668" stroke-width="0.6" opacity="0.25"/>
<circle cx="3.4" cy="-6.0" r="2.1" fill="#d6ccdc" stroke="#bcb4c2" stroke-width="0.5" opacity="0.45"/>
<circle cx="16.0" cy="-5.1" r="1.7" fill="#d6ccdc" stroke="#bcb4c2" stroke-width="0.5" opacity="0.53"/>
<circle cx="24.9" cy="-3.3" r="1.7" fill="#d6ccdc" stroke="#bcb4c2" stroke-width="0.5" opacity="0.53"/>
<circle cx="32.4" cy="-5.0" r="1.9" fill="#d6ccdc" stroke="#bcb4c2" stroke-width="0.5" opacity="0.43"/>
<circle cx="42.9" cy="-6.1" r="2.1" fill="#d6ccdc" stroke="#bcb4c2" stroke-width="0.5" opacity="0.45"/>
<circle cx="52.8" cy="-4.5" r="1.7" fill="#d6ccdc" stroke="#bcb4c2" stroke-width="0.5" opacity="0.57"/>
<circle cx="62.3" cy="-5.1" r="2.2" fill="#d6ccdc" stroke="#bcb4c2" stroke-width="0.5" opacity="0.48"/>
<circle cx="28.7" cy="5.3" r="2.1" fill="#d6ccdc" stroke="#bcb4c2" stroke-width="0.5" opacity="0.45"/>
<circle cx="39.5" cy="3.4" r="2.2" fill="#d6ccdc" stroke="#bcb4c2" stroke-width="0.5" opacity="0.43"/>
<circle cx="47.4" cy="1.7" r="1.6" fill="#d6ccdc" stroke="#bcb4c2" stroke-width="0.5" opacity="0.42"/>
<circle cx="57.2" cy="4.3" r="2.2" fill="#d6ccdc" stroke="#bcb4c2" stroke-width="0.5" opacity="0.58"/>
<circle cx="-6.1" cy="12.9" r="1.7" fill="#d6ccdc" stroke="#bcb4c2" stroke-width="0.5" opacity="0.44"/>
<circle cx="3.7" cy="12.0" r="1.7" fill="#d6ccdc" stroke="#bcb4c2" stroke-width="0.5" opacity="0.42"/>
<circle cx="14.2" cy="11.8" r="2.1" fill="#d6ccdc" stroke="#bcb4c2" stroke-width="0.5" opacity="0.50"/>
<circle cx="23.1" cy="11.6" r="2.2" fill="#d6ccdc" stroke="#bcb4c2" stroke-width="0.5" opacity="0.50"/>
<circle cx="33.8" cy="10.6" r="2.3" fill="#d6ccdc" stroke="#bcb4c2" stroke-width="0.5" opacity="0.42"/>
<circle cx="43.5" cy="11.5" r="1.7" fill="#d6ccdc" stroke="#bcb4c2" stroke-width="0.5" opacity="0.45"/>
<circle cx="0.6" cy="21.9" r="2.3" fill="#d6ccdc" stroke="#bcb4c2" stroke-width="0.5" opacity="0.47"/>
<circle cx="9.6" cy="19.3" r="1.7" fill="#d6ccdc" stroke="#bcb4c2" stroke-width="0.5" opacity="0.49"/>
<circle cx="20.5" cy="20.4" r="2.2" fill="#d6ccdc" stroke="#bcb4c2" stroke-width="0.5" opacity="0.48"/>
<circle cx="28.9" cy="18.9" r="1.9" fill="#d6ccdc" stroke="#bcb4c2" stroke-width="0.5" opacity="0.58"/>
<circle cx="37.7" cy="20.1" r="2.0" fill="#d6ccdc" stroke="#bcb4c2" stroke-width="0.5" opacity="0.58"/>
<circle cx="48.2" cy="20.9" r="2.3" fill="#d6ccdc" stroke="#bcb4c2" stroke-width="0.5" opacity="0.43"/>
<circle cx="58.2" cy="21.2" r="2.0" fill="#d6ccdc" stroke="#bcb4c2" stroke-width="0.5" opacity="0.53"/>
<circle cx="65.8" cy="18.9" r="1.8" fill="#d6ccdc" stroke="#bcb4c2" stroke-width="0.5" opacity="0.56"/>
<circle cx="-4.8" cy="28.8" r="2.1" fill="#d6ccdc" stroke="#bcb4c2" stroke-width="0.5" opacity="0.42"/>
<circle cx="14.0" cy="28.8" r="1.8" fill="#d6ccdc" stroke="#bcb4c2" stroke-width="0.5" opacity="0.57"/>
<circle cx="25.6" cy="27.4" r="2.3" fill="#d6ccdc" stroke="#bcb4c2" stroke-width="0.5" opacity="0.46"/>
<circle cx="32.2" cy="27.1" r="1.9" fill="#d6ccdc" stroke="#bcb4c2" stroke-width="0.5" opacity="0.52"/>
<circle cx="40.9" cy="28.0" r="2.2" fill="#d6ccdc" stroke="#bcb4c2" stroke-width="0.5" opacity="0.42"/>
<circle cx="52.2" cy="28.7" r="1.9" fill="#d6ccdc" stroke="#bcb4c2" stroke-width="0.5" opacity="0.42"/>
<circle cx="63.4" cy="27.8" r="2.0" fill="#d6ccdc" stroke="#bcb4c2" stroke-width="0.5" opacity="0.56"/>
<circle cx="0.7" cy="36.4" r="2.0" fill="#d6ccdc" stroke="#bcb4c2" stroke-width="0.5" opacity="0.50"/>
<circle cx="10.7" cy="34.7" r="2.2" fill="#d6ccdc" stroke="#bcb4c2" stroke-width="0.5" opacity="0.52"/>
<circle cx="19.2" cy="36.9" r="2.2" fill="#d6ccdc" stroke="#bcb4c2" stroke-width="0.5" opacity="0.47"/>
<circle cx="38.2" cy="34.9" r="1.7" fill="#d6ccdc" stroke="#bcb4c2" stroke-width="0.5" opacity="0.58"/>
<circle cx="46.4" cy="36.9" r="1.9" fill="#d6ccdc" stroke="#bcb4c2" stroke-width="0.5" opacity="0.44"/>
<circle cx="56.8" cy="36.7" r="2.1" fill="#d6ccdc" stroke="#bcb4c2" stroke-width="0.5" opacity="0.41"/>
<circle cx="68.0" cy="37.0" r="2.0" fill="#d6ccdc" stroke="#bcb4c2" stroke-width="0.5" opacity="0.41"/>
<circle cx="-4.8" cy="44.4" r="2.1" fill="#d6ccdc" stroke="#bcb4c2" stroke-width="0.5" opacity="0.43"/>
<circle cx="13.0" cy="46.1" r="2.1" fill="#d6ccdc" stroke="#bcb4c2" stroke-width="0.5" opacity="0.48"/>
<circle cx="24.4" cy="45.6" r="1.6" fill="#d6ccdc" stroke="#bcb4c2" stroke-width="0.5" opacity="0.59"/>
<circle cx="33.3" cy="43.8" r="1.7" fill="#d6ccdc" stroke="#bcb4c2" stroke-width="0.5" opacity="0.49"/>
<circle cx="42.1" cy="45.4" r="1.9" fill="#d6ccdc" stroke="#bcb4c2" stroke-width="0.5" opacity="0.42"/>
<circle cx="52.7" cy="44.3" r="2.2" fill="#d6ccdc" stroke="#bcb4c2" stroke-width="0.5" opacity="0.55"/>
<circle cx="62.6" cy="43.8" r="1.7" fill="#d6ccdc" stroke="#bcb4c2" stroke-width="0.5" opacity="0.54"/>
<circle cx="0.3" cy="53.2" r="1.8" fill="#d6ccdc" stroke="#bcb4c2" stroke-width="0.5" opacity="0.44"/>
<circle cx="7.5" cy="53.1" r="2.1" fill="#d6ccdc" stroke="#bcb4c2" stroke-width="0.5" opacity="0.43"/>
<circle cx="19.5" cy="51.7" r="1.9" fill="#d6ccdc" stroke="#bcb4c2" stroke-width="0.5" opacity="0.45"/>
<circle cx="27.9" cy="53.2" r="1.9" fill="#d6ccdc" stroke="#bcb4c2" stroke-width="0.5" opacity="0.44"/>
<circle cx="40.2" cy="52.4" r="2.2" fill="#d6ccdc" stroke="#bcb4c2" stroke-width="0.5" opacity="0.43"/>
<circle cx="59.0" cy="52.8" r="1.7" fill="#d6ccdc" stroke="#bcb4c2" stroke-width="0.5" opacity="0.41"/>
<circle cx="65.5" cy="54.0" r="2.1" fill="#d6ccdc" stroke="#bcb4c2" stroke-width="0.5" opacity="0.57"/>
<circle cx="5.0" cy="62.9" r="1.8" fill="#d6ccdc" stroke="#bcb4c2" stroke-width="0.5" opacity="0.59"/>
<circle cx="14.8" cy="63.2" r="2.1" fill="#d6ccdc" stroke="#bcb4c2" stroke-width="0.5" opacity="0.54"/>
<circle cx="23.6" cy="61.2" r="2.2" fill="#d6ccdc" stroke="#bcb4c2" stroke-width="0.5" opacity="0.55"/>
<circle cx="34.1" cy="61.8" r="1.9" fill="#d6ccdc" stroke="#bcb4c2" stroke-width="0.5" opacity="0.50"/>
<circle cx="53.6" cy="62.0" r="2.3" fill="#d6ccdc" stroke="#bcb4c2" stroke-width="0.5" opacity="0.49"/>
<circle cx="61.1" cy="60.3" r="2.2" fill="#d6ccdc" stroke="#bcb4c2" stroke-width="0.5" opacity="0.55"/>
<circle cx="9.8" cy="70.7" r="2.2" fill="#d6ccdc" stroke="#bcb4c2" stroke-width="0.5" opacity="0.44"/>
<circle cx="19.9" cy="68.4" r="2.2" fill="#d6ccdc" stroke="#bcb4c2" stroke-width="0.5" opacity="0.45"/>
<circle cx="39.2" cy="69.0" r="1.9" fill="#d6ccdc" stroke="#bcb4c2" stroke-width="0.5" opacity="0.47"/>
<circle cx="67.2" cy="70.9" r="1.9" fill="#d6ccdc" stroke="#bcb4c2" stroke-width="0.5" opacity="0.58"/>
<circle cx="-6.6" cy="79.1" r="1.9" fill="#d6ccdc" stroke="#bcb4c2" stroke-width="0.5" opacity="0.41"/>
<circle cx="5.7" cy="77.8" r="2.0" fill="#d6ccdc" stroke="#bcb4c2" stroke-width="0.5" opacity="0.56"/>
<circle cx="24.3" cy="79.8" r="1.7" fill="#d6ccdc" stroke="#bcb4c2" stroke-width="0.5" opacity="0.58"/>
<circle cx="34.2" cy="78.3" r="1.9" fill="#d6ccdc" stroke="#bcb4c2" stroke-width="0.5" opacity="0.48"/>
<circle cx="42.4" cy="76.9" r="1.7" fill="#d6ccdc" stroke="#bcb4c2" stroke-width="0.5" opacity="0.55"/>
<circle cx="52.7" cy="77.2" r="1.6" fill="#d6ccdc" stroke="#bcb4c2" stroke-width="0.5" opacity="0.43"/>
<circle cx="62.1" cy="78.3" r="1.7" fill="#d6ccdc" stroke="#bcb4c2" stroke-width="0.5" opacity="0.58"/>
<circle cx="1.6" cy="85.8" r="1.8" fill="#d6ccdc" stroke="#bcb4c2" stroke-width="0.5" opacity="0.47"/>
<circle cx="18.8" cy="85.5" r="2.0" fill="#d6ccdc" stroke="#bcb4c2" stroke-width="0.5" opacity="0.49"/>
<circle cx="26.6" cy="86.3" r="2.3" fill="#d6ccdc" stroke="#bcb4c2" stroke-width="0.5" opacity="0.57"/>
<circle cx="48.8" cy="86.1" r="2.2" fill="#d6ccdc" stroke="#bcb4c2" stroke-width="0.5" opacity="0.41"/>
<circle cx="55.9" cy="87.7" r="2.1" fill="#d6ccdc" stroke="#bcb4c2" stroke-width="0.5" opacity="0.41"/>
<circle cx="65.6" cy="87.1" r="2.0" fill="#d6ccdc" stroke="#bcb4c2" stroke-width="0.5" opacity="0.56"/>
<circle cx="-4.2" cy="96.0" r="1.6" fill="#d6ccdc" stroke="#bcb4c2" stroke-width="0.5" opacity="0.53"/>
<circle cx="6.7" cy="96.4" r="2.1" fill="#d6ccdc" stroke="#bcb4c2" stroke-width="0.5" opacity="0.49"/>
<circle cx="13.6" cy="95.0" r="2.2" fill="#d6ccdc" stroke="#bcb4c2" stroke-width="0.5" opacity="0.58"/>
<circle cx="33.0" cy="93.2" r="1.7" fill="#d6ccdc" stroke="#bcb4c2" stroke-width="0.5" opacity="0.51"/>
<circle cx="51.7" cy="96.3" r="2.0" fill="#d6ccdc" stroke="#bcb4c2" stroke-width="0.5" opacity="0.52"/>
<circle cx="63.4" cy="95.6" r="2.2" fill="#d6ccdc" stroke="#bcb4c2" stroke-width="0.5" opacity="0.54"/>
<circle cx="-0.8" cy="100.7" r="2.0" fill="#d6ccdc" stroke="#bcb4c2" stroke-width="0.5" opacity="0.42"/>
<circle cx="7.5" cy="104.5" r="1.8" fill="#d6ccdc" stroke="#bcb4c2" stroke-width="0.5" opacity="0.52"/>
<circle cx="18.9" cy="103.7" r="2.1" fill="#d6ccdc" stroke="#bcb4c2" stroke-width="0.5" opacity="0.51"/>
<circle cx="38.6" cy="102.6" r="2.0" fill="#d6ccdc" stroke="#bcb4c2" stroke-width="0.5" opacity="0.56"/>
<circle cx="48.1" cy="102.9" r="1.7" fill="#d6ccdc" stroke="#bcb4c2" stroke-width="0.5" opacity="0.50"/>
<circle cx="65.0" cy="102.8" r="1.9" fill="#d6ccdc" stroke="#bcb4c2" stroke-width="0.5" opacity="0.40"/>
<circle cx="3.7" cy="110.1" r="1.9" fill="#d6ccdc" stroke="#bcb4c2" stroke-width="0.5" opacity="0.60"/>
<circle cx="14.7" cy="112.5" r="2.0" fill="#d6ccdc" stroke="#bcb4c2" stroke-width="0.5" opacity="0.43"/>
<circle cx="24.2" cy="112.5" r="2.3" fill="#d6ccdc" stroke="#bcb4c2" stroke-width="0.5" opacity="0.51"/>
<circle cx="33.6" cy="111.3" r="2.2" fill="#d6ccdc" stroke="#bcb4c2" stroke-width="0.5" opacity="0.47"/>
<circle cx="43.3" cy="112.6" r="1.9" fill="#d6ccdc" stroke="#bcb4c2" stroke-width="0.5" opacity="0.52"/>
<circle cx="52.5" cy="111.1" r="1.7" fill="#d6ccdc" stroke="#bcb4c2" stroke-width="0.5" opacity="0.41"/>
<circle cx="63.0" cy="109.3" r="1.8" fill="#d6ccdc" stroke="#bcb4c2" stroke-width="0.5" opacity="0.44"/>
</g>
<path d="M54.3,82.6V101.6M52.5,82.6H54.3M52.5,85.6H54.3M52.5,88.6H54.3M52.5,91.6H54.3M52.5,94.6H54.3M52.5,97.6H54.3M52.5,100.6H54.3" stroke="#555" stroke-width="0.6" fill="none"/>
</svg>
<svg x="210.4" y="685.0" width="56.1" height="103.6" viewBox="0 0 56.1 103.6">
<rect width="56.1" height="103.6" fill="#eadac6"/>
<g filter="url(#bl2)">
<ellipse cx="27.9" cy="37.3" rx="10.8" ry="6.7" fill="#e0c8aa" opacity="0.58"/>
<ellipse cx="1.5" cy="34.7" rx="8.8" ry="6.7" fill="#e0c8aa" opacity="0.44"/>
<ellipse cx="16.6" cy="35.1" rx="12.2" ry="8.3" fill="#e0c8aa" opacity="0.76"/>
<ellipse cx="1.9" cy="23.7" rx="9.3" ry="4.4" fill="#e0c8aa" opacity="0.49"/>
<ellipse cx="31.4" cy="0.1" rx="8.1" ry="4.2" fill="#e0c8aa" opacity="0.50"/>
<ellipse cx="50.2" cy="40.1" rx="7.1" ry="9.5" fill="#e0c8aa" opacity="0.74"/>
<ellipse cx="14.3" cy="44.3" rx="6.6" ry="8.6" fill="#e0c8aa" opacity="0.58"/>
<ellipse cx="43.2" cy="78.2" rx="6.1" ry="4.8" fill="#e0c8aa" opacity="0.70"/>
<ellipse cx="48.9" cy="18.8" rx="11.9" ry="5.2" fill="#e0c8aa" opacity="0.54"/>
<ellipse cx="35.7" cy="15.4" rx="9.1" ry="6.6" fill="#e0c8aa" opacity="0.44"/>
<ellipse cx="3.3" cy="44.6" rx="9.0" ry="7.0" fill="#e0c8aa" opacity="0.43"/>
<ellipse cx="24.2" cy="101.3" rx="10.7" ry="5.9" fill="#e0c8aa" opacity="0.68"/>
<ellipse cx="22.2" cy="59.1" rx="6.0" ry="4.0" fill="#e0c8aa" opacity="0.68"/>
<ellipse cx="25.9" cy="5.0" rx="13.0" ry="7.8" fill="#e0c8aa" opacity="0.49"/>
<ellipse cx="28.3" cy="83.3" rx="8.8" ry="8.2" fill="#e0c8aa" opacity="0.40"/>
<ellipse cx="44.9" cy="59.2" rx="7.8" ry="6.5" fill="#e0c8aa" opacity="0.75"/>
<polyline fill="none" stroke="#f5f0ec" stroke-width="2.9" stroke-linecap="round" stroke-linejoin="round" opacity="0.85" points="50.3,30.7 56.7,24.9 62.9,24.2 67.1,18.6 67.6,13.7 71.2,10.1"/>
<polyline fill="none" stroke="#f5f0ec" stroke-width="2.7" stroke-linecap="round" stroke-linejoin="round" opacity="0.85" points="11.9,78.9 14.9,85.2 18.6,89.1 23.7,89.5 25.7,92.5 32.3,96.9"/>
<polyline fill="none" stroke="#f5f0ec" stroke-width="3.1" stroke-linecap="round" stroke-linejoin="round" opacity="0.85" points="51.6,5.6 53.8,4.6 55.9,7.5 59.4,9.2 66.3,15.1 66.0,18.6"/>
<polyline fill="none" stroke="#f5f0ec" stroke-width="3.6" stroke-linecap="round" stroke-linejoin="round" opacity="0.85" points="49.4,33.8 51.8,31.3 54.5,28.8 58.1,25.3 62.6,18.9 62.3,16.9"/>
<polyline fill="none" stroke="#f5f0ec" stroke-width="2.6" stroke-linecap="round" stroke-linejoin="round" opacity="0.85" points="21.3,69.1 26.0,71.6 30.4,73.2 37.2,79.6 40.7,82.6 48.3,83.1"/>
<polyline fill="none" stroke="#f5f0ec" stroke-width="2.8" stroke-linecap="round" stroke-linejoin="round" opacity="0.85" points="54.4,26.1 59.0,27.1 62.5,33.9 69.9,34.6 73.3,39.2 80.2,38.8"/>
<polyline fill="none" stroke="#f5f0ec" stroke-width="3.0" stroke-linecap="round" stroke-linejoin="round" opacity="0.85" points="22.2,44.2 24.8,39.1 32.0,36.3 36.5,29.3 39.6,26.1 43.7,18.9"/>
</g>
<rect width="56.1" height="103.6" filter="url(#grain)" opacity="0.3"/>
<g filter="url(#bl)">
<path d="M-0.9,-0.8L-4.2,0.7L-8.3,-3.7L-6.2,-7.2L-3.0,-8.3L0.6,-6.0ZM8.7,-3.6L5.3,-0.4L0.2,-2.4L-0.6,-6.2L2.3,-8.0L8.4,-6.7ZM18.5,-5.5L15.8,-2.2L9.6,-2.4L9.3,-6.4L11.9,-9.5L16.8,-8.7ZM24.4,-4.4L23.4,0.2L17.6,-0.1L16.2,-3.9L18.0,-7.2L23.1,-6.5ZM33.2,-3.8L30.0,-1.2L26.0,-2.2L24.5,-6.6L28.3,-9.3L31.9,-8.9ZM39.9,-2.8L37.7,0.0L33.6,-1.4L31.6,-6.1L34.0,-8.4L38.1,-7.8ZM49.0,-2.2L46.0,0.4L42.6,1.2L40.1,-2.8L42.8,-6.6L46.5,-6.6ZM55.7,-1.2L51.7,-1.1L48.8,-4.9L49.5,-7.9L54.1,-9.9L57.3,-4.7ZM65.4,-3.9L62.0,-1.1L59.1,-2.3L57.4,-5.9L61.6,-10.2L65.0,-7.9ZM4.2,4.4L-0.0,7.2L-3.7,4.5L-4.1,1.5L-1.0,-2.3L4.1,-0.5ZM13.0,4.8L9.6,9.1L5.3,6.7L4.0,3.2L6.9,0.1L11.6,1.1ZM20.1,7.6L16.3,8.4L13.8,6.3L15.8,0.7L18.7,-0.4L22.4,2.3ZM26.0,5.9L23.1,7.7L18.9,4.2L20.2,0.1L25.2,-1.1L27.0,0.8ZM37.5,2.8L35.3,4.8L30.4,6.0L29.1,0.3L31.9,-3.1L35.2,-2.5ZM42.3,6.1L38.8,6.6L35.5,2.4L38.1,-2.2L41.8,-1.9L43.6,1.6ZM54.2,3.2L52.0,6.3L47.9,5.7L45.7,2.0L48.3,-2.2L53.8,-0.9ZM60.6,2.6L57.4,6.1L53.8,4.8L51.6,1.2L54.5,-2.4L59.6,-1.7ZM-0.9,12.0L-5.0,14.1L-7.7,12.5L-7.7,7.8L-4.3,6.5L-1.0,8.4ZM7.2,13.8L3.8,15.1L-1.0,11.9L0.2,9.1L3.4,6.9L7.4,7.6ZM16.9,13.8L11.4,14.9L10.0,12.7L10.2,7.9L16.1,7.6L17.4,10.8ZM23.8,10.8L18.0,12.4L15.9,11.8L16.1,5.8L20.8,4.5L22.5,6.2ZM31.8,12.5L27.9,14.9L25.4,13.2L24.8,7.4L27.6,5.9L32.9,8.7ZM40.5,12.3L36.5,15.5L32.5,13.8L31.9,8.9L36.3,7.1L38.6,8.2ZM51.0,10.3L47.5,13.2L43.0,11.2L43.2,6.6L45.5,5.4L49.7,6.2ZM57.7,13.2L53.8,14.1L50.1,12.3L52.0,6.5L55.9,6.1L58.5,8.1ZM64.7,11.2L61.0,13.8L57.5,12.2L56.7,7.7L61.2,5.0L64.9,8.2ZM4.1,21.2L0.1,22.5L-3.1,20.6L-2.4,15.3L0.4,13.9L4.2,16.1ZM11.4,21.0L6.8,20.3L4.6,18.3L6.1,13.8L9.7,12.3L13.0,17.2ZM18.4,21.4L14.0,22.0L11.1,18.4L12.3,15.3L17.8,14.3L19.3,17.4ZM28.3,15.7L25.8,19.8L20.9,19.9L19.5,16.6L21.7,12.7L25.7,12.7ZM35.1,20.3L30.6,19.7L28.1,17.0L29.8,13.5L33.7,12.8L37.2,17.1ZM43.8,19.2L41.9,22.8L36.8,21.5L35.0,17.4L38.3,13.9L43.3,15.6ZM54.1,19.5L52.2,22.5L46.8,20.9L47.1,16.4L48.9,13.8L53.6,15.2ZM62.8,20.8L57.3,22.6L55.2,20.2L55.8,15.8L59.8,14.0L62.6,17.7ZM-0.4,28.5L-6.4,29.6L-8.1,27.0L-6.0,22.4L-2.4,22.1L0.1,24.2ZM5.3,28.8L0.3,28.8L-0.7,25.3L0.5,22.3L5.5,22.1L7.8,24.3ZM17.5,25.9L14.7,28.1L10.5,26.3L8.7,22.7L13.6,19.9L17.9,21.9ZM24.0,24.6L20.5,28.6L16.6,27.3L14.5,23.7L16.6,21.1L21.3,19.7ZM34.2,23.4L31.5,26.3L27.8,26.6L25.7,22.6L27.5,18.8L32.3,20.1ZM39.8,26.0L37.8,27.8L33.2,26.2L33.6,21.0L36.4,19.8L41.1,21.5ZM50.7,25.4L47.8,28.2L43.3,26.6L42.3,22.7L45.2,20.1L48.9,19.7ZM54.8,26.6L50.7,26.6L48.4,22.8L50.3,20.2L54.9,19.1L56.8,23.6ZM66.7,24.1L64.9,28.0L60.2,27.1L57.8,24.1L60.9,19.6L64.7,20.7ZM3.4,34.3L-1.0,34.3L-3.6,31.0L-2.3,28.0L1.2,26.3L4.8,28.9ZM10.8,33.5L8.1,35.9L4.1,34.3L3.3,30.2L7.1,26.7L9.5,28.3ZM19.7,33.5L17.7,34.6L13.1,33.2L12.8,28.8L15.9,26.3L20.3,28.4ZM27.4,32.5L23.7,34.1L20.3,31.6L19.8,28.0L24.7,26.1L27.7,29.1ZM37.2,30.8L34.3,35.6L29.7,34.5L28.9,31.5L30.3,27.6L35.0,27.1ZM44.8,32.0L40.4,34.5L38.0,33.9L36.8,29.3L39.6,26.6L43.4,27.7ZM54.4,32.0L49.9,35.2L46.5,32.0L47.2,27.8L51.1,26.3L54.0,28.3ZM58.4,33.7L54.4,34.3L52.2,30.7L53.0,26.1L56.8,26.2L59.5,28.4ZM-0.2,41.7L-4.2,43.8L-7.1,42.4L-7.0,37.5L-4.0,35.7L-0.7,37.5ZM8.0,39.8L4.0,43.5L-0.5,41.0L0.1,36.5L3.1,34.5L7.7,36.9ZM14.5,39.5L11.5,42.9L8.4,41.8L6.7,36.8L10.7,34.0L13.4,34.3ZM24.2,39.0L21.1,41.5L18.2,40.9L16.9,35.8L20.2,33.1L23.3,34.1ZM34.1,40.5L29.8,42.9L27.1,41.6L26.0,36.9L28.6,34.5L33.0,36.0ZM41.2,40.8L37.9,42.2L34.1,38.8L35.5,34.2L39.3,32.8L41.7,36.2ZM47.9,42.0L44.6,44.2L40.7,42.0L40.3,37.9L43.8,35.6L46.6,36.7ZM56.9,41.4L54.1,43.3L50.4,41.8L50.2,37.2L54.5,34.2L57.5,36.6ZM64.6,38.9L61.5,42.2L57.8,41.6L56.9,36.0L60.7,33.2L64.1,36.1ZM5.1,48.6L1.5,50.4L-2.7,47.7L-2.6,43.5L1.1,41.3L5.5,44.8ZM13.2,48.4L9.6,51.7L5.6,49.6L5.4,44.5L7.3,42.9L12.4,44.5ZM21.3,45.6L18.7,49.5L14.1,47.9L12.5,44.0L15.2,41.5L19.2,41.5ZM28.6,47.7L23.0,48.1L20.3,44.1L23.4,40.5L27.4,40.9L29.3,43.9ZM37.9,46.2L36.5,48.0L30.1,47.6L30.0,42.7L32.3,40.3L37.6,41.2ZM43.7,49.5L41.5,51.2L37.5,49.5L37.4,44.6L40.3,42.0L44.3,44.2ZM53.4,46.7L49.4,50.3L45.9,49.9L45.5,44.6L48.9,42.5L51.4,43.5ZM59.5,48.0L56.4,49.2L52.5,46.9L53.0,42.3L57.0,40.1L61.5,44.7ZM0.4,55.1L-3.1,57.6L-7.8,54.2L-7.3,50.8L-3.9,48.9L0.8,51.5ZM8.4,52.8L6.1,55.4L1.4,55.0L0.9,50.4L5.2,46.9L8.4,48.3ZM17.1,54.1L12.6,56.2L8.9,54.5L8.7,49.9L13.1,47.7L16.9,49.9ZM25.2,53.4L23.1,57.0L18.9,56.8L16.6,52.2L19.4,48.7L23.7,50.2ZM34.4,54.1L31.2,58.5L26.6,56.7L26.3,52.9L28.8,50.0L32.1,49.6ZM41.1,54.9L38.7,57.9L34.5,57.8L32.7,52.9L34.2,49.9L38.7,49.7ZM50.4,53.7L48.7,57.1L43.1,56.1L42.4,52.4L45.0,49.7L48.1,49.0ZM56.4,55.0L53.9,57.0L48.4,55.4L49.0,51.5L52.9,48.9L56.9,51.7ZM63.6,58.2L60.5,58.5L57.5,54.7L60.2,49.9L63.9,50.5L65.8,54.6ZM2.8,63.3L-2.0,63.6L-4.0,61.8L-2.9,57.2L1.2,56.3L5.4,60.5ZM11.1,62.7L6.6,64.2L3.4,61.3L4.3,57.3L8.8,55.4L12.4,58.8ZM18.1,62.2L13.4,63.4L11.1,61.0L12.9,55.9L17.2,55.3L18.7,58.8ZM28.5,59.3L25.7,63.1L21.8,63.5L19.9,58.1L21.6,55.9L26.3,55.9ZM36.6,62.7L32.8,64.7L29.7,62.7L28.8,59.0L30.9,56.3L35.8,56.4ZM46.3,63.4L42.1,66.3L37.5,63.8L39.3,58.4L42.6,56.5L45.8,60.1ZM51.7,62.6L50.2,65.4L46.2,66.0L44.6,59.6L46.7,57.2L49.8,57.6ZM62.2,59.5L59.2,63.7L54.8,62.5L54.4,60.0L56.9,55.0L61.5,56.6ZM-0.2,68.0L-2.5,70.6L-6.7,71.3L-8.4,67.6L-6.3,62.8L-0.8,64.2ZM6.9,69.1L3.1,70.5L0.3,67.7L0.7,63.5L6.0,62.3L7.7,64.0ZM17.4,67.4L12.7,70.3L10.1,68.8L8.8,65.0L13.0,62.3L16.6,62.9ZM24.3,67.7L22.2,71.3L16.9,70.2L16.0,66.7L18.6,63.7L23.6,64.3ZM32.2,69.0L28.2,70.5L25.7,65.1L27.0,62.6L32.2,62.8L33.7,66.7ZM40.3,70.9L35.8,72.5L32.6,70.6L34.3,64.8L38.1,63.4L41.4,67.2ZM47.4,68.0L43.9,72.2L41.0,71.1L38.6,67.4L42.4,63.6L47.2,64.7ZM57.6,68.8L53.7,70.2L51.3,68.4L50.7,63.4L54.3,61.0L59.1,64.1ZM63.7,71.6L59.1,72.4L56.9,68.2L57.8,65.0L62.3,64.2L65.8,68.0ZM3.6,76.6L-0.1,77.8L-2.3,74.8L-1.3,70.2L2.2,69.3L5.9,73.6ZM12.6,73.5L9.3,77.9L5.0,76.3L3.1,73.8L6.6,68.8L9.5,69.6ZM17.4,78.7L13.3,78.9L11.9,75.9L14.0,71.3L16.6,70.8L19.4,74.1ZM28.2,76.9L24.2,79.3L20.3,77.4L20.0,74.4L22.7,71.5L28.2,74.3ZM36.9,74.5L33.2,77.4L28.6,76.0L27.7,72.9L31.7,69.7L35.4,70.3ZM42.7,75.5L40.1,78.0L36.8,76.2L36.1,72.1L39.2,68.5L43.2,70.6ZM52.7,77.6L47.6,78.0L46.6,75.0L47.6,70.4L52.7,70.3L54.6,72.3ZM60.6,75.9L57.0,78.7L52.1,76.6L52.0,73.0L55.8,70.1L59.1,71.4ZM0.1,82.1L-3.6,84.5L-8.2,82.6L-8.6,79.3L-4.1,75.5L-1.4,77.0ZM7.3,83.2L4.0,85.5L-0.1,83.1L-0.9,80.0L2.7,76.6L7.1,79.7ZM14.7,86.1L10.4,86.4L8.0,84.1L10.3,79.6L14.2,79.0L16.3,80.9ZM23.7,83.3L20.3,85.0L16.2,83.5L16.2,78.3L19.5,77.2L23.9,79.5ZM31.1,84.4L26.9,85.8L23.7,82.3L24.2,79.5L27.8,77.5L31.9,79.8ZM41.8,83.2L37.0,84.6L34.2,82.6L34.8,78.2L39.1,76.5L41.1,79.1ZM46.4,85.7L41.9,84.9L40.7,81.3L42.6,77.0L46.9,76.9L48.5,81.2ZM56.6,85.0L53.1,85.3L50.2,82.3L50.7,78.4L55.5,77.5L59.0,80.5ZM63.7,84.0L60.4,84.5L57.1,82.3L59.4,77.0L62.9,76.2L65.3,79.3ZM4.1,90.5L1.1,93.1L-3.2,91.8L-4.6,87.4L-1.2,84.4L3.5,86.3ZM11.5,88.0L8.5,91.0L3.5,90.0L2.4,86.2L6.1,82.8L10.1,84.5ZM20.5,90.5L17.9,93.3L13.4,91.5L12.7,87.6L17.6,84.2L20.6,87.4ZM28.3,93.2L24.6,94.0L21.1,89.8L23.5,86.9L27.8,86.1L30.1,90.1ZM35.8,90.7L30.8,92.0L27.1,89.0L27.9,85.5L33.3,83.9L36.7,87.7ZM44.6,90.7L41.7,92.9L37.2,92.2L36.2,88.4L38.9,84.3L43.3,86.6ZM52.1,90.7L49.4,92.6L45.6,92.2L44.6,88.2L47.7,84.8L53.1,86.7ZM61.3,90.6L56.8,93.1L54.2,90.7L53.8,87.3L58.2,83.9L61.6,86.9ZM0.8,94.8L-0.5,98.5L-5.1,98.5L-7.1,93.3L-4.2,90.2L-1.1,90.5ZM8.0,97.0L5.6,99.0L1.9,98.9L0.8,94.1L3.8,90.2L7.4,92.2ZM16.7,97.6L12.9,101.4L9.6,100.1L8.2,97.1L10.7,93.1L15.2,93.5ZM24.9,97.0L21.2,99.8L18.6,99.3L16.9,94.9L18.2,91.3L23.8,92.1ZM33.9,98.4L31.3,99.6L26.4,98.9L25.1,94.5L29.9,91.7L32.2,93.1ZM39.4,97.9L36.3,100.5L32.8,98.4L31.1,94.8L34.6,90.9L38.3,92.9ZM47.4,99.9L43.9,99.7L41.1,96.9L41.8,93.7L45.9,91.9L48.8,95.2ZM57.1,98.3L51.8,98.7L49.8,95.0L51.3,91.8L55.2,90.5L58.4,94.4ZM67.0,95.8L64.6,100.6L60.6,100.2L58.8,96.1L60.2,92.7L65.6,93.2ZM2.1,104.6L-0.5,105.8L-4.4,105.0L-5.1,100.1L-0.2,97.6L3.0,99.5ZM10.8,108.0L6.6,107.7L4.9,103.9L6.4,100.8L11.0,100.9L13.7,103.4ZM22.3,102.7L18.5,106.6L15.1,106.7L13.4,101.0L15.6,99.1L20.0,99.6ZM26.2,107.0L22.5,108.9L19.2,103.7L21.0,101.2L24.7,100.5L28.6,103.8ZM37.3,102.1L33.2,105.9L29.1,104.6L28.1,100.4L32.6,96.5L35.3,98.2ZM43.0,106.3L39.5,107.7L36.0,106.3L37.0,100.6L40.8,99.6L43.3,101.0ZM51.0,106.2L46.7,107.5L44.2,104.5L44.1,101.5L48.6,99.7L51.5,101.4ZM59.3,105.6L54.9,105.8L53.5,102.7L54.3,99.2L58.2,98.2L62.2,101.6ZM-0.5,113.9L-4.6,115.6L-7.7,112.5L-7.1,108.3L-1.8,106.6L0.3,110.8ZM7.2,112.8L2.6,113.7L-0.4,110.9L0.7,107.3L4.3,105.9L7.8,108.4ZM15.9,112.8L10.4,114.5L7.6,112.4L9.0,107.6L12.2,106.2L16.1,109.5ZM24.6,110.1L23.3,114.1L19.1,114.3L16.8,110.8L19.1,105.9L22.3,106.0ZM34.6,109.5L31.6,114.1L27.7,113.4L26.2,110.4L27.3,105.9L33.3,106.8ZM39.3,113.3L36.5,115.7L31.6,113.7L32.2,108.2L34.9,107.0L40.0,109.3ZM48.8,111.1L45.1,114.6L40.7,112.1L40.1,108.1L44.0,105.6L47.3,107.0ZM57.9,112.0L53.5,114.2L51.2,112.4L49.9,107.7L54.0,105.2L58.1,107.6ZM64.2,110.2L60.7,113.4L56.8,111.5L56.4,107.1L60.0,104.8L63.0,106.7Z" fill="none" stroke="#c49668" stroke-width="0.6" opacity="0.25"/>
<circle cx="-2.9" cy="-4.2" r="2.2" fill="#cdc6e0" stroke="#b4aec5" stroke-width="0.5" opacity="0.55"/>
<circle cx="4.8" cy="-4.8" r="1.8" fill="#cdc6e0" stroke="#b4aec5" stroke-width="0.5" opacity="0.65"/>
<circle cx="13.5" cy="-4.6" r="1.9" fill="#cdc6e0" stroke="#b4aec5" stroke-width="0.5" opacity="0.61"/>
<circle cx="28.2" cy="-5.6" r="1.9" fill="#cdc6e0" stroke="#b4aec5" stroke-width="0.5" opacity="0.59"/>
<circle cx="35.9" cy="-3.8" r="1.6" fill="#cdc6e0" stroke="#b4aec5" stroke-width="0.5" opacity="0.54"/>
<circle cx="44.4" cy="-2.1" r="2.1" fill="#cdc6e0" stroke="#b4aec5" stroke-width="0.5" opacity="0.53"/>
<circle cx="52.8" cy="-4.6" r="1.7" fill="#cdc6e0" stroke="#b4aec5" stroke-width="0.5" opacity="0.58"/>
<circle cx="61.3" cy="-4.7" r="1.8" fill="#cdc6e0" stroke="#b4aec5" stroke-width="0.5" opacity="0.65"/>
<circle cx="0.5" cy="2.3" r="1.7" fill="#cdc6e0" stroke="#b4aec5" stroke-width="0.5" opacity="0.55"/>
<circle cx="7.7" cy="5.1" r="2.1" fill="#cdc6e0" stroke="#b4aec5" stroke-width="0.5" opacity="0.64"/>
<circle cx="18.2" cy="4.4" r="2.1" fill="#cdc6e0" stroke="#b4aec5" stroke-width="0.5" opacity="0.67"/>
<circle cx="33.2" cy="1.2" r="1.9" fill="#cdc6e0" stroke="#b4aec5" stroke-width="0.5" opacity="0.53"/>
<circle cx="40.3" cy="2.0" r="1.8" fill="#cdc6e0" stroke="#b4aec5" stroke-width="0.5" opacity="0.62"/>
<circle cx="51.3" cy="2.5" r="2.1" fill="#cdc6e0" stroke="#b4aec5" stroke-width="0.5" opacity="0.67"/>
<circle cx="56.3" cy="1.1" r="1.8" fill="#cdc6e0" stroke="#b4aec5" stroke-width="0.5" opacity="0.69"/>
<circle cx="13.9" cy="11.8" r="1.8" fill="#cdc6e0" stroke="#b4aec5" stroke-width="0.5" opacity="0.70"/>
<circle cx="18.9" cy="9.2" r="2.3" fill="#cdc6e0" stroke="#b4aec5" stroke-width="0.5" opacity="0.51"/>
<circle cx="29.3" cy="9.8" r="2.0" fill="#cdc6e0" stroke="#b4aec5" stroke-width="0.5" opacity="0.60"/>
<circle cx="35.2" cy="12.0" r="1.7" fill="#cdc6e0" stroke="#b4aec5" stroke-width="0.5" opacity="0.55"/>
<circle cx="46.7" cy="9.2" r="2.1" fill="#cdc6e0" stroke="#b4aec5" stroke-width="0.5" opacity="0.70"/>
<circle cx="54.8" cy="11.2" r="2.0" fill="#cdc6e0" stroke="#b4aec5" stroke-width="0.5" opacity="0.55"/>
<circle cx="0.5" cy="17.9" r="2.2" fill="#cdc6e0" stroke="#b4aec5" stroke-width="0.5" opacity="0.61"/>
<circle cx="15.8" cy="18.4" r="2.1" fill="#cdc6e0" stroke="#b4aec5" stroke-width="0.5" opacity="0.56"/>
<circle cx="24.4" cy="15.5" r="1.9" fill="#cdc6e0" stroke="#b4aec5" stroke-width="0.5" opacity="0.66"/>
<circle cx="32.7" cy="17.0" r="1.6" fill="#cdc6e0" stroke="#b4aec5" stroke-width="0.5" opacity="0.58"/>
<circle cx="39.8" cy="18.1" r="2.0" fill="#cdc6e0" stroke="#b4aec5" stroke-width="0.5" opacity="0.69"/>
<circle cx="50.2" cy="18.1" r="1.8" fill="#cdc6e0" stroke="#b4aec5" stroke-width="0.5" opacity="0.67"/>
<circle cx="59.7" cy="19.4" r="2.1" fill="#cdc6e0" stroke="#b4aec5" stroke-width="0.5" opacity="0.54"/>
<circle cx="-4.0" cy="25.8" r="2.0" fill="#cdc6e0" stroke="#b4aec5" stroke-width="0.5" opacity="0.70"/>
<circle cx="3.0" cy="24.6" r="1.9" fill="#cdc6e0" stroke="#b4aec5" stroke-width="0.5" opacity="0.63"/>
<circle cx="14.2" cy="24.6" r="1.7" fill="#cdc6e0" stroke="#b4aec5" stroke-width="0.5" opacity="0.62"/>
<circle cx="19.2" cy="23.3" r="1.9" fill="#cdc6e0" stroke="#b4aec5" stroke-width="0.5" opacity="0.57"/>
<circle cx="30.1" cy="22.7" r="1.9" fill="#cdc6e0" stroke="#b4aec5" stroke-width="0.5" opacity="0.63"/>
<circle cx="35.6" cy="24.1" r="2.2" fill="#cdc6e0" stroke="#b4aec5" stroke-width="0.5" opacity="0.53"/>
<circle cx="45.7" cy="24.0" r="2.0" fill="#cdc6e0" stroke="#b4aec5" stroke-width="0.5" opacity="0.55"/>
<circle cx="51.9" cy="23.7" r="1.6" fill="#cdc6e0" stroke="#b4aec5" stroke-width="0.5" opacity="0.57"/>
<circle cx="62.5" cy="23.6" r="1.9" fill="#cdc6e0" stroke="#b4aec5" stroke-width="0.5" opacity="0.69"/>
<circle cx="1.4" cy="31.3" r="1.7" fill="#cdc6e0" stroke="#b4aec5" stroke-width="0.5" opacity="0.52"/>
<circle cx="6.7" cy="31.3" r="2.3" fill="#cdc6e0" stroke="#b4aec5" stroke-width="0.5" opacity="0.66"/>
<circle cx="17.0" cy="30.7" r="2.2" fill="#cdc6e0" stroke="#b4aec5" stroke-width="0.5" opacity="0.64"/>
<circle cx="24.7" cy="29.8" r="2.2" fill="#cdc6e0" stroke="#b4aec5" stroke-width="0.5" opacity="0.68"/>
<circle cx="33.1" cy="31.5" r="1.8" fill="#cdc6e0" stroke="#b4aec5" stroke-width="0.5" opacity="0.57"/>
<circle cx="41.3" cy="29.8" r="2.2" fill="#cdc6e0" stroke="#b4aec5" stroke-width="0.5" opacity="0.65"/>
<circle cx="50.4" cy="30.3" r="1.9" fill="#cdc6e0" stroke="#b4aec5" stroke-width="0.5" opacity="0.65"/>
<circle cx="56.0" cy="30.4" r="1.6" fill="#cdc6e0" stroke="#b4aec5" stroke-width="0.5" opacity="0.57"/>
<circle cx="3.1" cy="38.0" r="2.1" fill="#cdc6e0" stroke="#b4aec5" stroke-width="0.5" opacity="0.57"/>
<circle cx="10.6" cy="37.4" r="2.1" fill="#cdc6e0" stroke="#b4aec5" stroke-width="0.5" opacity="0.69"/>
<circle cx="20.7" cy="37.3" r="1.8" fill="#cdc6e0" stroke="#b4aec5" stroke-width="0.5" opacity="0.63"/>
<circle cx="29.5" cy="38.4" r="2.1" fill="#cdc6e0" stroke="#b4aec5" stroke-width="0.5" opacity="0.69"/>
<circle cx="38.1" cy="37.3" r="1.7" fill="#cdc6e0" stroke="#b4aec5" stroke-width="0.5" opacity="0.69"/>
<circle cx="44.3" cy="38.8" r="2.2" fill="#cdc6e0" stroke="#b4aec5" stroke-width="0.5" opacity="0.65"/>
<circle cx="53.4" cy="39.8" r="1.7" fill="#cdc6e0" stroke="#b4aec5" stroke-width="0.5" opacity="0.59"/>
<circle cx="17.6" cy="45.2" r="2.0" fill="#cdc6e0" stroke="#b4aec5" stroke-width="0.5" opacity="0.66"/>
<circle cx="24.0" cy="43.7" r="1.9" fill="#cdc6e0" stroke="#b4aec5" stroke-width="0.5" opacity="0.65"/>
<circle cx="33.1" cy="45.0" r="1.9" fill="#cdc6e0" stroke="#b4aec5" stroke-width="0.5" opacity="0.59"/>
<circle cx="49.3" cy="45.6" r="2.2" fill="#cdc6e0" stroke="#b4aec5" stroke-width="0.5" opacity="0.58"/>
<circle cx="57.4" cy="44.8" r="2.0" fill="#cdc6e0" stroke="#b4aec5" stroke-width="0.5" opacity="0.55"/>
<circle cx="5.8" cy="52.1" r="2.0" fill="#cdc6e0" stroke="#b4aec5" stroke-width="0.5" opacity="0.57"/>
<circle cx="30.0" cy="54.0" r="2.2" fill="#cdc6e0" stroke="#b4aec5" stroke-width="0.5" opacity="0.52"/>
<circle cx="35.9" cy="53.5" r="1.8" fill="#cdc6e0" stroke="#b4aec5" stroke-width="0.5" opacity="0.68"/>
<circle cx="52.0" cy="52.8" r="2.1" fill="#cdc6e0" stroke="#b4aec5" stroke-width="0.5" opacity="0.64"/>
<circle cx="62.2" cy="53.5" r="1.8" fill="#cdc6e0" stroke="#b4aec5" stroke-width="0.5" opacity="0.62"/>
<circle cx="-0.2" cy="60.1" r="2.1" fill="#cdc6e0" stroke="#b4aec5" stroke-width="0.5" opacity="0.62"/>
<circle cx="7.3" cy="59.7" r="2.2" fill="#cdc6e0" stroke="#b4aec5" stroke-width="0.5" opacity="0.69"/>
<circle cx="15.2" cy="60.1" r="1.6" fill="#cdc6e0" stroke="#b4aec5" stroke-width="0.5" opacity="0.64"/>
<circle cx="24.7" cy="60.6" r="2.1" fill="#cdc6e0" stroke="#b4aec5" stroke-width="0.5" opacity="0.58"/>
<circle cx="32.9" cy="60.4" r="1.8" fill="#cdc6e0" stroke="#b4aec5" stroke-width="0.5" opacity="0.52"/>
<circle cx="42.3" cy="61.2" r="2.3" fill="#cdc6e0" stroke="#b4aec5" stroke-width="0.5" opacity="0.56"/>
<circle cx="58.2" cy="59.6" r="1.9" fill="#cdc6e0" stroke="#b4aec5" stroke-width="0.5" opacity="0.63"/>
<circle cx="12.6" cy="65.3" r="1.8" fill="#cdc6e0" stroke="#b4aec5" stroke-width="0.5" opacity="0.59"/>
<circle cx="20.3" cy="66.9" r="1.9" fill="#cdc6e0" stroke="#b4aec5" stroke-width="0.5" opacity="0.61"/>
<circle cx="29.9" cy="65.7" r="1.7" fill="#cdc6e0" stroke="#b4aec5" stroke-width="0.5" opacity="0.59"/>
<circle cx="37.2" cy="68.1" r="1.7" fill="#cdc6e0" stroke="#b4aec5" stroke-width="0.5" opacity="0.62"/>
<circle cx="44.1" cy="67.0" r="1.9" fill="#cdc6e0" stroke="#b4aec5" stroke-width="0.5" opacity="0.66"/>
<circle cx="54.7" cy="65.3" r="1.9" fill="#cdc6e0" stroke="#b4aec5" stroke-width="0.5" opacity="0.51"/>
<circle cx="8.7" cy="74.1" r="1.7" fill="#cdc6e0" stroke="#b4aec5" stroke-width="0.5" opacity="0.67"/>
<circle cx="16.6" cy="75.0" r="1.9" fill="#cdc6e0" stroke="#b4aec5" stroke-width="0.5" opacity="0.69"/>
<circle cx="23.8" cy="76.3" r="2.2" fill="#cdc6e0" stroke="#b4aec5" stroke-width="0.5" opacity="0.61"/>
<circle cx="32.5" cy="74.0" r="2.1" fill="#cdc6e0" stroke="#b4aec5" stroke-width="0.5" opacity="0.65"/>
<circle cx="40.0" cy="72.7" r="2.1" fill="#cdc6e0" stroke="#b4aec5" stroke-width="0.5" opacity="0.67"/>
<circle cx="50.6" cy="74.8" r="1.9" fill="#cdc6e0" stroke="#b4aec5" stroke-width="0.5" opacity="0.70"/>
<circle cx="56.9" cy="74.6" r="1.7" fill="#cdc6e0" stroke="#b4aec5" stroke-width="0.5" opacity="0.50"/>
<circle cx="-4.6" cy="81.0" r="2.1" fill="#cdc6e0" stroke="#b4aec5" stroke-width="0.5" opacity="0.61"/>
<circle cx="3.0" cy="82.0" r="2.0" fill="#cdc6e0" stroke="#b4aec5" stroke-width="0.5" opacity="0.52"/>
<circle cx="13.3" cy="82.9" r="2.1" fill="#cdc6e0" stroke="#b4aec5" stroke-width="0.5" opacity="0.62"/>
<circle cx="28.3" cy="81.8" r="2.0" fill="#cdc6e0" stroke="#b4aec5" stroke-width="0.5" opacity="0.66"/>
<circle cx="37.7" cy="80.0" r="2.2" fill="#cdc6e0" stroke="#b4aec5" stroke-width="0.5" opacity="0.58"/>
<circle cx="44.8" cy="81.5" r="2.1" fill="#cdc6e0" stroke="#b4aec5" stroke-width="0.5" opacity="0.56"/>
<circle cx="61.7" cy="81.5" r="2.0" fill="#cdc6e0" stroke="#b4aec5" stroke-width="0.5" opacity="0.62"/>
<circle cx="7.1" cy="86.8" r="2.1" fill="#cdc6e0" stroke="#b4aec5" stroke-width="0.5" opacity="0.63"/>
<circle cx="25.2" cy="89.0" r="1.7" fill="#cdc6e0" stroke="#b4aec5" stroke-width="0.5" opacity="0.60"/>
<circle cx="32.4" cy="88.3" r="2.1" fill="#cdc6e0" stroke="#b4aec5" stroke-width="0.5" opacity="0.65"/>
<circle cx="40.4" cy="89.6" r="2.1" fill="#cdc6e0" stroke="#b4aec5" stroke-width="0.5" opacity="0.51"/>
<circle cx="49.2" cy="88.9" r="2.1" fill="#cdc6e0" stroke="#b4aec5" stroke-width="0.5" opacity="0.64"/>
<circle cx="57.6" cy="88.6" r="2.2" fill="#cdc6e0" stroke="#b4aec5" stroke-width="0.5" opacity="0.56"/>
<circle cx="-4.0" cy="94.5" r="1.6" fill="#cdc6e0" stroke="#b4aec5" stroke-width="0.5" opacity="0.52"/>
<circle cx="4.7" cy="95.6" r="1.6" fill="#cdc6e0" stroke="#b4aec5" stroke-width="0.5" opacity="0.64"/>
<circle cx="12.6" cy="96.2" r="1.8" fill="#cdc6e0" stroke="#b4aec5" stroke-width="0.5" opacity="0.67"/>
<circle cx="20.8" cy="95.9" r="2.1" fill="#cdc6e0" stroke="#b4aec5" stroke-width="0.5" opacity="0.62"/>
<circle cx="29.1" cy="97.0" r="2.3" fill="#cdc6e0" stroke="#b4aec5" stroke-width="0.5" opacity="0.52"/>
<circle cx="35.9" cy="96.0" r="1.8" fill="#cdc6e0" stroke="#b4aec5" stroke-width="0.5" opacity="0.68"/>
<circle cx="44.4" cy="95.2" r="2.0" fill="#cdc6e0" stroke="#b4aec5" stroke-width="0.5" opacity="0.57"/>
<circle cx="53.4" cy="95.4" r="2.2" fill="#cdc6e0" stroke="#b4aec5" stroke-width="0.5" opacity="0.52"/>
<circle cx="62.8" cy="95.4" r="1.8" fill="#cdc6e0" stroke="#b4aec5" stroke-width="0.5" opacity="0.55"/>
<circle cx="-1.9" cy="101.6" r="2.1" fill="#cdc6e0" stroke="#b4aec5" stroke-width="0.5" opacity="0.64"/>
<circle cx="9.8" cy="103.7" r="1.9" fill="#cdc6e0" stroke="#b4aec5" stroke-width="0.5" opacity="0.65"/>
<circle cx="18.2" cy="101.8" r="2.2" fill="#cdc6e0" stroke="#b4aec5" stroke-width="0.5" opacity="0.68"/>
<circle cx="23.9" cy="104.5" r="1.9" fill="#cdc6e0" stroke="#b4aec5" stroke-width="0.5" opacity="0.65"/>
<circle cx="39.8" cy="103.1" r="1.8" fill="#cdc6e0" stroke="#b4aec5" stroke-width="0.5" opacity="0.56"/>
<circle cx="47.2" cy="103.2" r="1.9" fill="#cdc6e0" stroke="#b4aec5" stroke-width="0.5" opacity="0.57"/>
<circle cx="58.0" cy="101.6" r="2.1" fill="#cdc6e0" stroke="#b4aec5" stroke-width="0.5" opacity="0.61"/>
<circle cx="-4.1" cy="111.2" r="2.1" fill="#cdc6e0" stroke="#b4aec5" stroke-width="0.5" opacity="0.55"/>
<circle cx="5.0" cy="109.8" r="1.8" fill="#cdc6e0" stroke="#b4aec5" stroke-width="0.5" opacity="0.54"/>
<circle cx="12.3" cy="111.2" r="1.8" fill="#cdc6e0" stroke="#b4aec5" stroke-width="0.5" opacity="0.56"/>
<circle cx="29.2" cy="110.2" r="1.8" fill="#cdc6e0" stroke="#b4aec5" stroke-width="0.5" opacity="0.57"/>
<circle cx="43.9" cy="109.3" r="2.3" fill="#cdc6e0" stroke="#b4aec5" stroke-width="0.5" opacity="0.64"/>
<circle cx="54.5" cy="109.8" r="2.1" fill="#cdc6e0" stroke="#b4aec5" stroke-width="0.5" opacity="0.58"/>
<ellipse cx="14.6" cy="34.4" rx="1.2" ry="1.3" fill="#6a68cc" opacity="0.85"/>
<ellipse cx="12.7" cy="57.6" rx="1.4" ry="1.6" fill="#6a68cc" opacity="0.85"/>
<ellipse cx="43.2" cy="94.9" rx="1.3" ry="1.0" fill="#6a68cc" opacity="0.85"/>
<circle cx="40.4" cy="11.5" r="0.8" fill="#a8682e" opacity="0.8"/>
</g>
<path d="M53.3,82.6V101.6M51.5,82.6H53.3M51.5,85.6H53.3M51.5,88.6H53.3M51.5,91.6H53.3M51.5,94.6H53.3M51.5,97.6H53.3M51.5,100.6H53.3" stroke="#555" stroke-width="0.6" fill="none"/>
</svg>
<svg x="269.1" y="685.0" width="56.4" height="103.6" viewBox="0 0 56.4 103.6">
<rect width="56.4" height="103.6" fill="#ede5dc"/>
<g filter="url(#bl2)">
<ellipse cx="23.8" cy="101.1" rx="9.9" ry="8.2" fill="#e6dacc" opacity="0.60"/>
<ellipse cx="10.6" cy="86.0" rx="11.8" ry="5.3" fill="#e6dacc" opacity="0.66"/>
<ellipse cx="39.5" cy="74.1" rx="11.5" ry="9.1" fill="#e6dacc" opacity="0.55"/>
<ellipse cx="28.5" cy="74.7" rx="6.1" ry="4.2" fill="#e6dacc" opacity="0.46"/>
<ellipse cx="47.2" cy="33.6" rx="7.4" ry="4.7" fill="#e6dacc" opacity="0.45"/>
<ellipse cx="54.6" cy="5.2" rx="12.9" ry="7.3" fill="#e6dacc" opacity="0.50"/>
<ellipse cx="0.9" cy="91.3" rx="8.1" ry="9.7" fill="#e6dacc" opacity="0.42"/>
<ellipse cx="45.0" cy="68.5" rx="11.5" ry="6.9" fill="#e6dacc" opacity="0.69"/>
<ellipse cx="24.8" cy="24.4" rx="6.1" ry="6.8" fill="#e6dacc" opacity="0.69"/>
<ellipse cx="1.2" cy="15.9" rx="12.3" ry="7.2" fill="#e6dacc" opacity="0.62"/>
<ellipse cx="34.2" cy="15.3" rx="8.5" ry="6.3" fill="#e6dacc" opacity="0.69"/>
<ellipse cx="27.6" cy="68.0" rx="12.4" ry="6.9" fill="#e6dacc" opacity="0.72"/>
<ellipse cx="31.8" cy="99.6" rx="8.8" ry="5.5" fill="#e6dacc" opacity="0.78"/>
<ellipse cx="41.9" cy="14.9" rx="7.9" ry="7.0" fill="#e6dacc" opacity="0.42"/>
<ellipse cx="12.3" cy="11.4" rx="5.9" ry="4.5" fill="#e6dacc" opacity="0.74"/>
<ellipse cx="47.3" cy="51.5" rx="7.7" ry="9.3" fill="#e6dacc" opacity="0.71"/>
<polyline fill="none" stroke="#f7f5f3" stroke-width="3.4" stroke-linecap="round" stroke-linejoin="round" opacity="0.85" points="22.3,36.6 26.1,31.0 31.1,28.2 35.2,22.7 36.0,14.5 43.7,14.3"/>
<polyline fill="none" stroke="#f7f5f3" stroke-width="2.5" stroke-linecap="round" stroke-linejoin="round" opacity="0.85" points="51.8,90.0 62.3,89.7 65.3,83.5 76.1,80.2 82.3,73.6 86.5,72.0"/>
<polyline fill="none" stroke="#f7f5f3" stroke-width="2.2" stroke-linecap="round" stroke-linejoin="round" opacity="0.85" points="17.6,91.6 18.4,88.4 25.8,86.5 28.5,81.4 30.2,75.3 36.6,71.2"/>
<polyline fill="none" stroke="#f7f5f3" stroke-width="3.3" stroke-linecap="round" stroke-linejoin="round" opacity="0.85" points="9.1,28.4 15.4,23.5 14.9,23.2 22.1,19.5 25.4,15.0 28.6,12.4"/>
<polyline fill="none" stroke="#f7f5f3" stroke-width="4.0" stroke-linecap="round" stroke-linejoin="round" opacity="0.85" points="22.7,63.9 27.8,56.9 31.2,53.9 34.6,53.6 40.4,50.2 43.2,46.8"/>
<polyline fill="none" stroke="#f7f5f3" stroke-width="3.1" stroke-linecap="round" stroke-linejoin="round" opacity="0.85" points="51.2,73.3 50.8,68.7 57.3,63.9 57.6,61.2 64.4,59.0 64.4,53.4"/>
</g>
<rect width="56.4" height="103.6" filter="url(#grain)" opacity="0.15"/>
<g filter="url(#bl)">
<circle cx="-2.5" cy="-5.3" r="1.7" fill="#b0afde" opacity="0.61"/>
<circle cx="11.3" cy="-2.8" r="1.9" fill="#b0afde" opacity="0.63"/>
<circle cx="27.5" cy="-5.3" r="2.1" fill="#b0afde" opacity="0.68"/>
<circle cx="55.6" cy="-4.2" r="2.1" fill="#b0afde" opacity="0.63"/>
<circle cx="63.2" cy="-4.0" r="2.0" fill="#b0afde" opacity="0.54"/>
<circle cx="2.2" cy="2.5" r="2.0" fill="#b0afde" opacity="0.47"/>
<circle cx="8.3" cy="4.8" r="2.2" fill="#b0afde" opacity="0.69"/>
<circle cx="16.8" cy="0.8" r="2.1" fill="#b0afde" opacity="0.58"/>
<circle cx="42.0" cy="2.6" r="2.0" fill="#b0afde" opacity="0.52"/>
<circle cx="57.9" cy="1.6" r="1.9" fill="#b0afde" opacity="0.55"/>
<circle cx="-5.8" cy="9.4" r="2.0" fill="#b0afde" opacity="0.61"/>
<circle cx="22.9" cy="9.0" r="1.7" fill="#b0afde" opacity="0.65"/>
<circle cx="37.8" cy="11.9" r="2.2" fill="#b0afde" opacity="0.50"/>
<circle cx="47.2" cy="9.0" r="2.3" fill="#b0afde" opacity="0.63"/>
<circle cx="65.4" cy="12.6" r="2.3" fill="#b0afde" opacity="0.47"/>
<circle cx="2.0" cy="20.5" r="1.8" fill="#b0afde" opacity="0.63"/>
<circle cx="8.3" cy="15.5" r="1.6" fill="#b0afde" opacity="0.50"/>
<circle cx="17.3" cy="18.1" r="1.7" fill="#b0afde" opacity="0.51"/>
<circle cx="27.9" cy="19.5" r="1.9" fill="#b0afde" opacity="0.59"/>
<circle cx="34.2" cy="17.6" r="2.3" fill="#b0afde" opacity="0.54"/>
<circle cx="42.2" cy="15.5" r="1.7" fill="#b0afde" opacity="0.46"/>
<circle cx="51.3" cy="17.2" r="2.1" fill="#b0afde" opacity="0.69"/>
<circle cx="61.0" cy="15.7" r="2.3" fill="#b0afde" opacity="0.63"/>
<circle cx="-4.8" cy="23.2" r="1.8" fill="#b0afde" opacity="0.61"/>
<circle cx="6.8" cy="24.9" r="1.8" fill="#b0afde" opacity="0.57"/>
<circle cx="11.2" cy="25.8" r="1.7" fill="#b0afde" opacity="0.59"/>
<circle cx="19.9" cy="23.2" r="2.2" fill="#b0afde" opacity="0.58"/>
<circle cx="35.7" cy="23.9" r="2.1" fill="#b0afde" opacity="0.61"/>
<circle cx="45.2" cy="24.0" r="1.9" fill="#b0afde" opacity="0.57"/>
<circle cx="54.8" cy="22.9" r="2.0" fill="#b0afde" opacity="0.62"/>
<circle cx="1.8" cy="30.9" r="1.8" fill="#b0afde" opacity="0.62"/>
<circle cx="18.3" cy="33.8" r="1.6" fill="#b0afde" opacity="0.65"/>
<circle cx="25.5" cy="32.6" r="1.7" fill="#b0afde" opacity="0.53"/>
<circle cx="35.9" cy="34.4" r="2.1" fill="#b0afde" opacity="0.49"/>
<circle cx="50.1" cy="32.5" r="1.7" fill="#b0afde" opacity="0.48"/>
<circle cx="60.0" cy="34.3" r="1.8" fill="#b0afde" opacity="0.63"/>
<circle cx="-5.7" cy="40.0" r="2.1" fill="#b0afde" opacity="0.50"/>
<circle cx="6.1" cy="39.7" r="1.7" fill="#b0afde" opacity="0.69"/>
<circle cx="31.1" cy="41.1" r="2.1" fill="#b0afde" opacity="0.59"/>
<circle cx="37.9" cy="39.8" r="2.0" fill="#b0afde" opacity="0.68"/>
<circle cx="48.4" cy="39.9" r="2.3" fill="#b0afde" opacity="0.48"/>
<circle cx="57.3" cy="41.4" r="2.3" fill="#b0afde" opacity="0.56"/>
<circle cx="65.3" cy="39.8" r="2.3" fill="#b0afde" opacity="0.66"/>
<circle cx="9.5" cy="47.3" r="2.2" fill="#b0afde" opacity="0.54"/>
<circle cx="16.5" cy="49.8" r="2.3" fill="#b0afde" opacity="0.58"/>
<circle cx="27.5" cy="45.0" r="2.1" fill="#b0afde" opacity="0.50"/>
<circle cx="32.3" cy="45.1" r="2.2" fill="#b0afde" opacity="0.51"/>
<circle cx="44.6" cy="46.0" r="1.6" fill="#b0afde" opacity="0.47"/>
<circle cx="50.9" cy="48.5" r="2.2" fill="#b0afde" opacity="0.55"/>
<circle cx="59.1" cy="45.9" r="1.8" fill="#b0afde" opacity="0.68"/>
<circle cx="-5.5" cy="54.3" r="2.1" fill="#b0afde" opacity="0.50"/>
<circle cx="2.5" cy="54.2" r="2.3" fill="#b0afde" opacity="0.66"/>
<circle cx="12.8" cy="53.5" r="1.8" fill="#b0afde" opacity="0.58"/>
<circle cx="44.5" cy="55.5" r="1.7" fill="#b0afde" opacity="0.62"/>
<circle cx="54.0" cy="55.0" r="2.1" fill="#b0afde" opacity="0.50"/>
<circle cx="63.9" cy="54.1" r="1.8" fill="#b0afde" opacity="0.53"/>
<circle cx="15.8" cy="64.5" r="2.2" fill="#b0afde" opacity="0.64"/>
<circle cx="26.2" cy="60.6" r="1.8" fill="#b0afde" opacity="0.68"/>
<circle cx="33.7" cy="64.0" r="2.1" fill="#b0afde" opacity="0.46"/>
<circle cx="44.5" cy="62.4" r="2.0" fill="#b0afde" opacity="0.55"/>
<circle cx="59.2" cy="60.6" r="2.2" fill="#b0afde" opacity="0.63"/>
<circle cx="-3.1" cy="69.0" r="1.8" fill="#b0afde" opacity="0.49"/>
<circle cx="2.2" cy="71.7" r="2.1" fill="#b0afde" opacity="0.50"/>
<circle cx="20.6" cy="69.3" r="2.3" fill="#b0afde" opacity="0.53"/>
<circle cx="31.5" cy="71.7" r="2.0" fill="#b0afde" opacity="0.51"/>
<circle cx="38.8" cy="67.5" r="2.0" fill="#b0afde" opacity="0.53"/>
<circle cx="45.0" cy="69.8" r="1.6" fill="#b0afde" opacity="0.57"/>
<circle cx="54.1" cy="72.0" r="2.0" fill="#b0afde" opacity="0.67"/>
<circle cx="62.3" cy="69.6" r="1.6" fill="#b0afde" opacity="0.52"/>
<circle cx="-1.2" cy="75.7" r="1.7" fill="#b0afde" opacity="0.60"/>
<circle cx="10.4" cy="77.9" r="2.2" fill="#b0afde" opacity="0.67"/>
<circle cx="17.1" cy="79.3" r="1.7" fill="#b0afde" opacity="0.60"/>
<circle cx="24.6" cy="78.2" r="1.8" fill="#b0afde" opacity="0.68"/>
<circle cx="43.1" cy="79.1" r="2.0" fill="#b0afde" opacity="0.66"/>
<circle cx="52.2" cy="77.8" r="2.1" fill="#b0afde" opacity="0.60"/>
<circle cx="60.7" cy="78.3" r="2.1" fill="#b0afde" opacity="0.64"/>
<circle cx="5.0" cy="86.6" r="1.7" fill="#b0afde" opacity="0.59"/>
<circle cx="21.6" cy="85.9" r="1.7" fill="#b0afde" opacity="0.65"/>
<circle cx="27.8" cy="84.0" r="2.0" fill="#b0afde" opacity="0.58"/>
<circle cx="49.1" cy="85.4" r="1.7" fill="#b0afde" opacity="0.68"/>
<circle cx="56.6" cy="85.6" r="1.8" fill="#b0afde" opacity="0.62"/>
<circle cx="65.3" cy="82.0" r="2.1" fill="#b0afde" opacity="0.62"/>
<circle cx="2.0" cy="89.6" r="1.8" fill="#b0afde" opacity="0.52"/>
<circle cx="10.5" cy="93.4" r="1.6" fill="#b0afde" opacity="0.69"/>
<circle cx="27.3" cy="90.7" r="2.2" fill="#b0afde" opacity="0.69"/>
<circle cx="42.5" cy="90.1" r="2.1" fill="#b0afde" opacity="0.61"/>
<circle cx="60.6" cy="90.2" r="2.0" fill="#b0afde" opacity="0.53"/>
<circle cx="-3.5" cy="98.5" r="2.3" fill="#b0afde" opacity="0.69"/>
<circle cx="1.9" cy="101.8" r="2.1" fill="#b0afde" opacity="0.48"/>
<circle cx="10.6" cy="101.1" r="2.2" fill="#b0afde" opacity="0.53"/>
<circle cx="19.6" cy="98.4" r="2.2" fill="#b0afde" opacity="0.57"/>
<circle cx="29.3" cy="100.1" r="2.1" fill="#b0afde" opacity="0.52"/>
<circle cx="46.7" cy="99.2" r="2.3" fill="#b0afde" opacity="0.69"/>
<circle cx="54.2" cy="99.2" r="2.3" fill="#b0afde" opacity="0.56"/>
<circle cx="62.2" cy="99.6" r="1.8" fill="#b0afde" opacity="0.62"/>
<circle cx="18.1" cy="104.7" r="2.0" fill="#b0afde" opacity="0.47"/>
<circle cx="24.5" cy="104.9" r="2.1" fill="#b0afde" opacity="0.46"/>
<circle cx="36.5" cy="105.0" r="2.0" fill="#b0afde" opacity="0.50"/>
<circle cx="50.2" cy="109.2" r="2.1" fill="#b0afde" opacity="0.52"/>
<ellipse cx="5.3" cy="10.7" rx="1.3" ry="0.9" fill="#6a68cc" opacity="0.85"/>
<ellipse cx="13.6" cy="6.5" rx="1.2" ry="1.1" fill="#6a68cc" opacity="0.85"/>
<ellipse cx="50.4" cy="13.8" rx="1.2" ry="0.9" fill="#6a68cc" opacity="0.85"/>
</g>
<path d="M53.6,82.6V101.6M51.8,82.6H53.6M51.8,85.6H53.6M51.8,88.6H53.6M51.8,91.6H53.6M51.8,94.6H53.6M51.8,97.6H53.6M51.8,100.6H53.6" stroke="#555" stroke-width="0.6" fill="none"/>
</svg>
<svg x="327.5" y="685.0" width="56.4" height="103.6" viewBox="0 0 56.4 103.6">
<rect width="56.4" height="103.6" fill="#e8d7c2"/>
<g filter="url(#bl2)">
<ellipse cx="27.2" cy="93.5" rx="9.3" ry="9.3" fill="#dcc6aa" opacity="0.63"/>
<ellipse cx="56.1" cy="37.0" rx="10.3" ry="6.9" fill="#dcc6aa" opacity="0.63"/>
<ellipse cx="18.3" cy="83.6" rx="11.5" ry="8.0" fill="#dcc6aa" opacity="0.63"/>
<ellipse cx="2.5" cy="80.0" rx="7.7" ry="4.6" fill="#dcc6aa" opacity="0.49"/>
<ellipse cx="16.6" cy="12.7" rx="8.8" ry="9.2" fill="#dcc6aa" opacity="0.64"/>
<ellipse cx="22.2" cy="36.9" rx="11.8" ry="8.3" fill="#dcc6aa" opacity="0.62"/>
<ellipse cx="15.0" cy="96.4" rx="10.3" ry="9.1" fill="#dcc6aa" opacity="0.51"/>
<ellipse cx="33.8" cy="47.3" rx="7.7" ry="8.9" fill="#dcc6aa" opacity="0.64"/>
<ellipse cx="56.1" cy="85.9" rx="5.1" ry="7.7" fill="#dcc6aa" opacity="0.52"/>
<ellipse cx="45.0" cy="84.7" rx="6.5" ry="9.6" fill="#dcc6aa" opacity="0.61"/>
<ellipse cx="47.2" cy="65.4" rx="6.2" ry="7.2" fill="#dcc6aa" opacity="0.58"/>
<ellipse cx="2.4" cy="13.0" rx="5.5" ry="9.4" fill="#dcc6aa" opacity="0.59"/>
<ellipse cx="10.7" cy="35.5" rx="6.8" ry="5.8" fill="#dcc6aa" opacity="0.55"/>
<ellipse cx="25.9" cy="49.7" rx="12.7" ry="4.2" fill="#dcc6aa" opacity="0.57"/>
<ellipse cx="14.0" cy="96.8" rx="7.9" ry="5.3" fill="#dcc6aa" opacity="0.75"/>
<ellipse cx="11.6" cy="62.1" rx="10.4" ry="9.6" fill="#dcc6aa" opacity="0.56"/>
<polyline fill="none" stroke="#f0eae2" stroke-width="2.9" stroke-linecap="round" stroke-linejoin="round" opacity="0.85" points="35.7,36.1 42.1,38.1 45.5,44.0 55.7,45.8 64.5,47.1 69.8,51.8"/>
<polyline fill="none" stroke="#f0eae2" stroke-width="2.6" stroke-linecap="round" stroke-linejoin="round" opacity="0.85" points="22.5,91.7 24.4,93.3 31.6,94.6 30.9,96.5 38.8,99.0 39.0,101.3"/>
</g>
<rect width="56.4" height="103.6" filter="url(#grain)" opacity="0.35"/>
<g filter="url(#bl)">
<path d="M0.8,-2.2L-2.5,-0.7L-5.8,-4.0L-5.0,-7.0L-1.0,-8.3L1.1,-6.4ZM6.4,-1.6L2.5,-0.3L0.1,-1.6L0.1,-5.8L2.9,-7.7L5.8,-6.1ZM13.1,-0.6L9.4,-0.5L6.8,-3.1L7.2,-6.0L11.9,-7.6L14.8,-4.1ZM19.7,0.1L17.3,0.2L14.4,-1.7L14.6,-5.1L18.9,-7.0L21.0,-4.7ZM27.3,-3.8L25.6,-0.0L22.3,0.3L20.3,-3.7L22.6,-6.5L26.7,-5.8ZM34.1,0.5L30.9,1.4L27.8,-1.6L27.9,-4.1L32.2,-5.6L34.7,-3.3ZM40.0,-0.5L37.0,-0.2L34.2,-2.5L36.3,-6.5L38.8,-6.8L41.3,-3.9ZM48.5,-1.2L45.4,-0.9L43.9,-2.9L45.2,-7.7L49.0,-6.9L50.3,-4.7ZM53.6,-0.9L49.9,-1.8L48.8,-3.7L49.9,-7.5L54.0,-8.1L55.3,-4.7ZM63.3,-3.8L62.2,-0.3L57.0,-0.4L55.9,-2.8L58.4,-6.3L60.7,-6.8ZM4.4,1.6L1.7,5.4L-2.6,3.5L-3.6,1.6L-0.9,-2.5L3.0,-1.5ZM6.8,6.7L4.0,5.9L1.8,2.1L3.1,0.3L6.9,-1.0L9.4,3.1ZM17.3,7.4L14.7,7.7L11.0,4.7L12.6,1.3L17.2,0.6L18.5,3.4ZM24.8,4.7L20.7,7.0L17.7,4.7L17.2,1.8L20.6,-0.2L24.2,1.5ZM31.1,3.9L28.5,7.8L25.6,6.8L24.6,2.2L27.4,-0.1L30.8,0.9ZM39.9,3.9L37.7,6.1L34.3,6.3L32.4,2.7L35.1,-1.2L37.5,-0.9ZM44.7,3.6L39.9,5.2L36.9,3.1L37.9,-0.6L42.5,-1.7L44.5,0.9ZM49.4,4.5L45.4,3.9L44.4,1.3L45.7,-1.9L50.2,-1.2L52.1,1.5ZM58.7,7.0L56.0,6.6L53.5,3.8L54.9,0.5L58.0,-1.1L60.7,2.3ZM64.9,3.8L61.6,4.2L59.1,2.3L59.7,-1.2L64.1,-2.7L66.0,0.5ZM1.2,11.4L-2.6,12.9L-6.1,10.9L-5.9,7.4L-3.4,6.1L0.8,7.8ZM4.6,12.2L1.2,12.6L-0.9,10.5L0.4,6.7L4.0,6.0L5.9,8.9ZM13.3,9.4L10.0,11.9L7.2,10.5L5.9,6.9L9.8,3.5L12.7,6.1ZM22.3,8.9L19.4,12.2L15.9,11.2L14.5,7.6L17.5,4.7L21.2,5.9ZM29.4,10.4L27.6,13.0L23.8,13.1L22.5,8.7L24.5,6.4L28.5,7.3ZM34.9,11.5L31.2,13.3L28.8,10.3L30.1,6.9L33.1,5.5L35.6,8.0ZM43.0,9.8L41.9,12.3L37.3,12.1L36.4,8.8L37.2,6.6L42.0,6.3ZM47.1,12.1L44.6,13.3L41.6,11.9L41.9,7.2L45.2,6.4L48.5,8.7ZM56.6,11.3L54.9,13.6L51.4,12.6L49.6,9.0L53.1,6.5L56.8,7.1ZM62.9,8.3L58.9,11.4L56.7,10.8L55.1,7.3L57.5,4.0L61.3,5.9ZM3.7,16.5L-0.0,18.0L-2.1,15.7L-1.1,12.1L2.1,10.4L4.5,13.7ZM11.2,15.0L7.5,17.1L5.2,15.5L5.7,10.3L8.9,9.3L12.2,12.7ZM17.6,17.2L14.9,18.4L12.0,17.3L11.8,13.6L15.8,11.5L18.0,13.9ZM24.6,15.3L22.5,18.7L19.1,17.6L18.1,14.5L19.4,11.2L23.8,12.3ZM29.6,17.7L25.7,18.0L23.8,16.1L24.1,12.6L28.7,11.1L31.1,13.4ZM40.4,14.6L36.9,17.5L32.8,16.0L32.6,12.2L35.5,10.4L38.9,11.6ZM47.1,14.9L44.2,18.2L39.8,16.6L39.1,13.2L41.6,11.0L45.9,12.4ZM50.7,19.3L47.6,19.8L44.3,17.3L44.9,13.6L47.8,12.1L51.2,14.1ZM57.8,17.3L54.8,17.2L52.7,14.1L54.1,10.8L57.8,10.7L59.6,13.4ZM65.8,17.4L64.0,18.8L60.3,17.6L59.0,14.3L62.7,11.3L64.8,12.2ZM1.1,21.7L-3.1,23.4L-5.5,20.4L-4.7,16.8L-1.0,16.1L1.5,18.8ZM6.7,24.2L3.4,24.6L0.8,22.8L1.2,18.8L5.6,17.8L7.8,21.1ZM13.2,21.4L9.6,25.2L6.4,24.4L5.2,20.2L8.3,18.0L11.6,18.2ZM22.3,21.1L19.9,24.5L17.5,24.3L14.5,20.9L17.6,17.1L20.2,17.3ZM25.3,22.7L22.1,22.9L20.4,20.5L20.6,17.7L24.2,16.1L26.7,18.9ZM34.8,22.0L31.1,24.0L28.4,20.9L28.7,18.0L32.0,16.9L35.3,18.5ZM40.2,22.2L37.5,24.8L33.9,23.7L33.8,20.0L37.9,17.3L39.6,18.7ZM48.9,23.2L44.5,24.1L42.7,22.5L43.4,17.9L47.6,17.2L49.3,19.2ZM55.7,23.0L53.2,24.9L49.7,22.4L50.1,18.3L52.9,17.6L56.4,20.5ZM63.0,22.7L60.2,23.9L57.1,19.7L57.7,17.6L61.2,15.8L64.7,19.2ZM4.5,30.6L1.3,31.7L-1.8,30.2L-1.7,26.3L1.8,24.7L4.3,27.4ZM9.7,28.3L5.9,30.7L3.4,29.8L3.0,25.7L6.3,23.0L9.6,25.7ZM16.1,29.7L13.4,29.8L9.6,27.8L10.9,24.4L14.3,22.7L16.2,24.1ZM26.0,27.1L23.3,30.2L19.7,28.4L18.9,25.0L22.4,22.3L25.1,23.4ZM30.1,29.0L25.4,30.1L24.1,27.2L26.2,23.3L29.0,22.9L31.6,26.9ZM38.6,26.7L35.8,29.5L32.0,28.5L30.9,25.3L33.5,22.0L37.3,23.6ZM46.4,27.2L45.1,30.2L40.0,28.5L39.1,25.6L41.2,23.3L45.8,23.8ZM53.2,24.7L51.3,28.3L47.3,28.6L46.2,26.0L47.6,21.8L51.3,21.8ZM58.9,30.4L55.2,31.1L52.7,27.3L54.1,25.1L58.4,24.5L60.8,27.4ZM65.3,28.1L62.3,30.4L58.8,28.3L59.3,25.2L61.7,22.8L64.8,23.6ZM-1.7,36.7L-4.2,38.2L-7.8,35.2L-7.7,32.7L-3.7,31.2L-0.7,33.2ZM6.3,36.4L3.3,38.2L0.0,37.2L-0.7,33.3L3.2,30.2L5.3,31.6ZM14.7,34.7L10.7,35.5L8.8,33.8L8.9,30.4L13.2,28.5L15.2,30.5ZM20.4,33.8L17.2,35.5L13.8,33.7L14.0,29.3L17.8,28.7L20.2,29.7ZM27.1,37.2L24.9,38.0L21.0,34.3L22.7,31.2L26.8,30.0L29.3,33.5ZM32.8,34.6L30.5,35.9L27.1,34.6L27.6,30.1L30.9,29.5L34.2,31.2ZM40.4,35.0L37.3,37.6L33.7,35.9L33.1,33.4L37.2,30.7L40.7,32.1ZM47.2,34.7L42.7,36.0L40.7,34.2L42.2,29.6L44.9,28.7L48.2,31.7ZM53.9,35.3L50.8,36.7L47.4,33.4L48.0,30.9L52.2,29.1L54.5,31.7ZM63.1,35.5L60.3,37.2L57.0,35.1L56.4,32.4L59.6,29.7L63.2,33.0ZM3.2,42.0L0.3,42.3L-2.4,41.4L-2.3,36.8L0.6,35.5L4.7,37.6ZM11.3,38.7L9.2,41.5L5.6,40.5L4.3,36.5L7.0,33.8L9.6,34.7ZM16.4,42.2L13.7,42.7L10.1,39.9L10.8,37.1L15.2,36.0L17.5,37.4ZM23.4,41.2L21.8,43.1L16.8,42.2L16.7,38.4L19.7,36.0L23.5,37.7ZM29.5,41.2L27.2,42.4L23.5,39.8L23.7,36.4L27.9,34.8L30.2,37.7ZM38.0,38.9L34.7,42.4L31.5,40.6L30.6,37.8L33.6,35.2L37.1,35.1ZM45.8,41.2L42.1,43.5L38.4,40.0L39.6,36.7L43.4,35.9L45.7,38.2ZM51.8,41.0L48.6,43.6L45.6,42.2L45.1,38.8L48.5,36.1L52.5,38.6ZM58.6,42.9L56.3,44.2L52.4,41.0L53.2,37.9L56.2,35.8L59.9,38.8ZM66.8,40.8L63.9,42.1L60.8,40.9L60.0,37.6L63.5,35.2L65.7,36.0ZM0.1,45.6L-2.8,47.8L-6.5,46.4L-6.1,42.4L-4.3,40.4L-0.5,41.8ZM4.5,48.7L1.2,50.6L-1.1,47.3L-0.7,44.3L3.4,42.7L5.4,45.4ZM12.9,45.8L10.5,48.2L7.5,48.2L6.1,43.6L7.4,41.0L11.0,41.7ZM19.6,46.7L16.6,47.8L13.0,45.4L14.0,41.9L16.4,40.6L19.8,43.3ZM28.5,47.0L26.5,48.9L22.4,48.6L21.5,45.0L22.8,42.6L27.2,42.5ZM33.2,46.5L32.1,50.1L28.2,49.9L26.0,46.3L29.1,42.3L31.4,43.1ZM42.9,48.6L38.3,49.7L36.0,47.9L36.0,44.6L39.7,42.9L42.7,45.0ZM49.2,45.8L46.2,49.6L43.0,48.1L42.3,44.6L43.6,41.8L47.4,42.8ZM57.2,46.3L54.9,47.7L50.4,47.0L50.3,44.1L52.0,41.0L56.2,42.9ZM61.4,47.6L60.1,49.5L55.7,49.1L54.4,45.7L57.2,42.7L60.2,43.9ZM4.0,50.2L2.3,52.9L-1.4,53.7L-3.8,50.0L-2.1,47.2L2.4,47.7ZM11.3,52.3L9.4,55.7L5.5,54.9L4.0,51.1L6.7,48.7L10.2,49.5ZM15.8,55.8L11.8,55.4L11.0,53.1L12.1,50.0L16.7,49.4L18.4,51.9ZM23.6,51.1L20.5,53.6L16.9,52.1L16.6,49.4L18.4,46.1L23.1,47.5ZM33.1,52.7L31.1,56.3L27.5,55.7L25.2,52.2L27.5,49.3L31.8,49.8ZM37.8,52.5L35.5,55.8L33.0,56.1L31.2,51.6L32.8,49.4L36.6,49.2ZM46.6,52.1L43.3,55.5L40.7,54.1L39.3,50.8L41.2,48.3L46.3,49.7ZM50.4,54.5L46.4,54.2L44.5,52.1L45.6,47.9L48.7,47.4L51.2,50.6ZM58.2,53.1L56.1,53.1L52.1,51.5L52.8,48.1L56.8,46.6L59.6,48.3ZM65.2,54.8L62.9,54.8L60.0,51.0L60.8,48.8L64.0,47.6L66.7,49.8ZM-0.5,58.8L-3.4,60.6L-6.4,58.4L-7.6,55.2L-2.8,52.6L-0.9,53.8ZM5.8,60.4L2.1,61.2L0.8,60.0L0.9,55.9L3.7,54.3L6.6,57.1ZM14.5,58.4L11.7,62.2L9.4,62.1L7.8,58.5L8.9,56.0L12.4,55.7ZM19.2,59.7L15.4,60.6L13.1,58.7L13.3,55.3L16.4,53.4L19.6,55.3ZM29.0,58.7L26.1,61.8L22.5,60.0L22.5,56.8L25.9,54.9L27.9,55.3ZM34.2,62.2L31.0,62.2L28.7,58.6L31.0,55.4L34.8,55.3L37.1,58.1ZM40.7,60.2L37.0,62.0L34.0,60.1L34.5,55.8L37.6,54.3L40.7,57.2ZM46.4,60.4L42.9,60.9L40.7,58.9L41.5,54.5L45.6,54.1L47.8,56.9ZM54.1,62.5L50.5,61.5L48.9,58.2L49.8,55.8L53.4,54.7L56.4,57.8ZM61.7,57.4L59.6,59.7L56.7,59.4L54.3,55.9L57.5,53.0L61.4,53.3ZM4.8,65.0L1.6,67.0L-1.9,65.9L-1.6,61.4L0.3,59.8L4.0,61.6ZM10.9,63.7L6.9,67.3L4.2,65.6L3.3,61.3L5.6,59.1L9.9,60.6ZM18.7,63.2L17.9,65.8L13.4,65.9L11.4,63.1L14.2,59.4L17.9,59.9ZM24.0,64.4L22.4,67.5L19.4,67.1L17.0,62.9L19.5,60.8L22.6,61.1ZM31.6,61.6L30.2,65.6L26.9,65.5L24.6,62.5L26.6,59.1L30.2,58.5ZM37.6,65.0L34.5,66.5L31.8,63.7L32.7,60.4L36.3,58.9L38.7,62.3ZM44.0,66.8L39.6,67.6L38.1,65.2L39.6,60.9L42.7,60.5L45.0,63.5ZM51.9,63.5L47.8,66.4L44.8,64.6L44.0,62.0L47.0,59.2L50.0,60.1ZM60.0,66.2L55.7,66.6L53.7,64.7L54.9,61.0L58.1,59.7L60.9,63.5ZM65.0,65.8L62.6,67.2L59.3,63.3L61.5,59.6L65.2,59.9L66.8,63.2ZM0.3,72.4L-3.8,73.1L-6.8,69.7L-5.1,66.9L-1.4,66.0L1.1,68.6ZM5.8,69.6L3.1,72.3L0.1,71.8L-1.2,68.0L1.6,65.2L5.4,65.9ZM12.5,73.5L9.8,74.2L6.2,72.0L6.7,68.6L11.3,67.4L14.0,70.3ZM21.3,72.9L16.9,74.5L14.7,72.7L15.8,68.0L18.6,66.8L21.1,68.7ZM28.6,69.7L26.7,72.2L22.3,70.9L20.7,68.3L23.6,65.3L27.5,65.1ZM35.8,68.8L32.6,72.0L30.2,70.7L29.3,67.2L31.9,64.7L36.2,66.2ZM41.9,71.9L39.0,73.9L35.7,72.6L35.5,68.2L37.0,66.4L41.1,68.0ZM47.2,73.1L43.2,73.7L40.6,70.4L43.0,67.3L45.2,67.4L48.6,69.9ZM56.6,70.5L53.4,72.9L50.0,71.5L50.2,68.1L52.9,65.3L55.7,65.9ZM62.1,71.3L58.7,73.2L55.6,72.3L54.9,68.1L58.6,66.1L61.6,67.8ZM3.5,76.5L0.9,79.9L-2.3,79.7L-4.2,76.0L-1.1,73.1L3.2,74.5ZM8.3,78.7L5.7,78.4L3.4,76.1L4.8,72.0L7.8,71.7L9.8,74.8ZM17.0,77.7L14.1,78.6L11.4,74.9L12.5,72.5L16.6,72.1L18.8,73.9ZM25.3,78.2L22.5,79.6L18.4,77.1L19.8,73.6L22.6,72.9L24.8,74.1ZM30.9,74.9L28.6,78.4L24.8,77.2L23.9,74.1L26.7,70.7L29.2,71.4ZM35.8,77.4L32.7,77.6L30.2,76.1L31.4,71.6L34.3,70.5L37.3,73.4ZM45.2,78.0L41.7,80.0L38.1,75.9L39.2,73.0L43.0,72.5L45.2,75.3ZM51.2,77.0L47.0,79.0L44.7,76.0L45.0,72.6L48.7,71.4L50.9,73.9ZM59.1,76.6L55.6,79.0L52.0,76.0L53.0,72.7L56.3,71.7L58.8,72.5ZM66.6,78.1L63.1,78.8L60.4,76.6L61.6,72.7L64.6,71.5L67.2,74.5ZM-1.8,84.4L-5.1,84.8L-7.6,82.2L-6.1,78.5L-3.1,78.2L-0.5,81.9ZM5.7,82.3L2.5,84.4L-1.1,83.3L-0.5,78.3L2.0,77.3L4.5,78.3ZM14.2,81.0L11.8,84.2L8.8,84.4L6.7,80.4L9.3,77.1L12.7,78.3ZM18.9,84.0L16.5,85.6L12.6,81.7L15.0,78.6L18.8,77.7L20.1,79.9ZM28.1,84.9L24.6,86.2L21.8,83.5L23.7,79.2L25.8,78.9L29.3,81.3ZM35.7,82.8L33.8,86.6L30.0,85.5L28.5,82.9L30.6,79.8L35.0,80.1ZM41.1,85.5L38.8,86.2L34.7,84.8L35.4,81.4L39.0,79.8L41.9,81.7ZM48.2,83.6L45.9,84.3L43.0,82.1L43.7,78.0L46.5,77.6L49.3,79.5ZM55.2,83.5L53.7,85.4L50.0,85.7L48.0,82.4L49.5,79.7L54.4,80.1ZM64.2,81.2L61.2,85.0L57.4,84.7L57.1,82.3L58.4,79.1L62.3,79.0ZM2.5,89.8L-1.9,91.9L-4.3,89.4L-4.1,86.0L-1.3,84.4L1.8,86.8ZM10.4,90.3L6.1,91.0L3.8,88.7L5.1,84.9L9.1,84.4L11.4,87.5ZM17.3,89.8L13.9,92.1L10.7,90.2L11.1,86.6L14.4,84.5L17.6,86.1ZM24.1,88.9L21.7,91.2L18.0,91.8L16.5,87.1L17.9,85.4L23.2,85.8ZM31.1,89.3L28.7,92.0L25.4,91.9L23.8,87.7L27.8,84.8L31.4,86.8ZM38.1,88.3L35.6,91.4L32.5,91.6L31.2,87.7L33.6,84.4L36.7,85.7ZM42.2,91.1L39.7,91.9L37.2,87.8L38.7,84.4L42.3,84.8L44.1,87.8ZM51.2,90.6L47.5,91.5L45.6,89.7L46.1,86.3L49.4,85.4L51.9,88.4ZM59.3,88.1L55.1,89.5L52.4,88.0L53.1,84.1L56.6,82.8L58.5,84.0ZM67.5,87.2L64.5,91.4L61.3,90.1L59.8,86.5L62.5,83.5L66.6,84.6ZM0.3,94.4L-2.6,96.8L-6.7,94.7L-6.6,91.9L-4.5,89.8L-0.1,90.3ZM5.5,96.3L1.8,98.1L-1.6,95.8L-0.1,91.7L3.9,91.0L6.2,93.9ZM13.4,98.2L10.5,98.1L7.8,95.6L10.1,91.2L13.8,91.1L15.4,94.1ZM21.1,94.9L18.2,97.8L15.7,97.0L14.3,94.7L17.0,90.3L19.6,91.2ZM27.6,97.4L25.6,98.0L21.6,95.3L22.6,92.5L26.3,91.4L29.4,93.5ZM35.5,92.9L33.0,96.6L29.4,95.9L28.0,92.8L30.7,89.8L33.7,89.4ZM42.5,93.9L39.8,97.5L36.8,96.7L34.6,93.1L36.1,90.6L39.9,89.7ZM48.7,95.9L45.7,97.8L42.3,97.5L41.0,93.6L43.0,91.3L47.5,92.0ZM56.8,95.9L53.6,98.0L51.4,97.5L49.7,93.3L52.7,90.9L55.8,91.9ZM62.7,97.2L59.7,97.9L57.6,96.2L58.0,91.8L61.2,90.4L63.7,93.8ZM2.4,104.0L-2.5,104.2L-4.6,101.8L-2.6,98.6L2.0,98.6L3.2,100.3ZM9.4,102.9L7.1,103.2L4.4,100.5L5.7,96.9L8.8,96.7L11.5,99.4ZM17.0,101.8L13.4,102.8L10.3,100.7L11.7,96.3L15.5,96.4L17.8,99.1ZM23.7,101.1L19.8,102.4L17.0,101.2L17.5,97.1L20.3,95.1L23.9,97.8ZM30.6,102.2L27.1,103.4L24.3,100.3L25.2,97.2L28.3,96.1L30.8,98.7ZM37.7,101.8L34.1,103.2L30.8,100.0L32.6,96.2L34.8,96.0L38.0,98.4ZM43.8,102.1L39.9,103.8L37.4,102.9L37.9,98.3L41.8,96.7L44.2,99.1ZM53.3,102.3L49.6,103.2L46.6,100.4L47.6,97.2L50.7,97.0L54.4,99.1ZM60.8,101.3L56.9,103.6L53.9,102.4L54.4,97.7L57.1,96.9L60.3,98.6ZM66.3,102.6L61.9,102.6L60.6,99.8L61.9,96.0L66.0,96.0L68.2,99.5ZM-0.3,106.7L-2.3,109.1L-7.0,108.0L-7.6,104.6L-4.7,102.7L-2.0,102.4ZM8.0,107.8L5.4,110.5L1.1,108.8L1.2,104.6L3.4,102.7L7.1,104.5ZM11.9,108.2L7.9,108.0L5.9,106.3L7.0,102.4L11.0,101.4L12.8,103.5ZM21.7,108.7L18.0,110.7L14.8,106.8L16.2,103.8L19.1,102.6L21.7,106.5ZM27.4,106.4L25.0,108.6L21.4,107.2L20.3,104.4L23.6,101.4L27.3,103.1ZM34.4,109.3L30.8,109.0L28.1,106.5L30.0,102.9L33.2,102.0L36.1,106.1ZM41.8,107.0L39.8,110.2L36.0,110.0L34.4,106.7L36.2,103.7L39.4,103.1ZM49.6,109.0L47.8,110.9L43.6,109.7L43.1,106.6L45.0,103.8L50.0,105.4ZM55.4,107.4L52.2,110.0L48.3,107.5L48.9,103.6L52.6,102.3L55.4,104.0ZM65.0,107.6L61.5,111.1L57.5,109.0L57.8,105.6L59.2,103.5L63.6,105.5Z" fill="none" stroke="#c49668" stroke-width="0.6" opacity="0.25"/>
<circle cx="-3.1" cy="-5.6" r="2.2" fill="#cdc4dc" stroke="#b4acc2" stroke-width="0.5" opacity="0.54"/>
<circle cx="2.4" cy="-3.8" r="1.6" fill="#cdc4dc" stroke="#b4acc2" stroke-width="0.5" opacity="0.59"/>
<circle cx="9.7" cy="-4.0" r="2.2" fill="#cdc4dc" stroke="#b4acc2" stroke-width="0.5" opacity="0.53"/>
<circle cx="18.4" cy="-3.5" r="2.0" fill="#cdc4dc" stroke="#b4acc2" stroke-width="0.5" opacity="0.70"/>
<circle cx="23.6" cy="-2.1" r="1.6" fill="#cdc4dc" stroke="#b4acc2" stroke-width="0.5" opacity="0.61"/>
<circle cx="30.4" cy="-1.9" r="1.8" fill="#cdc4dc" stroke="#b4acc2" stroke-width="0.5" opacity="0.70"/>
<circle cx="38.0" cy="-4.0" r="2.1" fill="#cdc4dc" stroke="#b4acc2" stroke-width="0.5" opacity="0.63"/>
<circle cx="46.2" cy="-4.2" r="1.6" fill="#cdc4dc" stroke="#b4acc2" stroke-width="0.5" opacity="0.63"/>
<circle cx="1.1" cy="2.2" r="1.7" fill="#cdc4dc" stroke="#b4acc2" stroke-width="0.5" opacity="0.55"/>
<circle cx="5.3" cy="3.5" r="2.2" fill="#cdc4dc" stroke="#b4acc2" stroke-width="0.5" opacity="0.64"/>
<circle cx="15.8" cy="3.2" r="2.0" fill="#cdc4dc" stroke="#b4acc2" stroke-width="0.5" opacity="0.70"/>
<circle cx="21.0" cy="3.4" r="2.3" fill="#cdc4dc" stroke="#b4acc2" stroke-width="0.5" opacity="0.50"/>
<circle cx="28.3" cy="3.6" r="1.7" fill="#cdc4dc" stroke="#b4acc2" stroke-width="0.5" opacity="0.56"/>
<circle cx="41.3" cy="1.1" r="2.1" fill="#cdc4dc" stroke="#b4acc2" stroke-width="0.5" opacity="0.67"/>
<circle cx="58.1" cy="4.0" r="2.1" fill="#cdc4dc" stroke="#b4acc2" stroke-width="0.5" opacity="0.57"/>
<circle cx="63.2" cy="1.6" r="2.1" fill="#cdc4dc" stroke="#b4acc2" stroke-width="0.5" opacity="0.52"/>
<circle cx="2.3" cy="8.9" r="2.1" fill="#cdc4dc" stroke="#b4acc2" stroke-width="0.5" opacity="0.66"/>
<circle cx="10.6" cy="7.0" r="1.9" fill="#cdc4dc" stroke="#b4acc2" stroke-width="0.5" opacity="0.68"/>
<circle cx="19.1" cy="8.7" r="1.6" fill="#cdc4dc" stroke="#b4acc2" stroke-width="0.5" opacity="0.62"/>
<circle cx="26.1" cy="10.6" r="1.7" fill="#cdc4dc" stroke="#b4acc2" stroke-width="0.5" opacity="0.52"/>
<circle cx="33.1" cy="10.1" r="2.2" fill="#cdc4dc" stroke="#b4acc2" stroke-width="0.5" opacity="0.56"/>
<circle cx="39.6" cy="8.9" r="1.9" fill="#cdc4dc" stroke="#b4acc2" stroke-width="0.5" opacity="0.52"/>
<circle cx="43.4" cy="10.4" r="1.9" fill="#cdc4dc" stroke="#b4acc2" stroke-width="0.5" opacity="0.62"/>
<circle cx="53.0" cy="9.3" r="1.8" fill="#cdc4dc" stroke="#b4acc2" stroke-width="0.5" opacity="0.61"/>
<circle cx="58.9" cy="7.1" r="2.3" fill="#cdc4dc" stroke="#b4acc2" stroke-width="0.5" opacity="0.55"/>
<circle cx="1.5" cy="14.8" r="1.8" fill="#cdc4dc" stroke="#b4acc2" stroke-width="0.5" opacity="0.53"/>
<circle cx="8.6" cy="13.6" r="2.0" fill="#cdc4dc" stroke="#b4acc2" stroke-width="0.5" opacity="0.53"/>
<circle cx="14.9" cy="15.5" r="2.0" fill="#cdc4dc" stroke="#b4acc2" stroke-width="0.5" opacity="0.55"/>
<circle cx="27.2" cy="14.3" r="2.0" fill="#cdc4dc" stroke="#b4acc2" stroke-width="0.5" opacity="0.67"/>
<circle cx="36.4" cy="14.0" r="1.7" fill="#cdc4dc" stroke="#b4acc2" stroke-width="0.5" opacity="0.59"/>
<circle cx="42.0" cy="13.5" r="2.2" fill="#cdc4dc" stroke="#b4acc2" stroke-width="0.5" opacity="0.67"/>
<circle cx="47.3" cy="16.4" r="2.0" fill="#cdc4dc" stroke="#b4acc2" stroke-width="0.5" opacity="0.50"/>
<circle cx="55.1" cy="13.1" r="2.3" fill="#cdc4dc" stroke="#b4acc2" stroke-width="0.5" opacity="0.62"/>
<circle cx="63.0" cy="15.1" r="2.0" fill="#cdc4dc" stroke="#b4acc2" stroke-width="0.5" opacity="0.52"/>
<circle cx="-3.1" cy="19.0" r="2.0" fill="#cdc4dc" stroke="#b4acc2" stroke-width="0.5" opacity="0.66"/>
<circle cx="5.0" cy="22.2" r="1.7" fill="#cdc4dc" stroke="#b4acc2" stroke-width="0.5" opacity="0.58"/>
<circle cx="9.6" cy="21.4" r="2.1" fill="#cdc4dc" stroke="#b4acc2" stroke-width="0.5" opacity="0.70"/>
<circle cx="18.5" cy="20.8" r="2.2" fill="#cdc4dc" stroke="#b4acc2" stroke-width="0.5" opacity="0.54"/>
<circle cx="31.2" cy="19.5" r="1.8" fill="#cdc4dc" stroke="#b4acc2" stroke-width="0.5" opacity="0.50"/>
<circle cx="36.1" cy="20.6" r="1.6" fill="#cdc4dc" stroke="#b4acc2" stroke-width="0.5" opacity="0.67"/>
<circle cx="45.9" cy="21.5" r="2.1" fill="#cdc4dc" stroke="#b4acc2" stroke-width="0.5" opacity="0.69"/>
<circle cx="60.3" cy="19.3" r="2.2" fill="#cdc4dc" stroke="#b4acc2" stroke-width="0.5" opacity="0.60"/>
<circle cx="0.5" cy="28.2" r="1.8" fill="#cdc4dc" stroke="#b4acc2" stroke-width="0.5" opacity="0.67"/>
<circle cx="5.4" cy="26.1" r="1.6" fill="#cdc4dc" stroke="#b4acc2" stroke-width="0.5" opacity="0.53"/>
<circle cx="14.2" cy="27.0" r="2.1" fill="#cdc4dc" stroke="#b4acc2" stroke-width="0.5" opacity="0.59"/>
<circle cx="21.7" cy="25.4" r="1.8" fill="#cdc4dc" stroke="#b4acc2" stroke-width="0.5" opacity="0.56"/>
<circle cx="27.7" cy="26.7" r="2.0" fill="#cdc4dc" stroke="#b4acc2" stroke-width="0.5" opacity="0.67"/>
<circle cx="34.5" cy="26.9" r="2.0" fill="#cdc4dc" stroke="#b4acc2" stroke-width="0.5" opacity="0.65"/>
<circle cx="42.4" cy="25.5" r="2.1" fill="#cdc4dc" stroke="#b4acc2" stroke-width="0.5" opacity="0.66"/>
<circle cx="50.1" cy="24.5" r="1.9" fill="#cdc4dc" stroke="#b4acc2" stroke-width="0.5" opacity="0.61"/>
<circle cx="56.0" cy="28.4" r="1.8" fill="#cdc4dc" stroke="#b4acc2" stroke-width="0.5" opacity="0.57"/>
<circle cx="61.5" cy="27.6" r="2.2" fill="#cdc4dc" stroke="#b4acc2" stroke-width="0.5" opacity="0.56"/>
<circle cx="-3.8" cy="34.5" r="1.9" fill="#cdc4dc" stroke="#b4acc2" stroke-width="0.5" opacity="0.64"/>
<circle cx="2.5" cy="34.6" r="1.8" fill="#cdc4dc" stroke="#b4acc2" stroke-width="0.5" opacity="0.65"/>
<circle cx="11.8" cy="32.2" r="1.6" fill="#cdc4dc" stroke="#b4acc2" stroke-width="0.5" opacity="0.50"/>
<circle cx="25.9" cy="33.3" r="2.1" fill="#cdc4dc" stroke="#b4acc2" stroke-width="0.5" opacity="0.55"/>
<circle cx="36.4" cy="34.5" r="2.0" fill="#cdc4dc" stroke="#b4acc2" stroke-width="0.5" opacity="0.59"/>
<circle cx="44.1" cy="31.8" r="1.9" fill="#cdc4dc" stroke="#b4acc2" stroke-width="0.5" opacity="0.61"/>
<circle cx="52.1" cy="32.6" r="2.2" fill="#cdc4dc" stroke="#b4acc2" stroke-width="0.5" opacity="0.60"/>
<circle cx="59.3" cy="34.7" r="2.2" fill="#cdc4dc" stroke="#b4acc2" stroke-width="0.5" opacity="0.53"/>
<circle cx="0.4" cy="39.1" r="1.9" fill="#cdc4dc" stroke="#b4acc2" stroke-width="0.5" opacity="0.70"/>
<circle cx="7.2" cy="38.7" r="2.0" fill="#cdc4dc" stroke="#b4acc2" stroke-width="0.5" opacity="0.63"/>
<circle cx="14.9" cy="39.6" r="1.7" fill="#cdc4dc" stroke="#b4acc2" stroke-width="0.5" opacity="0.63"/>
<circle cx="20.5" cy="39.7" r="2.3" fill="#cdc4dc" stroke="#b4acc2" stroke-width="0.5" opacity="0.62"/>
<circle cx="27.4" cy="38.1" r="1.9" fill="#cdc4dc" stroke="#b4acc2" stroke-width="0.5" opacity="0.61"/>
<circle cx="34.9" cy="37.8" r="2.3" fill="#cdc4dc" stroke="#b4acc2" stroke-width="0.5" opacity="0.50"/>
<circle cx="43.1" cy="39.6" r="1.7" fill="#cdc4dc" stroke="#b4acc2" stroke-width="0.5" opacity="0.60"/>
<circle cx="48.1" cy="38.9" r="2.0" fill="#cdc4dc" stroke="#b4acc2" stroke-width="0.5" opacity="0.50"/>
<circle cx="56.6" cy="39.5" r="2.1" fill="#cdc4dc" stroke="#b4acc2" stroke-width="0.5" opacity="0.69"/>
<circle cx="64.1" cy="38.0" r="1.7" fill="#cdc4dc" stroke="#b4acc2" stroke-width="0.5" opacity="0.61"/>
<circle cx="-3.7" cy="45.0" r="2.2" fill="#cdc4dc" stroke="#b4acc2" stroke-width="0.5" opacity="0.70"/>
<circle cx="2.5" cy="45.8" r="1.9" fill="#cdc4dc" stroke="#b4acc2" stroke-width="0.5" opacity="0.55"/>
<circle cx="9.5" cy="44.9" r="2.3" fill="#cdc4dc" stroke="#b4acc2" stroke-width="0.5" opacity="0.60"/>
<circle cx="25.1" cy="45.0" r="2.1" fill="#cdc4dc" stroke="#b4acc2" stroke-width="0.5" opacity="0.52"/>
<circle cx="29.6" cy="46.0" r="1.7" fill="#cdc4dc" stroke="#b4acc2" stroke-width="0.5" opacity="0.62"/>
<circle cx="39.7" cy="46.2" r="2.0" fill="#cdc4dc" stroke="#b4acc2" stroke-width="0.5" opacity="0.65"/>
<circle cx="44.7" cy="45.9" r="2.0" fill="#cdc4dc" stroke="#b4acc2" stroke-width="0.5" opacity="0.60"/>
<circle cx="53.6" cy="43.9" r="2.2" fill="#cdc4dc" stroke="#b4acc2" stroke-width="0.5" opacity="0.66"/>
<circle cx="57.1" cy="46.8" r="1.9" fill="#cdc4dc" stroke="#b4acc2" stroke-width="0.5" opacity="0.62"/>
<circle cx="0.8" cy="51.2" r="2.2" fill="#cdc4dc" stroke="#b4acc2" stroke-width="0.5" opacity="0.63"/>
<circle cx="8.3" cy="53.0" r="1.8" fill="#cdc4dc" stroke="#b4acc2" stroke-width="0.5" opacity="0.65"/>
<circle cx="13.7" cy="52.7" r="2.2" fill="#cdc4dc" stroke="#b4acc2" stroke-width="0.5" opacity="0.51"/>
<circle cx="19.9" cy="49.5" r="1.8" fill="#cdc4dc" stroke="#b4acc2" stroke-width="0.5" opacity="0.59"/>
<circle cx="29.3" cy="52.9" r="1.6" fill="#cdc4dc" stroke="#b4acc2" stroke-width="0.5" opacity="0.61"/>
<circle cx="35.4" cy="52.1" r="1.8" fill="#cdc4dc" stroke="#b4acc2" stroke-width="0.5" opacity="0.66"/>
<circle cx="48.5" cy="51.1" r="1.7" fill="#cdc4dc" stroke="#b4acc2" stroke-width="0.5" opacity="0.54"/>
<circle cx="56.9" cy="50.2" r="1.8" fill="#cdc4dc" stroke="#b4acc2" stroke-width="0.5" opacity="0.67"/>
<circle cx="63.3" cy="50.8" r="1.9" fill="#cdc4dc" stroke="#b4acc2" stroke-width="0.5" opacity="0.52"/>
<circle cx="-2.7" cy="57.5" r="2.2" fill="#cdc4dc" stroke="#b4acc2" stroke-width="0.5" opacity="0.54"/>
<circle cx="11.3" cy="59.4" r="1.6" fill="#cdc4dc" stroke="#b4acc2" stroke-width="0.5" opacity="0.57"/>
<circle cx="16.4" cy="57.4" r="1.7" fill="#cdc4dc" stroke="#b4acc2" stroke-width="0.5" opacity="0.54"/>
<circle cx="32.1" cy="58.2" r="1.9" fill="#cdc4dc" stroke="#b4acc2" stroke-width="0.5" opacity="0.53"/>
<circle cx="38.1" cy="57.3" r="2.1" fill="#cdc4dc" stroke="#b4acc2" stroke-width="0.5" opacity="0.67"/>
<circle cx="44.7" cy="57.3" r="2.2" fill="#cdc4dc" stroke="#b4acc2" stroke-width="0.5" opacity="0.57"/>
<circle cx="57.9" cy="55.4" r="1.6" fill="#cdc4dc" stroke="#b4acc2" stroke-width="0.5" opacity="0.56"/>
<circle cx="0.9" cy="63.3" r="1.7" fill="#cdc4dc" stroke="#b4acc2" stroke-width="0.5" opacity="0.55"/>
<circle cx="6.5" cy="63.3" r="1.8" fill="#cdc4dc" stroke="#b4acc2" stroke-width="0.5" opacity="0.52"/>
<circle cx="21.2" cy="64.9" r="1.8" fill="#cdc4dc" stroke="#b4acc2" stroke-width="0.5" opacity="0.69"/>
<circle cx="28.9" cy="61.2" r="1.6" fill="#cdc4dc" stroke="#b4acc2" stroke-width="0.5" opacity="0.57"/>
<circle cx="35.8" cy="63.2" r="1.8" fill="#cdc4dc" stroke="#b4acc2" stroke-width="0.5" opacity="0.59"/>
<circle cx="47.0" cy="62.5" r="2.1" fill="#cdc4dc" stroke="#b4acc2" stroke-width="0.5" opacity="0.66"/>
<circle cx="63.0" cy="63.7" r="2.0" fill="#cdc4dc" stroke="#b4acc2" stroke-width="0.5" opacity="0.54"/>
<circle cx="-2.0" cy="68.9" r="2.2" fill="#cdc4dc" stroke="#b4acc2" stroke-width="0.5" opacity="0.51"/>
<circle cx="2.5" cy="68.6" r="2.0" fill="#cdc4dc" stroke="#b4acc2" stroke-width="0.5" opacity="0.59"/>
<circle cx="10.4" cy="71.5" r="1.9" fill="#cdc4dc" stroke="#b4acc2" stroke-width="0.5" opacity="0.57"/>
<circle cx="25.9" cy="67.9" r="2.3" fill="#cdc4dc" stroke="#b4acc2" stroke-width="0.5" opacity="0.63"/>
<circle cx="33.5" cy="67.6" r="2.2" fill="#cdc4dc" stroke="#b4acc2" stroke-width="0.5" opacity="0.58"/>
<circle cx="39.0" cy="69.8" r="1.9" fill="#cdc4dc" stroke="#b4acc2" stroke-width="0.5" opacity="0.68"/>
<circle cx="45.2" cy="71.3" r="2.2" fill="#cdc4dc" stroke="#b4acc2" stroke-width="0.5" opacity="0.57"/>
<circle cx="52.4" cy="69.2" r="2.2" fill="#cdc4dc" stroke="#b4acc2" stroke-width="0.5" opacity="0.60"/>
<circle cx="57.9" cy="70.2" r="2.0" fill="#cdc4dc" stroke="#b4acc2" stroke-width="0.5" opacity="0.54"/>
<circle cx="0.5" cy="76.9" r="2.2" fill="#cdc4dc" stroke="#b4acc2" stroke-width="0.5" opacity="0.52"/>
<circle cx="7.2" cy="75.0" r="2.0" fill="#cdc4dc" stroke="#b4acc2" stroke-width="0.5" opacity="0.51"/>
<circle cx="15.3" cy="75.2" r="1.6" fill="#cdc4dc" stroke="#b4acc2" stroke-width="0.5" opacity="0.52"/>
<circle cx="21.4" cy="75.3" r="2.0" fill="#cdc4dc" stroke="#b4acc2" stroke-width="0.5" opacity="0.54"/>
<circle cx="28.2" cy="75.0" r="2.3" fill="#cdc4dc" stroke="#b4acc2" stroke-width="0.5" opacity="0.67"/>
<circle cx="33.2" cy="74.4" r="2.1" fill="#cdc4dc" stroke="#b4acc2" stroke-width="0.5" opacity="0.62"/>
<circle cx="48.5" cy="75.1" r="1.6" fill="#cdc4dc" stroke="#b4acc2" stroke-width="0.5" opacity="0.65"/>
<circle cx="56.6" cy="75.0" r="2.3" fill="#cdc4dc" stroke="#b4acc2" stroke-width="0.5" opacity="0.63"/>
<circle cx="63.1" cy="74.7" r="1.7" fill="#cdc4dc" stroke="#b4acc2" stroke-width="0.5" opacity="0.54"/>
<circle cx="-4.8" cy="81.1" r="2.2" fill="#cdc4dc" stroke="#b4acc2" stroke-width="0.5" opacity="0.56"/>
<circle cx="2.2" cy="81.0" r="2.2" fill="#cdc4dc" stroke="#b4acc2" stroke-width="0.5" opacity="0.64"/>
<circle cx="9.9" cy="80.5" r="1.9" fill="#cdc4dc" stroke="#b4acc2" stroke-width="0.5" opacity="0.68"/>
<circle cx="17.5" cy="82.1" r="1.8" fill="#cdc4dc" stroke="#b4acc2" stroke-width="0.5" opacity="0.57"/>
<circle cx="25.2" cy="82.8" r="2.0" fill="#cdc4dc" stroke="#b4acc2" stroke-width="0.5" opacity="0.65"/>
<circle cx="32.5" cy="82.9" r="1.9" fill="#cdc4dc" stroke="#b4acc2" stroke-width="0.5" opacity="0.58"/>
<circle cx="39.1" cy="82.4" r="2.2" fill="#cdc4dc" stroke="#b4acc2" stroke-width="0.5" opacity="0.63"/>
<circle cx="46.4" cy="80.9" r="2.3" fill="#cdc4dc" stroke="#b4acc2" stroke-width="0.5" opacity="0.64"/>
<circle cx="52.7" cy="82.2" r="1.9" fill="#cdc4dc" stroke="#b4acc2" stroke-width="0.5" opacity="0.64"/>
<circle cx="60.6" cy="81.7" r="2.2" fill="#cdc4dc" stroke="#b4acc2" stroke-width="0.5" opacity="0.68"/>
<circle cx="-1.8" cy="88.8" r="1.9" fill="#cdc4dc" stroke="#b4acc2" stroke-width="0.5" opacity="0.61"/>
<circle cx="8.3" cy="87.5" r="1.8" fill="#cdc4dc" stroke="#b4acc2" stroke-width="0.5" opacity="0.65"/>
<circle cx="14.7" cy="88.2" r="2.1" fill="#cdc4dc" stroke="#b4acc2" stroke-width="0.5" opacity="0.63"/>
<circle cx="20.1" cy="87.9" r="2.2" fill="#cdc4dc" stroke="#b4acc2" stroke-width="0.5" opacity="0.55"/>
<circle cx="26.9" cy="87.8" r="2.0" fill="#cdc4dc" stroke="#b4acc2" stroke-width="0.5" opacity="0.54"/>
<circle cx="34.8" cy="88.7" r="2.2" fill="#cdc4dc" stroke="#b4acc2" stroke-width="0.5" opacity="0.70"/>
<circle cx="39.8" cy="87.6" r="1.9" fill="#cdc4dc" stroke="#b4acc2" stroke-width="0.5" opacity="0.65"/>
<circle cx="56.7" cy="85.9" r="2.3" fill="#cdc4dc" stroke="#b4acc2" stroke-width="0.5" opacity="0.55"/>
<circle cx="63.5" cy="88.1" r="1.8" fill="#cdc4dc" stroke="#b4acc2" stroke-width="0.5" opacity="0.51"/>
<circle cx="-2.4" cy="93.9" r="1.9" fill="#cdc4dc" stroke="#b4acc2" stroke-width="0.5" opacity="0.60"/>
<circle cx="3.2" cy="95.3" r="1.9" fill="#cdc4dc" stroke="#b4acc2" stroke-width="0.5" opacity="0.67"/>
<circle cx="11.7" cy="93.5" r="2.0" fill="#cdc4dc" stroke="#b4acc2" stroke-width="0.5" opacity="0.66"/>
<circle cx="17.5" cy="94.7" r="2.0" fill="#cdc4dc" stroke="#b4acc2" stroke-width="0.5" opacity="0.67"/>
<circle cx="26.0" cy="94.0" r="1.9" fill="#cdc4dc" stroke="#b4acc2" stroke-width="0.5" opacity="0.60"/>
<circle cx="31.1" cy="93.7" r="2.2" fill="#cdc4dc" stroke="#b4acc2" stroke-width="0.5" opacity="0.60"/>
<circle cx="38.0" cy="93.6" r="1.9" fill="#cdc4dc" stroke="#b4acc2" stroke-width="0.5" opacity="0.56"/>
<circle cx="44.9" cy="94.5" r="2.1" fill="#cdc4dc" stroke="#b4acc2" stroke-width="0.5" opacity="0.70"/>
<circle cx="53.5" cy="95.8" r="2.2" fill="#cdc4dc" stroke="#b4acc2" stroke-width="0.5" opacity="0.67"/>
<circle cx="60.8" cy="94.3" r="1.8" fill="#cdc4dc" stroke="#b4acc2" stroke-width="0.5" opacity="0.61"/>
<circle cx="0.4" cy="102.1" r="2.2" fill="#cdc4dc" stroke="#b4acc2" stroke-width="0.5" opacity="0.70"/>
<circle cx="7.4" cy="99.9" r="1.8" fill="#cdc4dc" stroke="#b4acc2" stroke-width="0.5" opacity="0.67"/>
<circle cx="20.0" cy="99.0" r="2.2" fill="#cdc4dc" stroke="#b4acc2" stroke-width="0.5" opacity="0.59"/>
<circle cx="27.1" cy="99.4" r="1.9" fill="#cdc4dc" stroke="#b4acc2" stroke-width="0.5" opacity="0.65"/>
<circle cx="35.6" cy="99.2" r="1.9" fill="#cdc4dc" stroke="#b4acc2" stroke-width="0.5" opacity="0.61"/>
<circle cx="41.7" cy="100.7" r="1.6" fill="#cdc4dc" stroke="#b4acc2" stroke-width="0.5" opacity="0.51"/>
<circle cx="64.8" cy="99.5" r="2.0" fill="#cdc4dc" stroke="#b4acc2" stroke-width="0.5" opacity="0.58"/>
<circle cx="-3.0" cy="106.4" r="2.2" fill="#cdc4dc" stroke="#b4acc2" stroke-width="0.5" opacity="0.53"/>
<circle cx="4.7" cy="106.8" r="2.0" fill="#cdc4dc" stroke="#b4acc2" stroke-width="0.5" opacity="0.58"/>
<circle cx="9.5" cy="104.2" r="2.3" fill="#cdc4dc" stroke="#b4acc2" stroke-width="0.5" opacity="0.53"/>
<circle cx="31.5" cy="106.0" r="2.1" fill="#cdc4dc" stroke="#b4acc2" stroke-width="0.5" opacity="0.55"/>
<circle cx="38.8" cy="106.6" r="1.9" fill="#cdc4dc" stroke="#b4acc2" stroke-width="0.5" opacity="0.65"/>
<circle cx="46.2" cy="106.7" r="1.8" fill="#cdc4dc" stroke="#b4acc2" stroke-width="0.5" opacity="0.59"/>
<circle cx="52.6" cy="106.6" r="1.8" fill="#cdc4dc" stroke="#b4acc2" stroke-width="0.5" opacity="0.53"/>
<circle cx="60.4" cy="107.5" r="1.9" fill="#cdc4dc" stroke="#b4acc2" stroke-width="0.5" opacity="0.62"/>
<ellipse cx="21.6" cy="90.3" rx="1.2" ry="0.8" fill="#6a68cc" opacity="0.85"/>
<circle cx="27.8" cy="94.6" r="1.1" fill="#a8682e" opacity="0.8"/>
</g>
<path d="M53.6,82.6V101.6M51.8,82.6H53.6M51.8,85.6H53.6M51.8,88.6H53.6M51.8,91.6H53.6M51.8,94.6H53.6M51.8,97.6H53.6M51.8,100.6H53.6" stroke="#555" stroke-width="0.6" fill="none"/>
</svg>
<svg x="34.5" y="790.1" width="56.2" height="103.5" viewBox="0 0 56.2 103.5">
<rect width="56.2" height="103.5" fill="#f2ece6"/>
<g filter="url(#bl2)">
<ellipse cx="37.7" cy="88.7" rx="7.0" ry="4.5" fill="#eadccc" opacity="0.57"/>
<ellipse cx="9.2" cy="45.2" rx="10.8" ry="5.2" fill="#eadccc" opacity="0.73"/>
<ellipse cx="28.7" cy="52.3" rx="13.0" ry="7.5" fill="#eadccc" opacity="0.46"/>
<ellipse cx="26.8" cy="79.8" rx="7.9" ry="4.5" fill="#eadccc" opacity="0.61"/>
<ellipse cx="31.0" cy="29.5" rx="10.7" ry="4.9" fill="#eadccc" opacity="0.60"/>
<ellipse cx="51.1" cy="103.3" rx="11.3" ry="10.0" fill="#eadccc" opacity="0.69"/>
<ellipse cx="10.7" cy="44.9" rx="10.6" ry="4.1" fill="#eadccc" opacity="0.74"/>
<ellipse cx="52.1" cy="2.9" rx="9.3" ry="7.6" fill="#eadccc" opacity="0.63"/>
<ellipse cx="3.0" cy="89.9" rx="6.8" ry="4.4" fill="#eadccc" opacity="0.67"/>
<ellipse cx="32.0" cy="24.6" rx="9.2" ry="5.2" fill="#eadccc" opacity="0.46"/>
<ellipse cx="53.6" cy="9.2" rx="8.8" ry="9.8" fill="#eadccc" opacity="0.42"/>
<ellipse cx="10.1" cy="64.7" rx="10.8" ry="9.1" fill="#eadccc" opacity="0.75"/>
<ellipse cx="1.4" cy="4.8" rx="10.0" ry="4.7" fill="#eadccc" opacity="0.75"/>
<ellipse cx="54.8" cy="86.0" rx="12.2" ry="4.3" fill="#eadccc" opacity="0.78"/>
<ellipse cx="27.3" cy="45.7" rx="12.3" ry="4.2" fill="#eadccc" opacity="0.69"/>
<ellipse cx="6.0" cy="0.0" rx="10.4" ry="4.5" fill="#eadccc" opacity="0.78"/>
</g>
<rect width="56.2" height="103.5" filter="url(#grain)" opacity="0.1"/>
<g filter="url(#bl)">
<path d="M-0.4,-4.9L-1.6,0.0L-8.8,-0.8L-10.8,-4.4L-8.2,-9.9L-2.7,-9.4ZM8.9,-2.5L6.6,0.2L-0.0,-0.7L-1.5,-6.5L1.4,-10.4L7.5,-9.5ZM18.5,-1.4L12.3,-0.7L9.3,-4.0L10.4,-8.7L17.3,-10.4L19.9,-7.1ZM31.2,-4.2L28.1,0.7L22.7,-0.1L19.8,-5.9L23.2,-9.2L29.3,-8.3ZM41.2,-2.7L35.8,-0.8L31.9,-4.2L32.9,-8.4L37.6,-12.3L43.9,-6.5ZM52.3,-0.7L46.7,0.5L42.0,-4.4L46.6,-9.1L51.5,-8.4L54.3,-4.5ZM61.5,-1.1L54.1,-0.5L52.0,-4.7L54.9,-10.2L61.4,-9.4L63.3,-4.2ZM0.8,10.9L-5.1,9.2L-6.8,4.7L-4.6,1.4L-0.0,-0.4L3.9,3.5ZM15.5,4.9L9.9,8.6L6.9,6.0L6.6,-1.4L9.1,-2.1L15.7,-0.4ZM26.9,7.7L21.1,11.3L15.3,6.7L16.2,1.9L20.0,-0.5L26.2,3.1ZM35.9,7.7L30.2,8.6L25.9,4.6L27.7,-0.4L33.0,-3.3L37.9,1.7ZM47.5,7.1L43.5,10.2L38.0,9.2L37.2,2.9L41.0,-1.6L46.5,0.9ZM57.2,4.9L53.8,7.9L49.1,7.4L47.0,0.6L52.1,-3.4L57.6,-0.4ZM69.9,5.1L63.3,8.9L60.3,6.5L61.5,-0.6L65.5,-2.5L70.1,1.9ZM0.0,15.0L-3.1,19.5L-9.7,17.9L-10.8,12.4L-6.6,8.8L-2.1,10.1ZM11.4,15.8L6.9,19.7L0.1,16.3L0.9,11.7L6.0,9.4L10.9,12.1ZM22.7,16.3L19.3,19.9L14.5,19.2L11.8,12.5L13.9,9.8L20.0,9.1ZM31.1,15.8L27.4,19.6L21.4,17.0L20.3,12.4L25.9,7.8L30.0,10.1ZM40.8,13.2L38.3,17.2L32.6,16.9L30.9,11.6L33.5,6.9L39.8,7.9ZM54.1,12.5L51.5,18.0L45.0,17.3L42.6,12.4L47.6,6.7L53.3,9.1ZM63.4,19.6L56.8,18.6L53.7,14.3L57.2,9.0L61.3,9.8L65.5,13.8ZM3.9,25.1L-0.3,26.7L-5.6,22.7L-5.1,17.3L-1.7,16.1L3.2,17.9ZM17.2,25.0L13.7,26.9L7.3,24.5L7.0,20.1L10.2,16.9L16.3,18.0ZM24.3,26.9L18.5,28.3L16.3,25.8L16.9,18.7L20.8,17.4L24.8,19.3ZM36.3,26.3L33.4,28.0L27.1,27.7L25.7,21.8L31.2,16.9L34.8,18.9ZM47.4,23.1L42.1,27.7L37.8,26.1L36.6,19.3L40.5,15.8L45.6,17.2ZM58.3,26.1L53.4,29.1L50.7,28.2L48.1,22.2L52.5,17.7L57.4,19.8ZM68.9,24.5L64.9,28.1L60.9,26.0L58.8,19.5L63.7,15.7L67.5,17.5ZM-2.1,36.4L-5.6,37.5L-10.1,33.5L-9.4,28.8L-4.3,26.7L-0.7,31.6ZM7.7,37.3L2.3,37.1L-0.2,31.3L1.2,27.7L6.5,27.0L10.5,30.4ZM20.6,36.7L14.7,36.3L11.6,32.7L14.1,26.3L19.7,26.9L23.3,31.7ZM29.4,34.0L25.2,36.7L21.2,34.1L19.1,28.1L25.9,24.3L29.2,26.2ZM40.8,35.4L35.6,36.3L32.5,35.0L32.4,28.1L36.8,25.8L42.2,28.5ZM51.0,35.7L48.0,38.5L42.4,35.4L43.5,29.7L49.0,26.4L53.0,30.7ZM63.2,35.4L58.4,37.6L54.0,32.9L55.1,28.3L60.9,26.7L65.2,29.8ZM5.4,39.8L2.8,44.2L-3.6,44.1L-6.3,39.0L-4.5,35.1L2.2,34.9ZM16.5,41.6L11.6,47.5L6.7,45.5L5.0,40.9L10.1,35.3L13.3,36.4ZM25.6,42.2L20.5,45.0L17.1,43.3L17.4,36.6L22.8,34.3L25.7,35.6ZM35.6,46.1L29.6,47.5L25.9,41.5L27.9,37.9L34.2,37.3L36.5,41.7ZM49.1,43.1L45.8,47.2L41.2,47.0L38.3,39.0L41.5,36.5L47.7,37.2ZM57.8,43.5L54.0,45.3L48.6,42.4L48.7,37.4L54.8,34.3L58.3,38.7ZM69.0,41.6L65.5,44.9L60.5,45.1L58.5,38.9L61.5,34.9L66.6,35.9ZM-1.1,51.9L-5.4,56.0L-11.3,52.6L-10.3,46.8L-5.3,43.3L-1.8,46.0ZM10.6,53.4L5.0,54.4L1.8,52.1L1.4,47.2L6.7,43.7L10.8,47.4ZM19.9,55.8L15.6,55.8L12.2,51.7L13.1,46.7L18.1,45.1L22.0,49.9ZM30.1,52.6L25.6,53.5L21.0,49.4L23.6,44.4L27.7,43.4L32.1,46.8ZM41.7,53.1L35.8,56.2L31.3,54.1L30.6,48.2L34.0,45.2L39.7,47.0ZM50.9,56.0L46.3,56.6L41.5,53.4L42.7,46.4L47.1,44.8L51.8,48.9ZM59.9,53.2L53.8,53.7L52.2,48.4L53.3,44.4L58.6,43.6L62.9,49.3ZM3.6,64.4L-3.1,65.5L-5.3,60.0L-3.5,54.8L3.3,54.9L6.2,60.1ZM15.6,62.4L11.2,65.2L4.2,63.1L4.2,57.9L9.1,54.4L13.3,55.5ZM24.6,61.8L17.3,63.3L15.3,59.0L16.3,54.6L21.4,53.1L24.8,56.0ZM38.6,60.5L32.6,63.7L28.6,61.1L27.6,55.2L33.8,51.7L38.1,55.7ZM46.2,64.6L43.2,65.6L38.9,61.4L39.8,54.4L45.9,53.6L48.4,57.1ZM57.2,64.0L51.1,66.2L46.0,60.8L49.3,55.1L54.4,54.7L58.0,59.7ZM68.1,61.8L66.9,64.9L59.7,65.1L58.4,58.9L61.3,55.7L67.3,56.6ZM1.2,70.0L-3.8,73.3L-9.5,69.9L-8.6,65.5L-4.9,62.5L0.5,65.3ZM11.8,70.6L7.5,73.5L2.2,72.1L0.6,65.8L4.0,62.8L10.4,63.6ZM20.3,71.5L14.2,74.7L11.1,72.6L10.6,66.3L16.0,64.0L20.9,67.3ZM30.8,70.7L24.9,71.7L22.1,66.3L24.7,62.6L30.3,62.9L32.6,66.5ZM40.8,72.3L33.8,75.1L29.9,71.7L31.6,65.2L37.7,63.0L41.8,68.0ZM52.5,72.7L48.9,74.8L42.9,70.9L42.0,66.4L46.8,62.5L53.2,66.1ZM64.3,69.6L58.9,72.3L55.8,71.1L55.1,64.0L58.0,61.3L64.2,64.1ZM3.9,79.2L-1.6,84.4L-6.8,81.2L-7.3,75.8L-2.9,71.9L2.5,73.8ZM13.0,83.1L8.5,83.0L4.3,79.7L7.9,72.7L11.4,72.8L15.2,78.1ZM24.9,79.9L20.5,82.7L15.6,76.7L17.1,71.4L21.7,70.0L26.2,75.0ZM38.3,78.0L33.7,81.7L29.3,80.0L28.2,75.5L30.8,72.3L37.0,73.9ZM47.6,80.3L43.0,82.8L37.8,79.1L37.3,74.8L41.9,71.7L48.0,73.5ZM58.7,79.9L54.4,83.5L49.2,82.3L47.6,77.9L50.8,72.2L55.7,73.1ZM67.1,80.2L62.5,81.8L58.5,79.8L58.9,74.5L63.2,70.6L69.1,74.6ZM-2.3,89.4L-6.3,91.4L-12.0,88.0L-10.1,82.0L-7.5,80.7L-3.1,82.0ZM11.8,86.8L6.8,92.5L2.9,92.3L0.6,86.4L2.0,82.1L9.1,83.1ZM21.4,88.2L16.6,92.3L12.4,88.3L12.5,84.6L17.4,80.3L21.3,82.4ZM32.5,91.0L26.7,93.9L21.8,90.8L23.0,85.7L26.8,83.4L32.1,86.1ZM41.8,88.6L38.2,92.1L32.1,90.2L31.3,85.2L33.4,81.0L39.8,82.5ZM52.2,92.4L46.8,94.3L42.5,87.4L45.6,83.6L50.0,83.0L53.4,87.9ZM64.4,90.0L60.8,93.7L53.2,90.9L52.6,88.3L56.0,82.5L63.2,84.2ZM4.2,97.9L-1.8,100.7L-5.3,97.4L-6.6,91.9L-1.0,89.7L3.5,91.3ZM16.0,98.0L9.2,100.4L5.2,97.6L5.7,92.3L11.2,88.8L16.5,94.2ZM25.2,101.7L19.1,102.7L16.2,98.4L17.7,94.2L23.7,91.6L26.6,95.7ZM37.3,97.4L32.2,100.2L27.5,98.7L27.5,93.3L31.2,90.8L35.6,91.8ZM48.6,98.8L42.1,102.2L38.4,99.0L39.0,92.9L42.3,91.5L47.4,94.0ZM58.7,98.2L55.0,100.6L50.2,98.1L49.7,91.5L54.0,89.1L58.9,93.3ZM67.8,95.8L65.9,99.7L58.7,99.4L57.2,95.8L60.8,89.6L65.7,90.4ZM-0.8,106.7L-5.7,112.5L-8.9,111.0L-11.9,105.3L-7.3,101.4L-1.7,103.5ZM9.3,108.8L2.4,109.7L-0.0,104.9L1.2,101.6L6.8,99.9L11.1,103.1ZM19.1,108.4L13.6,109.5L10.1,105.7L12.8,98.4L18.7,99.4L21.3,102.8ZM30.5,105.7L27.2,111.6L22.3,112.1L20.2,106.7L23.2,102.3L29.8,103.1ZM41.2,108.5L35.3,111.7L31.8,108.4L31.7,102.0L34.5,100.0L39.9,101.5ZM51.1,109.3L44.7,109.7L42.9,106.5L43.5,100.5L49.1,99.3L53.2,105.1ZM62.4,107.1L58.9,110.2L54.3,110.4L50.6,105.5L52.9,100.8L59.8,99.8Z" fill="none" stroke="#d29e6a" stroke-width="0.6" opacity="0.68"/>
<circle cx="-5.2" cy="-4.1" r="1.6" fill="#969ada" opacity="0.72"/>
<circle cx="4.0" cy="-4.6" r="1.7" fill="#969ada" opacity="0.85"/>
<circle cx="13.8" cy="-5.7" r="1.9" fill="#969ada" opacity="0.83"/>
<circle cx="26.4" cy="-4.9" r="2.0" fill="#969ada" opacity="0.78"/>
<circle cx="36.7" cy="-5.3" r="1.8" fill="#969ada" opacity="0.72"/>
<circle cx="47.8" cy="-4.8" r="1.5" fill="#969ada" opacity="0.77"/>
<circle cx="57.7" cy="-4.3" r="1.8" fill="#969ada" opacity="0.73"/>
<circle cx="-1.0" cy="4.9" r="1.6" fill="#969ada" opacity="0.75"/>
<circle cx="9.8" cy="2.6" r="1.6" fill="#969ada" opacity="0.85"/>
<circle cx="20.8" cy="4.9" r="1.8" fill="#969ada" opacity="0.89"/>
<circle cx="51.7" cy="2.2" r="1.9" fill="#969ada" opacity="0.71"/>
<circle cx="65.0" cy="2.8" r="1.8" fill="#969ada" opacity="0.85"/>
<circle cx="-5.0" cy="13.8" r="1.6" fill="#969ada" opacity="0.71"/>
<circle cx="6.6" cy="14.0" r="1.7" fill="#969ada" opacity="0.87"/>
<circle cx="17.2" cy="13.6" r="1.5" fill="#969ada" opacity="0.86"/>
<circle cx="25.9" cy="14.7" r="1.8" fill="#969ada" opacity="0.81"/>
<circle cx="35.7" cy="12.2" r="1.5" fill="#969ada" opacity="0.89"/>
<circle cx="58.7" cy="14.7" r="1.9" fill="#969ada" opacity="0.80"/>
<circle cx="-0.3" cy="21.3" r="1.9" fill="#969ada" opacity="0.81"/>
<circle cx="12.4" cy="22.9" r="2.0" fill="#969ada" opacity="0.82"/>
<circle cx="19.9" cy="23.2" r="1.5" fill="#969ada" opacity="0.71"/>
<circle cx="31.5" cy="22.9" r="1.8" fill="#969ada" opacity="0.87"/>
<circle cx="41.6" cy="22.7" r="1.8" fill="#969ada" opacity="0.88"/>
<circle cx="53.4" cy="24.4" r="1.9" fill="#969ada" opacity="0.71"/>
<circle cx="62.9" cy="21.2" r="1.6" fill="#969ada" opacity="0.75"/>
<circle cx="-5.5" cy="32.0" r="1.9" fill="#969ada" opacity="0.71"/>
<circle cx="5.1" cy="31.0" r="1.6" fill="#969ada" opacity="0.77"/>
<circle cx="25.1" cy="29.4" r="1.9" fill="#969ada" opacity="0.76"/>
<circle cx="36.1" cy="30.9" r="1.8" fill="#969ada" opacity="0.87"/>
<circle cx="48.7" cy="32.0" r="1.9" fill="#969ada" opacity="0.81"/>
<circle cx="60.2" cy="31.8" r="1.8" fill="#969ada" opacity="0.76"/>
<circle cx="-0.9" cy="39.3" r="1.9" fill="#969ada" opacity="0.71"/>
<circle cx="10.0" cy="40.5" r="2.0" fill="#969ada" opacity="0.74"/>
<circle cx="20.7" cy="39.2" r="2.0" fill="#969ada" opacity="0.77"/>
<circle cx="30.9" cy="41.6" r="1.6" fill="#969ada" opacity="0.72"/>
<circle cx="44.1" cy="41.5" r="1.8" fill="#969ada" opacity="0.90"/>
<circle cx="54.4" cy="40.4" r="1.5" fill="#969ada" opacity="0.82"/>
<circle cx="7.2" cy="49.8" r="1.5" fill="#969ada" opacity="0.74"/>
<circle cx="16.4" cy="50.8" r="1.7" fill="#969ada" opacity="0.82"/>
<circle cx="26.2" cy="48.8" r="1.5" fill="#969ada" opacity="0.75"/>
<circle cx="36.5" cy="50.5" r="2.0" fill="#969ada" opacity="0.74"/>
<circle cx="46.9" cy="50.9" r="1.7" fill="#969ada" opacity="0.82"/>
<circle cx="56.8" cy="48.9" r="1.7" fill="#969ada" opacity="0.85"/>
<circle cx="-0.8" cy="60.9" r="1.9" fill="#969ada" opacity="0.72"/>
<circle cx="19.4" cy="59.0" r="1.7" fill="#969ada" opacity="0.82"/>
<circle cx="32.0" cy="58.2" r="1.7" fill="#969ada" opacity="0.75"/>
<circle cx="43.2" cy="59.5" r="1.6" fill="#969ada" opacity="0.74"/>
<circle cx="63.0" cy="60.2" r="1.7" fill="#969ada" opacity="0.75"/>
<circle cx="-3.4" cy="66.9" r="2.0" fill="#969ada" opacity="0.80"/>
<circle cx="6.6" cy="67.9" r="2.0" fill="#969ada" opacity="0.72"/>
<circle cx="16.4" cy="69.8" r="1.7" fill="#969ada" opacity="0.81"/>
<circle cx="27.7" cy="67.4" r="1.6" fill="#969ada" opacity="0.81"/>
<circle cx="35.1" cy="69.1" r="1.8" fill="#969ada" opacity="0.71"/>
<circle cx="47.3" cy="69.2" r="1.7" fill="#969ada" opacity="0.84"/>
<circle cx="58.7" cy="67.2" r="1.6" fill="#969ada" opacity="0.89"/>
<circle cx="-1.9" cy="77.2" r="1.7" fill="#969ada" opacity="0.75"/>
<circle cx="9.4" cy="78.6" r="1.6" fill="#969ada" opacity="0.71"/>
<circle cx="21.7" cy="75.5" r="1.6" fill="#969ada" opacity="0.74"/>
<circle cx="33.5" cy="76.5" r="1.6" fill="#969ada" opacity="0.86"/>
<circle cx="42.5" cy="76.6" r="2.0" fill="#969ada" opacity="0.83"/>
<circle cx="52.4" cy="78.6" r="1.7" fill="#969ada" opacity="0.84"/>
<circle cx="63.4" cy="76.0" r="1.8" fill="#969ada" opacity="0.79"/>
<circle cx="-6.1" cy="85.7" r="1.9" fill="#969ada" opacity="0.78"/>
<circle cx="18.1" cy="86.1" r="1.7" fill="#969ada" opacity="0.74"/>
<circle cx="27.1" cy="88.8" r="1.7" fill="#969ada" opacity="0.82"/>
<circle cx="35.5" cy="87.0" r="1.8" fill="#969ada" opacity="0.76"/>
<circle cx="-0.4" cy="94.7" r="1.8" fill="#969ada" opacity="0.83"/>
<circle cx="10.0" cy="95.3" r="1.5" fill="#969ada" opacity="0.77"/>
<circle cx="22.6" cy="97.8" r="2.0" fill="#969ada" opacity="0.77"/>
<circle cx="31.3" cy="95.7" r="1.7" fill="#969ada" opacity="0.80"/>
<circle cx="42.0" cy="97.6" r="1.7" fill="#969ada" opacity="0.89"/>
<circle cx="54.3" cy="95.3" r="1.9" fill="#969ada" opacity="0.79"/>
<circle cx="62.4" cy="95.8" r="1.8" fill="#969ada" opacity="0.77"/>
<circle cx="-6.1" cy="106.2" r="1.9" fill="#969ada" opacity="0.79"/>
<circle cx="5.6" cy="105.6" r="1.8" fill="#969ada" opacity="0.88"/>
<circle cx="25.1" cy="106.7" r="1.8" fill="#969ada" opacity="0.86"/>
<circle cx="36.9" cy="106.1" r="1.8" fill="#969ada" opacity="0.83"/>
<circle cx="47.1" cy="104.5" r="1.7" fill="#969ada" opacity="0.73"/>
<circle cx="57.4" cy="105.8" r="1.9" fill="#969ada" opacity="0.70"/>
</g>
<path d="M53.4,82.5V101.5M51.6,82.5H53.4M51.6,85.5H53.4M51.6,88.5H53.4M51.6,91.5H53.4M51.6,94.5H53.4M51.6,97.5H53.4M51.6,100.5H53.4" stroke="#555" stroke-width="0.6" fill="none"/>
</svg>
<svg x="93.5" y="790.1" width="56.1" height="103.5" viewBox="0 0 56.1 103.5">
<rect width="56.1" height="103.5" fill="#d8bfa8"/>
<g filter="url(#bl2)">
<ellipse cx="20.6" cy="3.2" rx="6.4" ry="6.7" fill="#caa682" opacity="0.71"/>
<ellipse cx="24.8" cy="52.3" rx="6.4" ry="6.8" fill="#caa682" opacity="0.52"/>
<ellipse cx="44.7" cy="39.3" rx="9.9" ry="4.7" fill="#caa682" opacity="0.48"/>
<ellipse cx="24.1" cy="58.9" rx="8.8" ry="4.1" fill="#caa682" opacity="0.74"/>
<ellipse cx="46.4" cy="55.4" rx="10.5" ry="7.2" fill="#caa682" opacity="0.47"/>
<ellipse cx="40.2" cy="10.0" rx="12.5" ry="5.4" fill="#caa682" opacity="0.75"/>
<ellipse cx="54.0" cy="13.5" rx="10.7" ry="4.5" fill="#caa682" opacity="0.56"/>
<ellipse cx="14.3" cy="19.4" rx="9.1" ry="9.1" fill="#caa682" opacity="0.59"/>
<ellipse cx="3.1" cy="17.2" rx="6.1" ry="4.9" fill="#caa682" opacity="0.46"/>
<ellipse cx="10.6" cy="54.8" rx="7.1" ry="5.1" fill="#caa682" opacity="0.76"/>
<ellipse cx="2.1" cy="46.6" rx="5.5" ry="5.2" fill="#caa682" opacity="0.52"/>
<ellipse cx="7.6" cy="50.3" rx="8.5" ry="5.8" fill="#caa682" opacity="0.54"/>
<ellipse cx="18.8" cy="46.3" rx="11.1" ry="4.6" fill="#caa682" opacity="0.79"/>
<ellipse cx="43.3" cy="65.2" rx="5.6" ry="4.9" fill="#caa682" opacity="0.48"/>
<ellipse cx="2.2" cy="102.5" rx="9.6" ry="6.5" fill="#caa682" opacity="0.61"/>
<ellipse cx="44.4" cy="23.9" rx="7.5" ry="5.9" fill="#caa682" opacity="0.58"/>
<polyline fill="none" stroke="#e8ded6" stroke-width="3.2" stroke-linecap="round" stroke-linejoin="round" opacity="0.85" points="1.9,44.6 9.5,49.5 13.8,53.2 14.8,60.9 18.4,60.8 24.0,66.3"/>
<polyline fill="none" stroke="#e8ded6" stroke-width="3.2" stroke-linecap="round" stroke-linejoin="round" opacity="0.85" points="15.2,2.7 18.4,8.7 21.0,14.1 27.3,16.5 26.8,17.7 33.1,21.7"/>
<polyline fill="none" stroke="#e8ded6" stroke-width="2.1" stroke-linecap="round" stroke-linejoin="round" opacity="0.85" points="16.2,85.2 18.1,82.6 27.7,79.9 31.5,76.1 38.8,73.8 43.2,69.8"/>
</g>
<rect width="56.1" height="103.5" filter="url(#grain)" opacity="0.35"/>
<g filter="url(#bl)">
<circle cx="-3.8" cy="-1.8" r="2.1" fill="#c2aec4" stroke="#ab99ac" stroke-width="0.5" opacity="0.80"/>
<circle cx="3.6" cy="-1.6" r="2.3" fill="#c2aec4" stroke="#ab99ac" stroke-width="0.5" opacity="0.66"/>
<circle cx="16.3" cy="-3.5" r="2.0" fill="#c2aec4" stroke="#ab99ac" stroke-width="0.5" opacity="0.80"/>
<circle cx="21.0" cy="-2.1" r="1.8" fill="#c2aec4" stroke="#ab99ac" stroke-width="0.5" opacity="0.81"/>
<circle cx="31.6" cy="-3.5" r="1.8" fill="#c2aec4" stroke="#ab99ac" stroke-width="0.5" opacity="0.63"/>
<circle cx="38.1" cy="-4.7" r="2.3" fill="#c2aec4" stroke="#ab99ac" stroke-width="0.5" opacity="0.85"/>
<circle cx="46.0" cy="-3.0" r="1.9" fill="#c2aec4" stroke="#ab99ac" stroke-width="0.5" opacity="0.83"/>
<circle cx="52.6" cy="-1.4" r="1.7" fill="#c2aec4" stroke="#ab99ac" stroke-width="0.5" opacity="0.75"/>
<circle cx="56.2" cy="-1.3" r="2.2" fill="#c2aec4" stroke="#ab99ac" stroke-width="0.5" opacity="0.76"/>
<circle cx="-1.5" cy="1.4" r="2.2" fill="#c2aec4" stroke="#ab99ac" stroke-width="0.5" opacity="0.65"/>
<circle cx="5.3" cy="3.3" r="1.9" fill="#c2aec4" stroke="#ab99ac" stroke-width="0.5" opacity="0.81"/>
<circle cx="11.8" cy="3.4" r="2.0" fill="#c2aec4" stroke="#ab99ac" stroke-width="0.5" opacity="0.75"/>
<circle cx="25.2" cy="2.4" r="2.1" fill="#c2aec4" stroke="#ab99ac" stroke-width="0.5" opacity="0.84"/>
<circle cx="30.8" cy="3.4" r="2.1" fill="#c2aec4" stroke="#ab99ac" stroke-width="0.5" opacity="0.84"/>
<circle cx="42.7" cy="0.9" r="1.7" fill="#c2aec4" stroke="#ab99ac" stroke-width="0.5" opacity="0.71"/>
<circle cx="48.9" cy="0.7" r="2.1" fill="#c2aec4" stroke="#ab99ac" stroke-width="0.5" opacity="0.84"/>
<circle cx="53.6" cy="2.5" r="1.7" fill="#c2aec4" stroke="#ab99ac" stroke-width="0.5" opacity="0.70"/>
<circle cx="-3.7" cy="7.3" r="2.1" fill="#c2aec4" stroke="#ab99ac" stroke-width="0.5" opacity="0.83"/>
<circle cx="14.4" cy="6.4" r="2.0" fill="#c2aec4" stroke="#ab99ac" stroke-width="0.5" opacity="0.69"/>
<circle cx="26.0" cy="5.9" r="2.0" fill="#c2aec4" stroke="#ab99ac" stroke-width="0.5" opacity="0.81"/>
<circle cx="32.4" cy="7.0" r="2.0" fill="#c2aec4" stroke="#ab99ac" stroke-width="0.5" opacity="0.69"/>
<circle cx="39.3" cy="6.2" r="1.8" fill="#c2aec4" stroke="#ab99ac" stroke-width="0.5" opacity="0.81"/>
<circle cx="43.8" cy="6.8" r="1.9" fill="#c2aec4" stroke="#ab99ac" stroke-width="0.5" opacity="0.74"/>
<circle cx="50.3" cy="7.9" r="2.3" fill="#c2aec4" stroke="#ab99ac" stroke-width="0.5" opacity="0.68"/>
<circle cx="56.9" cy="7.5" r="1.7" fill="#c2aec4" stroke="#ab99ac" stroke-width="0.5" opacity="0.82"/>
<circle cx="-0.7" cy="12.4" r="2.0" fill="#c2aec4" stroke="#ab99ac" stroke-width="0.5" opacity="0.63"/>
<circle cx="13.4" cy="14.0" r="1.9" fill="#c2aec4" stroke="#ab99ac" stroke-width="0.5" opacity="0.71"/>
<circle cx="17.2" cy="13.9" r="1.7" fill="#c2aec4" stroke="#ab99ac" stroke-width="0.5" opacity="0.63"/>
<circle cx="23.6" cy="10.9" r="2.1" fill="#c2aec4" stroke="#ab99ac" stroke-width="0.5" opacity="0.63"/>
<circle cx="35.9" cy="13.5" r="2.3" fill="#c2aec4" stroke="#ab99ac" stroke-width="0.5" opacity="0.76"/>
<circle cx="42.0" cy="11.7" r="2.0" fill="#c2aec4" stroke="#ab99ac" stroke-width="0.5" opacity="0.68"/>
<circle cx="48.4" cy="13.4" r="1.8" fill="#c2aec4" stroke="#ab99ac" stroke-width="0.5" opacity="0.82"/>
<circle cx="55.5" cy="11.1" r="2.3" fill="#c2aec4" stroke="#ab99ac" stroke-width="0.5" opacity="0.73"/>
<circle cx="59.8" cy="11.5" r="2.2" fill="#c2aec4" stroke="#ab99ac" stroke-width="0.5" opacity="0.63"/>
<circle cx="-1.3" cy="18.7" r="2.1" fill="#c2aec4" stroke="#ab99ac" stroke-width="0.5" opacity="0.76"/>
<circle cx="2.8" cy="18.4" r="1.8" fill="#c2aec4" stroke="#ab99ac" stroke-width="0.5" opacity="0.84"/>
<circle cx="8.7" cy="19.6" r="2.1" fill="#c2aec4" stroke="#ab99ac" stroke-width="0.5" opacity="0.77"/>
<circle cx="15.1" cy="16.9" r="2.3" fill="#c2aec4" stroke="#ab99ac" stroke-width="0.5" opacity="0.75"/>
<circle cx="22.1" cy="17.9" r="1.8" fill="#c2aec4" stroke="#ab99ac" stroke-width="0.5" opacity="0.61"/>
<circle cx="27.0" cy="18.4" r="2.2" fill="#c2aec4" stroke="#ab99ac" stroke-width="0.5" opacity="0.83"/>
<circle cx="34.3" cy="18.9" r="2.1" fill="#c2aec4" stroke="#ab99ac" stroke-width="0.5" opacity="0.67"/>
<circle cx="46.0" cy="18.4" r="1.6" fill="#c2aec4" stroke="#ab99ac" stroke-width="0.5" opacity="0.65"/>
<circle cx="52.3" cy="16.7" r="2.2" fill="#c2aec4" stroke="#ab99ac" stroke-width="0.5" opacity="0.79"/>
<circle cx="0.5" cy="24.0" r="1.9" fill="#c2aec4" stroke="#ab99ac" stroke-width="0.5" opacity="0.62"/>
<circle cx="6.9" cy="24.4" r="2.1" fill="#c2aec4" stroke="#ab99ac" stroke-width="0.5" opacity="0.70"/>
<circle cx="10.8" cy="23.7" r="2.1" fill="#c2aec4" stroke="#ab99ac" stroke-width="0.5" opacity="0.65"/>
<circle cx="18.7" cy="23.7" r="2.1" fill="#c2aec4" stroke="#ab99ac" stroke-width="0.5" opacity="0.82"/>
<circle cx="24.9" cy="22.4" r="2.3" fill="#c2aec4" stroke="#ab99ac" stroke-width="0.5" opacity="0.66"/>
<circle cx="30.7" cy="22.2" r="2.3" fill="#c2aec4" stroke="#ab99ac" stroke-width="0.5" opacity="0.83"/>
<circle cx="35.3" cy="22.4" r="1.9" fill="#c2aec4" stroke="#ab99ac" stroke-width="0.5" opacity="0.78"/>
<circle cx="42.3" cy="24.9" r="2.2" fill="#c2aec4" stroke="#ab99ac" stroke-width="0.5" opacity="0.63"/>
<circle cx="49.1" cy="23.9" r="1.8" fill="#c2aec4" stroke="#ab99ac" stroke-width="0.5" opacity="0.72"/>
<circle cx="54.7" cy="22.7" r="2.2" fill="#c2aec4" stroke="#ab99ac" stroke-width="0.5" opacity="0.68"/>
<circle cx="59.1" cy="22.0" r="1.8" fill="#c2aec4" stroke="#ab99ac" stroke-width="0.5" opacity="0.66"/>
<circle cx="13.6" cy="26.8" r="2.1" fill="#c2aec4" stroke="#ab99ac" stroke-width="0.5" opacity="0.72"/>
<circle cx="20.3" cy="28.1" r="2.1" fill="#c2aec4" stroke="#ab99ac" stroke-width="0.5" opacity="0.63"/>
<circle cx="26.1" cy="29.6" r="2.1" fill="#c2aec4" stroke="#ab99ac" stroke-width="0.5" opacity="0.83"/>
<circle cx="33.3" cy="26.8" r="1.7" fill="#c2aec4" stroke="#ab99ac" stroke-width="0.5" opacity="0.61"/>
<circle cx="40.4" cy="26.6" r="2.2" fill="#c2aec4" stroke="#ab99ac" stroke-width="0.5" opacity="0.68"/>
<circle cx="45.9" cy="26.6" r="1.9" fill="#c2aec4" stroke="#ab99ac" stroke-width="0.5" opacity="0.82"/>
<circle cx="49.8" cy="29.5" r="2.2" fill="#c2aec4" stroke="#ab99ac" stroke-width="0.5" opacity="0.64"/>
<circle cx="56.5" cy="28.4" r="2.1" fill="#c2aec4" stroke="#ab99ac" stroke-width="0.5" opacity="0.76"/>
<circle cx="-1.7" cy="32.1" r="2.2" fill="#c2aec4" stroke="#ab99ac" stroke-width="0.5" opacity="0.70"/>
<circle cx="6.2" cy="33.2" r="2.1" fill="#c2aec4" stroke="#ab99ac" stroke-width="0.5" opacity="0.71"/>
<circle cx="12.2" cy="32.7" r="2.0" fill="#c2aec4" stroke="#ab99ac" stroke-width="0.5" opacity="0.69"/>
<circle cx="19.0" cy="31.8" r="2.2" fill="#c2aec4" stroke="#ab99ac" stroke-width="0.5" opacity="0.66"/>
<circle cx="24.4" cy="33.8" r="1.9" fill="#c2aec4" stroke="#ab99ac" stroke-width="0.5" opacity="0.69"/>
<circle cx="31.1" cy="34.4" r="2.2" fill="#c2aec4" stroke="#ab99ac" stroke-width="0.5" opacity="0.71"/>
<circle cx="43.0" cy="34.5" r="2.2" fill="#c2aec4" stroke="#ab99ac" stroke-width="0.5" opacity="0.61"/>
<circle cx="46.4" cy="31.7" r="2.0" fill="#c2aec4" stroke="#ab99ac" stroke-width="0.5" opacity="0.75"/>
<circle cx="55.6" cy="33.6" r="2.2" fill="#c2aec4" stroke="#ab99ac" stroke-width="0.5" opacity="0.69"/>
<circle cx="58.6" cy="32.6" r="2.0" fill="#c2aec4" stroke="#ab99ac" stroke-width="0.5" opacity="0.67"/>
<circle cx="-3.5" cy="39.7" r="1.9" fill="#c2aec4" stroke="#ab99ac" stroke-width="0.5" opacity="0.66"/>
<circle cx="3.9" cy="37.1" r="1.8" fill="#c2aec4" stroke="#ab99ac" stroke-width="0.5" opacity="0.76"/>
<circle cx="9.2" cy="38.5" r="1.8" fill="#c2aec4" stroke="#ab99ac" stroke-width="0.5" opacity="0.66"/>
<circle cx="14.8" cy="37.1" r="2.0" fill="#c2aec4" stroke="#ab99ac" stroke-width="0.5" opacity="0.79"/>
<circle cx="22.2" cy="37.4" r="1.8" fill="#c2aec4" stroke="#ab99ac" stroke-width="0.5" opacity="0.64"/>
<circle cx="28.0" cy="38.2" r="2.2" fill="#c2aec4" stroke="#ab99ac" stroke-width="0.5" opacity="0.71"/>
<circle cx="33.6" cy="39.7" r="1.7" fill="#c2aec4" stroke="#ab99ac" stroke-width="0.5" opacity="0.60"/>
<circle cx="39.4" cy="38.8" r="1.9" fill="#c2aec4" stroke="#ab99ac" stroke-width="0.5" opacity="0.67"/>
<circle cx="46.2" cy="40.2" r="2.2" fill="#c2aec4" stroke="#ab99ac" stroke-width="0.5" opacity="0.79"/>
<circle cx="50.5" cy="38.6" r="2.2" fill="#c2aec4" stroke="#ab99ac" stroke-width="0.5" opacity="0.73"/>
<circle cx="57.3" cy="37.6" r="1.7" fill="#c2aec4" stroke="#ab99ac" stroke-width="0.5" opacity="0.82"/>
<circle cx="-0.8" cy="44.1" r="2.0" fill="#c2aec4" stroke="#ab99ac" stroke-width="0.5" opacity="0.71"/>
<circle cx="5.1" cy="42.9" r="1.6" fill="#c2aec4" stroke="#ab99ac" stroke-width="0.5" opacity="0.73"/>
<circle cx="10.7" cy="43.7" r="1.8" fill="#c2aec4" stroke="#ab99ac" stroke-width="0.5" opacity="0.69"/>
<circle cx="18.0" cy="45.0" r="2.1" fill="#c2aec4" stroke="#ab99ac" stroke-width="0.5" opacity="0.77"/>
<circle cx="23.6" cy="45.4" r="2.0" fill="#c2aec4" stroke="#ab99ac" stroke-width="0.5" opacity="0.64"/>
<circle cx="28.6" cy="45.6" r="1.6" fill="#c2aec4" stroke="#ab99ac" stroke-width="0.5" opacity="0.62"/>
<circle cx="34.5" cy="43.1" r="1.9" fill="#c2aec4" stroke="#ab99ac" stroke-width="0.5" opacity="0.72"/>
<circle cx="41.1" cy="45.4" r="1.8" fill="#c2aec4" stroke="#ab99ac" stroke-width="0.5" opacity="0.80"/>
<circle cx="47.0" cy="42.8" r="1.8" fill="#c2aec4" stroke="#ab99ac" stroke-width="0.5" opacity="0.80"/>
<circle cx="53.7" cy="43.9" r="1.7" fill="#c2aec4" stroke="#ab99ac" stroke-width="0.5" opacity="0.75"/>
<circle cx="61.2" cy="45.5" r="1.8" fill="#c2aec4" stroke="#ab99ac" stroke-width="0.5" opacity="0.73"/>
<circle cx="-4.0" cy="49.2" r="1.9" fill="#c2aec4" stroke="#ab99ac" stroke-width="0.5" opacity="0.72"/>
<circle cx="2.0" cy="50.7" r="2.3" fill="#c2aec4" stroke="#ab99ac" stroke-width="0.5" opacity="0.62"/>
<circle cx="8.9" cy="49.6" r="2.1" fill="#c2aec4" stroke="#ab99ac" stroke-width="0.5" opacity="0.63"/>
<circle cx="20.0" cy="47.7" r="2.3" fill="#c2aec4" stroke="#ab99ac" stroke-width="0.5" opacity="0.62"/>
<circle cx="28.1" cy="49.2" r="2.2" fill="#c2aec4" stroke="#ab99ac" stroke-width="0.5" opacity="0.66"/>
<circle cx="33.7" cy="49.0" r="2.2" fill="#c2aec4" stroke="#ab99ac" stroke-width="0.5" opacity="0.79"/>
<circle cx="45.8" cy="50.6" r="2.0" fill="#c2aec4" stroke="#ab99ac" stroke-width="0.5" opacity="0.74"/>
<circle cx="49.5" cy="49.5" r="2.1" fill="#c2aec4" stroke="#ab99ac" stroke-width="0.5" opacity="0.68"/>
<circle cx="58.3" cy="48.9" r="2.1" fill="#c2aec4" stroke="#ab99ac" stroke-width="0.5" opacity="0.71"/>
<circle cx="1.8" cy="53.4" r="2.3" fill="#c2aec4" stroke="#ab99ac" stroke-width="0.5" opacity="0.78"/>
<circle cx="7.0" cy="55.2" r="2.1" fill="#c2aec4" stroke="#ab99ac" stroke-width="0.5" opacity="0.72"/>
<circle cx="13.0" cy="56.1" r="2.3" fill="#c2aec4" stroke="#ab99ac" stroke-width="0.5" opacity="0.70"/>
<circle cx="18.4" cy="55.9" r="2.3" fill="#c2aec4" stroke="#ab99ac" stroke-width="0.5" opacity="0.76"/>
<circle cx="25.5" cy="53.8" r="2.2" fill="#c2aec4" stroke="#ab99ac" stroke-width="0.5" opacity="0.61"/>
<circle cx="30.3" cy="54.0" r="2.0" fill="#c2aec4" stroke="#ab99ac" stroke-width="0.5" opacity="0.66"/>
<circle cx="43.3" cy="54.3" r="1.6" fill="#c2aec4" stroke="#ab99ac" stroke-width="0.5" opacity="0.79"/>
<circle cx="46.5" cy="53.9" r="1.7" fill="#c2aec4" stroke="#ab99ac" stroke-width="0.5" opacity="0.75"/>
<circle cx="52.9" cy="54.5" r="1.6" fill="#c2aec4" stroke="#ab99ac" stroke-width="0.5" opacity="0.62"/>
<circle cx="60.0" cy="53.6" r="1.7" fill="#c2aec4" stroke="#ab99ac" stroke-width="0.5" opacity="0.81"/>
<circle cx="-3.3" cy="58.9" r="1.7" fill="#c2aec4" stroke="#ab99ac" stroke-width="0.5" opacity="0.65"/>
<circle cx="1.4" cy="60.2" r="1.8" fill="#c2aec4" stroke="#ab99ac" stroke-width="0.5" opacity="0.67"/>
<circle cx="8.3" cy="58.3" r="1.8" fill="#c2aec4" stroke="#ab99ac" stroke-width="0.5" opacity="0.69"/>
<circle cx="13.4" cy="61.3" r="1.9" fill="#c2aec4" stroke="#ab99ac" stroke-width="0.5" opacity="0.75"/>
<circle cx="21.9" cy="61.2" r="2.1" fill="#c2aec4" stroke="#ab99ac" stroke-width="0.5" opacity="0.70"/>
<circle cx="27.5" cy="61.1" r="1.7" fill="#c2aec4" stroke="#ab99ac" stroke-width="0.5" opacity="0.68"/>
<circle cx="38.8" cy="58.1" r="2.2" fill="#c2aec4" stroke="#ab99ac" stroke-width="0.5" opacity="0.64"/>
<circle cx="44.0" cy="57.9" r="2.0" fill="#c2aec4" stroke="#ab99ac" stroke-width="0.5" opacity="0.75"/>
<circle cx="50.0" cy="59.8" r="2.0" fill="#c2aec4" stroke="#ab99ac" stroke-width="0.5" opacity="0.73"/>
<circle cx="56.6" cy="59.0" r="1.6" fill="#c2aec4" stroke="#ab99ac" stroke-width="0.5" opacity="0.62"/>
<circle cx="-1.5" cy="63.9" r="2.1" fill="#c2aec4" stroke="#ab99ac" stroke-width="0.5" opacity="0.76"/>
<circle cx="6.6" cy="65.0" r="2.2" fill="#c2aec4" stroke="#ab99ac" stroke-width="0.5" opacity="0.62"/>
<circle cx="12.6" cy="65.7" r="1.9" fill="#c2aec4" stroke="#ab99ac" stroke-width="0.5" opacity="0.84"/>
<circle cx="17.9" cy="65.3" r="2.1" fill="#c2aec4" stroke="#ab99ac" stroke-width="0.5" opacity="0.63"/>
<circle cx="25.0" cy="65.9" r="2.1" fill="#c2aec4" stroke="#ab99ac" stroke-width="0.5" opacity="0.61"/>
<circle cx="29.0" cy="65.0" r="2.3" fill="#c2aec4" stroke="#ab99ac" stroke-width="0.5" opacity="0.82"/>
<circle cx="35.0" cy="63.8" r="2.2" fill="#c2aec4" stroke="#ab99ac" stroke-width="0.5" opacity="0.82"/>
<circle cx="43.0" cy="63.3" r="2.0" fill="#c2aec4" stroke="#ab99ac" stroke-width="0.5" opacity="0.79"/>
<circle cx="47.0" cy="63.3" r="1.6" fill="#c2aec4" stroke="#ab99ac" stroke-width="0.5" opacity="0.65"/>
<circle cx="52.5" cy="64.7" r="1.9" fill="#c2aec4" stroke="#ab99ac" stroke-width="0.5" opacity="0.61"/>
<circle cx="-1.9" cy="71.6" r="1.8" fill="#c2aec4" stroke="#ab99ac" stroke-width="0.5" opacity="0.78"/>
<circle cx="4.6" cy="70.3" r="2.0" fill="#c2aec4" stroke="#ab99ac" stroke-width="0.5" opacity="0.63"/>
<circle cx="9.0" cy="71.1" r="1.7" fill="#c2aec4" stroke="#ab99ac" stroke-width="0.5" opacity="0.78"/>
<circle cx="15.4" cy="71.7" r="1.8" fill="#c2aec4" stroke="#ab99ac" stroke-width="0.5" opacity="0.68"/>
<circle cx="22.5" cy="71.2" r="1.8" fill="#c2aec4" stroke="#ab99ac" stroke-width="0.5" opacity="0.77"/>
<circle cx="26.4" cy="70.6" r="1.7" fill="#c2aec4" stroke="#ab99ac" stroke-width="0.5" opacity="0.78"/>
<circle cx="32.1" cy="70.4" r="1.7" fill="#c2aec4" stroke="#ab99ac" stroke-width="0.5" opacity="0.70"/>
<circle cx="43.5" cy="71.3" r="2.1" fill="#c2aec4" stroke="#ab99ac" stroke-width="0.5" opacity="0.81"/>
<circle cx="52.8" cy="68.9" r="2.1" fill="#c2aec4" stroke="#ab99ac" stroke-width="0.5" opacity="0.72"/>
<circle cx="1.1" cy="75.3" r="2.1" fill="#c2aec4" stroke="#ab99ac" stroke-width="0.5" opacity="0.74"/>
<circle cx="7.4" cy="73.9" r="1.9" fill="#c2aec4" stroke="#ab99ac" stroke-width="0.5" opacity="0.69"/>
<circle cx="12.7" cy="76.0" r="2.1" fill="#c2aec4" stroke="#ab99ac" stroke-width="0.5" opacity="0.80"/>
<circle cx="19.8" cy="75.9" r="1.8" fill="#c2aec4" stroke="#ab99ac" stroke-width="0.5" opacity="0.63"/>
<circle cx="24.6" cy="74.7" r="1.9" fill="#c2aec4" stroke="#ab99ac" stroke-width="0.5" opacity="0.67"/>
<circle cx="29.9" cy="74.8" r="1.9" fill="#c2aec4" stroke="#ab99ac" stroke-width="0.5" opacity="0.79"/>
<circle cx="37.4" cy="76.9" r="1.7" fill="#c2aec4" stroke="#ab99ac" stroke-width="0.5" opacity="0.73"/>
<circle cx="42.5" cy="74.6" r="1.9" fill="#c2aec4" stroke="#ab99ac" stroke-width="0.5" opacity="0.81"/>
<circle cx="47.8" cy="76.8" r="2.2" fill="#c2aec4" stroke="#ab99ac" stroke-width="0.5" opacity="0.72"/>
<circle cx="54.1" cy="75.5" r="1.8" fill="#c2aec4" stroke="#ab99ac" stroke-width="0.5" opacity="0.74"/>
<circle cx="59.7" cy="73.9" r="2.0" fill="#c2aec4" stroke="#ab99ac" stroke-width="0.5" opacity="0.75"/>
<circle cx="-4.6" cy="80.8" r="2.0" fill="#c2aec4" stroke="#ab99ac" stroke-width="0.5" opacity="0.60"/>
<circle cx="2.6" cy="82.2" r="1.7" fill="#c2aec4" stroke="#ab99ac" stroke-width="0.5" opacity="0.63"/>
<circle cx="8.0" cy="79.4" r="1.9" fill="#c2aec4" stroke="#ab99ac" stroke-width="0.5" opacity="0.79"/>
<circle cx="14.7" cy="80.0" r="2.2" fill="#c2aec4" stroke="#ab99ac" stroke-width="0.5" opacity="0.76"/>
<circle cx="21.6" cy="80.6" r="1.7" fill="#c2aec4" stroke="#ab99ac" stroke-width="0.5" opacity="0.79"/>
<circle cx="25.9" cy="81.0" r="2.3" fill="#c2aec4" stroke="#ab99ac" stroke-width="0.5" opacity="0.78"/>
<circle cx="34.0" cy="80.7" r="2.1" fill="#c2aec4" stroke="#ab99ac" stroke-width="0.5" opacity="0.80"/>
<circle cx="50.1" cy="80.6" r="1.8" fill="#c2aec4" stroke="#ab99ac" stroke-width="0.5" opacity="0.77"/>
<circle cx="1.5" cy="86.2" r="1.6" fill="#c2aec4" stroke="#ab99ac" stroke-width="0.5" opacity="0.61"/>
<circle cx="4.8" cy="85.3" r="1.7" fill="#c2aec4" stroke="#ab99ac" stroke-width="0.5" opacity="0.65"/>
<circle cx="12.2" cy="86.5" r="2.2" fill="#c2aec4" stroke="#ab99ac" stroke-width="0.5" opacity="0.66"/>
<circle cx="16.5" cy="86.5" r="2.1" fill="#c2aec4" stroke="#ab99ac" stroke-width="0.5" opacity="0.72"/>
<circle cx="25.4" cy="85.3" r="1.9" fill="#c2aec4" stroke="#ab99ac" stroke-width="0.5" opacity="0.60"/>
<circle cx="29.8" cy="85.6" r="2.0" fill="#c2aec4" stroke="#ab99ac" stroke-width="0.5" opacity="0.80"/>
<circle cx="42.2" cy="86.7" r="2.2" fill="#c2aec4" stroke="#ab99ac" stroke-width="0.5" opacity="0.62"/>
<circle cx="49.0" cy="86.2" r="1.6" fill="#c2aec4" stroke="#ab99ac" stroke-width="0.5" opacity="0.75"/>
<circle cx="58.9" cy="86.2" r="2.3" fill="#c2aec4" stroke="#ab99ac" stroke-width="0.5" opacity="0.82"/>
<circle cx="-4.3" cy="92.1" r="1.7" fill="#c2aec4" stroke="#ab99ac" stroke-width="0.5" opacity="0.74"/>
<circle cx="1.3" cy="89.2" r="1.7" fill="#c2aec4" stroke="#ab99ac" stroke-width="0.5" opacity="0.74"/>
<circle cx="8.4" cy="92.7" r="1.9" fill="#c2aec4" stroke="#ab99ac" stroke-width="0.5" opacity="0.76"/>
<circle cx="21.3" cy="89.4" r="2.2" fill="#c2aec4" stroke="#ab99ac" stroke-width="0.5" opacity="0.83"/>
<circle cx="26.0" cy="90.7" r="1.7" fill="#c2aec4" stroke="#ab99ac" stroke-width="0.5" opacity="0.73"/>
<circle cx="32.1" cy="91.1" r="1.9" fill="#c2aec4" stroke="#ab99ac" stroke-width="0.5" opacity="0.83"/>
<circle cx="38.9" cy="89.6" r="2.1" fill="#c2aec4" stroke="#ab99ac" stroke-width="0.5" opacity="0.74"/>
<circle cx="45.5" cy="91.2" r="1.9" fill="#c2aec4" stroke="#ab99ac" stroke-width="0.5" opacity="0.67"/>
<circle cx="51.9" cy="89.2" r="2.0" fill="#c2aec4" stroke="#ab99ac" stroke-width="0.5" opacity="0.80"/>
<circle cx="56.5" cy="89.6" r="1.8" fill="#c2aec4" stroke="#ab99ac" stroke-width="0.5" opacity="0.83"/>
<circle cx="1.1" cy="96.2" r="2.2" fill="#c2aec4" stroke="#ab99ac" stroke-width="0.5" opacity="0.79"/>
<circle cx="5.9" cy="94.9" r="2.1" fill="#c2aec4" stroke="#ab99ac" stroke-width="0.5" opacity="0.61"/>
<circle cx="16.6" cy="96.3" r="1.7" fill="#c2aec4" stroke="#ab99ac" stroke-width="0.5" opacity="0.75"/>
<circle cx="23.8" cy="96.6" r="1.9" fill="#c2aec4" stroke="#ab99ac" stroke-width="0.5" opacity="0.83"/>
<circle cx="29.0" cy="95.0" r="1.6" fill="#c2aec4" stroke="#ab99ac" stroke-width="0.5" opacity="0.83"/>
<circle cx="43.6" cy="95.0" r="1.8" fill="#c2aec4" stroke="#ab99ac" stroke-width="0.5" opacity="0.75"/>
<circle cx="47.1" cy="94.6" r="2.1" fill="#c2aec4" stroke="#ab99ac" stroke-width="0.5" opacity="0.83"/>
<circle cx="52.2" cy="96.1" r="2.2" fill="#c2aec4" stroke="#ab99ac" stroke-width="0.5" opacity="0.83"/>
<circle cx="58.4" cy="97.0" r="1.6" fill="#c2aec4" stroke="#ab99ac" stroke-width="0.5" opacity="0.65"/>
<circle cx="-4.3" cy="101.9" r="2.2" fill="#c2aec4" stroke="#ab99ac" stroke-width="0.5" opacity="0.79"/>
<circle cx="2.1" cy="100.3" r="1.8" fill="#c2aec4" stroke="#ab99ac" stroke-width="0.5" opacity="0.84"/>
<circle cx="7.5" cy="101.0" r="2.0" fill="#c2aec4" stroke="#ab99ac" stroke-width="0.5" opacity="0.61"/>
<circle cx="16.1" cy="101.6" r="2.1" fill="#c2aec4" stroke="#ab99ac" stroke-width="0.5" opacity="0.81"/>
<circle cx="20.1" cy="101.3" r="1.9" fill="#c2aec4" stroke="#ab99ac" stroke-width="0.5" opacity="0.84"/>
<circle cx="27.6" cy="102.2" r="1.8" fill="#c2aec4" stroke="#ab99ac" stroke-width="0.5" opacity="0.67"/>
<circle cx="34.0" cy="102.0" r="2.2" fill="#c2aec4" stroke="#ab99ac" stroke-width="0.5" opacity="0.66"/>
<circle cx="38.1" cy="102.3" r="2.3" fill="#c2aec4" stroke="#ab99ac" stroke-width="0.5" opacity="0.62"/>
<circle cx="43.9" cy="101.7" r="1.9" fill="#c2aec4" stroke="#ab99ac" stroke-width="0.5" opacity="0.72"/>
<circle cx="51.2" cy="101.0" r="2.1" fill="#c2aec4" stroke="#ab99ac" stroke-width="0.5" opacity="0.85"/>
<circle cx="57.1" cy="101.1" r="2.0" fill="#c2aec4" stroke="#ab99ac" stroke-width="0.5" opacity="0.72"/>
<circle cx="-0.2" cy="107.2" r="1.9" fill="#c2aec4" stroke="#ab99ac" stroke-width="0.5" opacity="0.68"/>
<circle cx="12.2" cy="105.4" r="1.9" fill="#c2aec4" stroke="#ab99ac" stroke-width="0.5" opacity="0.78"/>
<circle cx="16.7" cy="107.9" r="2.1" fill="#c2aec4" stroke="#ab99ac" stroke-width="0.5" opacity="0.75"/>
<circle cx="25.6" cy="105.1" r="2.1" fill="#c2aec4" stroke="#ab99ac" stroke-width="0.5" opacity="0.71"/>
<circle cx="31.3" cy="105.1" r="1.7" fill="#c2aec4" stroke="#ab99ac" stroke-width="0.5" opacity="0.78"/>
<circle cx="37.6" cy="105.4" r="1.6" fill="#c2aec4" stroke="#ab99ac" stroke-width="0.5" opacity="0.70"/>
<circle cx="43.1" cy="107.1" r="2.2" fill="#c2aec4" stroke="#ab99ac" stroke-width="0.5" opacity="0.70"/>
<circle cx="47.8" cy="106.3" r="2.2" fill="#c2aec4" stroke="#ab99ac" stroke-width="0.5" opacity="0.84"/>
<circle cx="52.5" cy="106.8" r="2.1" fill="#c2aec4" stroke="#ab99ac" stroke-width="0.5" opacity="0.68"/>
<circle cx="61.7" cy="105.8" r="2.1" fill="#c2aec4" stroke="#ab99ac" stroke-width="0.5" opacity="0.64"/>
<ellipse cx="46.2" cy="79.7" rx="1.1" ry="1.0" fill="#6a68cc" opacity="0.85"/>
<ellipse cx="43.6" cy="85.5" rx="1.1" ry="1.2" fill="#6a68cc" opacity="0.85"/>
<ellipse cx="47.4" cy="66.0" rx="1.2" ry="0.7" fill="#6a68cc" opacity="0.85"/>
<ellipse cx="45.4" cy="4.0" rx="1.0" ry="1.0" fill="#6a68cc" opacity="0.85"/>
<ellipse cx="53.9" cy="27.6" rx="1.3" ry="0.8" fill="#6a68cc" opacity="0.85"/>
<ellipse cx="37.2" cy="3.8" rx="1.3" ry="0.8" fill="#6a68cc" opacity="0.85"/>
<ellipse cx="43.5" cy="51.7" rx="1.0" ry="0.8" fill="#6a68cc" opacity="0.85"/>
<ellipse cx="42.3" cy="23.5" rx="1.2" ry="1.0" fill="#6a68cc" opacity="0.85"/>
<ellipse cx="40.1" cy="66.6" rx="1.3" ry="1.3" fill="#6a68cc" opacity="0.85"/>
<ellipse cx="36.7" cy="23.9" rx="1.4" ry="1.4" fill="#6a68cc" opacity="0.85"/>
<ellipse cx="44.9" cy="26.5" rx="1.0" ry="0.9" fill="#6a68cc" opacity="0.85"/>
<ellipse cx="46.8" cy="25.4" rx="1.2" ry="1.5" fill="#6a68cc" opacity="0.85"/>
<ellipse cx="50.5" cy="18.5" rx="1.4" ry="1.1" fill="#6a68cc" opacity="0.85"/>
<ellipse cx="49.4" cy="18.6" rx="1.2" ry="0.9" fill="#6a68cc" opacity="0.85"/>
<ellipse cx="40.6" cy="70.1" rx="1.4" ry="1.8" fill="#6a68cc" opacity="0.85"/>
<ellipse cx="40.5" cy="26.2" rx="1.1" ry="1.2" fill="#6a68cc" opacity="0.85"/>
<ellipse cx="18.6" cy="68.7" rx="1.3" ry="1.2" fill="#6a68cc" opacity="0.85"/>
<ellipse cx="50.6" cy="76.2" rx="1.3" ry="1.7" fill="#6a68cc" opacity="0.85"/>
<ellipse cx="22.5" cy="30.1" rx="1.4" ry="1.2" fill="#6a68cc" opacity="0.85"/>
<ellipse cx="36.4" cy="94.7" rx="1.3" ry="1.7" fill="#6a68cc" opacity="0.85"/>
<ellipse cx="46.3" cy="2.4" rx="1.5" ry="1.1" fill="#6a68cc" opacity="0.85"/>
<ellipse cx="11.8" cy="66.9" rx="1.3" ry="0.9" fill="#6a68cc" opacity="0.85"/>
<ellipse cx="1.8" cy="15.5" rx="1.2" ry="0.9" fill="#6a68cc" opacity="0.85"/>
<ellipse cx="3.4" cy="85.5" rx="1.4" ry="1.7" fill="#6a68cc" opacity="0.85"/>
<circle cx="48.2" cy="51.4" r="2.4" fill="#a8682e" opacity="0.8"/>
<circle cx="9.2" cy="87.9" r="2.3" fill="#a8682e" opacity="0.8"/>
<circle cx="33.8" cy="45.7" r="1.9" fill="#a8682e" opacity="0.8"/>
<circle cx="44.8" cy="97.2" r="2.3" fill="#a8682e" opacity="0.8"/>
<circle cx="17.6" cy="85.9" r="2.1" fill="#a8682e" opacity="0.8"/>
</g>
<path d="M53.3,82.5V101.5M51.5,82.5H53.3M51.5,85.5H53.3M51.5,88.5H53.3M51.5,91.5H53.3M51.5,94.5H53.3M51.5,97.5H53.3M51.5,100.5H53.3" stroke="#555" stroke-width="0.6" fill="none"/>
</svg>
<svg x="151.3" y="790.1" width="57.1" height="103.5" viewBox="0 0 57.1 103.5">
<rect width="57.1" height="103.5" fill="#eeebec"/>
<g filter="url(#bl2)">
<ellipse cx="19.3" cy="15.0" rx="6.7" ry="4.2" fill="#e8e2de" opacity="0.50"/>
<ellipse cx="48.6" cy="55.2" rx="6.6" ry="4.9" fill="#e8e2de" opacity="0.57"/>
<ellipse cx="22.8" cy="95.2" rx="8.8" ry="9.3" fill="#e8e2de" opacity="0.78"/>
<ellipse cx="27.6" cy="37.3" rx="6.3" ry="7.7" fill="#e8e2de" opacity="0.75"/>
<ellipse cx="32.0" cy="13.1" rx="10.1" ry="7.3" fill="#e8e2de" opacity="0.49"/>
<ellipse cx="41.6" cy="103.3" rx="11.8" ry="9.7" fill="#e8e2de" opacity="0.76"/>
<ellipse cx="52.0" cy="52.9" rx="6.8" ry="7.0" fill="#e8e2de" opacity="0.55"/>
<ellipse cx="11.4" cy="96.4" rx="12.2" ry="8.6" fill="#e8e2de" opacity="0.71"/>
<ellipse cx="28.7" cy="90.0" rx="9.9" ry="7.1" fill="#e8e2de" opacity="0.75"/>
<ellipse cx="31.2" cy="69.5" rx="7.7" ry="7.1" fill="#e8e2de" opacity="0.56"/>
<ellipse cx="5.4" cy="81.8" rx="10.0" ry="4.9" fill="#e8e2de" opacity="0.72"/>
<ellipse cx="40.2" cy="2.9" rx="10.7" ry="9.5" fill="#e8e2de" opacity="0.49"/>
<ellipse cx="39.9" cy="87.2" rx="5.3" ry="9.4" fill="#e8e2de" opacity="0.62"/>
<ellipse cx="43.7" cy="64.2" rx="10.8" ry="8.3" fill="#e8e2de" opacity="0.78"/>
<ellipse cx="29.3" cy="7.6" rx="9.6" ry="7.8" fill="#e8e2de" opacity="0.66"/>
<ellipse cx="22.5" cy="13.0" rx="7.3" ry="5.0" fill="#e8e2de" opacity="0.52"/>
<polyline fill="none" stroke="#f6f5f6" stroke-width="3.2" stroke-linecap="round" stroke-linejoin="round" opacity="0.85" points="30.5,78.7 36.4,82.5 40.2,88.1 49.3,96.9 50.1,100.9 59.3,108.2"/>
<polyline fill="none" stroke="#f6f5f6" stroke-width="3.4" stroke-linecap="round" stroke-linejoin="round" opacity="0.85" points="22.6,49.1 27.7,47.6 28.0,45.2 32.8,43.0 40.9,38.7 42.5,34.8"/>
</g>
<rect width="57.1" height="103.5" filter="url(#grain)" opacity="0.06"/>
<g filter="url(#bl)">
<path d="M-0.6,0.5L-6.2,1.4L-8.8,-1.8L-8.1,-6.3L-3.8,-8.8L1.1,-4.7ZM9.1,-4.6L7.2,-1.0L0.6,-1.2L-1.0,-4.5L1.6,-10.2L7.1,-8.9ZM19.4,-1.6L14.2,1.0L9.8,-3.9L11.7,-8.7L16.9,-10.2L19.7,-6.4ZM28.3,-1.6L23.1,-1.3L20.6,-4.4L21.6,-10.5L27.5,-10.4L30.0,-8.3ZM39.5,-3.4L33.7,-1.3L30.2,-4.2L31.4,-11.1L34.7,-11.1L40.5,-7.0ZM48.1,-1.9L43.5,-0.7L40.0,-4.4L41.2,-8.5L44.2,-10.8L49.8,-7.9ZM59.3,-5.2L56.9,-2.2L50.1,-2.6L49.6,-7.2L51.1,-10.6L56.9,-10.4ZM70.1,-1.3L65.0,-0.3L61.0,-4.3L62.1,-8.8L67.3,-10.4L71.0,-6.5ZM3.1,5.2L-3.0,7.6L-6.1,5.7L-4.8,-0.1L0.6,-1.9L3.6,0.1ZM15.0,5.6L10.7,8.0L5.7,5.8L5.9,1.0L10.4,-1.3L14.7,0.0ZM25.2,7.1L22.5,9.3L17.0,9.4L14.4,3.7L19.6,-1.3L24.3,1.5ZM34.4,9.4L30.1,10.4L26.8,6.7L26.8,2.3L32.0,0.5L35.9,2.7ZM43.5,5.1L40.3,7.0L34.4,4.1L34.2,-0.2L39.2,-3.7L43.6,0.1ZM55.0,7.2L49.5,8.8L45.9,4.2L47.2,0.0L51.9,-1.3L56.4,1.6ZM66.4,7.5L62.0,9.6L56.5,7.1L55.7,2.5L60.0,-0.8L65.8,2.2ZM1.5,13.7L-2.9,18.6L-8.1,16.7L-8.5,12.9L-5.3,7.6L-0.3,9.6ZM6.5,17.1L1.4,17.2L-1.6,13.7L0.3,8.7L6.7,7.3L10.0,12.7ZM18.4,15.5L14.2,16.3L9.6,12.8L10.3,8.9L14.5,6.0L19.8,8.8ZM30.1,14.0L25.5,17.0L22.3,14.8L20.6,9.1L27.0,6.5L31.0,7.7ZM41.6,12.2L37.2,17.3L31.6,16.3L30.1,9.9L34.0,6.7L38.1,7.4ZM49.1,12.6L44.7,16.5L41.5,15.5L39.6,8.8L44.0,6.1L49.0,9.0ZM58.7,14.4L54.4,16.8L50.4,14.0L49.3,10.1L52.4,6.8L58.2,7.7ZM69.3,16.4L65.4,19.0L60.4,15.1L60.3,10.8L67.3,8.1L70.2,12.0ZM4.8,21.0L1.8,25.0L-5.2,23.9L-5.1,19.8L-2.3,15.6L3.9,17.2ZM12.6,23.3L8.1,25.4L4.0,23.4L4.4,17.5L8.0,15.9L13.0,19.0ZM25.0,20.6L22.6,24.8L15.5,22.9L14.9,19.4L19.1,15.4L23.5,15.8ZM35.0,21.1L31.2,24.9L26.9,24.2L24.9,18.4L27.6,15.0L33.9,16.5ZM44.9,21.5L40.8,26.7L35.6,24.8L33.6,20.4L37.7,15.4L41.6,16.8ZM53.3,23.8L47.9,25.2L45.8,23.3L46.3,17.0L50.6,14.7L54.5,19.4ZM64.6,22.1L61.2,25.7L55.8,23.0L54.5,19.0L59.0,14.9L65.2,17.6ZM-0.8,32.1L-3.8,35.4L-9.1,34.0L-11.3,29.9L-7.8,24.8L-3.0,26.0ZM9.8,32.6L5.5,34.6L2.2,32.9L0.6,27.9L6.1,24.1L9.6,27.1ZM17.6,33.3L12.0,35.3L9.5,32.5L9.9,26.5L14.7,24.0L19.1,27.4ZM27.2,34.8L22.6,35.2L20.2,31.6L22.0,25.1L26.0,24.5L29.5,28.6ZM39.7,33.1L35.0,35.9L29.1,34.0L28.5,29.6L33.4,25.6L38.2,28.5ZM48.3,33.0L43.1,35.0L39.4,33.1L40.4,26.7L45.5,25.5L49.0,27.0ZM59.0,31.3L54.9,35.2L50.5,32.9L48.2,29.1L51.9,24.4L59.0,26.8ZM71.2,31.8L65.2,35.0L62.0,31.8L61.3,26.2L65.5,24.6L71.1,27.2ZM4.9,41.4L1.3,43.9L-3.4,44.8L-5.4,39.2L-3.0,34.1L1.3,34.7ZM13.7,42.3L9.8,44.3L5.1,42.6L4.2,36.1L8.9,34.4L13.4,37.2ZM25.6,38.6L20.9,44.4L17.4,43.3L14.1,37.5L18.3,33.3L23.6,34.7ZM34.6,41.3L31.2,43.8L25.4,40.8L26.0,35.9L30.7,33.0L34.5,35.2ZM44.9,41.4L40.2,43.3L35.4,41.6L36.2,35.3L41.8,33.2L45.2,36.2ZM56.0,41.9L51.3,44.2L47.6,43.1L46.7,36.7L49.8,34.1L54.7,35.0ZM64.6,42.8L58.8,43.9L55.1,41.2L55.6,36.1L61.8,33.1L65.9,37.4ZM-2.1,51.6L-5.2,52.1L-9.4,47.7L-8.3,43.4L-3.1,41.1L1.6,47.6ZM6.7,50.3L4.4,51.3L-0.1,49.8L-0.7,42.8L4.5,41.6L8.0,45.3ZM15.9,50.5L11.5,51.4L8.9,46.5L11.3,40.9L15.7,41.5L19.1,45.8ZM29.2,48.1L25.5,52.7L19.8,49.0L19.7,45.0L24.5,41.5L28.6,43.6ZM41.0,47.1L37.4,52.7L32.3,52.2L31.0,48.6L32.8,44.0L38.5,42.5ZM49.3,47.3L46.1,50.7L40.6,50.1L38.3,47.2L42.5,41.5L47.3,41.8ZM59.6,50.5L54.4,51.5L51.5,49.8L52.7,43.4L56.9,42.1L60.8,45.5ZM69.6,50.3L64.8,53.9L59.2,50.0L60.0,45.4L66.7,43.2L69.1,47.1ZM3.4,57.9L0.4,61.1L-4.6,59.3L-6.7,55.2L-3.1,51.3L2.2,52.2ZM11.1,60.0L6.6,59.7L3.4,55.0L5.7,51.1L12.6,51.9L14.2,54.9ZM25.1,59.1L20.2,62.8L15.4,61.6L13.8,56.3L18.4,52.2L23.1,54.3ZM35.2,58.7L27.7,60.1L25.0,56.1L27.6,50.4L32.2,50.8L36.0,55.1ZM40.8,61.7L36.6,60.8L34.3,57.7L37.1,52.7L42.7,53.0L43.8,57.6ZM54.9,58.3L51.5,61.4L45.6,58.8L43.9,54.6L47.6,51.5L54.5,52.6ZM66.2,56.3L61.6,61.2L56.3,59.2L56.9,54.4L58.4,52.4L65.3,52.3ZM0.8,64.6L-1.7,68.1L-9.0,66.7L-8.9,63.4L-5.7,58.0L-0.2,60.1ZM7.9,67.8L4.6,68.7L-0.4,65.9L-1.0,61.7L2.9,58.1L9.4,62.3ZM20.5,64.9L15.6,69.1L9.6,65.2L11.0,59.0L15.1,57.3L18.6,60.2ZM28.0,69.4L22.3,70.6L20.1,69.4L20.2,62.5L24.7,60.1L29.4,64.4ZM39.0,69.2L34.5,69.9L29.8,66.0L32.1,61.2L35.4,59.1L40.5,62.7ZM50.9,67.2L47.8,70.4L43.0,70.3L41.4,63.8L44.4,61.5L50.5,63.2ZM61.5,65.6L59.7,70.7L53.0,70.6L51.9,64.2L55.6,60.3L59.7,61.6ZM69.8,68.5L64.2,69.2L61.7,66.3L64.1,60.5L67.7,60.0L71.2,64.5ZM6.7,74.5L2.3,79.8L-2.6,77.8L-4.7,72.7L-2.9,70.3L2.8,68.7ZM13.3,78.3L8.6,79.9L4.4,74.2L6.3,69.9L10.2,69.5L15.2,72.6ZM24.4,76.5L19.4,79.9L13.4,76.2L14.1,71.5L18.9,68.4L22.9,70.4ZM34.4,77.0L29.7,79.2L25.8,75.6L26.6,70.0L31.1,68.6L36.1,72.6ZM44.0,76.1L41.2,79.8L35.8,77.9L34.5,72.3L38.3,69.4L41.6,69.6ZM53.7,77.0L47.1,77.0L45.0,73.4L47.3,67.8L52.0,67.4L55.4,71.3ZM66.7,73.8L60.7,77.6L57.2,74.6L56.7,70.5L59.7,67.6L66.2,69.6ZM-1.2,86.8L-6.4,88.4L-9.1,85.5L-9.1,79.1L-4.0,76.9L-0.9,80.8ZM8.8,87.5L2.4,87.4L-0.1,84.8L2.1,80.0L7.5,79.1L10.4,83.2ZM17.1,86.8L12.5,87.6L9.3,83.9L10.0,78.3L16.1,77.7L19.6,81.8ZM29.5,84.3L24.1,87.1L19.0,82.2L20.7,78.3L24.6,76.5L30.0,78.3ZM38.3,83.7L34.0,86.4L28.8,84.7L29.8,79.4L34.5,77.0L38.7,78.9ZM52.1,79.7L48.2,85.1L44.8,85.7L40.7,80.2L43.3,75.5L49.3,75.8ZM59.8,84.8L56.9,87.1L51.7,86.0L49.6,81.8L54.1,78.3L59.8,79.2ZM69.7,83.2L67.9,87.0L61.6,85.8L59.3,80.8L63.5,77.2L70.0,78.6ZM5.6,92.6L2.3,95.6L-2.9,93.1L-3.9,88.6L1.8,84.0L5.7,86.7ZM14.2,92.8L10.4,95.3L4.7,91.8L6.5,86.4L11.9,86.0L15.3,88.2ZM23.6,93.7L20.6,96.8L14.1,94.8L14.0,90.9L16.9,87.4L23.0,88.2ZM33.9,93.4L31.6,95.9L26.3,96.7L23.1,90.1L28.0,86.2L31.4,87.3ZM46.6,91.7L41.9,94.1L37.0,92.0L36.2,87.4L40.3,84.8L45.0,85.9ZM54.8,92.1L51.9,96.4L45.7,95.0L44.7,89.6L47.5,86.3L53.8,88.4ZM64.6,90.0L61.8,94.4L57.2,92.8L55.9,86.3L57.9,84.6L63.5,85.3ZM-1.8,102.7L-8.3,105.2L-11.0,100.4L-10.0,96.2L-4.3,94.5L-1.4,98.8ZM8.6,103.0L4.0,104.4L0.1,100.4L2.7,94.9L6.9,94.7L10.3,99.0ZM19.4,99.4L14.8,104.2L10.8,102.8L9.1,98.0L12.0,93.7L16.8,93.6ZM31.1,100.9L26.9,105.5L21.4,103.9L20.9,98.0L26.5,95.2L30.9,98.1ZM38.2,101.7L34.6,104.8L30.8,102.3L29.9,95.6L34.9,93.2L38.6,95.2ZM49.5,102.0L47.4,104.1L41.0,102.7L39.7,99.0L44.8,93.9L48.6,95.4ZM59.0,102.0L55.5,105.4L50.6,102.6L50.0,96.8L52.9,94.2L58.3,96.1ZM68.6,105.4L63.7,105.5L59.5,99.4L61.9,95.6L66.4,94.7L70.5,99.5ZM3.3,111.7L-2.8,115.3L-6.0,112.3L-4.6,105.2L-0.8,104.1L3.8,107.2ZM14.0,108.2L11.5,111.4L6.3,112.4L3.3,107.2L6.9,102.3L10.7,102.6ZM21.8,111.9L16.9,112.2L13.2,109.0L16.0,103.5L20.1,102.1L24.3,106.4ZM34.8,109.6L31.7,114.1L25.3,113.4L22.7,108.3L26.4,104.9L31.5,104.2ZM45.6,109.2L42.0,111.4L35.8,110.0L35.6,106.7L38.7,102.7L44.1,102.8ZM53.6,112.3L46.9,113.5L43.2,109.9L44.7,105.2L51.3,103.5L54.7,107.2ZM61.8,112.1L57.7,112.3L53.4,107.7L56.2,102.5L59.7,102.8L64.3,107.3Z" fill="none" stroke="#d4c2b6" stroke-width="0.5" opacity="0.6"/>
<circle cx="-3.2" cy="-4.5" r="1.7" fill="#cdc8e2" opacity="0.69"/>
<circle cx="16.0" cy="-4.8" r="2.0" fill="#cdc8e2" opacity="0.66"/>
<circle cx="26.0" cy="-5.6" r="2.2" fill="#cdc8e2" opacity="0.55"/>
<circle cx="45.5" cy="-6.1" r="2.2" fill="#cdc8e2" opacity="0.66"/>
<circle cx="54.8" cy="-6.8" r="2.0" fill="#cdc8e2" opacity="0.63"/>
<circle cx="65.3" cy="-5.4" r="1.7" fill="#cdc8e2" opacity="0.57"/>
<circle cx="-1.6" cy="2.8" r="1.8" fill="#cdc8e2" opacity="0.72"/>
<circle cx="11.1" cy="3.7" r="1.8" fill="#cdc8e2" opacity="0.64"/>
<circle cx="20.5" cy="5.6" r="1.8" fill="#cdc8e2" opacity="0.66"/>
<circle cx="31.9" cy="5.3" r="1.8" fill="#cdc8e2" opacity="0.59"/>
<circle cx="60.8" cy="4.8" r="1.8" fill="#cdc8e2" opacity="0.61"/>
<circle cx="-3.6" cy="13.7" r="2.0" fill="#cdc8e2" opacity="0.74"/>
<circle cx="3.6" cy="11.9" r="1.6" fill="#cdc8e2" opacity="0.67"/>
<circle cx="14.3" cy="11.4" r="2.1" fill="#cdc8e2" opacity="0.55"/>
<circle cx="26.0" cy="11.1" r="1.6" fill="#cdc8e2" opacity="0.65"/>
<circle cx="35.8" cy="11.5" r="1.8" fill="#cdc8e2" opacity="0.56"/>
<circle cx="44.7" cy="10.9" r="2.2" fill="#cdc8e2" opacity="0.71"/>
<circle cx="54.4" cy="11.6" r="2.0" fill="#cdc8e2" opacity="0.74"/>
<circle cx="66.4" cy="13.1" r="2.0" fill="#cdc8e2" opacity="0.65"/>
<circle cx="-1.2" cy="19.9" r="1.8" fill="#cdc8e2" opacity="0.57"/>
<circle cx="20.2" cy="20.6" r="2.2" fill="#cdc8e2" opacity="0.60"/>
<circle cx="29.5" cy="19.2" r="2.1" fill="#cdc8e2" opacity="0.56"/>
<circle cx="40.3" cy="21.0" r="1.9" fill="#cdc8e2" opacity="0.73"/>
<circle cx="49.9" cy="21.0" r="1.8" fill="#cdc8e2" opacity="0.63"/>
<circle cx="-6.0" cy="30.8" r="1.8" fill="#cdc8e2" opacity="0.73"/>
<circle cx="5.8" cy="29.0" r="1.9" fill="#cdc8e2" opacity="0.68"/>
<circle cx="14.9" cy="30.5" r="1.8" fill="#cdc8e2" opacity="0.61"/>
<circle cx="23.7" cy="30.3" r="1.7" fill="#cdc8e2" opacity="0.70"/>
<circle cx="34.3" cy="31.6" r="1.7" fill="#cdc8e2" opacity="0.58"/>
<circle cx="54.1" cy="29.3" r="2.1" fill="#cdc8e2" opacity="0.56"/>
<circle cx="-0.7" cy="39.7" r="1.8" fill="#cdc8e2" opacity="0.63"/>
<circle cx="9.6" cy="39.8" r="1.9" fill="#cdc8e2" opacity="0.63"/>
<circle cx="20.3" cy="39.0" r="1.6" fill="#cdc8e2" opacity="0.71"/>
<circle cx="30.0" cy="38.5" r="2.2" fill="#cdc8e2" opacity="0.60"/>
<circle cx="40.4" cy="37.5" r="2.0" fill="#cdc8e2" opacity="0.57"/>
<circle cx="50.2" cy="38.4" r="1.8" fill="#cdc8e2" opacity="0.59"/>
<circle cx="59.9" cy="38.4" r="1.9" fill="#cdc8e2" opacity="0.64"/>
<circle cx="-4.8" cy="47.6" r="1.9" fill="#cdc8e2" opacity="0.60"/>
<circle cx="3.9" cy="47.5" r="2.0" fill="#cdc8e2" opacity="0.60"/>
<circle cx="14.0" cy="46.7" r="1.9" fill="#cdc8e2" opacity="0.56"/>
<circle cx="24.1" cy="46.5" r="2.1" fill="#cdc8e2" opacity="0.71"/>
<circle cx="35.2" cy="47.1" r="2.0" fill="#cdc8e2" opacity="0.57"/>
<circle cx="55.8" cy="46.2" r="1.8" fill="#cdc8e2" opacity="0.58"/>
<circle cx="64.5" cy="47.8" r="1.8" fill="#cdc8e2" opacity="0.57"/>
<circle cx="-2.2" cy="56.2" r="2.0" fill="#cdc8e2" opacity="0.69"/>
<circle cx="9.2" cy="55.2" r="2.1" fill="#cdc8e2" opacity="0.64"/>
<circle cx="19.7" cy="57.1" r="1.7" fill="#cdc8e2" opacity="0.71"/>
<circle cx="30.3" cy="55.6" r="1.7" fill="#cdc8e2" opacity="0.74"/>
<circle cx="39.7" cy="56.8" r="1.7" fill="#cdc8e2" opacity="0.70"/>
<circle cx="49.3" cy="56.4" r="1.6" fill="#cdc8e2" opacity="0.65"/>
<circle cx="-4.7" cy="62.6" r="2.1" fill="#cdc8e2" opacity="0.61"/>
<circle cx="4.4" cy="63.5" r="2.1" fill="#cdc8e2" opacity="0.75"/>
<circle cx="35.0" cy="64.1" r="1.7" fill="#cdc8e2" opacity="0.63"/>
<circle cx="45.1" cy="65.3" r="2.3" fill="#cdc8e2" opacity="0.57"/>
<circle cx="56.3" cy="65.2" r="2.2" fill="#cdc8e2" opacity="0.66"/>
<circle cx="8.5" cy="74.6" r="2.3" fill="#cdc8e2" opacity="0.67"/>
<circle cx="17.9" cy="73.5" r="1.7" fill="#cdc8e2" opacity="0.71"/>
<circle cx="30.1" cy="73.2" r="2.1" fill="#cdc8e2" opacity="0.64"/>
<circle cx="51.7" cy="72.6" r="2.0" fill="#cdc8e2" opacity="0.73"/>
<circle cx="61.4" cy="71.6" r="2.2" fill="#cdc8e2" opacity="0.69"/>
<circle cx="-5.4" cy="82.4" r="1.9" fill="#cdc8e2" opacity="0.65"/>
<circle cx="6.5" cy="82.8" r="2.0" fill="#cdc8e2" opacity="0.70"/>
<circle cx="13.6" cy="81.9" r="1.8" fill="#cdc8e2" opacity="0.64"/>
<circle cx="23.9" cy="81.7" r="1.6" fill="#cdc8e2" opacity="0.61"/>
<circle cx="34.1" cy="81.6" r="1.7" fill="#cdc8e2" opacity="0.61"/>
<circle cx="45.9" cy="80.9" r="1.9" fill="#cdc8e2" opacity="0.70"/>
<circle cx="55.5" cy="81.7" r="2.0" fill="#cdc8e2" opacity="0.75"/>
<circle cx="1.0" cy="90.4" r="2.1" fill="#cdc8e2" opacity="0.69"/>
<circle cx="10.5" cy="89.6" r="1.9" fill="#cdc8e2" opacity="0.69"/>
<circle cx="29.0" cy="90.7" r="1.9" fill="#cdc8e2" opacity="0.68"/>
<circle cx="40.3" cy="88.3" r="2.0" fill="#cdc8e2" opacity="0.67"/>
<circle cx="50.1" cy="92.0" r="1.8" fill="#cdc8e2" opacity="0.73"/>
<circle cx="-6.3" cy="99.3" r="1.7" fill="#cdc8e2" opacity="0.75"/>
<circle cx="14.5" cy="98.7" r="1.8" fill="#cdc8e2" opacity="0.67"/>
<circle cx="26.4" cy="99.0" r="2.1" fill="#cdc8e2" opacity="0.66"/>
<circle cx="46.0" cy="99.3" r="1.7" fill="#cdc8e2" opacity="0.67"/>
<circle cx="54.1" cy="98.4" r="2.2" fill="#cdc8e2" opacity="0.59"/>
<circle cx="65.5" cy="99.7" r="1.7" fill="#cdc8e2" opacity="0.58"/>
<circle cx="-2.0" cy="109.9" r="2.0" fill="#cdc8e2" opacity="0.68"/>
<circle cx="9.5" cy="107.9" r="2.2" fill="#cdc8e2" opacity="0.61"/>
<circle cx="18.1" cy="108.2" r="2.0" fill="#cdc8e2" opacity="0.74"/>
<circle cx="29.3" cy="108.8" r="2.1" fill="#cdc8e2" opacity="0.60"/>
<circle cx="39.9" cy="106.0" r="1.9" fill="#cdc8e2" opacity="0.64"/>
<circle cx="48.5" cy="108.1" r="1.7" fill="#cdc8e2" opacity="0.67"/>
<circle cx="58.6" cy="107.2" r="1.7" fill="#cdc8e2" opacity="0.72"/>
</g>
<path d="M54.3,82.5V101.5M52.5,82.5H54.3M52.5,85.5H54.3M52.5,88.5H54.3M52.5,91.5H54.3M52.5,94.5H54.3M52.5,97.5H54.3M52.5,100.5H54.3" stroke="#555" stroke-width="0.6" fill="none"/>
</svg>
<svg x="210.4" y="790.1" width="56.1" height="103.5" viewBox="0 0 56.1 103.5">
<rect width="56.1" height="103.5" fill="#e0cab4"/>
<g filter="url(#bl2)">
<ellipse cx="50.8" cy="79.2" rx="10.5" ry="8.4" fill="#d2b492" opacity="0.73"/>
<ellipse cx="39.1" cy="58.8" rx="5.2" ry="9.2" fill="#d2b492" opacity="0.42"/>
<ellipse cx="13.8" cy="26.8" rx="10.1" ry="4.4" fill="#d2b492" opacity="0.58"/>
<ellipse cx="18.5" cy="21.8" rx="7.4" ry="8.5" fill="#d2b492" opacity="0.46"/>
<ellipse cx="53.6" cy="33.6" rx="12.6" ry="8.4" fill="#d2b492" opacity="0.48"/>
<ellipse cx="37.6" cy="40.5" rx="8.3" ry="9.6" fill="#d2b492" opacity="0.59"/>
<ellipse cx="40.2" cy="7.3" rx="10.5" ry="8.1" fill="#d2b492" opacity="0.53"/>
<ellipse cx="34.1" cy="90.7" rx="7.3" ry="8.0" fill="#d2b492" opacity="0.60"/>
<ellipse cx="27.8" cy="46.2" rx="9.2" ry="5.9" fill="#d2b492" opacity="0.51"/>
<ellipse cx="28.0" cy="48.9" rx="5.6" ry="5.7" fill="#d2b492" opacity="0.47"/>
<ellipse cx="14.5" cy="76.5" rx="5.2" ry="7.3" fill="#d2b492" opacity="0.57"/>
<ellipse cx="24.3" cy="7.4" rx="6.4" ry="9.6" fill="#d2b492" opacity="0.53"/>
<ellipse cx="52.1" cy="30.1" rx="6.7" ry="8.5" fill="#d2b492" opacity="0.55"/>
<ellipse cx="38.2" cy="31.0" rx="5.9" ry="7.3" fill="#d2b492" opacity="0.74"/>
<ellipse cx="15.2" cy="91.5" rx="10.4" ry="9.6" fill="#d2b492" opacity="0.49"/>
<ellipse cx="24.4" cy="17.0" rx="9.6" ry="6.5" fill="#d2b492" opacity="0.65"/>
<polyline fill="none" stroke="#eee7e2" stroke-width="2.1" stroke-linecap="round" stroke-linejoin="round" opacity="0.85" points="34.2,5.0 37.0,-1.8 41.2,-3.8 43.2,-4.7 44.4,-7.9 50.3,-10.3"/>
<polyline fill="none" stroke="#eee7e2" stroke-width="2.2" stroke-linecap="round" stroke-linejoin="round" opacity="0.85" points="6.6,4.4 11.4,8.1 15.8,13.2 21.5,15.3 28.1,16.1 31.7,18.2"/>
<polyline fill="none" stroke="#eee7e2" stroke-width="3.9" stroke-linecap="round" stroke-linejoin="round" opacity="0.85" points="36.3,76.9 41.1,71.1 44.0,71.5 49.2,68.0 53.6,60.3 60.1,60.4"/>
<polyline fill="none" stroke="#eee7e2" stroke-width="3.1" stroke-linecap="round" stroke-linejoin="round" opacity="0.85" points="28.1,14.0 30.0,14.9 34.7,13.6 35.4,10.6 41.8,8.7 45.3,4.4"/>
</g>
<rect width="56.1" height="103.5" filter="url(#grain)" opacity="0.35"/>
<g filter="url(#bl)">
<path d="M0.7,-3.4L-2.9,-1.0L-6.3,-2.0L-7.2,-7.3L-4.1,-8.5L0.6,-7.1ZM7.2,-1.8L1.8,-1.7L0.1,-5.8L2.4,-9.4L6.1,-9.4L8.6,-6.8ZM17.2,-3.6L14.7,-0.4L10.3,-0.5L8.1,-4.1L11.3,-8.1L16.0,-7.6ZM25.6,-1.1L20.3,0.4L16.7,-2.8L17.8,-5.9L22.3,-8.1L25.5,-6.2ZM32.1,-0.3L27.9,-0.3L25.6,-4.6L26.3,-7.4L30.4,-8.6L33.7,-5.2ZM42.3,-2.3L39.0,1.2L35.9,1.1L33.0,-3.9L36.0,-7.0L40.5,-7.2ZM51.2,-2.1L47.9,1.1L43.0,-1.3L42.7,-5.8L45.7,-7.5L50.6,-6.3ZM60.7,-1.9L56.2,0.6L53.2,-0.4L51.7,-4.6L55.4,-8.3L59.6,-7.1ZM68.1,-4.1L66.0,-0.6L61.4,-2.1L59.3,-6.5L61.5,-8.7L66.2,-9.0ZM5.7,3.8L3.2,6.8L-1.7,6.5L-3.7,2.3L-0.1,-1.7L4.5,-0.0ZM11.3,7.6L8.2,8.1L4.4,3.6L6.1,0.7L11.3,-1.3L13.0,2.5ZM17.6,7.2L13.2,7.0L11.2,2.8L12.3,0.1L17.2,-1.2L20.4,4.1ZM28.7,5.7L24.0,7.1L20.5,4.7L20.6,0.9L26.1,-1.0L29.3,0.9ZM34.9,7.8L30.7,7.1L29.1,3.6L31.0,-0.0L34.2,-0.6L37.7,3.5ZM46.7,3.7L45.0,7.1L40.7,8.7L37.0,4.3L39.4,1.0L44.6,0.6ZM54.8,4.7L51.5,7.0L47.7,2.6L48.2,-0.2L51.4,-2.5L55.4,-0.4ZM62.2,5.6L59.4,6.3L56.6,1.6L58.7,-2.8L62.9,-1.7L64.6,2.2ZM0.6,13.2L-3.0,15.5L-7.0,13.3L-7.0,9.4L-4.1,6.0L1.3,8.5ZM7.2,14.8L2.8,15.4L-0.3,13.2L0.6,8.5L6.5,7.1L9.1,11.1ZM18.0,12.0L14.6,15.2L11.1,14.5L10.1,8.6L13.0,6.1L17.5,8.5ZM25.6,13.7L22.3,15.5L18.1,14.1L17.2,9.4L21.1,6.8L25.3,8.7ZM34.8,14.6L29.7,16.6L27.0,11.7L28.9,8.0L32.1,7.7L34.8,10.4ZM40.5,12.9L35.3,14.5L32.7,11.4L35.4,5.7L38.2,5.2L42.2,8.3ZM49.3,15.1L43.6,15.4L42.0,11.6L43.0,8.1L46.7,7.8L50.1,10.7ZM59.6,15.5L56.1,16.2L52.7,13.5L52.8,9.3L57.2,7.5L60.9,10.7ZM68.8,12.1L65.4,15.5L60.8,13.8L59.0,9.5L62.0,7.1L67.7,7.3ZM3.5,16.6L0.0,20.4L-4.1,20.0L-6.2,14.9L-3.9,12.6L1.6,13.8ZM11.7,20.2L7.2,22.0L4.3,19.2L4.4,15.6L9.8,13.5L12.4,15.8ZM21.0,19.4L16.0,23.2L11.9,21.5L11.6,16.6L15.9,14.3L19.6,16.0ZM27.0,21.4L23.0,20.1L20.3,16.7L23.6,12.8L28.0,12.9L30.3,17.3ZM36.1,22.4L31.5,21.2L30.4,19.2L31.6,14.6L36.0,13.4L38.4,17.4ZM45.0,21.1L40.8,21.4L37.9,18.3L39.9,12.9L43.4,13.6L46.6,16.1ZM55.6,21.4L50.6,22.6L47.8,19.5L49.6,14.7L52.0,14.4L55.6,16.3ZM62.8,17.5L59.6,20.8L55.4,20.0L53.3,16.3L56.8,12.6L61.4,13.5ZM0.5,28.2L-3.4,31.0L-8.4,28.8L-8.3,24.4L-4.0,21.7L-0.7,23.0ZM8.9,27.7L7.0,30.1L1.5,29.0L0.6,25.1L3.0,22.5L8.0,22.6ZM16.2,29.3L12.2,30.9L9.3,29.0L8.6,23.4L13.4,21.4L17.4,25.2ZM24.9,27.3L21.9,29.5L17.4,27.4L17.5,22.3L21.6,20.4L24.6,23.7ZM33.5,26.7L29.7,31.2L26.7,30.7L23.9,27.0L27.2,22.1L31.7,23.2ZM41.9,29.8L38.0,30.4L34.9,27.8L34.4,23.7L39.3,21.8L43.6,24.2ZM52.5,27.5L48.7,30.8L45.2,29.2L43.3,24.3L47.7,22.2L50.6,22.5ZM60.3,26.0L57.1,30.1L52.8,28.5L52.1,24.1L54.4,21.7L59.7,23.0ZM68.5,27.2L65.2,31.1L61.8,29.7L60.1,25.3L62.0,22.6L66.5,21.9ZM0.3,37.0L-4.0,37.4L-5.9,32.6L-3.7,29.8L1.5,29.1L3.4,31.8ZM13.3,32.7L9.4,35.8L5.5,33.9L5.3,28.0L9.7,26.8L12.3,28.3ZM19.8,35.0L15.8,36.3L12.6,31.6L15.0,27.5L18.2,27.1L21.3,30.5ZM26.8,35.4L23.7,36.4L20.8,33.1L20.3,29.0L26.6,27.0L28.2,30.2ZM36.0,38.4L31.5,38.3L28.6,35.2L31.5,29.7L35.5,30.5L37.7,33.3ZM46.2,35.8L43.3,38.0L39.4,36.9L38.3,32.4L41.3,29.5L45.3,30.5ZM55.3,34.3L50.0,36.9L47.5,36.1L46.1,30.9L49.2,27.9L54.1,31.2ZM61.5,38.0L58.9,38.9L54.3,35.3L55.5,31.7L59.3,29.0L62.6,32.5ZM-0.1,42.3L-4.2,43.2L-7.9,41.1L-7.8,36.9L-2.5,34.3L0.1,36.9ZM7.3,43.0L3.2,45.7L-0.7,42.2L-0.1,38.5L5.2,36.8L8.0,39.4ZM15.7,42.8L11.9,45.6L8.5,43.8L7.3,38.7L11.1,36.0L15.5,38.6ZM25.1,41.5L21.6,43.1L17.5,40.9L17.0,36.9L20.7,35.1L24.4,35.9ZM31.6,43.2L28.9,45.1L24.2,41.6L25.7,36.7L30.2,35.7L33.5,40.2ZM42.7,42.3L38.5,43.5L34.8,40.6L35.4,36.4L41.0,35.4L43.3,39.7ZM49.8,40.8L46.9,44.0L41.2,42.9L41.5,36.9L44.0,35.8L49.7,38.2ZM59.9,40.1L57.3,42.8L53.5,43.1L51.1,39.7L53.4,35.6L57.6,35.6ZM66.4,44.7L63.2,45.8L59.0,43.6L58.8,39.2L63.3,36.7L68.0,40.8ZM3.0,49.3L0.0,51.5L-4.8,47.7L-3.8,44.1L0.4,42.6L3.8,44.8ZM11.0,50.1L6.7,50.1L5.5,47.0L6.5,42.9L10.7,41.5L13.2,46.6ZM19.9,50.7L14.5,50.3L12.7,45.8L15.0,42.0L19.1,41.7L21.0,45.0ZM29.5,51.0L24.8,52.6L22.1,50.0L22.4,45.6L26.6,43.6L31.1,46.5ZM37.2,50.6L33.4,53.3L28.6,51.3L29.5,47.7L32.4,43.8L37.3,46.6ZM44.9,48.5L40.6,50.7L38.4,49.2L37.8,45.0L42.2,41.7L45.7,44.8ZM53.8,51.1L49.5,52.0L46.1,48.9L47.9,44.5L52.1,43.6L54.5,48.1ZM64.0,46.8L62.5,50.0L56.5,48.8L56.2,45.1L57.8,42.2L63.2,43.1ZM-1.0,57.3L-4.9,59.7L-8.0,60.1L-10.1,54.4L-6.2,50.8L-2.9,52.6ZM6.7,58.2L3.0,60.9L-1.0,58.7L-1.3,55.0L2.8,52.4L6.3,53.4ZM15.4,58.7L12.8,60.0L8.9,56.5L7.9,53.5L13.7,50.6L16.5,53.7ZM23.8,57.5L20.5,58.4L16.4,54.6L19.2,50.4L24.2,50.2L25.3,54.1ZM35.9,55.1L31.4,58.1L26.5,55.4L26.8,52.1L30.6,49.6L35.8,51.9ZM44.0,55.2L40.6,59.1L35.5,57.4L34.5,53.1L38.8,49.1L42.6,51.8ZM51.0,56.4L47.4,57.7L44.0,55.7L44.2,51.0L48.1,49.5L50.5,50.4ZM58.8,54.5L56.4,59.4L51.9,58.1L49.7,53.3L52.5,50.6L56.5,50.6ZM67.8,56.6L63.4,58.9L60.7,57.8L61.6,52.0L65.1,51.0L68.1,53.1ZM4.6,63.8L0.8,65.8L-3.9,62.9L-2.9,59.2L0.5,57.3L4.2,59.8ZM13.9,63.1L9.4,65.8L5.9,65.1L5.5,59.1L8.8,57.1L13.3,58.7ZM23.0,63.4L20.4,66.2L14.9,65.4L13.4,60.8L17.2,57.6L20.8,59.0ZM27.7,66.7L24.4,67.3L20.6,64.1L22.0,59.6L26.9,59.0L30.0,61.4ZM36.9,65.5L34.0,67.7L29.7,66.3L28.5,60.9L31.4,59.2L36.4,60.9ZM45.2,67.2L40.6,68.2L37.7,63.3L39.3,60.2L43.9,60.0L47.0,64.3ZM54.2,64.1L51.6,67.0L45.4,65.8L45.1,61.0L48.1,58.8L52.7,60.1ZM64.0,63.6L60.5,66.6L55.6,64.4L56.1,59.5L60.1,57.0L62.6,58.7ZM0.6,71.1L-2.4,73.8L-6.2,72.2L-7.9,69.3L-3.7,65.6L0.0,66.3ZM7.1,72.2L2.1,75.0L-1.5,72.4L-0.6,67.9L4.4,66.7L7.8,69.1ZM16.9,70.8L14.1,74.4L9.2,73.6L8.4,68.9L11.7,65.6L16.0,68.4ZM23.9,72.0L21.0,72.8L16.9,69.8L18.0,65.5L21.6,64.2L24.9,66.2ZM30.8,73.7L27.6,74.4L24.3,71.5L25.5,66.3L29.8,65.0L32.2,69.3ZM39.8,74.7L36.4,75.0L33.2,72.4L35.0,66.8L38.3,65.9L42.6,70.6ZM50.8,70.7L46.8,75.6L42.5,73.6L41.1,70.3L45.6,66.8L48.3,66.9ZM56.9,73.9L53.9,74.4L49.4,71.0L51.1,67.2L56.1,65.9L58.3,69.5ZM69.2,70.6L65.3,73.9L61.9,72.9L60.6,67.5L64.8,64.7L67.9,66.7ZM5.4,78.9L1.3,80.7L-2.2,77.8L-2.8,74.4L2.6,72.3L5.5,74.3ZM14.7,75.8L12.6,79.7L7.0,80.0L5.5,75.7L8.4,71.8L11.8,71.9ZM20.2,75.4L18.4,79.3L13.6,79.6L10.6,76.0L13.4,72.3L18.8,72.0ZM30.5,80.3L25.4,82.6L22.2,81.0L22.6,74.9L25.8,73.5L29.6,75.1ZM39.0,78.8L34.4,80.9L30.1,76.7L32.8,72.2L36.4,71.5L39.3,74.0ZM47.5,78.3L44.5,81.7L39.9,80.5L37.7,75.9L41.5,73.1L46.2,74.0ZM54.5,80.7L50.0,81.0L48.2,78.7L48.7,74.1L53.0,73.1L56.7,76.7ZM62.5,78.7L58.8,80.0L56.2,78.3L56.0,73.5L59.0,70.9L63.1,73.1ZM-1.0,86.6L-3.9,88.5L-9.0,86.5L-9.7,83.6L-6.5,79.5L-1.9,81.2ZM8.9,85.9L6.0,88.4L1.2,84.8L1.4,82.1L5.2,79.2L8.5,80.2ZM15.5,87.6L12.0,90.6L9.3,89.5L7.9,84.8L11.2,81.6L14.3,82.7ZM26.0,84.3L23.8,86.4L19.4,87.3L16.9,81.9L19.3,79.2L23.7,78.8ZM32.7,83.4L29.4,88.0L25.7,86.6L23.5,81.5L26.4,79.8L31.8,80.4ZM43.6,86.3L38.9,88.6L34.6,85.2L35.4,82.3L40.1,79.5L43.6,83.3ZM49.3,88.3L45.6,88.6L42.2,84.7L45.0,79.6L48.0,80.5L51.6,83.2ZM60.6,85.6L58.7,88.2L54.4,88.6L51.1,84.0L53.4,81.0L58.6,81.0ZM67.3,87.7L62.2,88.9L60.3,86.1L61.4,80.7L65.7,80.2L69.2,83.9ZM3.3,92.7L-0.9,97.1L-3.6,95.2L-5.8,90.5L-2.0,87.7L1.9,88.7ZM10.6,95.3L6.3,94.9L4.0,91.7L5.7,88.5L10.7,87.1L12.9,90.5ZM21.3,93.0L18.7,96.6L14.3,95.7L12.9,90.2L16.2,88.0L19.9,88.2ZM30.5,92.3L28.1,95.1L23.8,93.7L22.9,89.7L27.4,86.7L31.1,87.7ZM35.3,96.9L32.0,96.3L28.8,94.0L30.4,89.1L34.2,88.4L37.3,92.7ZM45.4,96.2L40.8,96.0L38.7,94.1L38.8,89.5L43.5,88.4L47.3,90.6ZM57.0,93.5L53.9,97.5L49.2,95.8L47.7,91.8L51.4,87.9L55.3,89.0ZM62.4,92.7L60.1,96.7L56.0,96.7L53.5,91.5L57.1,87.7L61.4,88.5ZM0.3,100.4L-4.1,102.8L-7.2,100.6L-8.4,96.1L-4.4,93.7L-0.5,95.6ZM8.2,99.3L4.4,103.9L0.7,103.4L-0.8,98.5L2.0,95.3L6.0,95.8ZM16.7,101.7L10.8,102.8L8.9,99.6L9.2,96.0L14.0,95.4L16.8,97.8ZM27.5,99.5L22.8,103.3L19.0,101.2L17.8,96.9L21.6,93.5L25.7,95.5ZM33.2,101.8L27.7,103.7L25.2,100.9L25.5,96.1L30.2,95.0L33.9,96.5ZM41.7,100.1L39.2,102.0L34.4,102.1L33.3,96.8L37.3,93.3L41.3,95.9ZM49.5,101.9L46.9,102.8L41.8,100.7L43.8,95.1L46.5,94.2L50.5,96.7ZM58.9,99.1L55.8,103.3L51.6,100.3L50.3,97.7L55.3,93.4L58.3,95.9ZM67.2,102.4L61.8,104.4L59.9,101.6L61.9,95.7L64.5,95.7L68.9,99.0ZM3.4,107.5L-0.0,109.9L-4.9,107.2L-5.5,103.5L-2.6,101.5L3.6,103.6ZM14.0,106.9L9.6,110.1L5.1,107.5L5.1,102.8L8.1,101.4L13.4,103.2ZM20.1,106.9L16.8,109.2L13.0,108.4L11.8,103.3L15.0,100.4L19.2,102.1ZM27.5,111.5L24.4,111.9L20.7,107.9L23.3,103.3L27.8,103.7L29.4,105.2ZM39.0,107.9L35.3,109.5L31.3,108.4L30.9,103.4L33.5,100.7L37.7,102.5ZM44.8,111.2L41.4,110.9L38.5,107.6L40.1,103.7L43.8,103.1L48.0,107.1ZM51.8,111.6L47.9,111.8L45.2,108.3L45.9,104.8L52.0,104.4L54.2,108.6ZM63.5,109.4L58.7,111.0L56.0,107.5L57.3,102.3L62.0,102.2L65.1,105.2Z" fill="none" stroke="#c49668" stroke-width="0.6" opacity="0.25"/>
<circle cx="4.0" cy="-5.4" r="2.0" fill="#c6b8d0" stroke="#aea2b7" stroke-width="0.5" opacity="0.69"/>
<circle cx="12.5" cy="-3.8" r="2.0" fill="#c6b8d0" stroke="#aea2b7" stroke-width="0.5" opacity="0.65"/>
<circle cx="22.1" cy="-4.7" r="1.9" fill="#c6b8d0" stroke="#aea2b7" stroke-width="0.5" opacity="0.56"/>
<circle cx="29.3" cy="-3.6" r="1.9" fill="#c6b8d0" stroke="#aea2b7" stroke-width="0.5" opacity="0.66"/>
<circle cx="38.2" cy="-3.9" r="1.8" fill="#c6b8d0" stroke="#aea2b7" stroke-width="0.5" opacity="0.57"/>
<circle cx="46.8" cy="-3.2" r="1.7" fill="#c6b8d0" stroke="#aea2b7" stroke-width="0.5" opacity="0.58"/>
<circle cx="64.1" cy="-4.6" r="2.2" fill="#c6b8d0" stroke="#aea2b7" stroke-width="0.5" opacity="0.51"/>
<circle cx="1.3" cy="2.3" r="2.3" fill="#c6b8d0" stroke="#aea2b7" stroke-width="0.5" opacity="0.64"/>
<circle cx="9.2" cy="3.7" r="1.7" fill="#c6b8d0" stroke="#aea2b7" stroke-width="0.5" opacity="0.57"/>
<circle cx="15.7" cy="3.8" r="2.3" fill="#c6b8d0" stroke="#aea2b7" stroke-width="0.5" opacity="0.65"/>
<circle cx="25.8" cy="1.8" r="1.8" fill="#c6b8d0" stroke="#aea2b7" stroke-width="0.5" opacity="0.52"/>
<circle cx="33.0" cy="3.1" r="2.0" fill="#c6b8d0" stroke="#aea2b7" stroke-width="0.5" opacity="0.64"/>
<circle cx="42.3" cy="4.5" r="2.2" fill="#c6b8d0" stroke="#aea2b7" stroke-width="0.5" opacity="0.51"/>
<circle cx="59.8" cy="0.9" r="2.1" fill="#c6b8d0" stroke="#aea2b7" stroke-width="0.5" opacity="0.68"/>
<circle cx="-2.6" cy="11.1" r="1.9" fill="#c6b8d0" stroke="#aea2b7" stroke-width="0.5" opacity="0.67"/>
<circle cx="4.0" cy="11.6" r="2.2" fill="#c6b8d0" stroke="#aea2b7" stroke-width="0.5" opacity="0.68"/>
<circle cx="14.0" cy="10.8" r="1.7" fill="#c6b8d0" stroke="#aea2b7" stroke-width="0.5" opacity="0.62"/>
<circle cx="21.1" cy="11.5" r="2.0" fill="#c6b8d0" stroke="#aea2b7" stroke-width="0.5" opacity="0.58"/>
<circle cx="31.4" cy="11.0" r="1.7" fill="#c6b8d0" stroke="#aea2b7" stroke-width="0.5" opacity="0.68"/>
<circle cx="38.0" cy="9.5" r="1.8" fill="#c6b8d0" stroke="#aea2b7" stroke-width="0.5" opacity="0.69"/>
<circle cx="46.6" cy="11.9" r="1.7" fill="#c6b8d0" stroke="#aea2b7" stroke-width="0.5" opacity="0.60"/>
<circle cx="56.3" cy="12.4" r="1.9" fill="#c6b8d0" stroke="#aea2b7" stroke-width="0.5" opacity="0.59"/>
<circle cx="63.4" cy="10.5" r="2.2" fill="#c6b8d0" stroke="#aea2b7" stroke-width="0.5" opacity="0.52"/>
<circle cx="-1.2" cy="15.6" r="2.3" fill="#c6b8d0" stroke="#aea2b7" stroke-width="0.5" opacity="0.62"/>
<circle cx="9.0" cy="16.8" r="2.2" fill="#c6b8d0" stroke="#aea2b7" stroke-width="0.5" opacity="0.65"/>
<circle cx="15.9" cy="18.4" r="1.7" fill="#c6b8d0" stroke="#aea2b7" stroke-width="0.5" opacity="0.51"/>
<circle cx="34.2" cy="19.0" r="1.6" fill="#c6b8d0" stroke="#aea2b7" stroke-width="0.5" opacity="0.59"/>
<circle cx="41.6" cy="18.2" r="2.2" fill="#c6b8d0" stroke="#aea2b7" stroke-width="0.5" opacity="0.68"/>
<circle cx="52.5" cy="18.9" r="1.8" fill="#c6b8d0" stroke="#aea2b7" stroke-width="0.5" opacity="0.62"/>
<circle cx="57.1" cy="16.9" r="1.9" fill="#c6b8d0" stroke="#aea2b7" stroke-width="0.5" opacity="0.69"/>
<circle cx="-3.8" cy="26.3" r="2.3" fill="#c6b8d0" stroke="#aea2b7" stroke-width="0.5" opacity="0.60"/>
<circle cx="4.8" cy="25.8" r="1.6" fill="#c6b8d0" stroke="#aea2b7" stroke-width="0.5" opacity="0.53"/>
<circle cx="12.4" cy="25.6" r="2.2" fill="#c6b8d0" stroke="#aea2b7" stroke-width="0.5" opacity="0.68"/>
<circle cx="20.2" cy="24.6" r="2.2" fill="#c6b8d0" stroke="#aea2b7" stroke-width="0.5" opacity="0.56"/>
<circle cx="28.0" cy="26.1" r="1.6" fill="#c6b8d0" stroke="#aea2b7" stroke-width="0.5" opacity="0.65"/>
<circle cx="40.0" cy="26.1" r="1.9" fill="#c6b8d0" stroke="#aea2b7" stroke-width="0.5" opacity="0.69"/>
<circle cx="48.3" cy="26.1" r="2.1" fill="#c6b8d0" stroke="#aea2b7" stroke-width="0.5" opacity="0.66"/>
<circle cx="56.9" cy="24.9" r="1.7" fill="#c6b8d0" stroke="#aea2b7" stroke-width="0.5" opacity="0.64"/>
<circle cx="-0.5" cy="33.0" r="2.3" fill="#c6b8d0" stroke="#aea2b7" stroke-width="0.5" opacity="0.55"/>
<circle cx="16.6" cy="31.6" r="1.8" fill="#c6b8d0" stroke="#aea2b7" stroke-width="0.5" opacity="0.58"/>
<circle cx="23.7" cy="31.2" r="2.2" fill="#c6b8d0" stroke="#aea2b7" stroke-width="0.5" opacity="0.60"/>
<circle cx="33.3" cy="35.0" r="2.2" fill="#c6b8d0" stroke="#aea2b7" stroke-width="0.5" opacity="0.63"/>
<circle cx="50.7" cy="32.1" r="2.0" fill="#c6b8d0" stroke="#aea2b7" stroke-width="0.5" opacity="0.68"/>
<circle cx="59.3" cy="33.5" r="2.2" fill="#c6b8d0" stroke="#aea2b7" stroke-width="0.5" opacity="0.67"/>
<circle cx="-4.2" cy="37.9" r="1.7" fill="#c6b8d0" stroke="#aea2b7" stroke-width="0.5" opacity="0.52"/>
<circle cx="3.5" cy="40.6" r="1.7" fill="#c6b8d0" stroke="#aea2b7" stroke-width="0.5" opacity="0.57"/>
<circle cx="10.5" cy="40.1" r="2.2" fill="#c6b8d0" stroke="#aea2b7" stroke-width="0.5" opacity="0.59"/>
<circle cx="29.4" cy="40.4" r="1.9" fill="#c6b8d0" stroke="#aea2b7" stroke-width="0.5" opacity="0.60"/>
<circle cx="44.8" cy="39.7" r="1.8" fill="#c6b8d0" stroke="#aea2b7" stroke-width="0.5" opacity="0.63"/>
<circle cx="55.4" cy="38.8" r="1.9" fill="#c6b8d0" stroke="#aea2b7" stroke-width="0.5" opacity="0.52"/>
<circle cx="63.5" cy="42.3" r="1.6" fill="#c6b8d0" stroke="#aea2b7" stroke-width="0.5" opacity="0.63"/>
<circle cx="-0.1" cy="46.4" r="2.0" fill="#c6b8d0" stroke="#aea2b7" stroke-width="0.5" opacity="0.66"/>
<circle cx="25.9" cy="47.6" r="1.6" fill="#c6b8d0" stroke="#aea2b7" stroke-width="0.5" opacity="0.64"/>
<circle cx="32.4" cy="48.3" r="1.7" fill="#c6b8d0" stroke="#aea2b7" stroke-width="0.5" opacity="0.59"/>
<circle cx="41.8" cy="47.7" r="2.1" fill="#c6b8d0" stroke="#aea2b7" stroke-width="0.5" opacity="0.61"/>
<circle cx="50.4" cy="47.9" r="2.0" fill="#c6b8d0" stroke="#aea2b7" stroke-width="0.5" opacity="0.62"/>
<circle cx="60.8" cy="46.4" r="2.2" fill="#c6b8d0" stroke="#aea2b7" stroke-width="0.5" opacity="0.68"/>
<circle cx="12.4" cy="54.1" r="2.2" fill="#c6b8d0" stroke="#aea2b7" stroke-width="0.5" opacity="0.57"/>
<circle cx="21.2" cy="54.5" r="1.7" fill="#c6b8d0" stroke="#aea2b7" stroke-width="0.5" opacity="0.59"/>
<circle cx="31.1" cy="54.2" r="1.8" fill="#c6b8d0" stroke="#aea2b7" stroke-width="0.5" opacity="0.59"/>
<circle cx="38.4" cy="54.3" r="1.6" fill="#c6b8d0" stroke="#aea2b7" stroke-width="0.5" opacity="0.53"/>
<circle cx="48.4" cy="54.2" r="2.0" fill="#c6b8d0" stroke="#aea2b7" stroke-width="0.5" opacity="0.68"/>
<circle cx="63.8" cy="54.3" r="1.9" fill="#c6b8d0" stroke="#aea2b7" stroke-width="0.5" opacity="0.53"/>
<circle cx="-0.4" cy="61.9" r="2.2" fill="#c6b8d0" stroke="#aea2b7" stroke-width="0.5" opacity="0.53"/>
<circle cx="9.2" cy="62.2" r="2.0" fill="#c6b8d0" stroke="#aea2b7" stroke-width="0.5" opacity="0.59"/>
<circle cx="18.1" cy="62.0" r="2.0" fill="#c6b8d0" stroke="#aea2b7" stroke-width="0.5" opacity="0.60"/>
<circle cx="26.0" cy="63.0" r="1.9" fill="#c6b8d0" stroke="#aea2b7" stroke-width="0.5" opacity="0.68"/>
<circle cx="42.1" cy="62.8" r="2.1" fill="#c6b8d0" stroke="#aea2b7" stroke-width="0.5" opacity="0.59"/>
<circle cx="2.3" cy="71.4" r="2.1" fill="#c6b8d0" stroke="#aea2b7" stroke-width="0.5" opacity="0.65"/>
<circle cx="20.4" cy="69.3" r="1.6" fill="#c6b8d0" stroke="#aea2b7" stroke-width="0.5" opacity="0.55"/>
<circle cx="46.3" cy="71.6" r="2.2" fill="#c6b8d0" stroke="#aea2b7" stroke-width="0.5" opacity="0.67"/>
<circle cx="53.9" cy="70.0" r="2.0" fill="#c6b8d0" stroke="#aea2b7" stroke-width="0.5" opacity="0.61"/>
<circle cx="65.1" cy="69.9" r="2.2" fill="#c6b8d0" stroke="#aea2b7" stroke-width="0.5" opacity="0.63"/>
<circle cx="9.6" cy="76.6" r="2.0" fill="#c6b8d0" stroke="#aea2b7" stroke-width="0.5" opacity="0.65"/>
<circle cx="16.1" cy="76.9" r="2.0" fill="#c6b8d0" stroke="#aea2b7" stroke-width="0.5" opacity="0.56"/>
<circle cx="25.8" cy="78.0" r="1.8" fill="#c6b8d0" stroke="#aea2b7" stroke-width="0.5" opacity="0.66"/>
<circle cx="42.1" cy="78.0" r="2.1" fill="#c6b8d0" stroke="#aea2b7" stroke-width="0.5" opacity="0.63"/>
<circle cx="50.9" cy="76.5" r="2.0" fill="#c6b8d0" stroke="#aea2b7" stroke-width="0.5" opacity="0.64"/>
<circle cx="58.9" cy="76.0" r="2.0" fill="#c6b8d0" stroke="#aea2b7" stroke-width="0.5" opacity="0.60"/>
<circle cx="-6.1" cy="83.7" r="2.1" fill="#c6b8d0" stroke="#aea2b7" stroke-width="0.5" opacity="0.69"/>
<circle cx="4.6" cy="83.9" r="2.2" fill="#c6b8d0" stroke="#aea2b7" stroke-width="0.5" opacity="0.69"/>
<circle cx="11.4" cy="85.8" r="1.8" fill="#c6b8d0" stroke="#aea2b7" stroke-width="0.5" opacity="0.54"/>
<circle cx="22.4" cy="83.5" r="2.1" fill="#c6b8d0" stroke="#aea2b7" stroke-width="0.5" opacity="0.61"/>
<circle cx="27.3" cy="83.5" r="2.3" fill="#c6b8d0" stroke="#aea2b7" stroke-width="0.5" opacity="0.62"/>
<circle cx="39.8" cy="85.0" r="1.9" fill="#c6b8d0" stroke="#aea2b7" stroke-width="0.5" opacity="0.54"/>
<circle cx="47.9" cy="84.7" r="1.9" fill="#c6b8d0" stroke="#aea2b7" stroke-width="0.5" opacity="0.50"/>
<circle cx="55.5" cy="85.8" r="2.2" fill="#c6b8d0" stroke="#aea2b7" stroke-width="0.5" opacity="0.54"/>
<circle cx="64.1" cy="84.9" r="1.9" fill="#c6b8d0" stroke="#aea2b7" stroke-width="0.5" opacity="0.56"/>
<circle cx="-1.0" cy="91.7" r="2.0" fill="#c6b8d0" stroke="#aea2b7" stroke-width="0.5" opacity="0.60"/>
<circle cx="16.9" cy="91.6" r="1.8" fill="#c6b8d0" stroke="#aea2b7" stroke-width="0.5" opacity="0.50"/>
<circle cx="27.2" cy="89.8" r="1.8" fill="#c6b8d0" stroke="#aea2b7" stroke-width="0.5" opacity="0.63"/>
<circle cx="33.2" cy="92.4" r="1.8" fill="#c6b8d0" stroke="#aea2b7" stroke-width="0.5" opacity="0.51"/>
<circle cx="42.0" cy="92.4" r="1.9" fill="#c6b8d0" stroke="#aea2b7" stroke-width="0.5" opacity="0.61"/>
<circle cx="-3.4" cy="97.4" r="1.8" fill="#c6b8d0" stroke="#aea2b7" stroke-width="0.5" opacity="0.57"/>
<circle cx="3.5" cy="99.8" r="2.1" fill="#c6b8d0" stroke="#aea2b7" stroke-width="0.5" opacity="0.51"/>
<circle cx="21.9" cy="99.1" r="1.7" fill="#c6b8d0" stroke="#aea2b7" stroke-width="0.5" opacity="0.59"/>
<circle cx="30.1" cy="99.8" r="2.2" fill="#c6b8d0" stroke="#aea2b7" stroke-width="0.5" opacity="0.63"/>
<circle cx="37.6" cy="98.2" r="2.2" fill="#c6b8d0" stroke="#aea2b7" stroke-width="0.5" opacity="0.61"/>
<circle cx="46.9" cy="98.1" r="1.9" fill="#c6b8d0" stroke="#aea2b7" stroke-width="0.5" opacity="0.56"/>
<circle cx="55.3" cy="98.7" r="2.3" fill="#c6b8d0" stroke="#aea2b7" stroke-width="0.5" opacity="0.66"/>
<circle cx="64.8" cy="99.4" r="1.6" fill="#c6b8d0" stroke="#aea2b7" stroke-width="0.5" opacity="0.62"/>
<circle cx="-1.7" cy="105.5" r="1.8" fill="#c6b8d0" stroke="#aea2b7" stroke-width="0.5" opacity="0.70"/>
<circle cx="9.6" cy="105.9" r="2.3" fill="#c6b8d0" stroke="#aea2b7" stroke-width="0.5" opacity="0.66"/>
<circle cx="16.6" cy="104.9" r="2.1" fill="#c6b8d0" stroke="#aea2b7" stroke-width="0.5" opacity="0.66"/>
<circle cx="26.4" cy="106.3" r="1.8" fill="#c6b8d0" stroke="#aea2b7" stroke-width="0.5" opacity="0.69"/>
<circle cx="43.4" cy="107.6" r="2.3" fill="#c6b8d0" stroke="#aea2b7" stroke-width="0.5" opacity="0.51"/>
<circle cx="60.1" cy="106.7" r="1.7" fill="#c6b8d0" stroke="#aea2b7" stroke-width="0.5" opacity="0.64"/>
<ellipse cx="48.1" cy="13.4" rx="1.1" ry="1.5" fill="#6a68cc" opacity="0.85"/>
<ellipse cx="12.6" cy="67.6" rx="1.4" ry="1.8" fill="#6a68cc" opacity="0.85"/>
<ellipse cx="25.0" cy="51.2" rx="1.4" ry="1.8" fill="#6a68cc" opacity="0.85"/>
<ellipse cx="41.9" cy="25.8" rx="1.1" ry="1.0" fill="#6a68cc" opacity="0.85"/>
<ellipse cx="41.8" cy="77.8" rx="1.0" ry="1.4" fill="#6a68cc" opacity="0.85"/>
<ellipse cx="28.2" cy="43.4" rx="1.1" ry="0.7" fill="#6a68cc" opacity="0.85"/>
<circle cx="5.1" cy="60.9" r="1.2" fill="#a8682e" opacity="0.8"/>
</g>
<path d="M53.3,82.5V101.5M51.5,82.5H53.3M51.5,85.5H53.3M51.5,88.5H53.3M51.5,91.5H53.3M51.5,94.5H53.3M51.5,97.5H53.3M51.5,100.5H53.3" stroke="#555" stroke-width="0.6" fill="none"/>
</svg>
<svg x="269.1" y="790.1" width="56.4" height="103.5" viewBox="0 0 56.4 103.5">
<rect width="56.4" height="103.5" fill="#eeedf2"/>
<g filter="url(#bl2)">
<ellipse cx="29.1" cy="24.8" rx="5.3" ry="6.6" fill="#e8e4e6" opacity="0.79"/>
<ellipse cx="35.1" cy="48.3" rx="9.1" ry="5.5" fill="#e8e4e6" opacity="0.68"/>
<ellipse cx="33.1" cy="10.6" rx="11.9" ry="8.5" fill="#e8e4e6" opacity="0.69"/>
<ellipse cx="14.0" cy="91.7" rx="8.0" ry="6.0" fill="#e8e4e6" opacity="0.71"/>
<ellipse cx="13.8" cy="95.3" rx="5.4" ry="5.7" fill="#e8e4e6" opacity="0.65"/>
<ellipse cx="20.1" cy="43.7" rx="5.3" ry="9.8" fill="#e8e4e6" opacity="0.72"/>
<ellipse cx="49.0" cy="18.2" rx="9.7" ry="6.7" fill="#e8e4e6" opacity="0.44"/>
<ellipse cx="11.6" cy="53.8" rx="5.5" ry="4.4" fill="#e8e4e6" opacity="0.69"/>
<ellipse cx="42.1" cy="89.6" rx="12.1" ry="4.7" fill="#e8e4e6" opacity="0.49"/>
<ellipse cx="52.4" cy="61.4" rx="8.6" ry="8.1" fill="#e8e4e6" opacity="0.73"/>
<ellipse cx="55.8" cy="65.0" rx="10.3" ry="4.1" fill="#e8e4e6" opacity="0.69"/>
<ellipse cx="16.3" cy="7.6" rx="9.7" ry="6.2" fill="#e8e4e6" opacity="0.66"/>
<ellipse cx="5.3" cy="45.7" rx="9.4" ry="4.1" fill="#e8e4e6" opacity="0.54"/>
<ellipse cx="31.3" cy="18.0" rx="9.2" ry="7.9" fill="#e8e4e6" opacity="0.42"/>
<ellipse cx="9.5" cy="58.2" rx="8.4" ry="8.4" fill="#e8e4e6" opacity="0.50"/>
<ellipse cx="0.9" cy="60.4" rx="5.3" ry="8.6" fill="#e8e4e6" opacity="0.45"/>
<polyline fill="none" stroke="#f7f7f9" stroke-width="3.4" stroke-linecap="round" stroke-linejoin="round" opacity="0.85" points="23.4,42.9 27.0,40.4 33.5,41.1 35.7,39.9 38.7,36.0 42.4,37.1"/>
<polyline fill="none" stroke="#f7f7f9" stroke-width="2.8" stroke-linecap="round" stroke-linejoin="round" opacity="0.85" points="11.8,70.9 16.5,74.3 23.5,80.9 28.2,79.7 29.3,85.1 33.5,88.7"/>
</g>
<rect width="56.4" height="103.5" filter="url(#grain)" opacity="0.04"/>
<g filter="url(#bl)">
<path d="M0.0,0.6L-5.0,0.9L-8.8,-2.6L-6.2,-6.9L-2.6,-7.8L0.4,-5.6ZM11.3,-2.5L6.6,1.9L1.9,-0.8L1.4,-4.3L3.3,-8.1L8.3,-8.0ZM18.3,-3.8L15.3,0.9L11.1,-0.4L8.9,-3.7L11.6,-8.9L16.2,-8.5ZM24.2,-2.1L20.6,-0.6L15.8,-5.3L18.0,-9.7L22.5,-9.8L24.8,-7.9ZM33.1,-0.1L28.1,-0.4L25.7,-4.4L29.2,-8.2L32.9,-8.0L35.1,-3.9ZM45.2,-3.0L42.7,1.5L38.7,0.8L37.0,-4.6L39.0,-7.9L44.8,-6.7ZM53.9,-1.6L52.1,-0.1L46.5,-0.8L44.7,-3.8L48.2,-8.1L54.1,-6.4ZM62.0,-4.9L59.7,0.1L55.0,-0.2L53.0,-3.1L56.1,-8.7L59.2,-8.7ZM4.2,5.4L0.7,7.6L-4.4,4.7L-3.8,0.5L-0.1,-2.5L5.3,0.8ZM13.3,6.3L9.7,9.0L4.1,6.1L4.0,2.9L8.7,-0.3L12.3,0.8ZM23.2,5.1L19.3,7.6L14.9,4.4L15.0,0.3L19.0,-2.2L21.8,0.0ZM28.3,6.4L25.4,7.7L21.0,2.6L23.6,-2.3L27.0,-2.6L30.5,1.7ZM38.3,9.1L35.3,9.8L31.6,4.3L33.2,0.1L38.4,-0.0L40.1,2.7ZM50.1,5.8L46.2,7.9L41.7,5.1L41.5,1.2L45.9,-0.7L48.7,-0.1ZM56.9,7.4L53.4,8.0L50.1,5.1L50.3,0.1L55.5,-1.6L59.2,2.9ZM67.0,5.2L63.1,7.9L59.0,6.7L58.1,2.9L62.1,-1.7L65.3,0.0ZM-1.2,12.5L-3.2,15.4L-8.7,14.5L-9.4,9.7L-5.4,6.9L-2.0,8.2ZM9.6,14.7L3.9,16.5L1.0,15.0L1.3,9.7L4.8,7.8L8.8,9.8ZM18.2,13.0L14.8,14.1L10.6,12.3L10.1,8.1L15.5,5.4L18.8,7.5ZM26.3,12.8L23.6,14.8L18.3,12.9L17.9,9.5L21.0,5.8L26.3,7.7ZM35.0,14.5L29.9,16.8L26.4,14.5L26.3,9.6L30.0,6.9L33.7,8.8ZM44.0,13.6L40.8,16.9L35.7,15.8L34.5,11.3L37.9,7.5L42.1,9.1ZM53.0,14.2L48.3,15.6L45.9,10.2L47.2,7.2L51.9,5.8L54.3,10.3ZM63.7,14.6L60.0,17.6L55.5,14.6L54.7,11.6L60.1,8.3L63.5,9.3ZM3.9,21.1L-1.7,23.6L-4.1,22.0L-4.3,18.0L0.1,14.9L4.6,18.0ZM14.3,21.3L11.3,23.5L6.1,21.4L4.9,18.1L10.0,14.0L14.6,17.8ZM20.1,21.3L15.2,22.9L11.2,18.6L13.5,14.3L18.0,12.8L21.5,16.1ZM30.8,19.6L27.6,22.8L22.6,20.9L21.8,16.5L25.3,13.1L29.8,15.3ZM38.9,21.1L33.2,22.1L31.4,19.4L33.0,13.4L37.6,13.3L39.8,16.7ZM49.3,21.7L46.7,24.6L40.9,22.5L41.0,18.7L43.2,16.1L48.1,16.6ZM58.6,20.3L55.3,23.5L50.8,21.9L50.4,16.4L54.6,14.1L57.5,15.1ZM68.1,18.9L64.5,22.9L58.6,20.8L58.4,17.5L61.3,13.3L66.6,16.2ZM-1.5,29.4L-6.0,30.7L-9.4,27.0L-8.9,23.3L-3.0,22.0L-0.4,23.9ZM10.0,27.0L7.6,30.0L3.3,28.8L2.1,22.6L4.1,20.4L10.2,22.6ZM18.3,28.9L14.1,30.5L11.1,29.6L10.7,24.4L15.4,21.4L17.9,22.3ZM27.3,28.6L24.5,31.6L18.7,29.6L17.7,26.2L22.6,22.6L26.5,23.5ZM35.5,30.4L32.9,33.2L27.7,30.1L27.9,25.9L30.5,22.8L35.4,24.8ZM43.6,25.7L41.3,30.0L36.9,31.2L35.0,26.6L38.0,21.7L41.0,21.5ZM52.6,28.9L47.8,30.9L44.8,27.7L47.2,22.2L50.1,20.8L53.4,23.3ZM63.2,27.5L59.1,31.9L56.6,31.6L53.2,27.1L57.8,22.2L61.4,23.4ZM3.4,35.1L0.4,38.3L-3.9,36.6L-6.0,32.6L-2.6,28.8L2.4,30.5ZM14.0,36.6L9.4,39.6L6.3,38.5L5.4,32.5L8.3,30.6L12.8,32.2ZM22.5,37.6L19.4,40.5L15.1,38.7L15.0,33.6L17.1,31.3L22.2,32.3ZM32.5,36.0L30.2,39.4L25.3,39.1L23.1,34.6L25.7,31.3L31.0,31.3ZM40.7,36.8L37.6,39.2L33.0,35.7L31.9,33.0L35.8,28.7L42.0,31.4ZM47.5,39.6L44.2,40.4L40.5,37.5L41.9,32.0L46.1,31.9L50.7,35.6ZM60.6,35.8L55.1,40.1L50.8,37.8L51.4,33.5L55.7,30.8L59.3,32.7ZM67.2,36.0L64.2,37.7L59.4,36.9L57.8,31.9L61.4,29.1L66.5,30.4ZM0.6,43.6L-3.7,46.1L-8.1,43.9L-8.2,38.7L-4.3,37.0L-1.0,38.1ZM9.8,42.2L6.4,46.0L1.0,44.8L0.2,40.5L2.3,36.9L5.9,37.2ZM19.2,44.2L15.0,48.5L11.1,46.8L9.5,42.6L13.0,37.8L17.5,40.5ZM24.6,46.7L21.1,46.3L17.8,43.1L21.0,38.1L25.3,38.8L27.2,40.9ZM35.2,45.8L31.5,48.7L27.7,46.2L27.4,40.5L31.2,38.1L35.5,40.1ZM46.6,41.2L43.1,46.1L37.8,44.5L37.2,40.5L39.6,37.2L44.0,38.3ZM54.1,42.1L51.5,45.0L46.0,44.8L44.7,42.2L47.2,37.4L51.0,38.0ZM64.0,44.5L59.9,47.7L56.0,46.8L55.2,41.1L58.8,38.7L63.9,40.7ZM3.5,55.1L-2.0,55.8L-4.1,52.3L-3.5,47.9L1.2,45.9L5.2,50.1ZM12.4,53.2L6.9,54.3L3.8,50.5L5.9,45.1L12.0,45.6L12.9,49.5ZM21.7,52.5L18.9,55.2L13.9,53.0L13.2,50.2L15.8,46.4L20.1,47.0ZM31.9,51.0L28.3,53.7L23.5,52.6L23.1,48.0L26.3,45.6L30.2,45.4ZM39.2,53.7L35.1,54.4L33.4,50.1L33.8,46.5L39.5,45.7L42.3,48.5ZM49.2,54.9L46.5,55.6L40.8,53.0L41.3,50.1L45.9,46.4L49.7,49.5ZM59.3,50.8L55.7,55.0L52.5,54.5L51.1,48.6L52.3,46.7L57.5,45.8ZM67.8,52.8L64.3,56.6L59.8,55.3L57.2,51.5L59.9,47.3L64.8,47.6ZM-0.7,61.7L-5.8,63.9L-8.4,61.6L-8.5,57.0L-4.4,54.1L0.1,56.5ZM9.3,58.3L6.2,61.5L0.4,61.5L-1.0,57.2L2.5,53.3L6.5,54.3ZM17.4,58.8L13.4,63.2L9.9,63.0L7.6,56.8L10.5,54.2L14.9,55.0ZM27.4,61.0L25.8,63.6L21.0,63.5L19.0,57.2L21.7,54.1L27.4,55.8ZM35.4,58.0L32.6,61.3L28.2,60.5L26.5,55.4L29.5,52.5L35.1,54.2ZM43.2,61.8L38.6,63.6L34.9,61.7L35.9,57.2L38.4,54.9L43.2,56.8ZM51.4,60.6L47.4,62.8L43.0,58.8L44.8,54.2L49.5,53.8L52.7,56.7ZM64.1,59.9L60.4,63.7L55.0,60.5L55.5,57.2L58.7,54.3L62.7,56.0ZM3.6,68.9L-2.1,69.8L-5.5,65.7L-2.6,60.9L1.4,61.4L4.9,65.0ZM15.4,66.5L10.7,71.4L7.0,69.3L4.5,65.7L7.4,62.2L13.2,62.4ZM21.5,66.2L19.1,69.8L14.5,70.2L12.3,66.6L14.0,61.5L19.4,61.6ZM32.2,67.3L28.3,69.4L23.6,67.0L23.4,63.6L28.2,59.9L31.6,62.9ZM39.5,69.9L34.8,71.4L31.4,68.3L33.0,63.4L37.7,61.7L41.0,64.8ZM46.7,69.8L42.5,71.1L39.0,67.1L40.4,63.1L45.9,61.5L49.5,65.7ZM58.3,67.6L53.9,69.0L49.8,67.8L50.4,62.4L54.4,59.7L58.3,62.4ZM68.5,67.4L64.8,70.8L60.4,70.3L57.8,65.3L62.9,61.7L66.0,62.2ZM0.5,74.2L-3.8,77.7L-7.5,77.7L-9.3,72.7L-5.1,69.0L-2.0,70.4ZM8.0,76.9L4.4,78.4L-0.3,76.3L-0.5,73.1L4.1,69.3L7.4,71.2ZM16.5,73.4L13.8,78.2L9.2,77.4L8.0,72.5L11.1,69.6L14.1,70.0ZM23.9,76.6L20.6,77.1L16.8,74.2L16.1,71.2L21.1,68.1L25.7,70.3ZM36.4,77.3L32.4,78.5L28.0,76.7L28.8,72.4L32.7,70.4L38.2,73.6ZM43.9,74.0L41.9,79.0L36.6,76.9L35.3,73.6L37.7,70.1L42.4,69.9ZM53.7,75.1L49.6,79.3L45.4,77.8L43.9,74.0L46.3,70.3L51.1,70.9ZM62.5,73.8L60.3,78.3L54.8,77.4L52.7,73.6L57.1,69.1L61.4,70.2ZM3.3,84.9L0.4,87.9L-4.9,84.9L-5.2,80.2L-1.1,78.4L2.8,80.1ZM12.2,86.4L8.1,87.8L5.0,84.6L5.5,79.8L11.6,79.0L14.3,82.5ZM22.4,86.0L17.1,86.5L14.3,83.3L15.5,78.7L20.4,78.0L23.5,81.6ZM30.0,85.0L24.2,85.5L22.0,83.6L23.0,77.9L29.2,77.6L30.9,81.5ZM40.4,81.0L36.5,85.2L32.1,84.3L30.7,79.4L32.5,75.9L38.6,77.4ZM48.5,85.7L43.3,86.1L40.6,83.9L40.7,78.9L46.9,77.8L49.6,81.5ZM58.7,80.5L56.1,84.3L51.1,84.8L49.2,80.4L50.6,77.2L55.6,75.8ZM67.2,81.3L63.7,85.2L60.4,85.0L57.9,80.0L62.3,76.2L65.7,76.8ZM-1.6,92.3L-7.7,92.6L-9.8,90.0L-7.3,83.9L-2.8,84.9L-0.1,87.8ZM8.3,91.2L3.6,92.8L0.1,89.1L2.1,84.4L6.2,82.6L9.2,85.7ZM17.7,93.0L13.5,95.0L9.7,93.9L10.2,88.0L12.6,86.9L18.4,89.0ZM28.2,92.4L23.2,95.4L18.8,92.9L20.0,87.1L22.8,85.8L27.5,88.4ZM33.5,92.1L29.5,93.9L26.3,91.3L25.7,86.7L30.9,85.2L34.4,86.7ZM45.2,90.5L41.2,94.2L37.6,92.8L35.9,87.8L38.3,85.7L42.9,85.7ZM54.1,88.4L50.3,93.4L45.6,91.4L45.4,86.4L48.5,82.8L53.0,85.2ZM63.4,89.6L59.7,92.9L55.0,90.7L54.6,86.4L58.7,84.3L63.5,85.6ZM4.3,97.6L1.8,103.0L-2.4,102.9L-4.2,99.0L-3.6,95.5L2.4,95.1ZM12.5,100.8L7.6,101.3L4.3,97.6L6.3,93.8L12.6,93.7L13.6,96.2ZM22.4,99.8L18.4,102.0L13.7,98.9L14.4,95.3L18.9,93.1L21.4,93.6ZM31.0,100.2L27.7,102.4L24.4,101.3L23.0,95.5L26.8,93.2L30.5,94.5ZM39.2,98.7L33.7,101.9L30.4,100.3L30.4,94.2L34.6,92.3L38.9,95.3ZM47.6,100.0L43.3,102.4L40.2,98.9L41.3,92.7L45.2,92.7L49.4,96.8ZM58.8,98.0L54.0,101.9L50.8,100.6L49.4,96.0L51.2,93.0L55.9,92.6ZM66.5,98.0L63.8,103.3L58.5,102.0L56.7,97.3L60.3,94.2L65.0,94.7ZM-1.5,110.2L-5.8,110.4L-9.6,106.3L-7.7,102.6L-2.4,102.0L-0.3,106.8ZM6.0,110.4L2.5,111.6L-2.0,107.6L0.5,102.9L4.9,101.8L7.4,104.9ZM16.8,108.2L13.3,108.7L10.2,103.6L11.0,100.6L16.9,99.4L19.4,103.3ZM26.5,108.3L21.3,110.0L17.9,105.5L18.8,102.2L23.4,100.2L26.1,102.7ZM33.2,107.9L28.7,108.3L26.0,105.3L26.3,101.0L32.5,100.8L35.3,104.2ZM44.1,103.9L41.6,109.3L36.4,107.9L35.3,104.6L36.8,101.2L42.0,100.0ZM53.2,106.8L50.3,110.9L45.1,109.5L44.5,105.4L47.5,101.6L50.7,101.9ZM60.9,108.5L56.1,109.8L53.2,105.0L54.2,102.1L58.1,100.2L63.2,104.4Z" fill="none" stroke="#d4c2b6" stroke-width="0.5" opacity="0.6"/>
<circle cx="-3.3" cy="-3.2" r="1.6" fill="#9698de" opacity="0.80"/>
<circle cx="40.4" cy="-3.5" r="1.7" fill="#9698de" opacity="0.83"/>
<circle cx="49.5" cy="-3.2" r="1.7" fill="#9698de" opacity="0.88"/>
<circle cx="0.9" cy="2.0" r="1.6" fill="#9698de" opacity="0.85"/>
<circle cx="9.3" cy="4.8" r="1.6" fill="#9698de" opacity="0.74"/>
<circle cx="18.2" cy="3.5" r="1.6" fill="#9698de" opacity="0.78"/>
<circle cx="25.6" cy="2.6" r="1.8" fill="#9698de" opacity="0.88"/>
<circle cx="36.2" cy="3.9" r="1.8" fill="#9698de" opacity="0.78"/>
<circle cx="44.9" cy="2.7" r="1.9" fill="#9698de" opacity="0.82"/>
<circle cx="53.3" cy="2.6" r="1.6" fill="#9698de" opacity="0.84"/>
<circle cx="61.9" cy="2.4" r="1.6" fill="#9698de" opacity="0.87"/>
<circle cx="-5.1" cy="11.1" r="1.6" fill="#9698de" opacity="0.83"/>
<circle cx="5.0" cy="12.2" r="1.5" fill="#9698de" opacity="0.87"/>
<circle cx="14.6" cy="9.5" r="1.9" fill="#9698de" opacity="0.86"/>
<circle cx="21.7" cy="11.1" r="1.6" fill="#9698de" opacity="0.80"/>
<circle cx="31.2" cy="13.0" r="2.0" fill="#9698de" opacity="0.82"/>
<circle cx="40.1" cy="13.1" r="2.0" fill="#9698de" opacity="0.87"/>
<circle cx="50.2" cy="10.4" r="1.6" fill="#9698de" opacity="0.85"/>
<circle cx="59.1" cy="11.9" r="1.7" fill="#9698de" opacity="0.83"/>
<circle cx="-1.2" cy="18.8" r="1.8" fill="#9698de" opacity="0.78"/>
<circle cx="10.3" cy="19.4" r="1.5" fill="#9698de" opacity="0.79"/>
<circle cx="25.6" cy="19.0" r="1.7" fill="#9698de" opacity="0.81"/>
<circle cx="36.3" cy="17.2" r="1.8" fill="#9698de" opacity="0.73"/>
<circle cx="44.4" cy="19.4" r="1.6" fill="#9698de" opacity="0.75"/>
<circle cx="54.7" cy="18.4" r="1.9" fill="#9698de" opacity="0.88"/>
<circle cx="63.6" cy="17.6" r="1.8" fill="#9698de" opacity="0.79"/>
<circle cx="5.8" cy="24.7" r="1.8" fill="#9698de" opacity="0.81"/>
<circle cx="23.8" cy="26.9" r="1.6" fill="#9698de" opacity="0.75"/>
<circle cx="38.7" cy="27.2" r="1.6" fill="#9698de" opacity="0.76"/>
<circle cx="49.3" cy="24.9" r="1.7" fill="#9698de" opacity="0.80"/>
<circle cx="58.7" cy="27.3" r="1.7" fill="#9698de" opacity="0.88"/>
<circle cx="-1.7" cy="33.3" r="1.8" fill="#9698de" opacity="0.87"/>
<circle cx="8.3" cy="34.8" r="2.0" fill="#9698de" opacity="0.84"/>
<circle cx="27.1" cy="34.6" r="1.9" fill="#9698de" opacity="0.78"/>
<circle cx="36.7" cy="32.8" r="1.9" fill="#9698de" opacity="0.87"/>
<circle cx="45.3" cy="35.4" r="1.7" fill="#9698de" opacity="0.89"/>
<circle cx="62.2" cy="33.8" r="1.6" fill="#9698de" opacity="0.83"/>
<circle cx="-3.9" cy="42.4" r="1.9" fill="#9698de" opacity="0.87"/>
<circle cx="4.2" cy="42.1" r="1.5" fill="#9698de" opacity="0.79"/>
<circle cx="14.7" cy="43.2" r="1.7" fill="#9698de" opacity="0.74"/>
<circle cx="22.4" cy="43.0" r="1.8" fill="#9698de" opacity="0.74"/>
<circle cx="32.0" cy="43.6" r="1.9" fill="#9698de" opacity="0.86"/>
<circle cx="49.1" cy="41.4" r="1.8" fill="#9698de" opacity="0.89"/>
<circle cx="59.7" cy="42.9" r="1.7" fill="#9698de" opacity="0.78"/>
<circle cx="-0.3" cy="51.0" r="1.9" fill="#9698de" opacity="0.70"/>
<circle cx="9.3" cy="50.0" r="1.6" fill="#9698de" opacity="0.85"/>
<circle cx="18.6" cy="50.7" r="1.7" fill="#9698de" opacity="0.82"/>
<circle cx="27.1" cy="50.3" r="1.8" fill="#9698de" opacity="0.78"/>
<circle cx="37.6" cy="48.7" r="1.6" fill="#9698de" opacity="0.73"/>
<circle cx="44.9" cy="50.5" r="1.8" fill="#9698de" opacity="0.82"/>
<circle cx="55.7" cy="50.4" r="1.8" fill="#9698de" opacity="0.89"/>
<circle cx="62.9" cy="50.9" r="1.7" fill="#9698de" opacity="0.71"/>
<circle cx="-3.7" cy="59.5" r="1.6" fill="#9698de" opacity="0.86"/>
<circle cx="4.3" cy="58.0" r="1.9" fill="#9698de" opacity="0.76"/>
<circle cx="11.5" cy="58.7" r="1.5" fill="#9698de" opacity="0.79"/>
<circle cx="24.1" cy="59.6" r="1.7" fill="#9698de" opacity="0.78"/>
<circle cx="48.0" cy="58.7" r="1.8" fill="#9698de" opacity="0.88"/>
<circle cx="-1.4" cy="66.2" r="1.8" fill="#9698de" opacity="0.77"/>
<circle cx="9.7" cy="67.0" r="1.9" fill="#9698de" opacity="0.83"/>
<circle cx="16.0" cy="66.2" r="2.0" fill="#9698de" opacity="0.71"/>
<circle cx="54.1" cy="64.0" r="1.8" fill="#9698de" opacity="0.83"/>
<circle cx="-5.4" cy="74.6" r="2.0" fill="#9698de" opacity="0.82"/>
<circle cx="13.1" cy="74.2" r="1.9" fill="#9698de" opacity="0.73"/>
<circle cx="20.8" cy="72.5" r="1.6" fill="#9698de" opacity="0.89"/>
<circle cx="40.4" cy="74.5" r="1.5" fill="#9698de" opacity="0.73"/>
<circle cx="49.3" cy="73.8" r="2.0" fill="#9698de" opacity="0.73"/>
<circle cx="58.5" cy="74.6" r="1.7" fill="#9698de" opacity="0.88"/>
<circle cx="-0.0" cy="83.4" r="1.9" fill="#9698de" opacity="0.84"/>
<circle cx="27.2" cy="82.7" r="1.9" fill="#9698de" opacity="0.72"/>
<circle cx="35.6" cy="80.8" r="1.8" fill="#9698de" opacity="0.88"/>
<circle cx="44.5" cy="83.0" r="2.0" fill="#9698de" opacity="0.83"/>
<circle cx="54.3" cy="80.9" r="1.9" fill="#9698de" opacity="0.86"/>
<circle cx="61.8" cy="80.4" r="1.6" fill="#9698de" opacity="0.74"/>
<circle cx="-5.3" cy="88.0" r="1.6" fill="#9698de" opacity="0.84"/>
<circle cx="14.0" cy="90.9" r="1.9" fill="#9698de" opacity="0.78"/>
<circle cx="23.8" cy="90.3" r="1.9" fill="#9698de" opacity="0.84"/>
<circle cx="29.8" cy="89.4" r="1.7" fill="#9698de" opacity="0.80"/>
<circle cx="39.4" cy="89.7" r="1.6" fill="#9698de" opacity="0.79"/>
<circle cx="0.0" cy="99.2" r="2.0" fill="#9698de" opacity="0.82"/>
<circle cx="9.1" cy="97.9" r="1.9" fill="#9698de" opacity="0.84"/>
<circle cx="27.8" cy="97.3" r="1.8" fill="#9698de" opacity="0.78"/>
<circle cx="61.9" cy="97.5" r="1.8" fill="#9698de" opacity="0.84"/>
<circle cx="-4.4" cy="106.5" r="1.7" fill="#9698de" opacity="0.86"/>
<circle cx="2.4" cy="106.0" r="1.8" fill="#9698de" opacity="0.79"/>
<circle cx="14.6" cy="104.8" r="1.9" fill="#9698de" opacity="0.85"/>
<circle cx="22.0" cy="105.5" r="1.7" fill="#9698de" opacity="0.72"/>
<circle cx="39.8" cy="105.2" r="1.6" fill="#9698de" opacity="0.84"/>
<circle cx="48.2" cy="106.7" r="1.7" fill="#9698de" opacity="0.83"/>
<circle cx="58.5" cy="104.7" r="1.7" fill="#9698de" opacity="0.79"/>
</g>
<path d="M53.6,82.5V101.5M51.8,82.5H53.6M51.8,85.5H53.6M51.8,88.5H53.6M51.8,91.5H53.6M51.8,94.5H53.6M51.8,97.5H53.6M51.8,100.5H53.6" stroke="#555" stroke-width="0.6" fill="none"/>
</svg>
<svg x="327.5" y="790.1" width="56.4" height="103.5" viewBox="0 0 56.4 103.5">
<rect width="56.4" height="103.5" fill="#decec2"/>
<g filter="url(#bl2)">
<ellipse cx="5.9" cy="31.1" rx="12.5" ry="6.9" fill="#d0b8a6" opacity="0.69"/>
<ellipse cx="42.9" cy="41.6" rx="8.5" ry="8.0" fill="#d0b8a6" opacity="0.52"/>
<ellipse cx="41.4" cy="64.5" rx="5.1" ry="9.4" fill="#d0b8a6" opacity="0.44"/>
<ellipse cx="23.3" cy="51.3" rx="8.3" ry="6.0" fill="#d0b8a6" opacity="0.66"/>
<ellipse cx="13.0" cy="24.0" rx="5.4" ry="7.7" fill="#d0b8a6" opacity="0.77"/>
<ellipse cx="33.3" cy="7.0" rx="8.4" ry="7.6" fill="#d0b8a6" opacity="0.74"/>
<ellipse cx="32.9" cy="35.3" rx="6.6" ry="9.7" fill="#d0b8a6" opacity="0.44"/>
<ellipse cx="10.2" cy="54.5" rx="9.2" ry="6.3" fill="#d0b8a6" opacity="0.40"/>
<ellipse cx="12.5" cy="25.6" rx="11.4" ry="8.6" fill="#d0b8a6" opacity="0.77"/>
<ellipse cx="3.6" cy="21.2" rx="8.8" ry="7.4" fill="#d0b8a6" opacity="0.64"/>
<ellipse cx="7.2" cy="91.2" rx="9.2" ry="4.2" fill="#d0b8a6" opacity="0.69"/>
<ellipse cx="24.5" cy="82.7" rx="12.9" ry="6.0" fill="#d0b8a6" opacity="0.46"/>
<ellipse cx="36.4" cy="78.0" rx="8.4" ry="7.7" fill="#d0b8a6" opacity="0.47"/>
<ellipse cx="49.8" cy="18.5" rx="11.1" ry="4.1" fill="#d0b8a6" opacity="0.53"/>
<ellipse cx="37.4" cy="21.1" rx="12.8" ry="5.1" fill="#d0b8a6" opacity="0.42"/>
<ellipse cx="50.2" cy="17.1" rx="10.3" ry="7.5" fill="#d0b8a6" opacity="0.53"/>
<polyline fill="none" stroke="#ece4e0" stroke-width="3.8" stroke-linecap="round" stroke-linejoin="round" opacity="0.85" points="20.9,51.0 28.7,45.7 31.2,43.1 38.5,43.2 44.5,38.5 49.6,37.4"/>
<polyline fill="none" stroke="#ece4e0" stroke-width="3.4" stroke-linecap="round" stroke-linejoin="round" opacity="0.85" points="26.8,7.1 29.5,12.4 34.7,15.8 41.8,22.9 44.9,25.9 52.0,30.6"/>
</g>
<rect width="56.4" height="103.5" filter="url(#grain)" opacity="0.3"/>
<g filter="url(#bl)">
<path d="M0.7,-2.7L-1.1,0.3L-4.2,-0.3L-6.8,-2.9L-3.5,-6.7L0.1,-5.7ZM5.1,1.7L1.4,1.1L0.3,-1.8L1.5,-5.1L4.3,-5.3L7.5,-2.2ZM13.8,-2.5L11.3,-1.0L8.7,-1.4L7.0,-4.2L9.4,-7.4L14.0,-6.3ZM21.6,0.1L18.0,0.8L14.7,-1.6L16.0,-4.8L18.6,-6.0L22.5,-3.6ZM29.4,-1.8L27.2,1.0L22.5,-0.0L21.5,-2.9L24.4,-5.9L26.9,-6.3ZM34.1,-0.2L30.5,1.2L27.8,-1.3L28.4,-5.3L32.4,-6.2L34.5,-2.9ZM40.9,-0.1L38.3,1.0L34.3,-0.8L35.4,-4.5L37.5,-5.8L40.4,-4.8ZM50.3,-1.5L48.1,1.4L44.2,0.2L43.2,-3.9L46.0,-5.9L49.5,-5.4ZM56.4,-2.1L52.1,1.5L49.9,0.8L48.8,-3.4L52.0,-6.0L55.9,-4.3ZM62.1,0.7L58.0,0.1L56.1,-2.1L57.9,-6.0L60.9,-6.3L63.9,-3.6ZM2.3,5.3L-2.1,5.4L-4.0,1.5L-2.3,-1.7L0.9,-1.1L2.9,1.5ZM11.7,1.2L9.4,4.9L6.1,3.7L4.4,0.6L7.5,-2.0L11.6,-1.2ZM17.9,2.4L16.5,5.2L12.0,4.6L11.0,0.7L13.4,-1.6L16.9,-1.3ZM24.8,3.4L21.4,5.3L18.6,2.3L19.4,-2.0L23.4,-1.8L25.5,0.6ZM29.3,6.5L25.2,6.4L23.4,4.6L24.6,0.5L28.8,0.6L30.1,2.2ZM40.2,2.9L37.0,6.0L33.3,4.6L32.8,0.9L36.5,-1.7L39.1,-0.3ZM45.2,7.2L41.4,8.2L38.6,4.8L39.2,2.2L42.2,0.5L46.5,3.1ZM50.4,6.7L47.0,6.7L44.3,4.4L45.2,1.1L48.0,-0.6L51.4,2.0ZM59.5,4.7L56.4,6.3L53.2,3.2L53.3,1.1L57.9,-1.0L60.0,2.2ZM66.4,2.7L65.5,6.1L61.1,6.2L59.6,3.9L60.7,0.4L64.1,0.2ZM0.0,10.1L-2.6,12.5L-6.3,11.8L-6.3,7.4L-5.1,5.9L-1.1,6.2ZM7.2,11.8L3.3,13.8L1.2,10.5L2.2,7.1L4.9,6.4L7.8,9.0ZM13.8,11.9L9.7,12.4L8.0,8.5L9.5,6.2L13.1,5.9L15.5,8.1ZM20.8,11.0L16.5,12.0L14.9,11.0L15.3,6.3L18.4,5.1L20.8,7.4ZM26.9,9.5L24.6,11.2L20.6,10.1L19.5,8.0L22.2,4.8L26.2,5.1ZM35.2,9.3L32.3,12.4L29.4,11.6L27.9,8.1L30.7,5.8L34.7,7.0ZM41.2,8.3L38.4,11.3L35.6,11.3L34.1,8.0L35.9,4.8L40.0,5.5ZM48.1,12.9L46.0,14.0L42.2,11.3L42.8,7.4L45.2,6.6L49.4,8.3ZM54.8,10.3L51.6,12.7L48.1,9.3L49.1,5.5L52.3,5.1L55.7,7.1ZM62.8,11.6L60.6,13.3L57.6,12.6L56.7,7.6L59.1,5.7L62.9,7.5ZM2.9,17.3L-0.5,18.4L-3.6,14.8L-1.6,11.3L2.2,12.0L4.3,13.8ZM11.2,16.3L8.8,18.9L6.4,18.5L4.0,15.2L5.6,11.7L10.4,13.1ZM18.0,17.0L15.6,19.8L11.5,17.4L11.7,14.1L14.4,11.9L18.5,13.9ZM23.9,14.6L22.0,16.4L18.0,16.9L16.1,13.4L19.8,9.7L23.3,10.9ZM30.3,17.1L27.4,19.1L23.5,16.5L24.0,14.1L27.0,12.3L30.6,13.8ZM39.6,16.8L36.1,18.1L33.9,17.6L32.8,13.0L36.2,10.3L39.2,12.3ZM46.6,17.7L43.2,19.6L40.9,18.1L39.9,13.9L43.3,12.0L46.9,14.0ZM53.9,17.1L50.1,20.1L46.6,17.7L46.9,14.6L50.4,11.9L52.2,13.6ZM60.5,18.0L58.6,19.4L53.4,18.1L54.0,14.9L56.2,13.0L58.8,13.1ZM65.7,16.0L64.3,18.0L59.5,17.9L57.7,15.5L60.8,11.4L63.2,12.0ZM-1.6,23.4L-5.0,24.4L-6.9,20.7L-6.3,18.4L-1.8,16.9L-0.0,20.0ZM7.2,24.5L2.9,25.8L0.8,23.4L1.2,20.1L4.4,18.9L7.4,20.8ZM13.1,23.5L9.2,25.3L5.6,21.5L7.7,18.0L11.0,17.5L13.3,19.2ZM21.7,22.3L17.7,23.3L15.5,20.5L16.8,17.4L20.2,16.0L23.2,19.3ZM28.7,23.0L25.3,25.8L21.5,23.0L22.1,20.5L24.9,18.2L29.0,20.6ZM32.4,25.4L29.0,25.0L27.1,21.2L28.4,18.6L33.0,18.7L35.0,21.8ZM39.9,23.1L37.0,24.0L32.9,20.7L34.6,17.3L38.2,16.3L40.6,19.3ZM48.4,19.9L45.7,23.6L42.8,22.4L41.0,18.4L42.7,16.3L47.6,17.1ZM56.5,20.9L53.0,24.4L50.2,23.8L48.8,18.9L51.3,17.1L54.5,17.3ZM61.2,24.3L58.0,24.9L55.4,23.5L55.7,18.7L59.4,18.3L61.3,19.1ZM4.1,27.4L0.5,29.0L-2.5,27.4L-2.3,24.3L1.1,22.1L4.5,23.3ZM11.2,26.3L9.6,28.6L6.0,28.7L4.0,25.6L5.4,22.7L10.3,22.5ZM17.2,29.5L14.0,31.5L10.5,29.9L10.3,26.6L13.7,24.1L16.5,25.9ZM25.0,27.1L22.9,30.4L19.6,30.6L17.7,26.2L20.3,23.8L22.5,23.9ZM31.4,30.2L28.0,30.9L26.0,26.6L27.6,23.4L30.4,24.0L33.3,26.8ZM38.8,28.5L36.1,30.2L32.9,28.1L32.5,24.5L34.9,22.9L38.5,24.1ZM44.0,28.7L39.8,29.7L37.3,26.2L37.8,23.1L42.1,22.4L44.6,24.2ZM53.4,26.7L51.1,29.9L48.2,29.9L45.7,26.5L47.8,22.9L51.6,23.6ZM60.2,29.5L57.1,30.7L53.6,28.2L53.6,26.2L57.5,23.9L60.8,25.8ZM67.1,28.7L64.0,30.8L61.2,28.2L61.1,25.1L64.1,23.3L66.7,23.4ZM0.1,34.3L-3.6,35.1L-5.9,33.3L-5.7,29.5L-3.4,28.6L0.4,30.5ZM7.3,33.3L4.9,35.0L1.8,34.8L0.8,29.9L4.8,28.4L7.6,30.2ZM15.2,33.5L13.9,36.4L9.2,36.5L7.3,32.9L9.8,30.0L13.2,30.2ZM18.7,35.1L15.0,35.4L13.0,33.7L12.5,30.9L17.0,28.5L19.0,30.5ZM28.0,32.3L26.4,34.8L21.0,34.3L21.1,32.2L23.3,28.8L26.3,29.4ZM33.1,36.9L29.0,38.3L27.0,35.0L28.1,31.3L31.4,30.6L33.2,32.9ZM41.7,33.1L39.0,36.3L35.5,35.9L34.2,31.2L36.3,29.3L40.2,30.7ZM47.5,36.3L43.4,37.5L41.2,34.9L41.8,31.6L45.2,30.0L48.1,33.2ZM54.9,35.6L51.7,35.3L49.2,32.6L51.8,28.0L55.4,28.6L57.5,31.8ZM61.9,36.7L58.2,37.8L55.4,35.3L57.0,31.7L60.9,30.7L62.9,32.7ZM5.0,41.3L1.7,43.0L-1.3,42.2L-1.4,37.8L0.9,36.6L4.5,37.9ZM7.8,43.2L5.4,44.2L2.0,42.2L2.1,38.8L6.7,37.0L8.5,39.3ZM17.1,38.9L15.4,41.9L10.4,41.2L9.7,38.5L12.4,35.5L15.9,36.4ZM22.8,40.7L20.0,42.5L16.5,39.4L16.6,36.4L20.6,35.1L22.4,36.2ZM30.7,40.1L28.0,42.1L25.1,40.2L24.7,36.0L27.3,34.0L31.6,36.6ZM37.2,41.8L34.0,42.7L30.6,41.5L30.2,37.8L34.7,35.4L37.6,37.6ZM45.1,39.4L41.2,42.2L38.8,42.0L37.5,37.6L39.9,34.9L43.7,36.7ZM50.6,42.5L47.1,44.0L44.1,40.0L45.8,37.1L49.4,36.6L51.7,39.2ZM60.3,39.4L59.0,42.6L53.7,42.6L53.1,39.5L54.8,36.9L58.5,37.3ZM65.6,39.0L62.7,41.4L58.9,40.6L58.0,37.9L60.1,34.3L64.7,35.3ZM1.3,45.6L0.1,48.2L-5.0,47.5L-6.4,44.0L-3.0,41.3L0.3,42.8ZM6.5,44.4L4.4,47.1L0.5,46.1L0.3,42.8L1.2,40.3L4.7,40.8ZM14.1,46.6L11.2,49.1L8.1,47.6L7.0,43.6L9.9,41.5L14.6,43.3ZM20.0,48.6L15.9,50.1L14.0,47.2L15.0,43.7L19.2,42.4L20.7,44.3ZM28.5,48.9L26.9,50.6L22.4,48.6L22.6,44.7L24.6,42.9L28.5,43.8ZM35.2,48.6L31.1,49.4L29.7,48.3L29.1,44.3L33.1,42.8L36.5,45.0ZM42.5,45.0L41.2,48.9L36.4,48.3L35.8,43.9L38.3,42.1L41.9,42.7ZM47.4,46.5L43.5,49.1L41.7,47.1L41.3,42.9L44.6,40.9L47.7,43.7ZM56.4,45.9L53.2,47.7L49.4,45.3L50.2,41.6L53.4,40.5L55.3,42.0ZM62.3,48.6L58.6,48.2L56.0,45.4L58.7,41.3L62.0,41.8L63.4,45.2ZM2.5,51.6L0.2,54.4L-3.1,53.0L-4.9,50.0L-0.5,46.7L2.6,49.1ZM7.6,54.7L5.2,54.8L2.1,51.5L3.2,49.2L7.2,47.9L9.9,50.2ZM15.9,53.2L13.1,54.6L9.0,51.3L9.6,49.0L13.4,47.2L15.6,47.5ZM25.2,52.2L21.5,54.2L18.8,50.5L20.0,47.5L22.8,46.4L25.1,49.6ZM32.7,51.6L31.4,54.9L27.8,55.6L25.1,51.8L27.0,48.6L31.4,49.0ZM37.2,55.1L33.1,55.2L30.8,53.0L32.4,49.0L36.3,48.6L38.3,52.2ZM46.4,50.3L44.3,53.6L40.9,53.6L40.1,49.4L41.0,47.7L45.5,47.8ZM50.2,53.5L46.1,53.3L44.9,50.6L46.7,47.0L49.3,46.5L52.0,49.0ZM61.2,52.4L57.3,55.5L55.0,55.0L53.3,51.6L55.6,48.5L59.8,49.3ZM65.0,55.6L62.0,55.9L59.5,54.1L59.8,50.3L63.6,48.9L65.8,50.3ZM-0.5,59.0L-3.5,60.3L-6.7,58.3L-5.8,54.0L-2.4,52.5L0.1,55.9ZM6.8,58.8L3.6,61.8L0.1,61.5L-1.0,58.4L0.3,55.2L4.7,55.5ZM12.0,59.9L9.8,59.0L7.3,56.4L9.4,52.2L12.5,52.1L14.0,56.1ZM22.1,59.3L19.0,60.4L15.5,59.4L16.5,54.4L20.0,53.2L21.7,54.9ZM27.0,60.7L23.4,61.3L21.0,58.1L22.6,54.1L26.8,54.5L27.8,56.9ZM34.6,59.2L32.5,60.3L29.1,57.9L29.1,54.6L31.6,53.6L36.1,55.7ZM40.6,59.5L37.1,59.7L34.3,57.5L35.8,54.8L38.9,52.9L42.2,56.7ZM50.8,57.3L47.6,61.4L44.0,59.9L43.5,56.7L45.6,54.3L48.9,54.0ZM55.0,58.0L51.7,61.4L49.2,59.8L48.0,56.1L52.0,53.1L54.9,55.7ZM60.5,60.3L58.1,61.1L54.4,58.2L55.4,54.9L58.1,53.0L61.7,56.2ZM1.7,65.7L-1.6,67.8L-4.0,65.6L-5.6,62.7L-1.6,60.3L1.6,61.5ZM10.0,62.9L7.9,65.8L3.7,64.8L3.0,61.2L5.6,59.1L9.6,60.1ZM15.6,67.0L11.9,68.3L10.2,64.8L12.1,61.4L15.4,61.5L17.3,63.4ZM22.8,67.0L20.8,66.8L17.7,65.1L18.8,61.4L22.0,59.7L24.9,62.6ZM29.9,67.4L27.1,67.1L24.8,63.6L25.7,61.6L29.9,60.4L32.8,63.2ZM38.1,64.3L35.1,66.4L31.0,64.4L31.5,59.7L35.6,58.8L37.4,60.0ZM43.6,66.0L40.2,67.4L37.5,66.0L37.7,61.0L40.6,59.9L43.5,62.3ZM50.9,67.2L48.0,68.7L44.1,66.3L44.1,64.2L47.4,61.0L50.9,63.0ZM58.1,65.1L55.8,65.8L52.0,63.2L53.2,60.3L56.7,59.0L58.9,62.2ZM65.6,66.7L61.6,66.7L60.6,65.0L60.6,60.8L64.8,60.3L67.1,61.9ZM-1.6,69.8L-4.8,72.8L-7.4,70.4L-8.0,68.0L-5.3,64.7L-1.5,67.0ZM8.1,71.4L4.6,72.7L2.2,71.3L1.9,67.2L3.6,65.8L7.5,66.5ZM11.1,74.5L8.4,74.7L5.8,71.4L7.3,68.5L10.6,67.8L13.5,70.8ZM21.3,70.4L18.5,71.6L15.4,70.7L15.3,67.0L17.7,64.1L21.8,66.6ZM27.8,69.9L26.1,72.5L22.3,72.3L21.1,70.0L23.5,66.1L26.2,65.8ZM34.5,72.0L31.9,73.8L27.8,71.9L27.8,68.8L31.5,66.8L34.6,68.3ZM43.1,69.8L41.1,71.6L36.3,70.0L36.0,67.9L38.2,64.6L42.1,65.1ZM49.2,71.7L47.6,73.4L44.3,74.0L41.9,70.4L44.9,67.3L48.2,68.1ZM56.9,72.8L54.0,74.5L50.1,71.4L50.8,68.8L53.6,66.9L56.7,68.5ZM63.1,72.4L61.2,73.2L57.6,70.8L58.7,66.9L61.9,66.1L64.1,68.1ZM2.0,77.5L-0.8,80.4L-3.8,78.2L-4.9,74.9L-2.0,72.5L0.7,72.8ZM10.3,77.5L7.8,79.9L4.3,79.4L2.5,76.7L4.2,73.6L9.2,74.5ZM16.3,77.1L13.1,78.7L10.5,77.6L10.5,73.2L13.5,71.8L16.2,73.8ZM23.8,74.9L20.0,78.6L17.5,77.1L15.5,74.0L18.2,71.1L22.7,71.6ZM32.2,76.5L29.9,78.0L26.6,76.4L26.5,72.3L28.7,70.3L32.3,71.7ZM35.9,78.2L33.3,78.4L30.5,75.1L33.0,71.0L35.8,71.3L38.0,75.5ZM44.7,79.0L41.5,78.6L39.4,75.6L39.3,73.2L43.3,72.3L46.2,73.8ZM51.7,76.5L48.3,79.0L44.8,77.3L44.8,73.4L47.2,71.2L51.3,72.5ZM59.7,76.7L56.9,77.8L53.1,76.2L52.8,73.3L55.8,70.4L59.4,72.2ZM66.4,77.7L63.5,79.3L60.0,75.5L60.8,72.6L63.9,71.1L66.9,74.9ZM1.0,83.7L-3.1,85.4L-6.0,83.7L-5.2,79.7L-2.0,78.8L0.5,80.2ZM5.7,83.5L2.1,84.3L-0.9,81.9L-0.5,78.5L3.6,76.8L6.2,78.7ZM12.1,85.2L8.6,84.9L7.4,81.6L8.2,79.2L12.4,78.9L14.8,82.4ZM22.0,82.5L20.1,84.6L16.3,84.0L15.5,79.9L18.3,78.2L22.1,79.1ZM27.8,85.3L24.3,86.9L20.8,84.4L21.7,80.5L25.9,79.7L27.8,81.9ZM34.6,84.1L30.7,85.6L28.0,84.0L28.0,79.9L32.1,78.5L34.8,79.7ZM39.5,85.0L37.1,86.3L33.7,84.3L34.5,79.9L37.9,79.0L40.6,80.5ZM49.9,84.9L47.4,86.2L43.9,84.4L43.7,80.9L47.4,79.3L49.7,80.2ZM56.1,82.9L52.2,84.8L48.5,82.4L49.3,78.7L52.1,77.1L55.1,78.8ZM64.1,82.4L61.8,84.7L57.5,84.1L56.3,80.6L58.9,78.8L62.6,79.0ZM2.7,90.2L-1.0,92.0L-4.1,89.1L-2.7,85.3L0.4,83.7L4.1,87.3ZM12.0,87.2L9.6,90.7L5.3,90.0L4.0,85.8L6.2,83.3L9.9,83.7ZM18.7,89.4L15.2,91.9L11.8,89.6L12.3,86.8L15.6,84.8L18.4,86.7ZM25.3,90.8L22.7,92.7L19.3,90.1L19.5,86.4L22.6,85.6L25.8,87.4ZM30.5,89.3L26.7,92.4L24.3,91.2L23.0,86.8L27.1,84.9L29.9,87.0ZM37.0,90.9L33.5,91.3L31.5,88.2L33.1,84.4L35.6,84.1L38.8,87.7ZM46.7,88.0L44.4,89.9L40.5,89.8L39.7,85.2L42.8,82.7L45.9,84.9ZM50.8,91.0L46.4,91.6L44.8,88.9L45.1,85.3L49.8,85.1L52.3,88.2ZM58.6,87.9L56.3,91.2L52.8,91.0L50.5,87.2L53.7,84.1L57.1,84.8ZM66.1,88.9L63.8,91.5L60.3,88.9L60.1,85.3L62.6,83.4L66.9,85.9ZM-1.5,94.7L-4.6,96.5L-6.9,96.2L-8.0,92.1L-5.2,89.3L-2.8,89.8ZM6.4,95.6L3.0,96.7L0.7,93.2L1.5,91.2L5.3,89.8L8.1,92.8ZM14.0,95.8L10.0,96.9L7.8,93.6L9.4,90.0L12.8,89.6L15.0,93.2ZM20.9,93.6L18.1,96.8L15.6,96.0L13.4,92.4L16.0,89.2L20.1,90.2ZM27.5,97.1L25.3,98.3L21.6,97.9L21.2,93.7L23.6,91.8L27.8,93.0ZM35.1,95.5L32.2,99.1L28.7,97.9L28.1,94.2L29.3,92.6L34.0,92.8ZM40.4,96.1L37.1,97.1L34.3,95.7L33.9,92.7L37.8,89.8L40.8,92.9ZM49.2,95.3L44.8,96.1L43.1,93.3L43.6,90.1L47.9,89.8L49.9,92.7ZM55.0,95.3L51.7,97.9L49.1,96.2L49.2,92.0L51.0,90.0L55.5,92.6ZM62.2,95.0L59.5,97.9L56.6,98.0L55.2,94.2L56.2,91.3L61.4,91.9ZM2.8,99.6L0.6,103.2L-4.2,102.3L-4.9,99.5L-2.3,96.3L1.5,97.3ZM11.1,100.4L9.1,102.6L6.1,102.2L3.8,98.2L7.5,95.1L11.4,96.2ZM16.2,101.4L12.7,103.6L10.2,102.2L9.2,99.7L12.9,96.4L14.9,97.2ZM22.9,103.0L19.8,104.4L15.7,100.7L18.0,97.5L21.5,97.3L23.2,99.2ZM30.6,99.5L27.5,102.7L24.1,101.7L22.8,99.3L26.1,95.9L28.6,96.2ZM38.3,101.3L35.7,104.0L31.7,103.5L31.7,99.3L33.1,97.1L37.2,97.9ZM45.0,102.0L42.2,103.3L38.6,101.1L38.9,97.5L43.4,96.3L45.8,98.1ZM53.7,102.2L49.6,103.0L46.6,101.1L47.6,97.0L51.6,96.3L54.0,98.2ZM58.8,102.9L54.6,103.8L52.2,101.5L54.6,97.3L57.9,97.4L59.2,100.9ZM66.1,103.0L62.1,102.8L60.1,100.1L62.0,96.6L65.0,96.5L67.4,99.9ZM0.8,105.8L-1.0,109.4L-4.5,110.0L-6.3,106.2L-5.2,102.9L-1.3,102.6ZM7.1,106.9L4.4,109.1L2.0,108.6L1.1,104.0L2.0,102.3L6.8,103.0ZM15.3,106.7L12.1,108.3L7.9,105.4L9.4,101.8L13.1,101.2L15.6,104.0ZM21.2,109.0L19.3,111.1L15.8,110.5L15.0,105.4L17.0,103.5L20.5,104.5ZM26.2,109.5L22.6,109.8L20.0,106.1L22.3,103.2L25.5,102.3L27.9,105.2ZM35.2,107.7L31.3,109.0L29.4,106.4L30.0,103.0L33.5,102.3L36.0,103.8ZM41.4,108.4L37.7,109.7L35.2,107.3L35.8,104.8L39.3,102.4L41.8,103.5ZM46.2,110.8L43.4,111.0L41.2,108.7L42.7,104.1L46.7,104.7L48.7,107.2ZM54.6,106.3L53.0,109.5L49.7,109.1L47.9,106.8L48.8,103.0L52.5,102.4ZM64.1,107.1L62.0,110.7L57.9,110.2L57.4,106.4L59.4,104.2L63.0,105.2Z" fill="none" stroke="#c49668" stroke-width="0.6" opacity="0.25"/>
<circle cx="-2.6" cy="-3.8" r="2.0" fill="#c6aeb2" stroke="#ae999d" stroke-width="0.5" opacity="0.56"/>
<circle cx="2.7" cy="-1.2" r="1.9" fill="#c6aeb2" stroke="#ae999d" stroke-width="0.5" opacity="0.51"/>
<circle cx="10.2" cy="-5.0" r="1.7" fill="#c6aeb2" stroke="#ae999d" stroke-width="0.5" opacity="0.52"/>
<circle cx="18.9" cy="-2.2" r="1.9" fill="#c6aeb2" stroke="#ae999d" stroke-width="0.5" opacity="0.72"/>
<circle cx="25.2" cy="-3.1" r="2.0" fill="#c6aeb2" stroke="#ae999d" stroke-width="0.5" opacity="0.66"/>
<circle cx="31.4" cy="-2.9" r="2.1" fill="#c6aeb2" stroke="#ae999d" stroke-width="0.5" opacity="0.66"/>
<circle cx="38.0" cy="-2.4" r="2.0" fill="#c6aeb2" stroke="#ae999d" stroke-width="0.5" opacity="0.75"/>
<circle cx="47.1" cy="-1.8" r="1.6" fill="#c6aeb2" stroke="#ae999d" stroke-width="0.5" opacity="0.57"/>
<circle cx="51.3" cy="-2.0" r="1.7" fill="#c6aeb2" stroke="#ae999d" stroke-width="0.5" opacity="0.68"/>
<circle cx="60.4" cy="-3.3" r="1.8" fill="#c6aeb2" stroke="#ae999d" stroke-width="0.5" opacity="0.58"/>
<circle cx="-0.9" cy="2.1" r="1.9" fill="#c6aeb2" stroke="#ae999d" stroke-width="0.5" opacity="0.68"/>
<circle cx="9.2" cy="2.1" r="1.9" fill="#c6aeb2" stroke="#ae999d" stroke-width="0.5" opacity="0.61"/>
<circle cx="13.3" cy="2.0" r="1.6" fill="#c6aeb2" stroke="#ae999d" stroke-width="0.5" opacity="0.51"/>
<circle cx="21.7" cy="0.6" r="2.0" fill="#c6aeb2" stroke="#ae999d" stroke-width="0.5" opacity="0.53"/>
<circle cx="27.5" cy="4.2" r="1.9" fill="#c6aeb2" stroke="#ae999d" stroke-width="0.5" opacity="0.61"/>
<circle cx="36.9" cy="3.2" r="1.7" fill="#c6aeb2" stroke="#ae999d" stroke-width="0.5" opacity="0.55"/>
<circle cx="47.7" cy="3.7" r="1.8" fill="#c6aeb2" stroke="#ae999d" stroke-width="0.5" opacity="0.54"/>
<circle cx="57.4" cy="3.2" r="2.1" fill="#c6aeb2" stroke="#ae999d" stroke-width="0.5" opacity="0.64"/>
<circle cx="63.7" cy="3.4" r="2.2" fill="#c6aeb2" stroke="#ae999d" stroke-width="0.5" opacity="0.59"/>
<circle cx="-2.3" cy="9.8" r="2.1" fill="#c6aeb2" stroke="#ae999d" stroke-width="0.5" opacity="0.68"/>
<circle cx="5.0" cy="9.1" r="1.9" fill="#c6aeb2" stroke="#ae999d" stroke-width="0.5" opacity="0.52"/>
<circle cx="10.7" cy="9.8" r="2.0" fill="#c6aeb2" stroke="#ae999d" stroke-width="0.5" opacity="0.63"/>
<circle cx="18.0" cy="10.1" r="2.2" fill="#c6aeb2" stroke="#ae999d" stroke-width="0.5" opacity="0.52"/>
<circle cx="23.2" cy="8.0" r="1.7" fill="#c6aeb2" stroke="#ae999d" stroke-width="0.5" opacity="0.56"/>
<circle cx="32.1" cy="9.3" r="2.2" fill="#c6aeb2" stroke="#ae999d" stroke-width="0.5" opacity="0.70"/>
<circle cx="37.1" cy="7.4" r="2.1" fill="#c6aeb2" stroke="#ae999d" stroke-width="0.5" opacity="0.60"/>
<circle cx="52.3" cy="8.7" r="1.7" fill="#c6aeb2" stroke="#ae999d" stroke-width="0.5" opacity="0.55"/>
<circle cx="1.1" cy="14.1" r="1.9" fill="#c6aeb2" stroke="#ae999d" stroke-width="0.5" opacity="0.72"/>
<circle cx="8.1" cy="15.0" r="1.9" fill="#c6aeb2" stroke="#ae999d" stroke-width="0.5" opacity="0.56"/>
<circle cx="14.9" cy="14.8" r="1.9" fill="#c6aeb2" stroke="#ae999d" stroke-width="0.5" opacity="0.54"/>
<circle cx="20.4" cy="13.6" r="1.6" fill="#c6aeb2" stroke="#ae999d" stroke-width="0.5" opacity="0.64"/>
<circle cx="27.3" cy="15.7" r="1.9" fill="#c6aeb2" stroke="#ae999d" stroke-width="0.5" opacity="0.70"/>
<circle cx="36.4" cy="15.0" r="1.9" fill="#c6aeb2" stroke="#ae999d" stroke-width="0.5" opacity="0.74"/>
<circle cx="43.4" cy="15.6" r="2.3" fill="#c6aeb2" stroke="#ae999d" stroke-width="0.5" opacity="0.72"/>
<circle cx="50.6" cy="16.4" r="1.8" fill="#c6aeb2" stroke="#ae999d" stroke-width="0.5" opacity="0.72"/>
<circle cx="57.5" cy="15.4" r="2.0" fill="#c6aeb2" stroke="#ae999d" stroke-width="0.5" opacity="0.61"/>
<circle cx="62.7" cy="14.5" r="2.2" fill="#c6aeb2" stroke="#ae999d" stroke-width="0.5" opacity="0.68"/>
<circle cx="5.1" cy="22.5" r="2.2" fill="#c6aeb2" stroke="#ae999d" stroke-width="0.5" opacity="0.62"/>
<circle cx="9.5" cy="21.1" r="2.3" fill="#c6aeb2" stroke="#ae999d" stroke-width="0.5" opacity="0.56"/>
<circle cx="19.7" cy="19.7" r="1.6" fill="#c6aeb2" stroke="#ae999d" stroke-width="0.5" opacity="0.74"/>
<circle cx="24.5" cy="22.6" r="2.1" fill="#c6aeb2" stroke="#ae999d" stroke-width="0.5" opacity="0.72"/>
<circle cx="37.2" cy="19.8" r="2.3" fill="#c6aeb2" stroke="#ae999d" stroke-width="0.5" opacity="0.67"/>
<circle cx="44.3" cy="18.7" r="2.2" fill="#c6aeb2" stroke="#ae999d" stroke-width="0.5" opacity="0.61"/>
<circle cx="53.0" cy="21.3" r="1.7" fill="#c6aeb2" stroke="#ae999d" stroke-width="0.5" opacity="0.59"/>
<circle cx="58.6" cy="22.2" r="1.6" fill="#c6aeb2" stroke="#ae999d" stroke-width="0.5" opacity="0.57"/>
<circle cx="1.8" cy="24.7" r="2.1" fill="#c6aeb2" stroke="#ae999d" stroke-width="0.5" opacity="0.58"/>
<circle cx="7.9" cy="24.6" r="2.2" fill="#c6aeb2" stroke="#ae999d" stroke-width="0.5" opacity="0.53"/>
<circle cx="20.7" cy="27.4" r="1.7" fill="#c6aeb2" stroke="#ae999d" stroke-width="0.5" opacity="0.52"/>
<circle cx="29.0" cy="26.9" r="1.9" fill="#c6aeb2" stroke="#ae999d" stroke-width="0.5" opacity="0.68"/>
<circle cx="36.7" cy="26.1" r="1.6" fill="#c6aeb2" stroke="#ae999d" stroke-width="0.5" opacity="0.57"/>
<circle cx="41.1" cy="24.8" r="2.0" fill="#c6aeb2" stroke="#ae999d" stroke-width="0.5" opacity="0.57"/>
<circle cx="49.3" cy="25.9" r="2.1" fill="#c6aeb2" stroke="#ae999d" stroke-width="0.5" opacity="0.75"/>
<circle cx="65.0" cy="26.9" r="2.2" fill="#c6aeb2" stroke="#ae999d" stroke-width="0.5" opacity="0.59"/>
<circle cx="-3.2" cy="30.9" r="1.7" fill="#c6aeb2" stroke="#ae999d" stroke-width="0.5" opacity="0.56"/>
<circle cx="3.4" cy="31.1" r="1.6" fill="#c6aeb2" stroke="#ae999d" stroke-width="0.5" opacity="0.71"/>
<circle cx="10.5" cy="33.2" r="2.2" fill="#c6aeb2" stroke="#ae999d" stroke-width="0.5" opacity="0.72"/>
<circle cx="16.9" cy="32.1" r="2.0" fill="#c6aeb2" stroke="#ae999d" stroke-width="0.5" opacity="0.52"/>
<circle cx="25.0" cy="31.1" r="1.7" fill="#c6aeb2" stroke="#ae999d" stroke-width="0.5" opacity="0.72"/>
<circle cx="30.6" cy="34.8" r="1.9" fill="#c6aeb2" stroke="#ae999d" stroke-width="0.5" opacity="0.63"/>
<circle cx="44.0" cy="34.1" r="1.6" fill="#c6aeb2" stroke="#ae999d" stroke-width="0.5" opacity="0.54"/>
<circle cx="54.1" cy="31.6" r="1.7" fill="#c6aeb2" stroke="#ae999d" stroke-width="0.5" opacity="0.73"/>
<circle cx="0.4" cy="39.9" r="2.1" fill="#c6aeb2" stroke="#ae999d" stroke-width="0.5" opacity="0.61"/>
<circle cx="5.7" cy="39.9" r="2.2" fill="#c6aeb2" stroke="#ae999d" stroke-width="0.5" opacity="0.64"/>
<circle cx="14.6" cy="37.9" r="2.1" fill="#c6aeb2" stroke="#ae999d" stroke-width="0.5" opacity="0.69"/>
<circle cx="28.2" cy="37.7" r="1.7" fill="#c6aeb2" stroke="#ae999d" stroke-width="0.5" opacity="0.57"/>
<circle cx="41.7" cy="39.0" r="2.2" fill="#c6aeb2" stroke="#ae999d" stroke-width="0.5" opacity="0.73"/>
<circle cx="56.0" cy="40.7" r="2.0" fill="#c6aeb2" stroke="#ae999d" stroke-width="0.5" opacity="0.66"/>
<circle cx="61.1" cy="37.8" r="2.1" fill="#c6aeb2" stroke="#ae999d" stroke-width="0.5" opacity="0.52"/>
<circle cx="-1.6" cy="45.5" r="2.0" fill="#c6aeb2" stroke="#ae999d" stroke-width="0.5" opacity="0.54"/>
<circle cx="3.9" cy="44.3" r="1.9" fill="#c6aeb2" stroke="#ae999d" stroke-width="0.5" opacity="0.59"/>
<circle cx="16.9" cy="45.6" r="1.7" fill="#c6aeb2" stroke="#ae999d" stroke-width="0.5" opacity="0.67"/>
<circle cx="25.6" cy="46.4" r="2.2" fill="#c6aeb2" stroke="#ae999d" stroke-width="0.5" opacity="0.61"/>
<circle cx="39.8" cy="45.7" r="2.2" fill="#c6aeb2" stroke="#ae999d" stroke-width="0.5" opacity="0.65"/>
<circle cx="45.2" cy="45.5" r="2.1" fill="#c6aeb2" stroke="#ae999d" stroke-width="0.5" opacity="0.63"/>
<circle cx="51.6" cy="44.5" r="1.9" fill="#c6aeb2" stroke="#ae999d" stroke-width="0.5" opacity="0.53"/>
<circle cx="-1.1" cy="50.2" r="1.8" fill="#c6aeb2" stroke="#ae999d" stroke-width="0.5" opacity="0.59"/>
<circle cx="6.5" cy="52.1" r="2.2" fill="#c6aeb2" stroke="#ae999d" stroke-width="0.5" opacity="0.51"/>
<circle cx="13.6" cy="51.1" r="2.1" fill="#c6aeb2" stroke="#ae999d" stroke-width="0.5" opacity="0.61"/>
<circle cx="21.3" cy="49.3" r="1.8" fill="#c6aeb2" stroke="#ae999d" stroke-width="0.5" opacity="0.59"/>
<circle cx="29.4" cy="52.1" r="2.1" fill="#c6aeb2" stroke="#ae999d" stroke-width="0.5" opacity="0.72"/>
<circle cx="34.4" cy="51.6" r="1.8" fill="#c6aeb2" stroke="#ae999d" stroke-width="0.5" opacity="0.75"/>
<circle cx="43.9" cy="51.1" r="2.2" fill="#c6aeb2" stroke="#ae999d" stroke-width="0.5" opacity="0.69"/>
<circle cx="47.4" cy="50.3" r="1.9" fill="#c6aeb2" stroke="#ae999d" stroke-width="0.5" opacity="0.67"/>
<circle cx="58.2" cy="52.6" r="1.8" fill="#c6aeb2" stroke="#ae999d" stroke-width="0.5" opacity="0.67"/>
<circle cx="63.1" cy="53.4" r="1.8" fill="#c6aeb2" stroke="#ae999d" stroke-width="0.5" opacity="0.63"/>
<circle cx="-3.1" cy="55.7" r="1.9" fill="#c6aeb2" stroke="#ae999d" stroke-width="0.5" opacity="0.50"/>
<circle cx="2.1" cy="58.5" r="2.2" fill="#c6aeb2" stroke="#ae999d" stroke-width="0.5" opacity="0.61"/>
<circle cx="10.2" cy="55.0" r="1.6" fill="#c6aeb2" stroke="#ae999d" stroke-width="0.5" opacity="0.68"/>
<circle cx="18.2" cy="57.9" r="2.0" fill="#c6aeb2" stroke="#ae999d" stroke-width="0.5" opacity="0.72"/>
<circle cx="23.8" cy="57.5" r="1.9" fill="#c6aeb2" stroke="#ae999d" stroke-width="0.5" opacity="0.58"/>
<circle cx="32.9" cy="56.5" r="1.9" fill="#c6aeb2" stroke="#ae999d" stroke-width="0.5" opacity="0.64"/>
<circle cx="38.5" cy="56.9" r="1.7" fill="#c6aeb2" stroke="#ae999d" stroke-width="0.5" opacity="0.73"/>
<circle cx="47.8" cy="57.0" r="1.7" fill="#c6aeb2" stroke="#ae999d" stroke-width="0.5" opacity="0.50"/>
<circle cx="52.0" cy="56.3" r="2.0" fill="#c6aeb2" stroke="#ae999d" stroke-width="0.5" opacity="0.59"/>
<circle cx="58.0" cy="56.3" r="2.2" fill="#c6aeb2" stroke="#ae999d" stroke-width="0.5" opacity="0.63"/>
<circle cx="-1.8" cy="62.7" r="1.8" fill="#c6aeb2" stroke="#ae999d" stroke-width="0.5" opacity="0.53"/>
<circle cx="6.6" cy="61.6" r="1.8" fill="#c6aeb2" stroke="#ae999d" stroke-width="0.5" opacity="0.72"/>
<circle cx="29.4" cy="63.0" r="2.0" fill="#c6aeb2" stroke="#ae999d" stroke-width="0.5" opacity="0.55"/>
<circle cx="35.5" cy="61.3" r="2.3" fill="#c6aeb2" stroke="#ae999d" stroke-width="0.5" opacity="0.68"/>
<circle cx="40.1" cy="64.0" r="1.8" fill="#c6aeb2" stroke="#ae999d" stroke-width="0.5" opacity="0.65"/>
<circle cx="48.6" cy="64.3" r="2.3" fill="#c6aeb2" stroke="#ae999d" stroke-width="0.5" opacity="0.72"/>
<circle cx="55.0" cy="62.0" r="2.2" fill="#c6aeb2" stroke="#ae999d" stroke-width="0.5" opacity="0.60"/>
<circle cx="63.1" cy="63.6" r="2.0" fill="#c6aeb2" stroke="#ae999d" stroke-width="0.5" opacity="0.56"/>
<circle cx="-4.2" cy="68.7" r="1.7" fill="#c6aeb2" stroke="#ae999d" stroke-width="0.5" opacity="0.67"/>
<circle cx="4.2" cy="69.9" r="1.8" fill="#c6aeb2" stroke="#ae999d" stroke-width="0.5" opacity="0.61"/>
<circle cx="8.8" cy="70.3" r="2.1" fill="#c6aeb2" stroke="#ae999d" stroke-width="0.5" opacity="0.51"/>
<circle cx="18.5" cy="68.5" r="2.1" fill="#c6aeb2" stroke="#ae999d" stroke-width="0.5" opacity="0.64"/>
<circle cx="25.4" cy="69.6" r="2.1" fill="#c6aeb2" stroke="#ae999d" stroke-width="0.5" opacity="0.73"/>
<circle cx="31.3" cy="69.4" r="2.0" fill="#c6aeb2" stroke="#ae999d" stroke-width="0.5" opacity="0.58"/>
<circle cx="39.7" cy="67.9" r="1.7" fill="#c6aeb2" stroke="#ae999d" stroke-width="0.5" opacity="0.64"/>
<circle cx="46.4" cy="71.5" r="1.6" fill="#c6aeb2" stroke="#ae999d" stroke-width="0.5" opacity="0.69"/>
<circle cx="53.9" cy="70.6" r="2.3" fill="#c6aeb2" stroke="#ae999d" stroke-width="0.5" opacity="0.53"/>
<circle cx="61.6" cy="70.3" r="1.8" fill="#c6aeb2" stroke="#ae999d" stroke-width="0.5" opacity="0.50"/>
<circle cx="-0.2" cy="76.2" r="2.2" fill="#c6aeb2" stroke="#ae999d" stroke-width="0.5" opacity="0.66"/>
<circle cx="6.7" cy="77.2" r="2.0" fill="#c6aeb2" stroke="#ae999d" stroke-width="0.5" opacity="0.54"/>
<circle cx="20.0" cy="75.1" r="1.7" fill="#c6aeb2" stroke="#ae999d" stroke-width="0.5" opacity="0.65"/>
<circle cx="30.1" cy="74.7" r="2.1" fill="#c6aeb2" stroke="#ae999d" stroke-width="0.5" opacity="0.69"/>
<circle cx="42.1" cy="74.5" r="2.1" fill="#c6aeb2" stroke="#ae999d" stroke-width="0.5" opacity="0.60"/>
<circle cx="47.7" cy="75.6" r="1.8" fill="#c6aeb2" stroke="#ae999d" stroke-width="0.5" opacity="0.53"/>
<circle cx="-2.7" cy="82.6" r="2.0" fill="#c6aeb2" stroke="#ae999d" stroke-width="0.5" opacity="0.62"/>
<circle cx="3.3" cy="80.7" r="1.7" fill="#c6aeb2" stroke="#ae999d" stroke-width="0.5" opacity="0.71"/>
<circle cx="9.7" cy="82.9" r="1.9" fill="#c6aeb2" stroke="#ae999d" stroke-width="0.5" opacity="0.51"/>
<circle cx="19.1" cy="81.4" r="1.6" fill="#c6aeb2" stroke="#ae999d" stroke-width="0.5" opacity="0.57"/>
<circle cx="24.7" cy="83.1" r="1.7" fill="#c6aeb2" stroke="#ae999d" stroke-width="0.5" opacity="0.73"/>
<circle cx="31.4" cy="81.0" r="2.2" fill="#c6aeb2" stroke="#ae999d" stroke-width="0.5" opacity="0.60"/>
<circle cx="36.5" cy="82.1" r="2.2" fill="#c6aeb2" stroke="#ae999d" stroke-width="0.5" opacity="0.58"/>
<circle cx="46.3" cy="82.1" r="2.2" fill="#c6aeb2" stroke="#ae999d" stroke-width="0.5" opacity="0.62"/>
<circle cx="53.3" cy="80.8" r="2.0" fill="#c6aeb2" stroke="#ae999d" stroke-width="0.5" opacity="0.67"/>
<circle cx="59.5" cy="81.4" r="2.1" fill="#c6aeb2" stroke="#ae999d" stroke-width="0.5" opacity="0.53"/>
<circle cx="-0.4" cy="87.2" r="1.8" fill="#c6aeb2" stroke="#ae999d" stroke-width="0.5" opacity="0.72"/>
<circle cx="7.1" cy="86.5" r="1.8" fill="#c6aeb2" stroke="#ae999d" stroke-width="0.5" opacity="0.51"/>
<circle cx="15.0" cy="88.2" r="1.7" fill="#c6aeb2" stroke="#ae999d" stroke-width="0.5" opacity="0.62"/>
<circle cx="26.2" cy="88.3" r="1.8" fill="#c6aeb2" stroke="#ae999d" stroke-width="0.5" opacity="0.57"/>
<circle cx="35.2" cy="87.0" r="1.7" fill="#c6aeb2" stroke="#ae999d" stroke-width="0.5" opacity="0.75"/>
<circle cx="54.3" cy="87.1" r="2.0" fill="#c6aeb2" stroke="#ae999d" stroke-width="0.5" opacity="0.56"/>
<circle cx="62.3" cy="87.9" r="2.3" fill="#c6aeb2" stroke="#ae999d" stroke-width="0.5" opacity="0.57"/>
<circle cx="-5.6" cy="94.0" r="1.7" fill="#c6aeb2" stroke="#ae999d" stroke-width="0.5" opacity="0.57"/>
<circle cx="4.3" cy="93.1" r="2.2" fill="#c6aeb2" stroke="#ae999d" stroke-width="0.5" opacity="0.56"/>
<circle cx="11.0" cy="92.8" r="2.1" fill="#c6aeb2" stroke="#ae999d" stroke-width="0.5" opacity="0.59"/>
<circle cx="16.8" cy="93.1" r="2.3" fill="#c6aeb2" stroke="#ae999d" stroke-width="0.5" opacity="0.52"/>
<circle cx="23.9" cy="95.9" r="1.9" fill="#c6aeb2" stroke="#ae999d" stroke-width="0.5" opacity="0.57"/>
<circle cx="31.7" cy="96.0" r="1.7" fill="#c6aeb2" stroke="#ae999d" stroke-width="0.5" opacity="0.64"/>
<circle cx="38.1" cy="94.6" r="2.1" fill="#c6aeb2" stroke="#ae999d" stroke-width="0.5" opacity="0.65"/>
<circle cx="45.6" cy="93.4" r="2.0" fill="#c6aeb2" stroke="#ae999d" stroke-width="0.5" opacity="0.73"/>
<circle cx="50.9" cy="94.6" r="2.1" fill="#c6aeb2" stroke="#ae999d" stroke-width="0.5" opacity="0.59"/>
<circle cx="-0.9" cy="99.8" r="2.0" fill="#c6aeb2" stroke="#ae999d" stroke-width="0.5" opacity="0.54"/>
<circle cx="34.2" cy="100.8" r="1.9" fill="#c6aeb2" stroke="#ae999d" stroke-width="0.5" opacity="0.52"/>
<circle cx="42.5" cy="99.6" r="1.7" fill="#c6aeb2" stroke="#ae999d" stroke-width="0.5" opacity="0.60"/>
<circle cx="50.9" cy="100.5" r="1.8" fill="#c6aeb2" stroke="#ae999d" stroke-width="0.5" opacity="0.75"/>
<circle cx="56.7" cy="100.8" r="1.9" fill="#c6aeb2" stroke="#ae999d" stroke-width="0.5" opacity="0.54"/>
<circle cx="63.7" cy="99.1" r="1.8" fill="#c6aeb2" stroke="#ae999d" stroke-width="0.5" opacity="0.57"/>
<circle cx="-2.1" cy="107.0" r="2.1" fill="#c6aeb2" stroke="#ae999d" stroke-width="0.5" opacity="0.63"/>
<circle cx="3.4" cy="105.5" r="2.3" fill="#c6aeb2" stroke="#ae999d" stroke-width="0.5" opacity="0.53"/>
<circle cx="11.9" cy="105.4" r="2.0" fill="#c6aeb2" stroke="#ae999d" stroke-width="0.5" opacity="0.67"/>
<circle cx="16.9" cy="107.3" r="1.7" fill="#c6aeb2" stroke="#ae999d" stroke-width="0.5" opacity="0.56"/>
<circle cx="23.9" cy="106.5" r="2.0" fill="#c6aeb2" stroke="#ae999d" stroke-width="0.5" opacity="0.62"/>
<circle cx="44.3" cy="106.8" r="2.0" fill="#c6aeb2" stroke="#ae999d" stroke-width="0.5" opacity="0.73"/>
<circle cx="51.6" cy="107.1" r="1.8" fill="#c6aeb2" stroke="#ae999d" stroke-width="0.5" opacity="0.73"/>
<circle cx="61.0" cy="108.0" r="1.7" fill="#c6aeb2" stroke="#ae999d" stroke-width="0.5" opacity="0.64"/>
<ellipse cx="29.6" cy="89.9" rx="1.3" ry="0.9" fill="#6a68cc" opacity="0.85"/>
</g>
<path d="M53.6,82.5V101.5M51.8,82.5H53.6M51.8,85.5H53.6M51.8,88.5H53.6M51.8,91.5H53.6M51.8,94.5H53.6M51.8,97.5H53.6M51.8,100.5H53.6" stroke="#555" stroke-width="0.6" fill="none"/>
</svg>
<text x="91.6" y="662.8" font-size="13.0" font-weight="normal" text-anchor="middle" fill="#111"  >Case 1</text>
<line x1="54.1" y1="667.2" x2="129.6" y2="667.2" stroke="#444" stroke-width="1.0" />
<text x="209.4" y="662.8" font-size="13.0" font-weight="normal" text-anchor="middle" fill="#111"  >Case 2</text>
<line x1="170.7" y1="667.2" x2="247.4" y2="667.2" stroke="#444" stroke-width="1.0" />
<text x="330.6" y="662.8" font-size="13.0" font-weight="normal" text-anchor="middle" fill="#111"  >Case 3</text>
<line x1="292.1" y1="667.2" x2="367.9" y2="667.2" stroke="#444" stroke-width="1.0" />
<text x="62.6" y="681.6" font-size="13.0" font-weight="normal" text-anchor="middle" fill="#111"  >Normal</text>
<text x="121.5" y="681.6" font-size="13.0" font-weight="normal" text-anchor="middle" fill="#111"  >Tumor</text>
<text x="179.9" y="681.6" font-size="13.0" font-weight="normal" text-anchor="middle" fill="#111"  >Normal</text>
<text x="238.4" y="681.6" font-size="13.0" font-weight="normal" text-anchor="middle" fill="#111"  >Tumor</text>
<text x="297.3" y="681.6" font-size="13.0" font-weight="normal" text-anchor="middle" fill="#111"  >Normal</text>
<text x="355.7" y="681.6" font-size="13.0" font-weight="normal" text-anchor="middle" fill="#111"  >Tumor</text>
<text transform="translate(31.1,736.7) rotate(-90)" font-size="13.6" text-anchor="middle" fill="#111">PPAT</text>
<text transform="translate(30.6,843.0) rotate(-90)" font-size="13.6" text-anchor="middle" fill="#111">&#946;-catenin</text>
<text transform="translate(398.8,789.1) rotate(-90)" font-size="13.2" text-anchor="middle" fill="#111">1 600X</text>
<line x1="487.1" y1="705.0" x2="487.1" y2="836.1" stroke="#111" stroke-width="1.3" />
<line x1="486.5" y1="835.5" x2="576.3" y2="835.5" stroke="#111" stroke-width="1.3" />
<line x1="481.8" y1="835.5" x2="487.1" y2="835.5" stroke="#111" stroke-width="1.2" />
<text x="479.8" y="839.0" font-size="9.9" font-weight="bold" text-anchor="end" fill="#111"  >0</text>
<line x1="481.8" y1="809.5" x2="487.1" y2="809.5" stroke="#111" stroke-width="1.2" />
<text x="479.8" y="813.0" font-size="9.9" font-weight="bold" text-anchor="end" fill="#111"  >2</text>
<line x1="481.8" y1="783.5" x2="487.1" y2="783.5" stroke="#111" stroke-width="1.2" />
<text x="479.8" y="787.0" font-size="9.9" font-weight="bold" text-anchor="end" fill="#111"  >4</text>
<line x1="481.8" y1="757.6" x2="487.1" y2="757.6" stroke="#111" stroke-width="1.2" />
<text x="479.8" y="761.1" font-size="9.9" font-weight="bold" text-anchor="end" fill="#111"  >6</text>
<line x1="481.8" y1="731.6" x2="487.1" y2="731.6" stroke="#111" stroke-width="1.2" />
<text x="479.8" y="735.1" font-size="9.9" font-weight="bold" text-anchor="end" fill="#111"  >8</text>
<line x1="481.8" y1="705.6" x2="487.1" y2="705.6" stroke="#111" stroke-width="1.2" />
<text x="479.8" y="709.1" font-size="9.9" font-weight="bold" text-anchor="end" fill="#111"  >10</text>
<line x1="512.5" y1="835.5" x2="512.5" y2="840.6" stroke="#111" stroke-width="1.2" />
<line x1="550.4" y1="835.5" x2="550.4" y2="840.6" stroke="#111" stroke-width="1.2" />
<text x="512.6" y="851.2" font-size="10.4" font-weight="bold" text-anchor="middle" fill="#111"  >WT</text>
<text x="550.7" y="851.2" font-size="10.4" font-weight="bold" text-anchor="middle" fill="#111"  >Mut</text>
<text x="531.2" y="867.1" font-size="10.8" font-weight="bold" text-anchor="middle" fill="#111"  >CTNNB1</text>
<text transform="translate(463.0,770.7) rotate(-90)" font-size="10.6" font-weight="bold" text-anchor="middle" fill="#111">Relative PPAT level</text>
<text x="509.6" y="693.7" font-size="9.7" fill="#111"><tspan font-style="italic">P</tspan>=0.0204</text>
<polyline fill="none" stroke="#111" stroke-width="1.3" points="512.6,703.4 512.6,697.7 547.6,697.7 547.6,703.4"/>
<text x="627.0" y="767.5" font-size="10.7" font-weight="bold" text-anchor="middle" fill="#111"  >GSE132219</text>
<text x="627.1" y="779.2" font-size="10.7" font-weight="bold" text-anchor="middle" fill="#111"  >WT=9, Mut=23</text>
<line x1="500.0" y1="804.6" x2="524.9" y2="804.6" stroke="#64a4fb" stroke-width="1.3" />
<line x1="512.5" y1="793.9" x2="512.5" y2="815.5" stroke="#64a4fb" stroke-width="1.1" />
<line x1="506.1" y1="793.9" x2="518.8" y2="793.9" stroke="#64a4fb" stroke-width="1.1" />
<line x1="506.1" y1="815.5" x2="518.8" y2="815.5" stroke="#64a4fb" stroke-width="1.1" />
<circle cx="512.3" cy="781.4" r="2.3" fill="#64a4fb" />
<circle cx="504.2" cy="800.9" r="2.3" fill="#64a4fb" />
<circle cx="512.5" cy="803.3" r="2.3" fill="#64a4fb" />
<circle cx="520.4" cy="800.9" r="2.3" fill="#64a4fb" />
<circle cx="504.2" cy="807.2" r="2.3" fill="#64a4fb" />
<circle cx="512.5" cy="811.0" r="2.3" fill="#64a4fb" />
<circle cx="520.4" cy="810.3" r="2.3" fill="#64a4fb" />
<circle cx="512.5" cy="821.7" r="2.3" fill="#64a4fb" />
<circle cx="520.4" cy="806.2" r="2.3" fill="#64a4fb" />
<line x1="537.4" y1="778.5" x2="563.0" y2="778.5" stroke="#f0787c" stroke-width="1.3" />
<line x1="550.4" y1="747.9" x2="550.4" y2="809.2" stroke="#f0787c" stroke-width="1.1" />
<line x1="544.0" y1="747.9" x2="557.1" y2="747.9" stroke="#f0787c" stroke-width="1.1" />
<line x1="544.0" y1="809.2" x2="557.1" y2="809.2" stroke="#f0787c" stroke-width="1.1" />
<path d="M550.1,707.3L552.4,711.1L547.9,711.1ZM550.1,721.1L552.4,724.9L547.9,724.9ZM550.1,747.7L552.4,751.5L547.9,751.5ZM546.6,753.9L548.9,757.8L544.4,757.8ZM553.9,752.8L556.1,756.6L551.6,756.6ZM546.6,759.2L548.9,763.0L544.4,763.0ZM553.9,758.3L556.1,762.1L551.6,762.1ZM546.6,765.3L548.9,769.1L544.4,769.1ZM553.9,766.4L556.1,770.2L551.6,770.2ZM539.6,771.4L541.9,775.2L537.4,775.2ZM546.6,774.0L548.9,777.8L544.4,777.8ZM553.9,773.4L556.1,777.2L551.6,777.2ZM560.9,771.2L563.1,775.0L558.6,775.0ZM550.1,779.5L552.4,783.3L547.9,783.3ZM550.1,785.0L552.4,788.8L547.9,788.8ZM550.1,790.9L552.4,794.8L547.9,794.8ZM546.6,805.8L548.9,809.6L544.4,809.6ZM553.9,802.9L556.1,806.8L551.6,806.8ZM546.6,811.3L548.9,815.1L544.4,815.1ZM553.9,809.7L556.1,813.5L551.6,813.5ZM546.6,820.0L548.9,823.8L544.4,823.8ZM553.9,820.5L556.1,824.3L551.6,824.3ZM546.6,824.0L548.9,827.8L544.4,827.8Z" fill="#f0787c"/>
</svg>
</body></html>
